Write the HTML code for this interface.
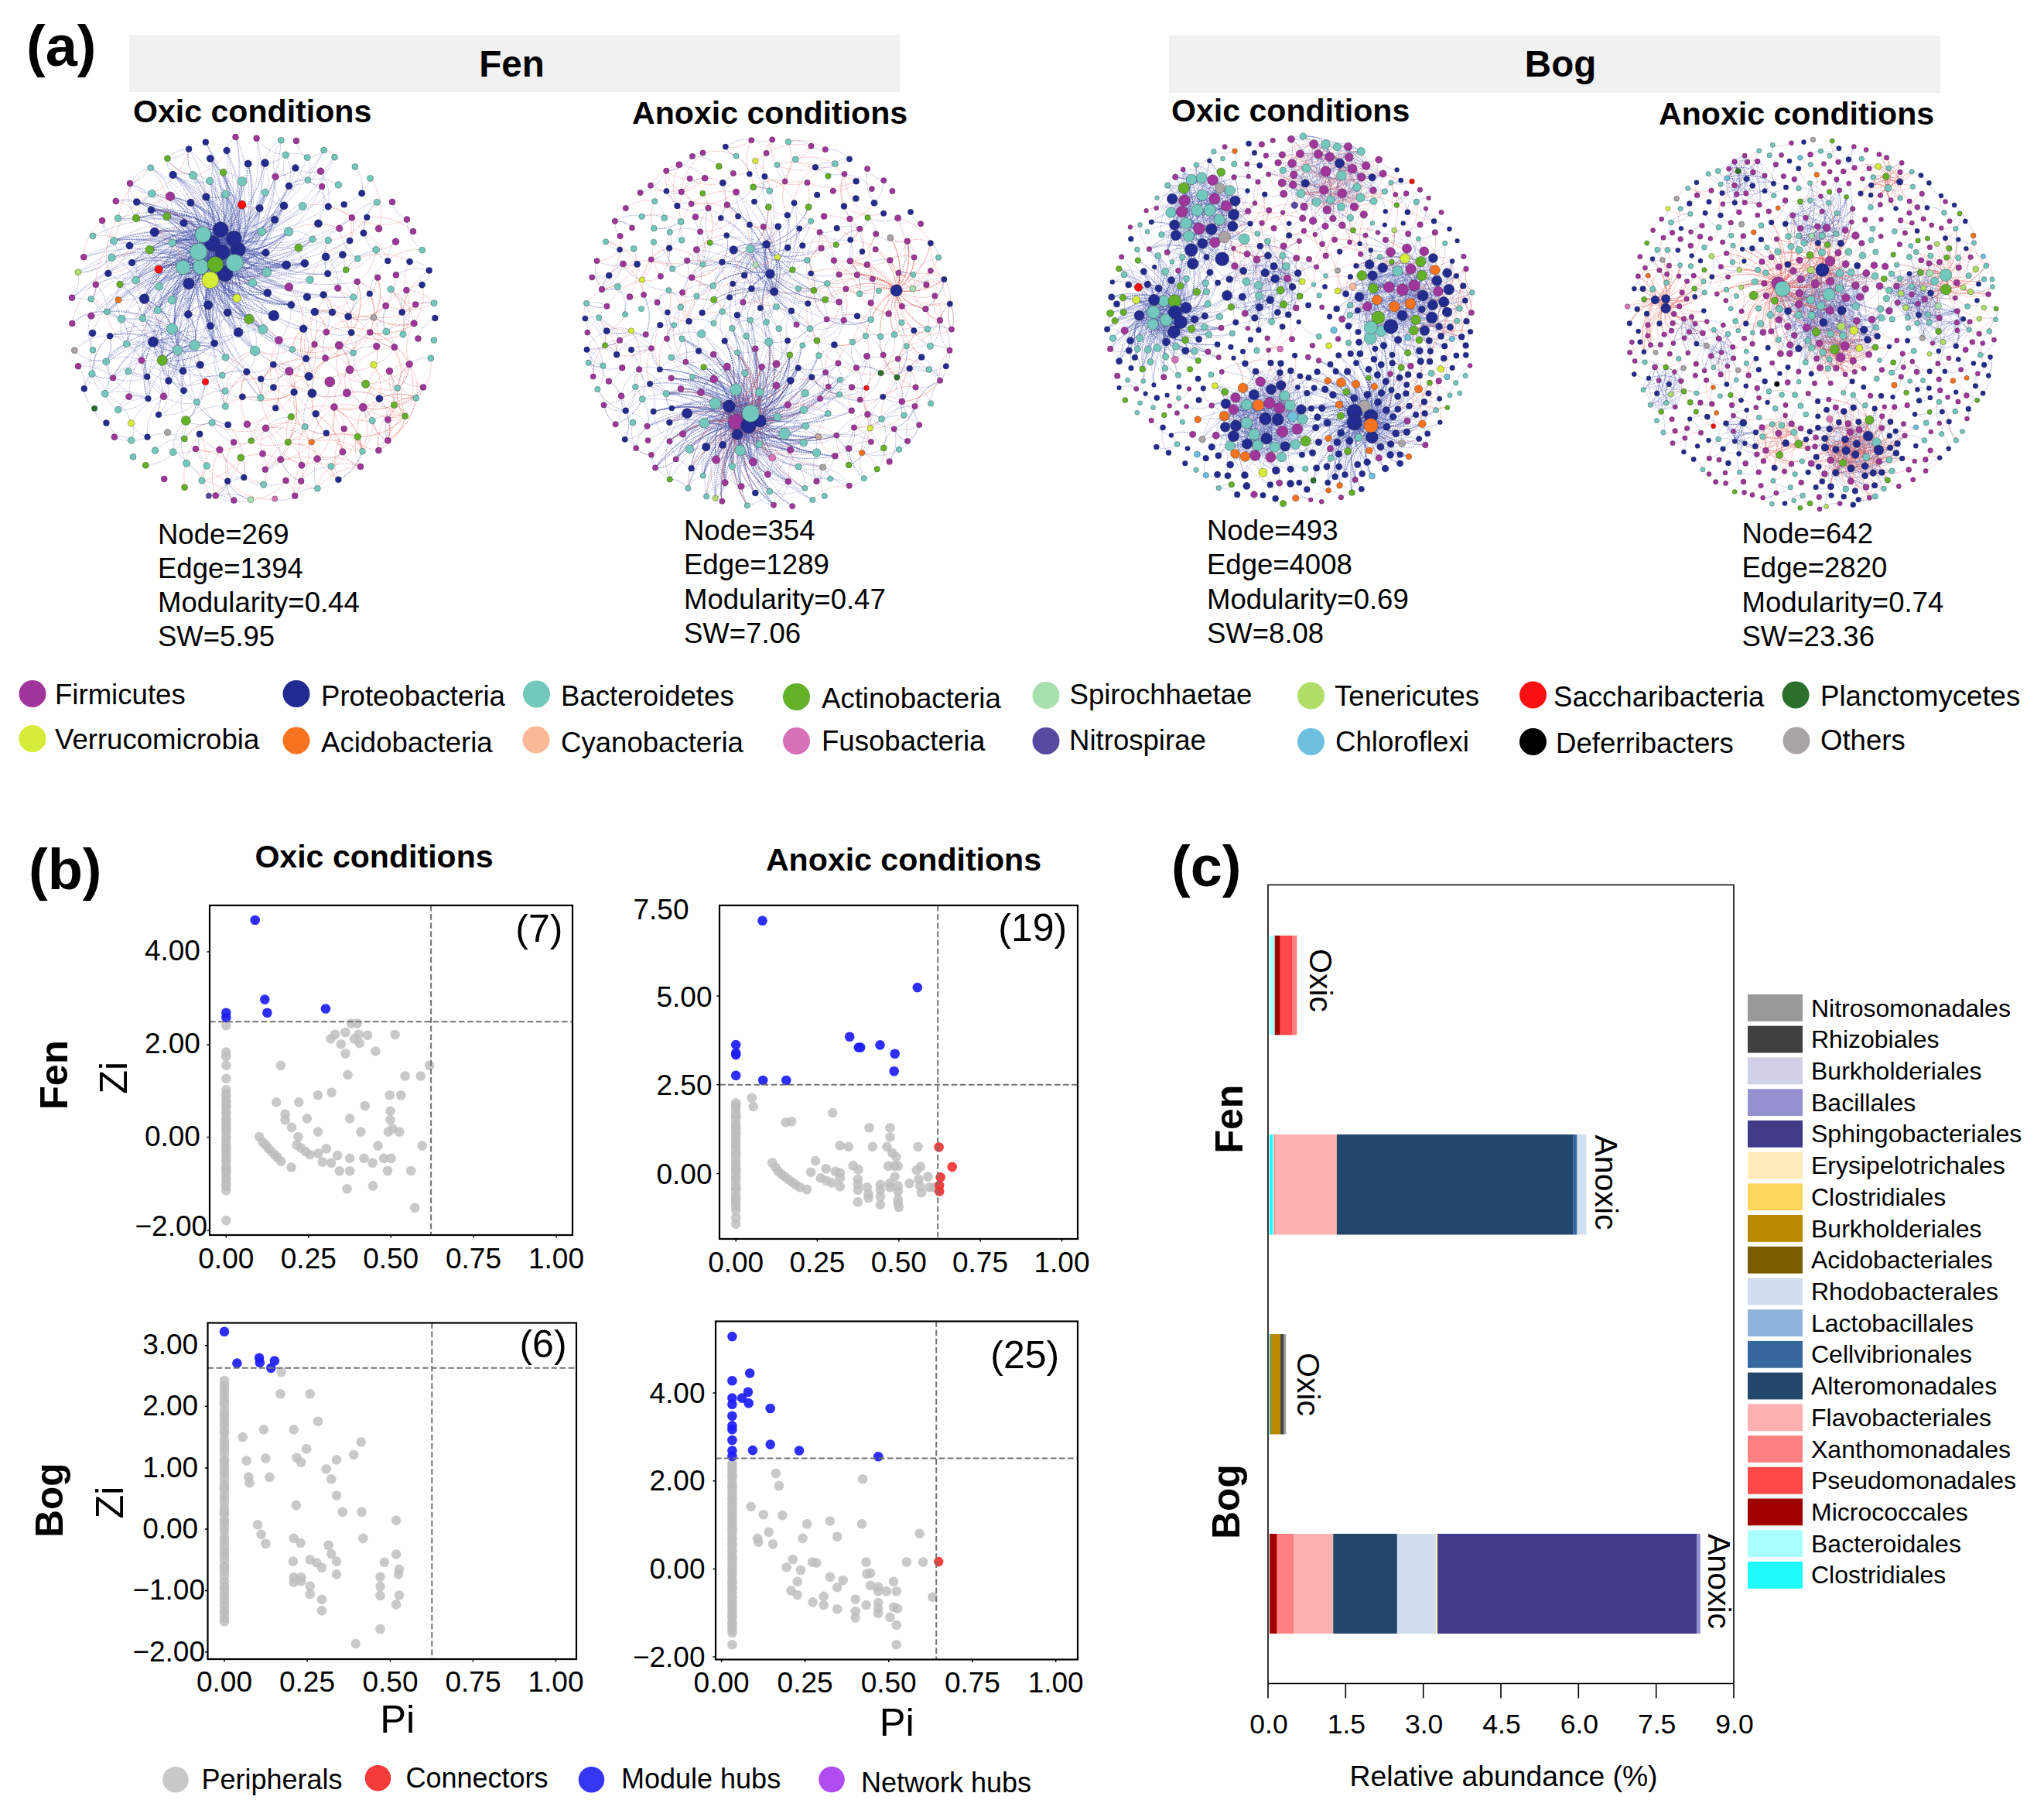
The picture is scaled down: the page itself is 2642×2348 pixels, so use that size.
<!DOCTYPE html>
<html><head><meta charset="utf-8"><title>Figure</title>
<style>
html,body{margin:0;padding:0;background:#fff;}
body{width:2642px;height:2348px;overflow:hidden;}
svg{display:block;font-family:"Liberation Sans", sans-serif;}
text{font-family:"Liberation Sans", sans-serif;}
</style></head><body>
<svg width="2642" height="2348" viewBox="0 0 2642 2348">
<rect width="2642" height="2348" fill="#fff"/>
<text x="34" y="85" font-size="74" font-weight="bold">(a)</text>
<rect x="167.0" y="45.0" width="996.0" height="74.0" fill="#f1f1f1" />
<rect x="1511.0" y="46.0" width="997.0" height="74.0" fill="#f1f1f1" />
<text x="661.5" y="99" font-size="47.5" font-weight="bold" text-anchor="middle">Fen</text>
<text x="2017" y="99.3" font-size="47.5" font-weight="bold" text-anchor="middle">Bog</text>
<text x="172" y="157.5" font-size="41.1" font-weight="bold">Oxic conditions</text>
<text x="817" y="159.5" font-size="41.1" font-weight="bold">Anoxic conditions</text>
<text x="1514" y="157" font-size="41.1" font-weight="bold">Oxic conditions</text>
<text x="2144" y="160.5" font-size="41.1" font-weight="bold">Anoxic conditions</text>
<text x="204" y="702.5" font-size="36.5">Node=269</text>
<text x="204" y="746.8" font-size="36.5">Edge=1394</text>
<text x="204" y="791.1" font-size="36.5">Modularity=0.44</text>
<text x="204" y="835.4" font-size="36.5">SW=5.95</text>
<text x="884" y="698.0" font-size="36.5">Node=354</text>
<text x="884" y="742.3" font-size="36.5">Edge=1289</text>
<text x="884" y="786.6" font-size="36.5">Modularity=0.47</text>
<text x="884" y="830.9" font-size="36.5">SW=7.06</text>
<text x="1560" y="698.0" font-size="36.5">Node=493</text>
<text x="1560" y="742.3" font-size="36.5">Edge=4008</text>
<text x="1560" y="786.6" font-size="36.5">Modularity=0.69</text>
<text x="1560" y="830.9" font-size="36.5">SW=8.08</text>
<text x="2251.5" y="702.0" font-size="36.5">Node=642</text>
<text x="2251.5" y="746.3" font-size="36.5">Edge=2820</text>
<text x="2251.5" y="790.6" font-size="36.5">Modularity=0.74</text>
<text x="2251.5" y="834.9" font-size="36.5">SW=23.36</text>
<circle cx="42.0" cy="896.5" r="17.5" fill="#a0369b" />
<text x="71" y="910" font-size="36.6">Firmicutes</text>
<circle cx="383.0" cy="896.5" r="17.5" fill="#222b8f" />
<text x="415" y="912" font-size="36.6">Proteobacteria</text>
<circle cx="693.5" cy="897.0" r="17.5" fill="#72c8bd" />
<text x="725" y="912" font-size="36.6">Bacteroidetes</text>
<circle cx="1029.5" cy="900.5" r="17.5" fill="#63b127" />
<text x="1062" y="914.5" font-size="36.6">Actinobacteria</text>
<circle cx="1352.0" cy="898.5" r="17.5" fill="#a8e0b0" />
<text x="1382.5" y="909.5" font-size="36.6">Spirochhaetae</text>
<circle cx="1694.5" cy="899.0" r="17.5" fill="#b0dd68" />
<text x="1725" y="912" font-size="36.6">Tenericutes</text>
<circle cx="1981.5" cy="898.0" r="17.5" fill="#fa1010" />
<text x="2008" y="912.5" font-size="36.6">Saccharibacteria</text>
<circle cx="2321.0" cy="898.0" r="17.5" fill="#2a6f2a" />
<text x="2353" y="911.5" font-size="36.6">Planctomycetes</text>
<circle cx="42.0" cy="954.5" r="17.5" fill="#d6ec38" />
<text x="71" y="968" font-size="36.6">Verrucomicrobia</text>
<circle cx="383.0" cy="957.0" r="17.5" fill="#f77320" />
<text x="415" y="971.5" font-size="36.6">Acidobacteria</text>
<circle cx="693.0" cy="956.0" r="17.5" fill="#fbb896" />
<text x="725" y="971.5" font-size="36.6">Cyanobacteria</text>
<circle cx="1029.5" cy="957.5" r="17.5" fill="#d772b8" />
<text x="1062" y="970" font-size="36.6">Fusobacteria</text>
<circle cx="1352.0" cy="957.5" r="17.5" fill="#564aa0" />
<text x="1382" y="969" font-size="36.6">Nitrospirae</text>
<circle cx="1694.5" cy="958.5" r="17.5" fill="#6cc0de" />
<text x="1726" y="971" font-size="36.6">Chloroflexi</text>
<circle cx="1981.5" cy="958.5" r="17.5" fill="#000000" />
<text x="2011" y="973" font-size="36.6">Deferribacters</text>
<circle cx="2322.0" cy="957.0" r="17.5" fill="#aaa4a4" />
<text x="2353" y="969" font-size="36.6">Others</text>
<path d="M303 340q0 51 37 86M257 325q41-18 56-61M275 315q-12 23-3 47M302 308q-51 36-59 98M262 303q41-23 51-69M285 297q18 40 60 54M302 308q-19 12-24 34M302 308q-72-13-131 31M278 342q-7-13-21-17M259 345q-10 41 13 76M288 326q-30-2-51 19M288 326q-19 3-29 19M291 354q46-64 30-142M257 325q-52-31-110-14M288 326q-9 6-10 16M275 315q33 62 101 79M285 297q-13 21-7 45M259 345q37-40 33-94M291 354q-47-11-86 16M262 303q-9-13-25-15M302 308q-27 20-30 54M308 323q-55 49-56 123M275 315q9-32-9-61M272 362q-10-53-56-82M262 303q-30-15-62-3M257 325q-31 0-52 23M272 362q3 42 36 68M278 342q-33-63-101-81M259 345q23 7 44-5M291 354q-25-16-54-9M288 326q4 10 15 14M291 354q-66 5-107 57M308 323q38 2 65-24M272 362q14 36 50 50M259 345q17 47 63 67M308 323q26-21 28-54M257 325q41-18 56-61M303 340q-32 59-11 122M259 345q55-21 77-76M308 323q38 2 65-24M303 340q-11-52-57-78M302 308q-7 16 1 32M259 345q51-44 54-111M257 325q77-17 116-85M288 326q-16 14-16 36M308 323q-69-34-141-6M262 303q13 2 23-6M257 325q-49 0-82 37M259 345q-28 13-37 43M288 326q50 30 106 14M275 315q-60 16-89 71M275 315q-26-12-52-1M303 340q-23-61-83-86M308 323q-45-51-112-52M302 308q-45-42-106-37M259 345q-11-23-36-31M303 340q-34-31-80-26M272 362q11 0 19-8M262 303q35 30 81 24M303 340q-8-19-28-25M303 340q-9 4-12 14M272 362q-30-61-96-80M285 297q0-26-19-43M308 323q-41-23-85-9M308 323q42-16 59-57M308 323q-19 3-30 19M278 342q38 48 98 52M302 308q-41 4-65 37M288 326q52-46 54-115M257 325q19 69 83 101M275 315q49-18 68-66M262 303q52-9 81-54M291 354q42 11 79-12M257 325q-16 18-13 42M285 297q7-35-14-63M291 354q-37-72-114-93M303 340q-51 6-81 48M291 354q5-15-3-28M291 354q-57-34-120-15M259 345q-32 1-54 25M272 362q39 11 73-11M272 362q-45-34-101-23M308 323q-19 3-30 19M272 362q-16 42 5 82M257 325q26 1 45-17M259 345q-43-22-88-6M275 315q-30-39-79-44M303 340q-13-4-25 2M308 323q-19 3-30 19M259 345q80 14 145-36M278 342q13-21 7-45M259 345q69 27 135-5M259 345q-46 4-73 41M291 354q-42 2-69 34M303 340q44 33 98 22M278 342q57-1 95-43M262 303q56 22 111-4M278 342q11-64-28-115M302 308q32 0 53-24M285 297q24 69 91 97M285 297q57 32 119 12M288 326q-47 16-66 62M302 308q-40 50-30 113M291 354q46-64 30-142M302 308q-82 26-118 103M275 315q16-41-4-81M272 362q69-27 95-96M308 323q-15-11-33-8M285 297q-52 32-63 91M262 303q-22 16-25 42M262 303q-49 68-32 150M272 362q-25-71-95-101M308 323q-29 0-49 22M308 323q12 22 37 28M303 340q-23-7-44 5M291 354q-14-66-71-100M257 325q44 61 119 69M275 315q2 59 47 97M285 297q-2-43-35-70M303 340q14-47-11-89M259 345q3 11 13 17M278 342q-48 45-48 111M308 323q-58-25-115 0M291 354q46-64 30-142M308 323q15-28 5-59M291 354q-8 42 17 76M308 323q-15-11-33-8M285 297q26 13 53 2M285 297q-52 32-63 91M259 345q56 23 111-3M302 308q22-35 11-74M302 308q-30 9-43 37M275 315q-34-24-75-15M291 354q10-30-6-57M278 342q19-3 30-19M285 297q-15-49-61-71M288 326q-47-22-95-3M302 308q22 47 71 63M275 315q8 19 28 25M308 323q8-67-36-118M262 303q35 30 81 24M278 342q-1-70-54-116M275 315q-60 2-100 47M285 297q-51-31-109-15M288 326q29 53 88 68M291 354q-63-53-144-43M257 325q13 58 65 87M303 340q7-16-1-32M302 308q-40 50-30 113M302 308q-30 9-43 37M257 325q57-42 64-113M262 303q-10-34-42-49M278 342q-21-26-55-28M291 354q-12-45-54-66M291 354q47-21 64-70M275 315q54 39 119 25M262 303q-49 68-32 150M291 354q22 25 55 25M308 323q-42 54-31 121M291 354q28 10 54-3M275 315q9-7 10-18M278 342q-7-13-21-17M272 362q1-22-15-37M262 303q58 48 132 37M257 325q30 63 97 83M272 362q-31-37-79-39M285 297q-63-37-132-15M272 362q-16 42 5 82M303 340q22-36 10-76M257 325q-42 58-27 128M278 342q-17-45-62-62M308 323q-40-5-71 22M272 362q-25-71-95-101M308 323q-40 41-36 98M285 297q45 45 109 43M302 308q-35 36-33 86M278 342q13-21 7-45M259 345q24-44 7-91M308 323q-75 5-122 63M302 308q-6-35-36-54M285 297q0 25 18 43M262 303q-26-31-66-32M259 345q2-33-22-57M275 315q-50 44-52 110M262 303q-51 36-58 98M288 326q-28 69 4 136M257 325q18-51-7-98M308 323q-42 54-31 121M302 308q-16 21-11 46M288 326q15 56 66 82M262 303q13 2 23-6M278 342q61-18 89-76M272 362q-24 16-29 44M275 315q-6-56-51-89M257 325q-14 51 15 96M278 342q2-47-32-80M275 315q23-28 17-64M272 362q27-20 30-54M303 340q-51 6-81 48M272 362q66 16 122-22M272 362q33 25 74 17M288 326q23-51 1-103M278 342q-21-26-55-28M278 342q-50 13-74 59M288 326q-4 33 18 59M259 345q3-10-2-20M308 323q-78-41-161-12M272 362q-10-53-56-82M262 303q19 11 40 5M259 345q51 38 114 26M291 354q1 19 15 31M272 362q27-12 36-39M278 342q27-70-6-137M278 342q13 56 62 84M257 325q-19-40-61-54M303 340q-13-4-25 2M291 354q66 2 113-45M308 323q-29-54-88-69M308 323q-29 0-49 22M259 345q-28-10-54 3M291 354q-54 4-87 47M259 345q15 30 47 40M275 315q69 1 116-49M308 323q-28-33-71-35M285 297q47-30 57-86M308 323q40 16 78-3M257 325q-36 11-52 45M308 323q7 36 38 56M262 303q4 51 44 82M288 326q48 5 85-27M257 325q1 48 37 79M278 342q-1-70-54-116M278 342q-10-3-19 3M302 308q-27 20-30 54M291 354q53-9 82-55M302 308q-57-41-126-26M257 325q20-34 9-71M302 308q-62 10-97 62M278 342q4 9 13 12M303 340q-35 1-59 27M257 325q5-57-33-99M275 315q4 8 13 11M257 325q46 5 81-26M308 323q-51 27-65 83M308 323q-40 41-36 98M259 345q-32 1-54 25M291 354q-47-11-86 16M288 326q-19 3-29 19M262 303q25 56 84 76M259 345q15 30 47 40M303 340q-59 25-80 85M302 308q16 19 41 19M275 315q-26 7-38 30M291 354q28 10 54-3M302 308q42-7 65-42M275 315q-42 1-70 33M262 303q4 51 44 82M285 297q-45 45-42 109M257 325q15 7 31 1M285 297q18 40 60 54M285 297q45 45 109 43M257 325q26 1 45-17M275 315q-15 11-16 30M259 345q-28-10-54 3M302 308q-11 6-14 18M259 345q-28-50-83-63M308 323q12-54-19-100M278 342q36 7 65-15M257 325q46 5 81-26M285 297q-66-4-114 42M288 326q-59-31-121-9M302 308q-30 9-43 37M308 323q-28-33-71-35M308 323q-45-51-112-52M303 340q-14-74-79-114M288 326q-4 33 18 59M303 340q-17 46 5 90M308 323q-42 8-64 44M262 303q8 17 26 23M272 362q-3-11-13-17M262 303q-10-34-42-49M272 362q-13 30 0 59M308 323q-45-51-112-52M291 354q16-21 11-46M291 354q34 39 85 40M275 315q-24 77 17 147M262 303q44-1 74-34M272 362q-14-16-35-17M257 325q30 63 97 83M288 326q12-50-17-92M275 315q15 36 52 50M259 345q10 3 19-3M308 323q8-67-36-118M257 325q57-42 64-113M259 345q14 12 32 9M275 315q31 21 68 12M259 345q61-9 96-61M259 345q-46 4-73 41M291 354q1 19 15 31M272 362q21-55-6-108M262 303q45 43 108 39M272 362q-13 30 0 59M291 354q10-56-25-100M278 342q2-47-32-80M303 340q32-28 33-71M275 315q-30-39-79-44M259 345q71-16 108-79M272 362q33 25 74 17M302 308q39 36 92 32M302 308q-41-14-79 6M285 297q48 3 82-31M302 308q8-58-30-103M302 308q0 9 6 15M288 326q5-15-3-29M285 297q-24 18-26 48M302 308q27 32 68 34M278 342q-38 11-56 46M302 308q-29-45-82-54M275 315q-42-38-99-33M285 297q-19 55 9 107M288 326q50 19 98-6M259 345q-55-31-115-12M262 303q4 9 13 12M272 362q1-22-15-37M272 362q27 58 88 78M262 303q-2-47-38-77M288 326q-54 35-65 99M259 345q50-6 79-46M285 297q-5 15 3 29M291 354q57-27 76-88M308 323q-75-10-133 39M288 326q48 5 85-27M291 354q36-17 47-55M278 342q-7-13-21-17M262 303q19 20 46 20M288 326q-16 14-16 36M302 308q-72-13-131 31M259 345q19-3 29-19M285 297q-22-15-48-9M285 297q-31-24-69-17M308 323q-35 27-39 71M275 315q7-50-25-88M308 323q-18-44-62-61M259 345q51-44 54-111M257 325q-14 6-20 20M291 354q28 10 54-3M302 308q-7 16 1 32M275 315q60-26 81-87M262 303q-10-34-42-49M288 326q29 53 88 68M262 303q-32 47-19 103M285 297q21-10 28-33M302 308q-11 6-14 18M262 303q3 32 29 51M303 340q6-7 5-17M278 342q41 35 95 29M272 362q1-22-15-37M302 308q-13 56 20 104M259 345q29 0 49-22M262 303q25 56 84 76M308 323q15-28 5-59M272 362q42-40 41-98M288 326q53-13 79-60M288 326q11 28 39 39M308 323q-6-18-23-26M278 342q-25-54-82-71M291 354q5-15-3-28M288 326q-38-32-88-26M288 326q15 56 66 82M259 345q23 7 44-5M285 297q-18 72 23 133M259 345q63-30 84-96M302 308q-19 12-24 34M285 297q48 3 82-31M288 326q11-6 14-18M257 325q68-5 110-59M259 345q-43-22-88-6M262 303q35 30 81 24M259 345q63-30 84-96M285 297q-51-31-109-15M308 323q-19 3-30 19M288 326q-58 19-84 75M272 362q8-32-10-59M303 340q-34-31-80-26M303 340q51-44 53-112M278 342q-59-44-131-31M272 362q27-20 30-54M262 303q-26-31-66-32M308 323q-69 16-104 78M257 325q27-42 14-91M285 297q21-10 28-33M291 354q60-49 65-126M259 345q45-29 54-81M262 303q4 51 44 82M275 315q7-50-25-88M302 308q-68 57-72 145M288 326q-5 15 3 28M291 354q3 36 31 58M308 323q-41-23-85-9M259 345q80-27 114-105M308 323q-57-10-103 25M275 315q-1 23 16 39M308 323q-6 7-5 17M308 323q-40-5-71 22M303 340q-19 30-9 64M272 362q-30-61-96-80M259 345q56 23 111-3M259 345q12-44-13-83M257 325q68-38 85-114M302 308q31 59 95 76M302 308q4 61 52 100M278 342q35-31 35-78M303 340q-20 4-31 22M262 303q-26-31-66-32M288 326q-54 35-65 99M285 297q-35-5-62 17M257 325q52-11 79-56M291 354q-11 0-19 8M278 342q4 9 13 12M278 342q-50 13-74 59M262 303q-68 8-107 64M275 315q-54-23-108 2M303 340q-22-41-66-52M303 340q-4-10-15-14M302 308q1-44-31-74M262 303q6 68 60 109M272 362q-9 15-3 32M272 362q-13 30 0 59M291 354q-42-22-86-6M257 325q-2-23-20-37M291 354q-35 15-48 52M285 297q-19 55 9 107M291 354q-3-32-29-51M275 315q-1 23 16 39M257 325q53 33 113 17M303 340q19-62-14-117M288 326q-31 11-44 41M291 354q-4-9-13-12M291 354q53 28 110 8M262 303q13 2 23-6M308 323q7 36 38 56M259 345q-23-60-82-84M308 323q-7 59 32 103M291 354q16-21 11-46M308 323q8-67-36-118M288 326q-34-48-92-55M303 340q25 43 73 54M259 345q12-44-13-83M308 323q-7 59 32 103M275 315q-60 16-89 71M303 340q13 29 43 39M291 354q-11-22-34-29M288 326q23 25 57 25M285 297q-12 88 45 156M302 308q-40 50-30 113M257 325q20 18 46 15M303 340q14-47-11-89M303 340q-4-10-15-14M259 345q-28-10-54 3M308 323q-41-23-85-9M303 340q-51-18-98 8M308 323q-49-35-108-23M272 362q64-9 101-63M257 325q38 32 88 26M308 323q22 38 65 48M262 303q34-8 51-39M262 303q-49 68-32 150M285 297q-12-26-39-35M259 345q80-27 114-105M288 326q50 30 106 14M262 303q-6 58 32 101M303 340q46 20 91 0M302 308q4 61 52 100M288 326q23 25 57 25M308 323q-41-23-85-9M291 354q-34-47-91-54M259 345q3 11 13 17M259 345q-46-10-84 17M285 297q-52-7-92 26M285 297q-66-4-114 42M285 297q-23-36-65-43M259 345q-6 27 10 49M291 354q-66 5-107 57M259 345q15-11 16-30M308 323q-19-20-46-20M285 297q-69 8-110 65M262 303q45 43 108 39M291 354q-10 26 3 50M291 354q-42-22-86-6M278 342q-21-8-41 3M262 303q19 11 40 5M288 326q-47 16-66 62M262 303q12 79 78 123M272 362q21-30 13-65M291 354q1-23-16-39M288 326q-5 15 3 28M272 362q11 0 19-8M291 354q-50 21-68 71M272 362q-38 21-49 63M272 362q-24 16-29 44M259 345q-13 53 18 99M259 345q15 30 47 40M262 303q-22-3-39 11M278 342q-22 5-34 25M275 315q37 50 98 56M288 326q48 5 85-27M291 354q47-21 64-70M275 315q-4 14 3 27M303 340q14-47-11-89M308 323q-8-61-58-96M259 345q80-27 114-105M288 326q37 26 82 16M262 303q25 56 84 76M308 323q39 27 86 17M288 326q37 26 82 16M272 362q14 36 50 50M272 362q34-51 20-111M308 323q-65 32-85 102M278 342q5 28 28 43M275 315q54 39 119 25M257 325q64 13 116-26M272 362q-31-37-79-39M291 354q22 25 55 25M308 323q22 38 65 48M278 342q-46 29-55 83M308 323q-18-44-62-61M257 325q-14 51 15 96M303 340q-20 4-31 22M308 323q-81 17-124 88M278 342q9-6 10-16M302 308q-35 36-33 86M275 315q-43-14-82 8M262 303q-18-22-46-23M285 297q-9 49 21 88M302 308q-19 12-24 34M308 323q31-53 13-111M291 354q-23 54 1 108M272 362q-31 2-50 26M303 340q-69-17-128 22M259 345q29 0 49-22M257 325q43 20 86 2M288 326q-47 16-66 62M259 345q-28-10-54 3M288 326q-5 15 3 28M257 325q43 20 86 2M262 303q73 10 129-37M272 362q12-23 3-47M262 303q-21 61 10 118M302 308q-27 20-30 54M272 362q9-56-26-100M285 297q-24 18-26 48M302 308q-42 17-58 59M259 345q48 50 117 49M262 303q-63 37-78 108M272 362q-55 5-88 49M288 326q-34-48-92-55M272 362q-22-47-72-62M257 325q-3 10 2 20M275 315q2 59 47 97M278 342q-16 24-9 52M257 325q-55 27-73 86M302 308q-58 22-80 80M291 354q1-23-16-39M303 340q0 51 37 86M259 345q-21 27-16 61M272 362q9 58 58 91M262 303q56 22 111-4M308 323q-19-20-46-20M257 325q34-57 15-120M278 342q19-12 24-34M262 303q-56 25-76 83M303 340q27-13 35-41M278 342q-32 24-35 64M288 326q-34-48-92-55M302 308q-26-1-45 17M308 323q20-5 30-24M302 308q-51 36-59 98M308 323q-25 37-14 81M257 325q26 1 45-17M302 308q-51 36-59 98M308 323q-45-51-112-52M302 308q16 19 41 19M272 362q43-2 71-35M275 315q-71 0-120 52M291 354q9-4 12-14M272 362q-16 42 5 82M275 315q15 81 85 125M302 308q-45-42-106-37M259 345q-46-10-84 17M302 308q6 45 44 71M259 345q-43-22-88-6M285 297q18-36 4-74M278 342q9-6 10-16M272 362q42-40 41-98M272 362q-25-71-95-101M257 325q-14 6-20 20M278 342q-7 9-6 20M303 340q19 15 42 11M275 315q9-32-9-61M259 345q-55-31-115-12M262 303q3 32 29 51M257 325q8-34-11-63M259 345q36 36 87 34M272 362q-30-22-67-14M259 345q30 25 68 20M302 308q-51 36-59 98M302 308q16 19 41 19M302 308q-42 62-25 136M303 340q6 18 24 25M308 323q-6-44-42-69M308 323q-13 48 14 89M278 342q53-32 65-93M302 308q-41 4-65 37M303 340q-14-74-79-114M275 315q-63-30-128-4M262 303q-8 32 10 59M303 340q-51 6-81 48M278 342q-46 29-55 83M308 323q-19-20-46-20M285 297q-5 15 3 29M275 315q-4 14 3 27M278 342q19-3 30-19M262 303q-56 25-76 83M308 323q-41-23-85-9M278 342q-50-37-111-25M303 340q-63 9-99 61M302 308q12 31 43 43M285 297q-21 30-13 65M257 325q20 18 46 15M257 325q-3-44-37-71M291 354q-11-22-34-29M275 315q-34-24-75-15M257 325q-3 10 2 20M308 323q-29 0-49 22M272 362q14 36 50 50M275 315q57-4 92-49M288 326q-5 15 3 28M285 297q14-21 7-46M257 325q11 22 34 29M262 303q70 34 142 6M302 308q33-20 41-59M272 362q-31 2-50 26M288 326q-46-47-112-44M303 340q7-60-32-106M278 342q-7-13-21-17M291 354q-2 58 39 99M302 308q-41-14-79 6M288 326q-2 50 34 86M259 345q14 12 32 9M285 297q33 41 85 45M275 315q-1 23 16 39M288 326q5-15-3-29M303 340q-8 23 3 45M259 345q34 52 95 63M257 325q-3 10 2 20M275 315q31 21 68 12M257 325q-16 18-13 42M275 315q35 6 63-16M262 303q-24 74 15 141M285 297q-20 8-28 28M272 362q-9 15-3 32M302 308q-15 39 4 77M259 345q34 52 95 63M275 315q-9 65 33 115M303 340q-30-49-87-60M272 362q-30-22-67-14M288 326q-29 44-16 95M303 340q-34-12-66 5M302 308q-6-9-17-11M257 325q11-1 18-10M303 340q-51 6-81 48M288 326q27 13 55 1M308 323q-29 0-49 22M291 354q22 25 55 25M285 297q-36 26-41 70M259 345q19-3 29-19M275 315q-25-50-79-65M262 303q31-34 27-80M288 326q-30-2-51 19M285 297q-22-15-48-9M285 297q-66-4-114 42M285 297q-24 18-26 48M259 345q2-33-22-57M272 362q43-2 71-35M302 308q-15-2-27 7M272 362q64-9 101-63M262 303q4 51 44 82M291 354q-63-53-144-43M288 326q18-37 4-75M288 326q4 61 52 100M285 297q28-25 28-63M259 345q48 50 117 49M303 340q-63 9-99 61M275 315q-1 23 16 39M275 315q-22-30-59-35M291 354q55 16 103-14M259 345q3-10-2-20M275 315q4 8 13 11M303 340q-80-19-148 27M285 297q-52-7-92 26M303 340q-51-18-98 8M302 308q27 32 68 34M302 308q-19-11-40-5M302 308q27 32 68 34M272 362q12-23 3-47M308 323q-51 27-65 83M262 303q-38-29-86-21M291 354q34 39 85 40M285 297q-29 45-16 97M278 342q5 28 28 43M272 362q-14-35-49-48M303 340q38-17 52-56M272 362q1-22-15-37M285 297q-72-23-138 14M257 325q-52-31-110-14M259 345q-28 13-37 43M303 340q-11-52-57-78M278 342q32 19 67 9M272 362q-2-65-52-108M278 342q-23 51-1 102M303 340q-4-10-15-14M285 297q-52-7-92 26M259 345q11-20 3-42M275 315q19 64 79 93M302 308q-24 62 6 122M272 362q35-78 0-157M285 297q40-11 58-48M303 340q-4-10-15-14M278 342q4 9 13 12M257 325q48-33 56-91M278 342q5 28 28 43M308 323q32-9 47-39M259 345q-40 16-55 56M272 362q-13 30 0 59M308 323q-15 12-17 31M285 297q-51-31-109-15M302 308q16 19 41 19M291 354q10-56-25-100M272 362q27-12 36-39M262 303q-17 47 7 91M302 308q16 19 41 19M308 323q-57 14-86 65M308 323q-65 32-85 102M291 354q9-4 12-14M285 297q0-26-19-43M257 325q53 33 113 17M278 342q-9-36-41-54M288 326q11-6 14-18M257 325q15 7 31 1M278 342q-30-38-78-42M257 325q-3-44-37-71M302 308q-49-26-102-8M302 308q-30 9-43 37M257 325q-43 26-53 76M278 342q-22 5-34 25M308 323q-40-5-71 22M291 354q32-2 52-27M291 354q16-21 11-46M262 303q19 45 65 62M257 325q-43 26-53 76M291 354q55 4 95-34M275 315q2 59 47 97M262 303q41 58 111 68M285 297q-9 7-10 18M288 326q-10-64-64-100M291 354q10-30-6-57M285 297q51-19 71-69M291 354q-11 0-19 8M272 362q-45-34-101-23M308 323q-58-25-115 0M257 325q-31 24-35 63M308 323q15-28 5-59M288 326q-58 19-84 75M262 303q13 2 23-6M285 297q-69 23-99 89M302 308q-11 6-14 18M275 315q8 70 65 111M308 323q-26-10-51 2M259 345q23 58 81 81M272 362q-15-4-28 5M302 308q-57-1-97 40M275 315q15 36 52 50M262 303q4 51 44 82M262 303q13-24 4-49M303 340q-49 42-51 106M288 326q-76-9-133 41M262 303q-99 32-143 127M302 308q42-7 65-42M302 308q-15-2-27 7M259 345q-6 27 10 49M272 362q-65-13-119 26M262 303q19 90 98 137M303 340q50-74 29-161M275 315q76 75 182 69M302 308q-40-52-106-58M302 308q37 11 71-9M285 297q57 59 139 57M288 326q-110-13-195 59M303 340q-23 74 16 141M302 308q82 20 153-27M302 308q-106 56-136 172M308 323q8-40-16-72M303 340q-46-67-126-79M302 308q27 32 68 34M257 325q-55 46-59 117M275 315q-47 12-70 55M302 308q-75-1-127 54M302 308q-11 6-14 18M275 315q23-28 17-64M257 325q44 61 119 69M291 354q-42-37-98-31M272 362q28-64-1-128M288 326q53-13 79-60M285 297q-88 62-102 169M262 303q-11 20-3 42M272 362q69 42 146 19M303 340q78-25 113-99M288 326q-58 19-84 75M257 325q47-57 36-130M259 345q-11-5-22 0M303 340q-86-9-150 48M303 340q-78-38-159-7M262 303q-56 10-87 59M291 354q-87-51-183-22M308 323q-6-44-42-69M288 326q-41-57-111-65M262 303q-72-2-122 50M275 315q-43 75-16 157M272 362q-15-4-28 5M278 342q80 17 146-31M259 345q-15-51-63-74M262 303q-51-14-95 14M308 323q12 22 37 28M272 362q-67 32-89 104M262 303q102 6 175-64M302 308q-51 36-59 98M259 345q-20-35-59-45M308 323q-21-67-84-97M302 308q72-8 114-67M278 342q-21-8-41 3M288 326q-91-37-180 6M275 315q45-62 30-138M259 345q80 14 145-36M257 325q101 36 195-14M302 308q-49 96-11 197M278 342q-91-34-177 10M308 323q-29-54-88-69M285 297q-12-26-39-35M291 354q7-73-41-127M288 326q54-64 44-147M275 315q83 66 187 49M288 326q5-41-22-72M257 325q33 90 121 126M288 326q-92 6-150 77M275 315q-25-50-79-65M291 354q34 39 85 40M291 354q-54 51-54 125M291 354q-20 15-22 40M278 342q9-6 10-16M291 354q28 78 105 110M278 342q13 56 62 84M259 345q15 30 47 40M288 326q48 5 85-27M308 323q83 11 147-42M262 303q-4 110 75 187M272 362q81 18 149-30M262 303q-7 10-5 22M272 362q52-32 64-93M262 303q15-59-18-110M308 323q-75 5-122 63M262 303q12 28 41 37M259 345q28 93 115 135M278 342q80-40 104-125M303 340q37 43 94 44M285 297q36-56 20-120M262 303q61 73 156 78M272 362q-24-85-104-125M308 323q39 27 86 17M275 315q27-43 14-92M288 326q50 19 98-6M257 325q53 33 113 17M302 308q58-50 61-127M259 345q100-41 138-142M262 303q-62 70-52 163M262 303q20-33 9-69M288 326q-103 4-170 82M288 326q-71 20-104 85M262 303q-15-58-67-86M275 315q79 55 172 34M303 340q-96-5-165 63M272 362q-3 70 47 119M275 315q-60 16-89 71M278 342q2 67 52 111M291 354q25-90-25-170M262 303q19 45 65 62M308 323q-26-10-51 2M257 325q-25-64-89-88M288 326q-98-7-170 60M291 354q58 56 139 50M285 297q55 104 169 133M291 354q41-33 45-85M259 345q-52 35-61 97M259 345q80-27 114-105M285 297q-62 66-55 156M275 315q8 19 28 25M288 326q-31 57-11 118M302 308q-15 39 4 77M278 342q29-82-12-158M303 340q13 72 75 111M257 325q1 48 37 79M278 342q1-23-16-39M272 362q-13 30 0 59M262 303q34-8 51-39M262 303q-47-46-112-43M257 325q26 1 45-17M285 297q76 16 139-30M288 326q-2 50 34 86M308 323q-24 54 0 107M308 323q-78-41-161-12M303 340q-51-18-98 8M262 303q-38 10-57 45M259 345q36 79 119 106M303 340q-11 62 27 113M303 340q-47 90-12 185M278 342q-7 9-6 20M259 345q-6 27 10 49M285 297q-36 26-41 70M302 308q20-58-9-113M302 308q89-24 131-105M288 326q-10-64-64-100M285 297q-9 49 21 88M278 342q-4 51 30 88M303 340q14-47-11-89M285 297q66 38 139 14M259 345q-73 2-121 58M259 345q-46-10-84 17M285 297q-9 7-10 18M291 354q23-51 1-103M302 308q-95 20-145 104M291 354q-87-9-153 49M285 297q-24 18-26 48M257 325q-7-68-62-108M291 354q47-21 64-70M302 308q-58-16-109 15M302 308q51 50 122 46M257 325q-95-6-164 60M262 303q-9 122 75 211M285 297q-24 18-26 48M303 340q-86-9-150 48M278 342q78 3 133-53M275 315q-6-56-51-89M275 315q-95-20-174 37M257 325q-26-50-80-64M291 354q-63-53-144-43M259 345q96 32 184-16M272 362q-48-21-97 0M278 342q102 8 177-61M262 303q-22-3-39 11M303 340q-49 42-51 106M302 308q-82 26-118 103M262 303q80 83 195 81M291 354q36-79 2-159M303 340q33 16 67 2M257 325q2 64 51 105M272 362q21-55-6-108M257 325q39 100 139 139M275 315q-25 52-3 106M259 345q67 2 114-46M275 315q99-29 144-121M278 342q-56-13-103 20M257 325q-1 22 15 37M303 340q19 82 93 124M275 315q-43 25-53 73M272 362q36-90-6-178M272 362q47-79 21-167M257 325q-15-13-34-11M285 297q-69 8-110 65M303 340q27-13 35-41M288 326q54 70 142 78M259 345q28 93 115 135M259 345q3 11 13 17M288 326q43 65 119 77M259 345q9-67-35-119M262 303q102-20 157-109M275 315q-61 87-38 190M303 340q37-81 2-163M278 342q-49-58-125-60M288 326q23-51 1-103M262 303q-75 64-79 163M303 340q33 16 67 2M275 315q-42 1-70 33M262 303q-11 20-3 42M275 315q-60 16-89 71M262 303q12 79 78 123M259 345q5 37 35 59M278 342q-21-26-55-28M259 345q-28-10-54 3M278 342q53 75 144 87M275 315q-26-12-52-1M303 340q-22-41-66-52M262 303q-11 102 57 178M259 345q-28-26-66-22M257 325q-23-25-57-25M275 315q-13 113 62 199M308 323q-69 16-104 78M285 297q-84-32-165 8M291 354q-106-28-198 31M288 326q30 72 104 99M262 303q19 90 98 137M272 362q59-21 83-78M291 354q-98-11-173 54M302 308q38 49 99 54M303 340q-89 4-146 72M257 325q-73 40-93 120M308 323q-3-79-64-130M272 362q71-49 84-134M259 345q14 12 32 9M291 354q-14-12-32-9M285 297q-24 18-26 48M259 345q19-3 29-19M262 303q19 20 46 20M262 303q-8 32 10 59M259 345q24-18 26-48M303 340q-4-10-15-14M262 303q19 20 46 20M308 323q-11-3-20 3M275 315q4 8 13 11M272 362q7-9 6-20M275 315q4 8 13 11M291 354q-11 0-19 8M259 345q11-20 3-42M303 340q-20 4-31 22M302 308q-30 9-43 37M291 354q5-15-3-28M288 326q4 10 15 14M288 326q11-6 14-18M278 342q13 4 25-2M308 323q-26-10-51 2M259 345q23 7 44-5M302 308q-7 16 1 32M291 354q10-30-6-57M302 308q-26-1-45 17M275 315q-15 11-16 30M288 326q-9 6-10 16M291 354q9-4 12-14M288 326q-8-17-26-23M302 308q-19-11-40-5M288 326q-4-8-13-11M259 345q3-10-2-20M308 323q-6 7-5 17M257 325q7 13 21 17M272 362q27-12 36-39M275 315q9-7 10-18M278 342q4 9 13 12M272 362q1-22-15-37M303 340q-9 4-12 14M302 308q-7 16 1 32M257 325q26 10 51-2M308 323q-11-3-20 3M262 303q19 20 46 20M303 340q-20 4-31 22M288 326q-8-17-26-23M291 354q10-30-6-57M285 297q-13 21-7 45M272 362q16-14 16-36M259 345q3 11 13 17M308 323q-29 0-49 22M302 308q-27 20-30 54M302 308q-19 12-24 34M275 315q-1 23 16 39M288 326q-15-7-31-1M285 297q-10 30 6 57M288 326q-5 15 3 28M272 362q11 0 19-8M257 325q20 18 46 15M262 303q12 28 41 37M259 345q10 3 19-3M285 297q-5 15 3 29M275 315q8 19 28 25M302 308q-19-11-40-5M291 354q16-21 11-46M291 354q-11 0-19 8M302 308q0 9 6 15M262 303q19 20 46 20M302 308q-16 21-11 46M302 308q-27 20-30 54M303 340q0-25-18-43M272 362q27-12 36-39M291 354q5-15-3-28M308 323q-6 7-5 17M278 342q13-21 7-45M303 340q-13-4-25 2M278 342q9-6 10-16M257 325q11 22 34 29M259 345q29 0 49-22M275 315q15 2 27-7M291 354q-4-9-13-12M262 303q19 20 46 20M257 325q15 7 31 1M308 323q-6 7-5 17M302 308q-15-2-27 7M285 297q0 25 18 43M302 308q-19 12-24 34M303 340q-20-18-46-15M302 308q-26-1-45 17M275 315q8 19 28 25M278 342q-7-13-21-17M262 303q-7 10-5 22M272 362q21-30 13-65M278 342q4 9 13 12M257 325q26 1 45-17M303 340q-20 4-31 22M288 326q-16 14-16 36M278 342q-7 9-6 20M275 315q-11 1-18 10M262 303q-11 20-3 42M288 326q5-15-3-29M302 308q-11 6-14 18M303 340q-23-7-44 5M302 308q-27 20-30 54M288 326q-8-17-26-23M303 340q7-16-1-32M285 297q-10 30 6 57M272 362q11 0 19-8M291 354q10-30-6-57M288 326q-5 15 3 28M302 308q-19-11-40-5M275 315q4 8 13 11M223 425q25 9 49-4M198 442q-20 35-7 73M252 446q-13-1-22 7M230 453q44 6 78-23M210 466q-22-47-72-63M230 453q9 28 35 40M223 425q10 17 29 21M223 425q-52 15-77 63M210 466q34 26 77 19M252 446q-27 16-34 46M210 466q-1-15-12-24M210 466q23 14 49 6M198 442q11 51 56 78M223 425q8-19-1-37M252 446q7 38 39 59M198 442q14 13 32 11M252 446q-14-33-48-45M198 442q-14 21-8 45M223 425q-10-28-37-39M230 453q25 6 47-9M223 425q23 21 54 19M210 466q38 4 67-22M210 466q-2 15 8 26M252 446q-25 1-42 20M198 442q14 13 32 11M210 466q39-42 34-99M198 442q-14 21-8 45M198 442q-26-16-56-8M223 425q23 21 54 19M223 425q-16 3-25 17M210 466q-1-33-26-55M223 425q-10-28-37-39M230 453q-14-31-46-42M223 425q-52 2-86 42M210 466q30-23 33-60M252 446q-48-47-114-43M252 446q-15 37 2 74M230 453q43-10 64-49M210 466q56-13 84-62M252 446q13 4 25-2M252 446q-48-47-114-43M223 425q-36 38-32 90M252 446q-40-38-95-34M230 453q-14-13-32-11M210 466q-1-33-26-55M252 446q-40 7-62 41M223 425q-52 15-77 63M230 453q-27 8-40 34M198 442q46-8 71-48M223 425q-10-28-37-39M198 442q24-22 24-54M210 466q38 4 67-22M198 442q46-8 71-48M198 442q-20 35-7 73M210 466q11 12 27 13M210 466q30-23 33-60M230 453q-50-1-84 35M198 442q16-3 25-17M198 442q1 15 12 24M198 442q6 40 39 63M252 446q-25 1-42 20M252 446q-26-14-54-4M230 453q-40-29-88-19M198 442q26 14 54 4M252 446q-52-30-110-12M252 446q4-22-9-40M210 466q-37-3-64 22M230 453q13 1 22-7M230 453q-2-32-26-52M198 442q-13 9-15 24M198 442q-31 29-31 71M252 446q-20 26-15 59M252 446q20-22 17-52M210 466q-2 15 8 26M230 453q-14-31-46-42M223 425q41 21 85 5M252 446q32 4 56-16M198 442q-36-1-61 25M230 453q-13 2-20 13M230 453q-15 17-12 39M252 446q-62-15-115 21M230 453q-40-29-88-19M223 425q-52 2-86 42M223 425q-25 41-11 87M210 466q-1-33-26-55M223 425q-3 16 7 28M230 453q13 1 22-7M210 466q13-2 20-13M210 466q42 16 82-4M252 446q-20 26-15 59M252 446q-46 21-61 69M210 466q-22-47-72-63M210 466q-27-31-68-32M210 466q41-9 62-45M223 425q-3 16 7 28M252 446q-25 1-42 20M198 442q42 6 74-21M198 442q19-34 7-72M230 453q-31-19-66-8M223 425q-29 12-40 41M210 466q-1-15-12-24M252 446q4-22-9-40M230 453q-2 15 7 26M230 453q17-21 13-47M252 446q-2-36-30-58M198 442q-36 12-52 46M223 425q26 34 69 37M252 446q-43 35-47 90M223 425q-16 18-13 41M223 425q-11 43 14 80M198 442q14 13 32 11M223 425q-42-13-81 9M210 466q-18-21-46-21M230 453q-8 28 7 52M223 425q-10-28-37-39M198 442q0-19-14-31M223 425q-17 32-5 67M210 466q11 12 27 13M223 425q8 31 36 47M252 446q-4 26 13 47M252 446q-25 1-42 20M252 446q-26-14-54-4M230 453q25 6 47-9M198 442q16-3 25-17M210 466q6-45-24-80M210 466q38 4 67-22M210 466q6-45-24-80M198 442q11 27 39 37M223 425q-10-28-37-39M157 412q-4 18 7 33M205 536q28 3 49-16M252 446q16-8 20-25M146 488q17 23 45 27M136 509q-3-17-17-26M269 394q-7-19-25-27M272 421q1 25 20 41M240 544q12-9 14-24M164 445q-18 5-27 22M319 481q-17-5-32 4M222 388q-12 3-18 13M170 547q6 13 20 18M205 348q-12-24-38-31M292 462q-4-12-15-18M137 467q10-15 5-33M170 547q-9-26-34-38M306 385q2 17 16 27M237 479q-1 24 17 41M153 388q30 2 52-18M223 425q-5 30 14 54M184 411q-17 13-20 34M138 403q-26-2-45 15M137 467q10-15 5-33M269 394q-16 0-26 12M222 388q-8 19 1 37M308 430q9-23-2-45M306 385q8-23-3-45M212 512q19 13 42 8M205 370q4-26-12-47M291 505q9 9 22 8M291 525q-30-2-51 19M308 430q28-1 46-22M142 434q-22 19-23 49M212 512q-23 22-22 53M142 434q-22 19-23 49M269 394q-16 0-26 12M237 479q2-15-7-26M287 485q-29-1-50 20M137 467q-19-5-36 6M252 446q4-22-9-40M205 348q16-13 18-34M240 544q24-20 25-51M322 412q-11 6-14 18M184 411q-5-28-29-44M308 430q-12-27-39-36M237 479q13 1 22-7M155 367q-4-10-15-14M287 485q-24 10-33 35M259 345q29 0 49-22M138 403q11-4 15-15M138 403q-26-2-45 15M183 466q-1 12 7 21M183 466q4 29 29 46M204 401q-6-26-29-39M240 544q12-9 14-24M155 367q29 2 50-19M166 480q10 9 24 7M243 406q-11-26-38-36M146 488q-19-17-45-15M230 453q3-16-7-28M269 394q10 10 25 10M237 479q-12 2-19 13M119 483q-9 7-10 19M274 546q-23 3-36 21M137 467q18-5 27-22M292 462q9 15 27 19M292 462q-16-17-40-16M205 348q16-13 18-34M294 404q25-12 33-39M254 520q14 24 41 29M330 453q5-22-8-41M164 445q-18 5-27 22M175 362q-28 12-37 41M277 444q-25-6-47 9M319 481q2 20 18 33M164 445q4-18-7-33M254 520q14 24 41 29M119 483q12 8 27 5M186 386q13-4 19-16M240 544q-12 28 1 55M319 481q-24 16-28 44M155 367q-9 23 2 45M167 513q-11 5-14 17M274 546q10 6 21 3M240 544q17 8 34 2M175 362q-27-8-51 6M175 362q-9-21-31-29M291 505q-22-1-37 15M191 515q-12-6-24-2M259 345q14 12 32 9M319 481q19 2 34-10M265 493q10 12 26 12M119 483q12 8 27 5M291 505q-4 10 0 20M142 434q-27-1-46 19M166 480q12-3 17-14M138 403q-19-19-45-18M212 512q-16-26-46-32M243 406q9 26 34 38M212 512q-29 8-42 35M183 466q24 18 54 13M119 483q7-15 1-31M259 345q10 3 19-3M191 515q-26-15-55-6M190 487q-4-27-26-42M308 430q11-6 14-18M205 536q16-19 13-44M277 444q3-13-5-23M210 466q23 14 49 6M204 401q27-8 40-34M237 479q-11-27-39-37M240 544q-17 16-16 40M269 394q-16 0-26 12M212 512q-9 10-7 24M205 348q-18 0-30 14M222 388q28-13 37-43M184 411q-5-28-29-44M119 483q3 17 17 26M146 488q-10 8-10 21M101 352q26 0 43-19M486 323q-25 4-39 26M520 404q4 10 15 14M109 502q9-7 10-19M259 472q-2 12 6 21M343 327q-17-10-35-4M525 375q-9 13-5 29M289 223q3 26 24 41M294 404q12 10 28 8M262 303q4 9 13 12M196 250q-17 12-20 32M354 408q15 17 38 17M403 508q-14 20-9 43M230 453q-15 17-12 39M561 392q-12-4-24 2M153 282q24 4 43-11M481 544q4 17 20 25M168 237q-6 24 8 45M237 479q-20 11-25 33M191 515q6-14-1-28M223 314q0 19 14 31M138 403q21 14 46 8M218 492q23 11 47 1M363 594q7 20 26 28M343 249q-8 8-7 20M537 394q-16 15-16 38M373 240q25 0 41-19M547 500q-8 5-9 14M243 406q-17 21-13 47M292 251q-7-13-21-17M487 261q-17 16-17 40M457 384q-10-22-33-30M190 487q-6 14 1 28M437 372q1-24-16-40M315 617q-23 4-36 24M258 561q9 16 26 20M279 641q12-6 15-19M308 430q6 16 22 23M325 570q2-12-6-22M526 284q1 24 20 39M478 380q-20 8-28 29M302 647q-15-10-32-6M294 622q-2 14 8 25M487 448q-17-3-30 8M555 349q-23-6-43 6M520 404q-1-18-15-30M481 544q-9-25-33-36M433 203q-5-8-14-9M450 409q16 8 33 1M136 509q21-8 30-29M220 254q1 21 17 34M322 412q-12-10-28-8M138 403q11-4 15-15M132 285q2 16 15 26M363 594q7 20 26 28M343 607q22-12 29-36M355 645q14 4 26-4M216 280q-15-18-39-19M170 569q5-11 0-22M191 515q-22-1-38 15M313 264q-8-11-21-13M499 429q-4-13-16-19M294 622q-2 14 8 25M386 320q11-2 18-11M313 234q-10-11-24-11M398 233q-14-2-25 7M118 386q7-8 6-18M302 572q12 4 23-2M403 508q6-24-7-44M507 261q4 16 19 23M266 254q14 4 26-3M261 621q-5-15-20-22M399 486q-20-18-46-15M410 593q18 3 33-9M183 466q-5-15-19-21M396 464q7-20-4-39M292 462q-16-17-40-16M291 354q1 19 15 31M394 551q12 11 28 9M421 332q20-4 31-21M118 408q22-2 35-20M378 451q19 15 43 12M237 505q-7 20 3 39M437 620q24-12 31-37M424 267q-6-23-26-34M118 386q7-8 6-18M422 429q9-25-4-48M170 569q-10-7-22-4M155 367q11 16 31 19M313 264q5 23 25 35M216 205q12 18 34 22M136 509q4 14 17 21M212 512q-6-17-22-25M246 262q-10 11-9 26M271 234q-22-14-47-8M363 594q-1-25-20-41M445 264q24-10 34-34M308 323q0-9-6-15M237 479q2-15-7-26M356 228q-3 21 11 38M222 388q16-6 22-21M294 404q12 10 28 8M346 379q-13 22-6 47M369 200q-7 21 4 40M457 456q-7-9-19-10M325 570q13-5 18-17M230 453q17-21 13-47M137 467q0 12 9 21M136 509q10-21 1-42M487 261q-17 16-17 40M324 646q-21-12-45-5M175 362q6-24-8-45M168 237q11 13 28 13M101 352q26 0 43-19M546 368q9-8 9-19M483 471q18-5 27-22M292 251q-14 21-7 46M424 267q5-25-10-46M315 617q11 10 26 9M274 546q8 19 28 26M469 526q2 12 12 18M340 426q-6-11-18-14M262 303q1-24-16-41M410 631q-17-1-29 10M332 179q14 19 37 21M218 492q15-17 12-39M529 471q-14 12-15 31M272 362q12-23 3-47M183 466q12 21 35 26M360 440q18-19 16-46M398 233q6-15-1-30M272 362q16-14 16-36M96 453q17 16 41 14M322 412q-5 22 8 41M164 445q-9-10-22-11M512 312q-11 10-11 25M510 449q-1-12-11-20M319 481q12-12 11-28M204 401q18 11 39 5M443 329q-15 8-19 25M313 234q-7 15 0 30M140 353q6-9 4-20M343 249q8-19-1-38M205 348q0-15-12-25M148 565q21 9 42 0M437 620q24-12 31-37M337 490q6 9 16 11M246 262q25 5 46-11M120 452q-7 15-1 31M424 311q-9 22 0 43M353 471q10-14 7-31M216 205q17 0 28-12M237 288q-1-21-17-34M422 429q-8 17-1 34M109 502q2-16-8-29M259 472q15-10 18-28M501 542q-6 14 0 27M271 234q7-14 1-29M509 523q24-3 38-23M462 334q-23 2-38 20M490 515q-19-13-42-7M272 362q-9 15-3 32M244 193q-4 18 6 34M109 502q1 16 13 26M184 411q-21-14-46-8M266 254q14 4 26-3M403 508q22 10 45 0M153 282q12 5 23 0M313 513q23 3 40-12M428 603q-24 1-39 19M443 584q7 15 23 19M118 386q14 22 39 26M144 333q-6 9-4 20M294 404q-15 4-22 17M337 490q21 3 37-10M422 429q16 8 32 1M394 551q-15 5-22 20M376 539q-20 0-33 14M138 403q1-21-14-35M452 478q0-19-14-32M168 237q18-4 27-20M274 546q-4-17-20-26M470 301q8 25 31 36M118 408q-9 22 2 44M93 385q11-15 8-33M437 239q-18-12-39-6M190 487q1-12-7-21M108 332q24-2 39-21M343 607q13-2 20-13M514 502q14-12 15-31M205 348q15 18 39 19M220 254q-4-24-25-37M315 617q-12-2-21 5M205 348q-5 11 0 22M279 641q21 12 45 5M386 320q0 12 8 20M153 530q22 1 38-15M462 334q-21 14-25 38M183 466q-23-10-46 1M363 181q-14 22-7 47M195 217q-18 4-27 20M191 515q6-14-1-28M373 240q7-21-4-40M279 641q12-6 15-19M205 348q-18 15-19 38M438 446q24 0 40-17M198 442q12-19 6-41M224 226q22 14 47 8M224 584q17-16 16-40M397 203q13 0 22-9M452 311q-11 18-5 38M380 507q-6-24-27-36M177 261q15 18 39 19M238 567q-24-12-48-2M167 317q-15 3-23 16M294 622q10 19 30 24M244 193q-4 18 6 34M557 463q-16-2-28 8M119 430q-4 11 1 22M501 542q0-16-11-27M382 217q15 9 32 4M457 456q-1 24 16 40M478 429q18-12 21-34M122 528q3 13 15 19M383 182q2 14 14 21M171 339q10 23 34 31M216 205q-1 12 8 21M363 181q-17 10-21 30M319 481q-17-5-32 4M272 421q1 25 20 41M374 480q-15 6-21 21M205 536q23-8 32-31M137 467q-22 11-28 35M422 429q-12 4-16 16M411 289q13-23 5-48M341 626q16 4 29-5M450 409q16-20 12-45M294 622q10 19 30 24M478 429q12 17 32 20M438 446q7 9 19 10M353 471q-17 18-16 43M168 237q-1 14 9 24M254 520q11-11 11-27M238 567q-22-1-38 15M190 487q-22-9-44 1M184 411q16 16 39 14M499 395q-11 4-16 15M302 572q-8-19-28-26M294 622q4-23-10-41M468 250q3-19-9-35M509 523q6-23-6-43M148 565q-2-11-11-18M439 295q3 25 23 39M262 303q19 11 40 5M132 285q10 24 35 32M210 466q5 25 27 39M278 342q-21-8-41 3M397 203q-13-8-28-3M258 561q-5 22 9 41M147 311q6 19 24 28M501 337q-21 16-23 43M499 395q-7 17 0 34M404 309q-13-12-31-10M535 418q-20-2-36 11M487 261q-20 3-32 20M186 386q6 11 18 15M356 228q15 0 26-11M241 599q-5-11-17-15M562 411q-17 9-22 27M188 601q22-1 36-17M272 421q-11-14-29-15M250 227q2 17 16 27M177 261q12-1 19-11M279 641q-4-2-9 0M308 323q-6-18-23-26M237 479q-6 13 0 26M421 332q-3 12 3 22M398 233q-14-2-25 7M410 593q-8 19 0 38M218 492q15-17 12-39M437 372q-11 0-19 9M489 582q15-17 12-40M343 327q-23-2-40 13M305 177q-10 6-12 18M356 228q15 0 26-11M342 211q16 0 27-11M382 217q12 19 34 24M443 329q23 6 43-6M555 349q-10-11-25-11M222 388q-12 3-18 13M343 249q8 14 24 17M244 193q-17 0-28 12M146 488q22 9 44-1M164 445q4-18-7-33M216 205q12 18 34 22M224 584q15 4 29-4M269 394q-22-13-47-6M433 203q-17 15-17 38M315 617q4-13-4-25M177 261q-13-6-27-1" fill="none" stroke="#4450a8" stroke-width="0.55" stroke-opacity="0.66" stroke-dasharray="2.2 0.9"/>
<path d="M529 471q-17 32-5 67M392 425q-13 10-14 26M428 603q1 10 9 17M394 551q-13 24-4 50M363 594q25-3 40-23M468 583q-5-20-23-29M438 446q-9 33 10 62M483 410q14-24 5-51M489 582q9-4 12-13M421 463q-13-5-25 1M390 601q-2-19-18-30M403 508q-23-14-50-7M478 429q31 7 57-11M468 583q-5-36-36-57M337 514q5 36 35 57M430 404q-5-27-29-42M473 496q29 23 65 18M445 554q0-17-13-28M353 471q20 18 46 15M421 463q36-4 57-34M538 514q-24-10-48 1M468 583q15-17 13-39M372 571q26-10 36-36M483 410q-23 17-26 46M392 425q-10 32 7 61M363 594q-13 2-20 13M408 535q2 16 14 25M343 553q-9 16-4 33M469 526q-32-9-61 9M374 480q24-10 32-35M407 403q-10 21-1 42M457 456q-16 24-9 52M432 526q31 7 58-11M396 464q-35 0-59 26M450 409q-20-12-43-6M524 538q-25-18-55-12M510 449q-35 2-58 29M514 502q10-27-4-53M422 560q18 22 46 23M374 480q-15 6-21 21M406 445q-22-13-46-5M473 496q18-21 14-48M509 523q16 2 29-9M408 535q18-17 18-42M457 456q-36 2-58 30M478 429q11-24 0-49M363 594q-26-12-52-2M319 481q-15 34 0 67M501 569q31-19 37-55M403 508q-2 30 19 52M487 448q6-20-4-38M503 480q18 20 44 20M468 583q1-11-6-19M421 463q-19 19-18 45M514 502q14-12 15-31M454 430q19-31 8-66M353 471q-17 18-16 43M452 478q-21 20-20 48M457 456q-7-9-19-10M432 526q-7 31 11 58M452 478q17 3 31-7M514 502q-3 20 10 36M394 551q-10-34-41-50M462 564q-31-9-59 7M468 583q-5-36-36-57M501 569q6-14 0-27M353 471q32-1 53-26M443 584q-7-32-35-49M538 514q8-5 9-14M399 486q-31 11-43 41M378 451q15 3 28-6M469 526q21 7 40-3M503 480q-27 16-34 46M330 453q24 10 48-2M374 480q5 35 34 55M403 508q-8-20-29-28M330 453q-31 17-39 52M462 564q-31-9-59 7M483 471q9 22 31 31M428 603q-15 10-18 28M428 603q1 10 9 17M452 478q-4-31-30-49M538 514q21-21 19-51M454 430q4-33-17-58M450 409q28 4 49-14M330 453q-29 7-43 32M478 429q-28-12-56 0M356 527q-25 15-31 43M428 603q19-21 17-49M483 410q24 15 52 8M510 449q7 34 37 51M514 502q-3 20 10 36M337 514q-25-5-46 11M432 526q0 17 13 28M428 603q-21-28-56-32M529 471q-14 12-15 31M524 538q-4-11-15-15M454 430q-6-18-24-26M524 538q17-32 5-67M489 582q27-14 35-44M483 410q27-21 29-55M399 486q13-19 7-41M478 429q12 17 32 20M538 514q5-23-9-43M406 445q16 8 32 1M392 425q-13 10-14 26M483 410q4-16-5-30M445 554q16 24 44 28M394 551q12 11 28 9M337 490q-26-3-46 15M462 564q-7 20 4 39M454 430q19-31 8-66M407 403q-19 28-11 61M445 554q31-10 45-39M422 429q-24 23-23 57M396 464q-6 24 7 44M462 564q-1 11 6 19M468 583q13-28 1-57M380 507q-3 37 23 64M457 456q-36 2-58 30M448 508q-12 5-16 18M478 429q10 5 21 0M337 514q7 11 19 13M538 514q-25 6-37 28M478 429q-16 9-21 27M403 571q-16-7-31 0M421 463q24-9 33-33M319 481q-9-15-27-19M374 480q24-10 32-35M501 569q6-14 0-27M510 449q-12-17-32-20M399 486q16-7 22-23M503 480q-2 34 21 58M432 526q-24 16-29 45M501 542q8-8 8-19M422 429q-2-16-15-26M337 514q11-3 16-13M392 425q-7 20 4 39M462 564q37 1 62-26M501 569q18-10 23-31M376 539q-9 15-4 32M390 601q-13 18-9 40M457 456q16-9 21-27M462 564q37 1 62-26M360 440q-7-11-20-14M501 569q31-19 37-55M399 486q28 8 53-8M452 478q-16-27-46-33M452 478q-2 28 17 48M538 514q-16-2-29 9M538 514q-24-10-48 1M469 526q-13 28-1 57M407 403q10-9 11-22M406 445q-9 7-10 19M337 514q5-12 0-24M319 481q7 8 18 9M450 409q30-17 38-50M466 603q-34 2-56 28M450 409q9-11 7-25M392 425q2-31-19-54M468 583q1-11-6-19M524 538q-23-6-43 6M450 409q-3 11 4 21M478 429q11-24 0-49M452 478q7 14 21 18M483 410q24 15 52 8M469 526q21 7 40-3M353 501q10 34 41 50M499 429q20 2 36-11M432 526q18 8 37 0M481 544q4 17 20 25M473 496q16 32 51 42M432 526q21 20 49 18M396 464q19-28 11-61M501 569q6-14 0-27M501 569q-9 4-12 13M443 584q-12 6-15 19M360 440q-13-22-38-28M372 571q-22 12-29 36M469 526q25 18 55 12M454 430q33 16 67 2M466 603q-19-8-38 0M529 471q-16-32-51-42M529 471q-15-1-26 9M445 554q-19 31-8 66M501 542q12 3 23-4M529 471q-5-15-19-22M499 429q25-21 26-54M353 471q17 30 50 37M337 514q23 6 43-7M430 404q-21 15-24 41M319 481q-24 16-28 44M473 496q19 12 41 6M360 440q-17 29-7 61M407 403q29 2 50-19M524 538q-18 10-23 31M372 571q16 7 31 0M343 553q13 34 47 48M509 523q-27-21-61-15M509 523q-23 25-20 59M457 456q-2-32-27-52M390 601q-12-9-27-7M428 603q-19-9-38-2M396 464q-17 18-16 43M503 480q10 25 35 34M428 603q26-12 34-39M443 584q-7-32-35-49M422 429q-2-16-15-26M468 583q-30-20-65-12M432 526q-31-6-56 13M378 451q31 11 60-5M403 508q22 10 45 0M380 507q3-15-6-27M421 463q19 28 52 33M469 526q13-1 21-11M524 538q-12-3-23 4M438 446q12-4 16-16M337 514q23 6 43-7M374 480q-16-23-44-27M372 571q18-30 8-64M337 490q12-6 16-19M538 514q-16-2-29 9M483 410q14-24 5-51M489 582q2-32-20-56M466 603q-26-17-56-10M490 515q6-24-7-44M319 481q-10 15-6 32M473 496q34 0 56-25M501 542q15-31 2-62M343 553q20 0 33-14M483 410q-35-4-61 19M486 323q15 0 26-11M452 311q7-25-7-47M555 349q-30 20-35 55M478 380q-4-12-16-16M470 301q-16-27-46-34M521 432q5-33-16-58M535 418q-5-29-30-44M530 338q-33-17-68-4M530 338q-11 17-5 37M424 311q-6 10-3 21M499 395q32 12 62-3M561 392q-23-3-41 12M450 409q16 8 33 1M535 418q16-23 11-50M534 299q-26-22-60-18M505 374q12 17 32 20M535 418q-15 25-6 53M424 311q32-4 50-30M418 381q26 29 65 29M430 404q-11-6-23-1M430 404q-1-14-12-23M447 349q25-4 39-26M546 368q-29 3-47 27M521 432q15-28 4-57M462 364q21-15 24-41M447 349q11-4 15-15M452 311q8-14 3-30M490 295q9-35-11-65M478 429q-18-23-48-25M483 410q31 4 54-16M455 281q35 17 71 3M546 323q-26-3-45 14M499 395q-12-24-37-31M561 392q-14-16-36-17M439 295q-34-13-66 4M452 311q-37 14-51 51M424 354q10 22 33 30M501 337q-8-25-31-36M455 281q-29-22-64-15M147 311q-24 23-23 57M153 388q10 18 31 23M257 325q11-1 18-10M278 342q4-14-3-27M237 345q-9-31-37-45M285 297q21-10 28-33M138 403q4 27 26 42M195 217q-35 23-42 65M175 362q6 26 29 39M244 367q15 4 28-5M292 251q18 19 44 18M272 362q39 11 73-11M288 326q-15-7-31-1M262 303q-26-31-66-32M118 386q7-8 6-18M216 205q12 18 34 22M132 285q-22 18-24 47M177 261q23 6 43-7M167 317q-21-16-47-12M200 300q-16-31-50-40M184 411q0 19 14 31M196 250q-38 20-49 61M196 271q4 27 27 43M140 353q21-12 27-36M250 227q29-7 43-32M196 250q37-18 48-57M262 303q-26-31-66-32M216 280q3-36-21-63M237 345q0-19-14-31M193 323q17 21 44 22M140 353q19 0 31-14M138 403q-6-13-20-17M246 262q12 0 20-8M153 282q-22 33-13 71M186 386q10 28 37 39M262 303q8 17 26 23M144 333q35-4 56-33M140 353q-38 22-47 65M196 250q11 7 24 4M200 300q21 2 37-12M313 513q35 12 67-6M261 621q12-31-3-60M270 641q-5-27-29-42M325 570q32-4 51-31M291 525q-4-34-32-53M381 641q13-18 9-40M302 572q-15 23-8 50M389 622q9 9 21 9M410 593q26-29 22-67M394 551q14-20 9-43M403 571q-26-22-60-18M372 571q18-30 8-64M267 602q-7 8-6 19M258 561q-25 30-19 69M274 546q33 19 69 7M294 622q25 25 61 23M253 580q11 30 41 42M341 626q8-20-2-40M284 581q36-1 59-28M394 551q-26-10-51 2M381 641q-1-12-11-20M324 646q28-2 46-25M403 571q6 32 34 49M284 581q19 35 57 45M302 647q-15-22-41-26M284 581q-16 29-5 60M337 514q-2-20-18-33M337 514q-2-20-18-33M253 580q15 7 31 1M389 622q18-34 5-71M261 621q31-4 50-29M315 617q5-38-20-68M410 593q-37-8-67 14M325 570q23 11 47 1M270 641q31-15 41-49M274 546q-23 3-36 21M356 527q11-29-3-56M319 548q40-7 61-41M315 617q-23-32-62-37M363 594q19-25 13-55" fill="none" stroke="#e4554c" stroke-width="0.55" stroke-opacity="0.72" stroke-dasharray="2.2 0.9"/>
<g stroke="#222" stroke-width="0.35"><g fill="#72c8bd"><circle cx="339.9" cy="425.6" r="6.0"/><circle cx="560.9" cy="439.6" r="4.0"/><circle cx="556.9" cy="462.9" r="4.0"/><circle cx="537.7" cy="514.3" r="4.0"/><circle cx="410.4" cy="631.2" r="4.0"/><circle cx="172.0" cy="590.2" r="4.0"/><circle cx="120.0" cy="304.9" r="4.0"/><circle cx="194.7" cy="216.8" r="4.0"/><circle cx="363.3" cy="181.2" r="4.0"/><circle cx="418.6" cy="194.1" r="4.0"/><circle cx="432.5" cy="203.1" r="4.0"/><circle cx="458.9" cy="215.4" r="4.0"/><circle cx="478.5" cy="230.4" r="4.0"/><circle cx="545.8" cy="323.2" r="4.0"/><circle cx="561.1" cy="391.7" r="4.0"/><circle cx="241.2" cy="598.8" r="4.6"/><circle cx="313.1" cy="234.4" r="5.9"/><circle cx="147.1" cy="311.2" r="4.7"/><circle cx="175.5" cy="362.1" r="5.0"/><circle cx="428.0" cy="602.6" r="4.1"/><circle cx="437.4" cy="238.8" r="4.4"/><circle cx="222.3" cy="387.7" r="5.4"/><circle cx="391.3" cy="266.5" r="5.1"/><circle cx="222.7" cy="313.7" r="4.9"/><circle cx="165.8" cy="479.8" r="4.1"/><circle cx="377.9" cy="451.5" r="3.9"/><circle cx="342.7" cy="248.7" r="4.6"/><circle cx="499.3" cy="428.5" r="4.5"/><circle cx="152.7" cy="529.5" r="4.4"/><circle cx="397.9" cy="232.7" r="3.9"/><circle cx="144.5" cy="332.8" r="4.8"/><circle cx="267.3" cy="602.0" r="4.4"/><circle cx="486.1" cy="322.8" r="4.5"/><circle cx="505.1" cy="373.8" r="4.3"/><circle cx="338.5" cy="299.2" r="5.4"/><circle cx="163.8" cy="444.5" r="4.5"/><circle cx="462.4" cy="334.1" r="3.9"/><circle cx="291.8" cy="251.1" r="5.2"/><circle cx="184.5" cy="411.5" r="4.4"/><circle cx="400.7" cy="361.5" r="4.8"/><circle cx="152.5" cy="282.1" r="4.4"/><circle cx="291.3" cy="525.2" r="4.1"/><circle cx="336.9" cy="514.0" r="4.3"/><circle cx="117.6" cy="386.3" r="3.9"/><circle cx="254.4" cy="519.6" r="4.0"/><circle cx="487.3" cy="261.3" r="4.1"/><circle cx="249.6" cy="226.7" r="5.1"/><circle cx="481.2" cy="543.5" r="4.2"/><circle cx="397.1" cy="203.5" r="4.0"/><circle cx="287.3" cy="485.0" r="3.9"/><circle cx="274.1" cy="546.3" r="4.2"/><circle cx="137.2" cy="467.3" r="4.5"/><circle cx="373.1" cy="299.4" r="5.7"/><circle cx="456.8" cy="384.0" r="4.3"/><circle cx="135.7" cy="508.8" r="4.5"/><circle cx="513.7" cy="501.5" r="3.9"/><circle cx="344.8" cy="351.5" r="6.0"/><circle cx="157.1" cy="412.2" r="5.0"/><circle cx="291.6" cy="461.9" r="4.5"/><circle cx="394.3" cy="551.4" r="4.0"/><circle cx="456.7" cy="455.9" r="3.9"/><circle cx="200.5" cy="582.2" r="4.4"/><circle cx="138.4" cy="402.9" r="3.9"/><circle cx="196.4" cy="250.2" r="4.9"/><circle cx="203.8" cy="400.8" r="4.8"/><circle cx="340.7" cy="626.2" r="4.2"/><circle cx="404.0" cy="309.1" r="4.3"/><circle cx="118.9" cy="483.2" r="4.3"/><circle cx="326.5" cy="365.4" r="5.3"/><circle cx="169.7" cy="569.0" r="4.4"/><circle cx="120.0" cy="452.3" r="4.0"/><circle cx="205.4" cy="370.2" r="4.9"/><circle cx="291.0" cy="505.2" r="4.2"/><circle cx="223.8" cy="584.2" r="4.5"/><circle cx="261.0" cy="621.1" r="4.1"/><circle cx="271.2" cy="233.9" r="4.8"/><circle cx="521.0" cy="432.0" r="4.2"/><circle cx="424.4" cy="310.6" r="4.3"/><circle cx="468.5" cy="583.3" r="3.9"/><circle cx="369.4" cy="200.3" r="4.3"/></g><g fill="#222b8f"><circle cx="308.1" cy="429.6" r="6.0"/><circle cx="403.4" cy="508.3" r="5.7"/><circle cx="399.1" cy="486.3" r="5.4"/><circle cx="562.3" cy="411.0" r="4.0"/><circle cx="437.4" cy="619.8" r="4.0"/><circle cx="137.4" cy="546.6" r="4.0"/><circle cx="108.8" cy="502.2" r="4.0"/><circle cx="244.1" cy="192.5" r="4.0"/><circle cx="265.8" cy="183.7" r="4.0"/><circle cx="554.7" cy="349.4" r="4.0"/><circle cx="381.9" cy="217.1" r="4.5"/><circle cx="467.7" cy="249.8" r="4.3"/><circle cx="142.1" cy="434.2" r="4.0"/><circle cx="199.8" cy="299.9" r="5.9"/><circle cx="380.1" cy="506.8" r="4.5"/><circle cx="452.1" cy="311.1" r="4.1"/><circle cx="392.2" cy="424.8" r="5.0"/><circle cx="345.8" cy="378.6" r="5.0"/><circle cx="313.3" cy="512.8" r="4.1"/><circle cx="367.0" cy="265.9" r="5.1"/><circle cx="529.6" cy="338.1" r="4.2"/><circle cx="424.3" cy="266.9" r="4.3"/><circle cx="411.4" cy="288.9" r="5.1"/><circle cx="545.5" cy="368.1" r="4.2"/><circle cx="266.4" cy="254.5" r="4.8"/><circle cx="343.5" cy="326.6" r="4.8"/><circle cx="243.3" cy="406.3" r="5.0"/><circle cx="421.8" cy="559.7" r="4.0"/><circle cx="444.7" cy="264.2" r="4.0"/><circle cx="315.3" cy="616.9" r="3.9"/><circle cx="170.6" cy="339.5" r="4.4"/><circle cx="342.5" cy="210.6" r="5.1"/><circle cx="176.7" cy="261.0" r="4.6"/><circle cx="190.5" cy="564.7" r="3.9"/><circle cx="217.9" cy="492.0" r="4.5"/><circle cx="454.2" cy="429.7" r="4.2"/><circle cx="269.2" cy="394.2" r="5.7"/><circle cx="190.2" cy="486.8" r="4.0"/><circle cx="421.1" cy="331.9" r="5.1"/><circle cx="519.7" cy="403.5" r="4.1"/><circle cx="318.9" cy="480.5" r="4.4"/><circle cx="429.5" cy="403.5" r="4.5"/><circle cx="258.7" cy="471.5" r="4.8"/><circle cx="119.5" cy="430.5" r="4.6"/><circle cx="191.5" cy="515.1" r="3.9"/><circle cx="490.4" cy="515.1" r="4.6"/><circle cx="373.5" cy="240.3" r="4.5"/><circle cx="277.1" cy="443.6" r="4.6"/><circle cx="237.5" cy="288.2" r="4.8"/><circle cx="353.5" cy="500.6" r="4.1"/><circle cx="293.1" cy="194.5" r="4.4"/><circle cx="370.1" cy="342.4" r="5.6"/><circle cx="477.8" cy="379.6" r="3.9"/><circle cx="139.8" cy="353.3" r="4.4"/><circle cx="294.2" cy="403.9" r="5.0"/><circle cx="353.3" cy="471.0" r="4.1"/><circle cx="418.1" cy="380.9" r="4.5"/><circle cx="406.8" cy="403.0" r="5.0"/><circle cx="272.0" cy="421.1" r="4.7"/><circle cx="271.8" cy="204.9" r="4.7"/><circle cx="236.6" cy="479.4" r="4.6"/><circle cx="335.6" cy="269.0" r="4.8"/><circle cx="320.7" cy="211.6" r="4.7"/><circle cx="501.2" cy="337.1" r="3.9"/><circle cx="294.2" cy="621.7" r="3.9"/><circle cx="237.5" cy="504.8" r="4.2"/><circle cx="376.4" cy="394.0" r="4.7"/><circle cx="205.0" cy="535.8" r="3.9"/><circle cx="167.5" cy="317.4" r="4.6"/><circle cx="195.5" cy="271.3" r="4.6"/><circle cx="223.6" cy="226.0" r="4.9"/><circle cx="450.1" cy="409.0" r="4.6"/><circle cx="246.4" cy="261.9" r="4.8"/><circle cx="469.9" cy="301.1" r="4.3"/><circle cx="408.2" cy="534.7" r="4.5"/><circle cx="356.2" cy="527.2" r="4.0"/><circle cx="423.6" cy="353.6" r="4.3"/><circle cx="294.7" cy="548.9" r="4.1"/><circle cx="395.6" cy="463.5" r="4.4"/><circle cx="393.9" cy="340.3" r="5.1"/><circle cx="258.0" cy="560.9" r="4.1"/><circle cx="474.3" cy="280.8" r="3.9"/><circle cx="396.9" cy="383.8" r="4.9"/><circle cx="337.2" cy="489.7" r="4.0"/><circle cx="442.9" cy="329.2" r="4.6"/><circle cx="355.1" cy="283.9" r="4.9"/></g><g fill="#a0369b"><circle cx="373.9" cy="479.7" r="5.4"/><circle cx="448.4" cy="507.7" r="5.2"/><circle cx="469.3" cy="526.3" r="5.2"/><circle cx="373.4" cy="370.9" r="5.4"/><circle cx="438.3" cy="446.2" r="5.2"/><circle cx="452.1" cy="477.7" r="5.2"/><circle cx="547.0" cy="500.4" r="4.0"/><circle cx="501.4" cy="569.3" r="4.0"/><circle cx="489.4" cy="582.1" r="4.0"/><circle cx="466.0" cy="603.0" r="4.0"/><circle cx="381.2" cy="640.8" r="4.0"/><circle cx="302.3" cy="646.6" r="4.0"/><circle cx="278.7" cy="640.6" r="4.0"/><circle cx="212.2" cy="618.9" r="4.0"/><circle cx="147.9" cy="564.7" r="4.0"/><circle cx="101.0" cy="473.3" r="4.0"/><circle cx="93.3" cy="418.1" r="4.0"/><circle cx="93.0" cy="384.7" r="4.0"/><circle cx="108.2" cy="332.2" r="4.0"/><circle cx="132.1" cy="285.1" r="4.0"/><circle cx="149.8" cy="259.9" r="4.0"/><circle cx="168.0" cy="237.0" r="4.0"/><circle cx="304.5" cy="177.0" r="4.0"/><circle cx="331.6" cy="178.7" r="4.0"/><circle cx="382.9" cy="181.9" r="4.0"/><circle cx="507.0" cy="260.9" r="4.0"/><circle cx="525.9" cy="283.6" r="4.0"/><circle cx="534.0" cy="299.1" r="4.0"/><circle cx="444.7" cy="554.1" r="3.9"/><circle cx="489.6" cy="295.5" r="4.5"/><circle cx="252.9" cy="580.1" r="4.0"/><circle cx="302.1" cy="571.6" r="4.0"/><circle cx="540.4" cy="437.5" r="4.0"/><circle cx="220.1" cy="253.6" r="5.8"/><circle cx="390.0" cy="601.2" r="4.2"/><circle cx="488.2" cy="358.7" r="3.9"/><circle cx="283.9" cy="581.2" r="4.4"/><circle cx="117.8" cy="408.2" r="4.4"/><circle cx="436.7" cy="372.3" r="4.3"/><circle cx="529.2" cy="470.6" r="4.5"/><circle cx="503.4" cy="479.6" r="4.5"/><circle cx="342.8" cy="606.7" r="3.9"/><circle cx="319.5" cy="548.3" r="4.5"/><circle cx="339.5" cy="586.3" r="4.1"/><circle cx="454.8" cy="281.2" r="4.0"/><circle cx="537.1" cy="393.6" r="4.0"/><circle cx="509.8" cy="448.7" r="4.1"/><circle cx="211.5" cy="512.2" r="4.5"/><circle cx="166.7" cy="512.6" r="4.2"/><circle cx="123.8" cy="367.7" r="4.0"/><circle cx="406.5" cy="445.0" r="3.9"/><circle cx="431.9" cy="526.0" r="4.5"/><circle cx="369.6" cy="621.1" r="4.0"/><circle cx="343.5" cy="553.3" r="4.5"/><circle cx="360.4" cy="439.6" r="5.0"/><circle cx="498.7" cy="395.2" r="4.1"/><circle cx="414.4" cy="221.2" r="4.5"/><circle cx="420.5" cy="462.8" r="4.2"/><circle cx="442.9" cy="583.9" r="4.3"/><circle cx="389.2" cy="621.7" r="3.9"/><circle cx="511.9" cy="355.2" r="4.0"/><circle cx="438.7" cy="295.1" r="4.4"/><circle cx="511.5" cy="312.3" r="4.5"/><circle cx="146.1" cy="488.3" r="3.9"/><circle cx="461.7" cy="363.9" r="4.0"/><circle cx="183.0" cy="465.6" r="4.2"/><circle cx="501.4" cy="542.3" r="4.1"/><circle cx="356.0" cy="228.3" r="4.4"/><circle cx="486.7" cy="447.5" r="4.5"/><circle cx="362.8" cy="593.8" r="4.3"/><circle cx="421.9" cy="429.1" r="4.2"/><circle cx="410.1" cy="592.9" r="4.5"/><circle cx="416.2" cy="241.0" r="3.9"/><circle cx="535.2" cy="417.9" r="4.3"/><circle cx="478.3" cy="429.4" r="4.0"/><circle cx="525.4" cy="375.0" r="4.0"/></g><g fill="#63b127"><circle cx="472.7" cy="496.3" r="5.2"/><circle cx="240.3" cy="543.5" r="6.0"/><circle cx="523.7" cy="537.8" r="4.0"/><circle cx="238.6" cy="629.8" r="4.0"/><circle cx="188.3" cy="601.3" r="4.0"/><circle cx="216.4" cy="204.7" r="4.0"/><circle cx="288.6" cy="222.8" r="4.5"/><circle cx="376.4" cy="538.5" r="4.3"/><circle cx="447.2" cy="348.8" r="4.0"/><circle cx="386.0" cy="320.1" r="5.1"/><circle cx="311.3" cy="591.5" r="4.5"/><circle cx="372.3" cy="571.4" r="4.1"/><circle cx="462.3" cy="564.4" r="4.4"/><circle cx="193.4" cy="322.7" r="5.5"/><circle cx="238.4" cy="567.0" r="4.0"/><circle cx="176.0" cy="282.0" r="4.8"/><circle cx="324.6" cy="569.6" r="3.9"/><circle cx="509.5" cy="523.4" r="4.1"/><circle cx="215.8" cy="279.6" r="5.1"/><circle cx="155.0" cy="367.4" r="4.3"/></g><g fill="#fa1010"><circle cx="312.7" cy="264.5" r="5.4"/><circle cx="205.1" cy="348.0" r="5.2"/><circle cx="265.5" cy="493.4" r="4.3"/></g><g fill="#d6ec38"><circle cx="306.1" cy="385.2" r="5.4"/><circle cx="483.0" cy="471.4" r="4.3"/><circle cx="169.6" cy="546.9" r="4.3"/></g><g fill="#f77320"><circle cx="153.0" cy="387.5" r="4.0"/><circle cx="402.9" cy="571.3" r="3.7"/></g><g fill="#aaa4a4"><circle cx="483.0" cy="410.4" r="4.0"/><circle cx="96.3" cy="452.8" r="4.0"/><circle cx="216.5" cy="558.7" r="4.3"/></g><g fill="#2a6f2a"><circle cx="122.1" cy="527.8" r="3.7"/></g><g fill="#b0dd68"><circle cx="100.9" cy="351.8" r="4.0"/></g><g fill="#a8e0b0"><circle cx="324.1" cy="645.7" r="4.0"/></g><g fill="#d772b8"><circle cx="355.3" cy="644.5" r="3.7"/></g><g fill="#564aa0"><circle cx="269.8" cy="640.8" r="3.7"/></g><circle cx="321.9" cy="412.4" r="6.3" fill="#63b127"/><circle cx="229.7" cy="452.5" r="6.3" fill="#72c8bd"/><circle cx="329.6" cy="453.4" r="6.3" fill="#72c8bd"/><circle cx="186.5" cy="386.1" r="6.4" fill="#222b8f"/><circle cx="197.9" cy="441.9" r="6.6" fill="#222b8f"/><circle cx="251.7" cy="446.2" r="6.6" fill="#72c8bd"/><circle cx="209.7" cy="465.7" r="6.6" fill="#63b127"/><circle cx="426.3" cy="493.4" r="6.6" fill="#a0369b"/><circle cx="353.9" cy="407.9" r="6.9" fill="#222b8f"/><circle cx="222.5" cy="425.0" r="7.2" fill="#72c8bd"/><circle cx="244.0" cy="366.6" r="7.4" fill="#222b8f"/><circle cx="287.5" cy="326.0" r="9.4" fill="#222b8f"/><circle cx="236.6" cy="345.5" r="9.4" fill="#72c8bd"/><circle cx="307.6" cy="322.6" r="9.7" fill="#222b8f"/><circle cx="285.2" cy="296.8" r="10.0" fill="#222b8f"/><circle cx="302.4" cy="308.3" r="10.0" fill="#222b8f"/><circle cx="274.6" cy="314.6" r="10.0" fill="#222b8f"/><circle cx="259.5" cy="344.6" r="10.0" fill="#72c8bd"/><circle cx="291.0" cy="354.0" r="10.0" fill="#222b8f"/><circle cx="262.3" cy="303.1" r="10.3" fill="#72c8bd"/><circle cx="278.4" cy="341.7" r="10.3" fill="#63b127"/><circle cx="271.8" cy="361.8" r="10.9" fill="#d6ec38"/><circle cx="256.6" cy="325.4" r="11.2" fill="#72c8bd"/><circle cx="303.3" cy="339.7" r="11.2" fill="#72c8bd"/></g>
<path d="M970 534q8-28-7-52M951 545q56-17 81-70M983 544q38-34 38-85M970 534q35-10 52-42M942 525q-49 19-68 68M970 534q42-26 51-75M970 534q-16-55-67-80M953 561q57 42 126 28M953 561q-18-16-43-14M970 534q-17-43-60-60M983 544q-21 13-26 38M967 550q58-37 70-104M951 545q33-28 34-71M983 544q-75-29-146 7M953 561q31 0 52-22M951 545q56-17 81-70M942 525q-29-7-54 9M983 544q-31-48-88-57M970 534q-27 45-12 95M970 534q-55-17-105 12M983 544q-45-53-115-55M970 534q32 44 86 51M953 561q-21-68-85-99M942 525q20-17 21-43M983 544q-40 12-57 50M967 550q-9 2-14 11M967 550q-33 2-54 28M970 534q58 5 101-34M967 550q66-25 91-91M970 534q35-10 52-42M942 525q16-43-5-84M942 525q37 0 62-27M951 545q-29-46-83-56M967 550q25-58-2-116M951 545q-3 8 2 16M953 561q7-58-31-103M942 525q48-44 49-109M967 550q-7-18-25-25M942 525q56-5 90-50M983 544q27 37 73 41M953 561q16 25 45 30M951 545q-37 5-59 35M942 525q0 12 9 20M953 561q2 22 20 36M967 550q26-48 9-99M967 550q-39 42-34 98M942 525q-11-57-60-87M967 550q55 15 103-15M970 534q-23-67-88-96M942 525q-50 41-53 106M983 544q27 37 73 41M951 545q12-1 19-11M967 550q-44-44-106-41M983 544q56-26 75-85M953 561q56-36 68-102M970 534q42 51 109 55M983 544q-65 1-109 49M953 561q9-2 14-11M951 545q-3 8 2 16M967 550q-7-6-16-5M953 561q12-29-2-57M967 550q-15-24-43-29M942 525q44 55 114 60M983 544q-50-62-130-67M951 545q33-42 25-94M953 561q-47-1-79 32M942 525q20-17 21-43M967 550q-23 51-1 103M970 534q35-10 52-42M942 525q10-26-2-51M953 561q46 14 88-11M970 534q21-40 6-83M970 534q-48 27-61 81M953 561q-35-46-92-52M967 550q-21 22-20 52M953 561q57 42 126 28M970 534q32 56 94 70M983 544q-75-29-146 7M970 534q-3 23 12 40M967 550q20 66 83 96M967 550q-30 13-41 44M953 561q-34 17-44 54M951 545q-49 7-77 48M967 550q-33-43-87-48M983 544q22-3 35-21M951 545q-50-30-106-13M970 534q-36 38-33 90M942 525q-16 69 24 128M970 534q-27-40-75-47M970 534q-12 32 3 63M951 545q-29-46-83-56M983 544q-7 15-1 30M970 534q45-36 48-94M951 545q33-28 34-71M953 561q12-29-2-57M983 544q-54-14-100 17M970 534q31-25 33-64M967 550q-44-44-106-41M967 550q-15 45 9 87M970 534q37 34 88 30M953 561q-8-77-71-123M951 545q10-38-11-71M951 545q21-44 2-89M953 561q-18-16-43-14M970 534q-26 29-23 68M942 525q3-55-35-94M967 550q2 15 15 24M967 550q-15 45 9 87M942 525q-15-41-56-57M967 550q-22-59-81-82M970 534q66 27 131-3M970 534q-14 10-17 27M967 550q-33 2-54 28M942 525q-37-26-81-16M967 550q26-48 9-99M983 544q4-51-30-88M970 534q-49-6-87 27M951 545q16-55-14-104M983 544q12 15 31 17M942 525q62 33 128 10M951 545q-16-53-65-77M967 550q-7-6-16-5M942 525q-40 52-29 116M983 544q-16-19-41-19M970 534q-38 9-57 44M951 545q-15 28-4 57M951 545q21-44 2-89M953 561q5 46 42 74M951 545q38-61 19-131M953 561q16 25 45 30M967 550q37 16 74 0M967 550q37-48 27-108M951 545q28 22 63 16M942 525q7 18 25 25M942 525q24-50 4-101M967 550q2 15 15 24M953 561q20 45 66 61M953 561q27-70-7-137M942 525q-8-6-18-4M983 544q-56 33-70 97M942 525q-8-6-18-4M953 561q7-58-31-103M953 561q64 13 117-26M983 544q12 15 31 17M953 561q41 24 86 11M967 550q5-7 3-16M953 561q9-2 14-11M970 534q32 44 86 51M942 525q65-19 95-79M942 525q70 16 129-25M953 561q2-20-11-36M953 561q8 35 39 52M970 534q-33-7-60 13M942 525q38 16 76-2M970 534q-61 8-96 59M951 545q17 53 68 77M983 544q-6-44-43-70M967 550q6 27 31 41M983 544q-50-62-130-67M942 525q47 1 80-33M951 545q-23 19-25 49M970 534q-10 56 25 101M970 534q12-11 12-27M967 550q30-18 37-52M983 544q12 15 31 17M983 544q16-35 2-70M970 534q42-26 51-75M953 561q52 25 105 3M953 561q2-20-11-36M967 550q-11-62-64-96M967 550q19 57 73 81M951 545q6 43 41 68M967 550q42 27 91 14M953 561q5 46 42 74M983 544q-7 15-1 30M970 534q-7-49-48-76M951 545q13 71 73 109M967 550q26-34 18-76M970 534q21-27 15-60M967 550q10 47 52 72M967 550q-44-2-75 30M942 525q62 5 107-38M967 550q21 3 38-11M953 561q1-42-30-71M970 534q-17-43-60-60M953 561q5 46 42 74M951 545q28 34 71 36M951 545q44 43 105 40M951 545q20-29 12-63M967 550q-44-2-75 30M951 545q-24 36-14 79M951 545q62 21 119-10M970 534q-62 31-81 97M970 534q-55-17-105 12M970 534q-5 7-3 16M951 545q49 33 107 19M951 545q-65 7-104 60M951 545q-49 7-77 48M970 534q-62 31-81 97M951 545q-65 7-104 60M967 550q-55-12-102 20M951 545q24-12 31-38M970 534q1 35 28 57M967 550q31-2 51-27M983 544q-31 37-25 85M970 534q-11 66 30 119M983 544q-66-36-138-12M942 525q-23 31-16 69M953 561q-63-1-106 44M967 550q54 32 114 13M983 544q12 2 22-5M953 561q-38 31-40 80M967 550q-15-24-43-29M983 544q-6-44-43-70M970 534q49 39 111 29M967 550q21 16 47 11M967 550q2-27-16-46M953 561q7-58-31-103M970 534q-20 53 6 103M970 534q-5 7-3 16M953 561q46 14 88-11M967 550q-15-24-43-29M942 525q47 1 80-33M953 561q-35-15-70 0M983 544q-40 12-57 50M967 550q-57-36-122-18M953 561q14-10 17-27M953 561q-18-16-43-14M983 544q12 40 49 59M953 561q-21-68-85-99M970 534q-49-6-87 27M942 525q2 67 53 110M942 525q9 33 40 49M983 544q9 56 57 87M983 544q-11 36 9 69M970 534q-9-65-63-103M967 550q13-35-4-68M967 550q2 15 15 24M951 545q6 43 41 68M953 561q-18-16-43-14M967 550q21 28 55 31M983 544q28-49 11-102M970 534q42 51 109 55M983 544q-45-53-115-55M983 544q9 56 57 87M970 534q12-11 12-27M967 550q21 3 38-11M970 534q-2-37-30-60M967 550q-23 51-1 103M951 545q-38-7-68 16M942 525q32-40 23-91M942 525q47 24 97 5M942 525q7 18 25 25M953 561q-12-37-47-54M970 534q42 51 109 55M970 534q-3-19-19-30M983 544q-65-13-118 26M942 525q-45-37-102-29M983 544q16-35 2-70M942 525q-29-34-74-36M967 550q-49 11-73 55M970 534q49 10 90-19M942 525q62 5 107-38M970 534q-10 56 25 101M953 561q7-58-31-103M942 525q13 45 56 66M970 534q25-11 34-36M951 545q6 43 41 68M942 525q54-16 79-66M970 534q31-25 33-64M970 534q-2-37-30-60M953 561q31 0 52-22M970 534q-10 56 25 101M951 545q-23 19-25 49M967 550q31 27 72 22M942 525q16-43-5-84M967 550q17-18 15-43M970 534q66 27 131-3M953 561q46 14 88-11M967 550q54 32 114 13M942 525q-65 19-95 80M953 561q47-50 41-119M951 545q-36 26-42 70M951 545q12-1 19-11M967 550q-44-44-106-41M983 544q-53 19-74 71M967 550q-9 2-14 11M942 525q-49 19-68 68M970 534q31-25 33-64M970 534q14 64 70 97M942 525q-15-29-47-38M942 525q-35 56-17 119M983 544q-7 15-1 30M951 545q-21-8-41 2M942 525q38 16 76-2M942 525q44 34 99 25M983 544q-53-44-122-35M942 525q9 33 40 49M953 561q31 0 52-22M970 534q-11 66 30 119M970 534q-3 23 12 40M967 550q-9-40-44-60M983 544q-45-26-95-10M983 544q-30-35-77-37M967 550q2-27-16-46M970 534q9-43-17-78M951 545q38 33 88 27M942 525q38 16 76-2M970 534q-41-18-82 0M970 534q-12-11-28-9M970 534q-41-45-102-45M983 544q-54-14-100 17M951 545q38 33 88 27M942 525q-5-33-32-51M970 534q-60-5-105 36M951 545q1 65 49 108M983 544q-42 2-70 34M970 534q60-18 88-75M983 544q37-5 58-36M983 544q16-35 2-70M970 534q35-10 52-42M942 525q33-16 43-51M970 534q-48 27-61 81M942 525q28 21 63 14M967 550q17-18 15-43M970 534q-12 1-19 11M953 561q3-8-2-16M942 525q38-49 28-111M970 534q-12 1-19 11M967 550q-39 42-34 98M942 525q62 33 128 10M953 561q26-21 29-54M983 544q-12-56-61-86M951 545q47 12 88-15M983 544q12 15 31 17M970 534q37 34 88 30M970 534q16 10 35 5M953 561q13-46-13-87M967 550q37 37 89 35M942 525q-29-34-74-36M942 525q38 45 97 47M970 534q1 72 54 120M953 561q30 25 69 20M953 561q47-50 41-119M983 544q-24-24-59-23M942 525q-14 40 5 77M951 545q42-26 52-75M951 545q-50-30-106-13M970 534q-26 29-23 68M983 544q-14 48 12 91M983 544q-16-7-32 1M983 544q-45-26-95-10M967 550q-18-75-85-112M983 544q-81 1-136 61M970 534q-49-36-109-25M967 550q21 28 55 31M951 545q61 9 109-30M970 534q-12 32 3 63M983 544q8-19-1-37M942 525q-23 31-16 69M942 525q-23 31-16 69M942 525q-2-22-19-35M942 525q-15 23-8 50M983 544q-3 27 15 47M953 561q2-20-11-36M951 545q-5 20 6 37M953 561q26-21 29-54M942 525q17 65 77 97M967 550q2 15 15 24M983 544q-18-40-60-54M970 534q-77 8-123 71M967 550q72-3 119-59M967 550q-22-59-81-82M951 545q13 33 47 46M967 550q-2-56-45-92M942 525q56-5 90-50M951 545q-35 44-26 99M970 534q4 8 13 10M953 561q50 3 86-31M983 544q-3 27 15 47M953 561q2 22 20 36M951 545q5-50-29-87M967 550q54 32 114 13M983 544q1 47 36 78M967 550q5-7 3-16M983 544q-18-40-60-54M967 550q-7 25 6 47M953 561q26-21 29-54M983 544q-45-53-115-55M983 544q-21 13-26 38M967 550q2-27-16-46M953 561q3 56 47 92M967 550q-18-75-85-112M970 534q-50-25-102-6M953 561q-2-53-43-87M970 534q37 34 88 30M942 525q-23 31-16 69M942 525q47 1 80-33M967 550q46-5 74-42M967 550q-45-33-99-22M942 525q-38-15-74 3M983 544q-3 27 15 47M967 550q21 41 65 53M970 534q49 10 90-19M951 545q49 33 107 19M983 544q-15 58 17 109M951 545q44-42 43-103M951 545q-15 44 7 84M951 545q-3 8 2 16M970 534q60-5 97-53M953 561q50 3 86-31M942 525q43-14 61-55M953 561q-35-46-92-52M953 561q41-70 17-147M967 550q63-2 104-50M942 525q43-14 61-55M953 561q13-46-13-87M983 544q0-62-46-103M942 525q16-43-5-84M953 561q-5 43 23 76M967 550q5-7 3-16M942 525q33-30 34-74M951 545q38 33 88 27M951 545q24-62-5-121M953 561q-21 11-27 33M953 561q2 22 20 36M942 525q45 76 131 94M983 544q26-33 20-74M967 550q10 47 52 72M953 561q-22 28-16 63M953 561q56-36 68-102M951 545q17 53 68 77M942 525q24-50 4-101M970 534q-20 53 6 103M951 545q-3 8 2 16M951 545q-15 28-4 57M953 561q30 25 69 20M942 525q-14-17-36-18M951 545q33-42 25-94M983 544q45 2 77-29M970 534q-41-45-102-45M983 544q-53-2-91 36M983 544q11 27 39 37M983 544q-14 48 12 91M942 525q-2 20 11 36M970 534q-60-5-105 36M951 545q53 1 90-37M951 545q42-26 52-75M967 550q-22 38-9 79M967 550q-12 14-10 32M970 534q-46-54-117-57M951 545q62 21 119-10M967 550q-44-13-84 11M967 550q-12 14-10 32M970 534q-36 38-33 90M951 545q24-12 31-38M942 525q44 34 99 25M942 525q-2 20 11 36M953 561q-35-35-85-33M970 534q-26-28-64-27M983 544q33 26 75 20M942 525q-64 10-100 63M967 550q-57-36-122-18M983 544q63-4 103-53M967 550q17-18 15-43M983 544q-40 12-57 50M951 545q9 21 31 29M951 545q-5 20 6 37M970 534q9-43-17-78M983 544q-7-27-32-40M967 550q-36-52-99-61M967 550q47-34 54-91M970 534q-36 38-33 90M970 534q67 4 116-43M970 534q26 5 48-11M970 534q-44 49-37 114M942 525q-37 5-59 36M942 525q21-32 11-69M951 545q33-42 25-94M970 534q32-41 24-92M953 561q-29 39-20 87M967 550q26-34 18-76M953 561q27-70-7-137M967 550q37 48 97 54M951 545q-50-30-106-13M953 561q22-37 10-79M967 550q-15-24-43-29M967 550q-56 1-93 43M951 545q0 31 22 52M953 561q2 22 20 36M967 550q-15-24-43-29M970 534q-33-7-60 13M951 545q-15 44 7 84M983 544q-41 30-46 80M951 545q24-12 31-38M942 525q-14-17-36-18M953 561q-13-50-58-74M953 561q-22 28-16 63M983 544q21-18 21-46M953 561q-32 35-28 83M983 544q12 2 22-5M970 534q44-16 62-59M983 544q38-34 38-85M942 525q33-16 43-51M983 544q28 16 58 6M942 525q31-57 11-118M983 544q4-51-30-88M942 525q0 12 9 20M953 561q-34 17-44 54M951 545q21-44 2-89M970 534q36-54 21-118M942 525q-26 20-29 53M970 534q-17 21-13 48M942 525q-37-26-81-16M983 544q-31 37-25 85M970 534q35 13 69-4M967 550q58-37 70-104M983 544q-37-15-73 3M967 550q-7 25 6 47M942 525q72 6 125-44M970 534q-14-32-47-44M970 534q42-26 51-75M951 545q13 71 73 109M953 561q12 13 29 13M953 561q19-2 30-17M942 525q-43-6-77 21M953 561q3 56 47 92M953 561q9-2 14-11M951 545q-3 8 2 16M983 544q-4-8-13-10M967 550q37 37 89 35M951 545q62-7 98-58M967 550q30-18 37-52M951 545q0 31 22 52M970 534q35 13 69-4M967 550q49-23 65-75M983 544q-65 1-109 49M951 545q72-6 116-64M951 545q65-31 86-99M942 525q28 21 63 14M951 545q6 43 41 68M942 525q-37-26-81-16M951 545q-48-6-86 25M951 545q47 12 88-15M967 550q21 28 55 31M953 561q-32 35-28 83M983 544q-31 5-49 31M951 545q-15 28-4 57M942 525q38 16 76-2M951 545q-5-45-41-71M983 544q32-62 8-128M951 545q28 9 54-6M942 525q-5 32 15 57M942 525q-37 5-59 36M951 545q28 47 81 58M951 545q28 47 81 58M970 534q-12 32 3 63M951 545q62-7 98-58M942 525q54 62 137 64M967 550q-69-19-130 19M942 525q57-26 76-85M942 525q-37-26-81-16M967 550q-57-36-122-18M942 525q21-32 11-69M967 550q-56 1-93 43M970 534q-38 9-57 44M942 525q28 21 63 14M953 561q-27-28-65-27M951 545q-37-38-90-36M951 545q49 33 107 19M953 561q2-20-11-36M951 545q3-67-44-114M967 550q3-44-27-76M970 534q-44 49-37 114M970 534q42-26 51-75M951 545q5-50-29-87M951 545q-5-45-41-71M967 550q42 27 91 14M951 545q10-38-11-71M983 544q-50-62-130-67M967 550q-12 14-10 32M953 561q-47 21-64 70M967 550q-66 12-101 69M967 550q2 15 15 24M970 534q32 44 86 51M942 525q-8 63 34 112M970 534q-17-43-60-60M967 550q-7-6-16-5M951 545q75 12 134-35M967 550q-42 38-42 94M942 525q-5 32 15 57M970 534q-48 27-61 81M967 550q26-48 9-99M970 534q-16-55-67-80M942 525q13 83 82 129M967 550q40-17 55-58M951 545q70 4 120-45M970 534q35-10 52-42M951 545q-26 8-38 33M967 550q40-17 55-58M983 544q-17 24-10 53M970 534q-12 32 3 63M942 525q47 24 97 5M953 561q7-58-31-103M942 525q-49 19-68 68M967 550q-22 5-33 25M983 544q-21 13-26 38M983 544q-65 1-109 49M942 525q-15 23-8 50M951 545q38-61 19-131M970 534q-36 38-33 90M967 550q40-17 55-58M942 525q47 1 80-33M951 545q-14-29-45-38M951 545q-8-18-27-24M942 525q-37 5-59 36M967 550q58-37 70-104M970 534q35-10 52-42M983 544q28 16 58 6M951 545q56-17 81-70M953 561q-52-50-123-45M942 525q-5 32 15 57M970 534q-14 10-17 27M967 550q26-34 18-76M942 525q70 16 129-25M953 561q26-21 29-54M970 534q-20-17-46-13M942 525q16-43-5-84M970 534q-49 6-78 46M983 544q-51 37-58 100M967 550q25-58-2-116M983 544q-41 30-46 80M967 550q-45-33-99-22M970 534q-2-37-30-60M951 545q9 21 31 29M951 545q61 38 130 18M970 534q-38 9-57 44M942 525q16 19 41 19M967 550q17-18 15-43M953 561q-2-53-43-87M967 550q-12 14-10 32M942 525q-48 6-77 45M951 545q-38-7-68 16M967 550q-44-44-106-41M967 550q-30 13-41 44M970 534q26 5 48-11M951 545q16-55-14-104M967 550q-6 59 33 103M970 534q16 23 44 27M970 534q-50-25-102-6M970 534q20-51-5-100M983 544q-81 1-136 61M967 550q30-18 37-52M953 561q-2-53-43-87M970 534q-3 23 12 40M970 534q-26 29-23 68M942 525q6 55 50 88M983 544q-27-75-101-106M951 545q-3 8 2 16M983 544q8-68-37-120M983 544q-42-44-103-42M953 561q75-28 105-102M951 545q12-1 19-11M970 534q63 13 115-24M953 561q13-46-13-87M970 534q15 74 80 112M953 561q-14 49 13 92M951 545q-42 17-57 60M942 525q6 55 50 88M953 561q47-50 41-119M953 561q-21 11-27 33M967 550q-22 38-9 79M942 525q-8-6-18-4M942 525q16-43-5-84M970 534q-50-25-102-6M951 545q37-12 53-47M951 545q-48-6-86 25M970 534q35 13 69-4M951 545q28 34 71 36M983 544q38-34 38-85M983 544q-37-15-73 3M983 544q-61-55-143-48M970 534q-38-36-90-32M967 550q-22 5-33 25M970 534q-77 8-123 71M942 525q54-16 79-66M953 561q9-2 14-11M942 525q44-30 52-83M967 550q-6 59 33 103M967 550q42 27 91 14M953 561q50 3 86-31M970 534q-14-32-47-44M970 534q35-10 52-42M967 550q-45-33-99-22M983 544q22 26 56 28M970 534q-17-43-60-60M970 534q-60-5-105 36M953 561q-56-31-116-10M942 525q-15 56 16 104M970 534q16 10 35 5M951 545q-15 11-17 30M970 534q-5 7-3 16M983 544q4-35-20-62M942 525q28 21 63 14M970 534q50-6 79-47M970 534q-12-11-28-9M983 544q-3-76-61-126M942 525q-14-17-36-18M967 550q5-7 3-16M970 534q9-43-17-78M983 544q-66-36-138-12M983 544q38-54 24-119M983 544q-53 19-74 71M951 545q28 22 63 16M942 525q56-5 90-50M967 550q-22 5-33 25M983 544q63-4 103-53M951 545q38 4 67-22M967 550q25-58-2-116M970 534q-12 1-19 11M951 545q-16 57 15 108M953 561q-13-61-67-93M951 545q-34-56-98-68M942 525q1 77 58 128M983 544q33 26 75 20M942 525q37 0 62-27M967 550q31-2 51-27M953 561q-27-28-65-27M953 561q3-8-2-16M942 525q-15-29-47-38M942 525q-36 38-33 90M951 545q-29-19-63-11M970 534q-48 27-61 81M983 544q-31-48-88-57M953 561q34-77 0-154M967 550q-65-28-130 1M967 550q49-23 65-75M951 545q33-42 25-94M951 545q16 7 32-1M942 525q-42 29-48 80M983 544q11 66 67 102M983 544q-7-27-32-40M942 525q-2 20 11 36M951 545q0-12-9-20M983 544q-16-7-32 1M967 550q9 1 16-6M953 561q19-2 30-17M970 534q-5 7-3 16M953 561q2-20-11-36M967 550q-9 2-14 11M967 550q5-7 3-16M942 525q7 18 25 25M983 544q-16-7-32 1M967 550q9 1 16-6M983 544q-19 2-30 17M953 561q19-2 30-17M951 545q-3 8 2 16M983 544q-16-7-32 1M970 534q-12-11-28-9M951 545q7 6 16 5M970 534q4 8 13 10M942 525q0 12 9 20M953 561q14-10 17-27M970 534q-5 7-3 16M942 525q7 18 25 25M970 534q-12 1-19 11M953 561q19-2 30-17M951 545q-3 8 2 16M951 545q16 7 32-1M951 545q7 6 16 5M953 561q14-10 17-27M967 550q-7-6-16-5M951 545q16 7 32-1M951 545q-3 8 2 16M967 550q9 1 16-6M942 525q12 11 28 9M970 534q-5 7-3 16M970 534q-5 7-3 16M967 550q-9 2-14 11M970 534q-5 7-3 16M967 550q-7-6-16-5M967 550q9 1 16-6M967 550q-7-18-25-25M970 534q-14 10-17 27M953 561q19-2 30-17M951 545q12-1 19-11M967 550q-9 2-14 11M951 545q7 6 16 5M970 534q-5 7-3 16M967 550q-9 2-14 11M951 545q16 7 32-1M953 561q9-2 14-11M953 561q14-10 17-27M983 544q-19 2-30 17M953 561q2-20-11-36M967 550q-9 2-14 11M970 534q-5 7-3 16M953 561q3-8-2-16M951 545q7 6 16 5M953 561q14-10 17-27M970 534q4 8 13 10M970 534q-12 1-19 11M983 544q-16-19-41-19M983 544q-19 2-30 17M951 545q12-1 19-11M970 534q-14 10-17 27M967 550q-9 2-14 11M967 550q-7-6-16-5M967 550q-9 2-14 11M951 545q-3 8 2 16M967 550q-7-18-25-25M953 561q3-8-2-16M970 322q-4 60 37 103M991 316q-12 43 12 80M1001 377q36 9 68-11M991 316q3 11 14 16M1001 377q6 17 22 25M995 354q16 4 29-5M991 316q-23 14-29 40M970 322q7-16-1-32M995 354q29 32 72 33M1001 377q-41-12-78 10M995 354q-26 11-35 37M1001 377q-6-69-61-112M1001 377q34-34 32-82M1001 377q-52-7-93 27M995 354q-16 4-24 19M995 354q10 47 52 71M995 354q-40-9-73 15M991 316q-22 50 0 100M995 354q-8-57-55-89M970 322q24-22 23-55M970 322q-11-4-22 1M991 316q-10-27-37-37M1001 377q-38 11-55 47M991 316q22 22 53 20M991 316q30-19 36-54M1001 377q13-64-26-116M970 322q42-17 57-60M1001 377q-52-7-93 27M1001 377q12-22 4-45M991 316q17-34 4-69M1001 377q18 17 43 15M970 322q57 21 111-6M970 322q-34 13-48 47M995 354q-52-20-101 5M970 322q-12-16-31-18M991 316q18 43 61 59M1001 377q-14-63-69-95M995 354q41-22 53-68M970 322q46 20 92-1M970 322q-34 46-24 102M1001 377q4-75-49-129M995 354q-40-9-73 15M995 354q37 38 90 36M991 316q-6 20 4 38M991 316q-3 50 32 86M995 354q-33 4-52 30M970 322q34 23 74 14M991 316q28 42 78 50M1001 377q-31 4-48 30M991 316q-12-2-21 6M995 354q6-20-4-38M995 354q-28-21-62-15M995 354q29 32 72 33M970 322q-49 27-62 82M995 354q19-28 11-61M991 316q-14-37-51-51M991 316q-47-5-83 26M1001 377q-26-34-68-38M995 354q-33 17-42 53M1001 377q30-46 17-99M1001 377q5 28 29 43M970 322q-34 13-48 47M991 316q-6 20 4 38M991 316q31 58 94 74M995 354q10 47 52 71M995 354q29-9 42-37M995 354q19-28 11-61M1001 377q12-22 4-45M995 354q-17-26-47-31M970 322q47-1 78-36M995 354q-40-9-73 15M995 354q-6-10-18-12M991 316q18 43 61 59M970 322q5 22 25 32M995 354q28-33 23-76M991 316q38-12 54-48M991 316q28 42 78 50M1001 377q-31-9-58 7M970 322q-11 26 1 51M1001 377q47 7 84-22M995 354q19-12 23-34M991 316q22 22 53 20M1001 377q-15-39-53-54M1001 377q-26-34-68-38M991 316q-8 33 10 61M1001 377q11-45-14-84M1001 377q11-45-14-84M991 316q-23-6-43 7M995 354q-30-37-77-40M1001 377q12 34 46 48M995 354q-20 44-1 88M991 316q4-31-16-55M970 322q9 52 53 80M1001 377q-14-9-30-4M1001 377q-19-73-85-108M1001 377q18-9 23-28M970 322q12 2 21-6M991 316q13-8 15-23M991 316q-8 33 10 61M995 354q32-21 38-59M1001 377q-41-12-78 10M995 354q-2 13 6 23M991 316q-32 31-31 75M995 354q-33 33-30 80M970 322q29 45 82 53M991 316q3 11 14 16M995 354q28-33 23-76M1001 377q-28-50-83-63M991 316q34 18 71 5M995 354q-20 44-1 88M970 322q24 10 48-2M1001 377q-41-12-78 10M970 322q29 45 82 53M995 354q29 32 72 33M970 322q50 42 115 33M991 316q-50 21-68 71M995 354q14 18 37 19M995 354q-51 16-73 64M1001 377q31 20 66 10M1001 377q12-22 4-45M995 354q-16 30-4 62M970 322q9 52 53 80M1001 377q-48-45-113-40M995 354q-16-50-63-72M995 354q-40-9-73 15M995 354q-16 30-4 62M1001 377q38-52 26-115M970 322q20 39 62 51M1001 377q11-45-14-84M991 316q-5-18-22-26M995 354q-16 4-24 19M991 316q-6 20 4 38M1001 377q-25-17-54-10M991 316q-12-2-21 6M991 316q-8 33 10 61M970 322q24-22 23-55M995 354q-8-57-55-89M995 354q-41-25-87-12M970 322q-27 25-27 62M991 316q-36-17-73-2M991 316q-23 14-29 40M970 322q7-41-18-74M991 316q-34-1-58 23M995 354q-26 11-35 37M970 322q22 51 74 70M970 322q34 23 74 14M991 316q-23 14-29 40M1001 377q-39-2-67 26M991 316q3 11 14 16M995 354q28 2 49-18M995 354q-17-6-33 2M970 322q24 10 48-2M991 316q38-12 54-48M995 354q3 30 28 48M995 354q6-20-4-38M970 322q24-7 36-29M991 316q-6 20 4 38M995 354q-17-37-56-50M991 316q38-12 54-48M970 322q22 51 74 70M970 322q-27 39-17 85M1001 377q-26-34-68-38M995 354q-10 38 12 71M1001 377q-26-34-68-38M1001 377q-39-49-101-54M970 322q47-1 78-36M995 354q-8-57-55-89M970 322q29 67 99 91M967 550q-7-18-25-25M782 446q-6-23-26-34M1213 333q-1-12-10-19M1111 380q4-13-3-25M953 561q-12 19-6 41M840 496q8 11 21 13M1181 427q7 15 22 20M1138 435q-3 13 4 24M982 507q13 0 22-9M1098 205q-11-1-19 7M969 225q-3-15-17-23M1085 355q-4-22-23-34M1019 622q-16 11-19 31M908 342q8-22-3-43M1023 402q-11 18-5 38M842 588q5 21 24 31M922 369q-14 2-22 14M782 446q4-19-8-35M1060 515q14 3 25-5M924 521q6-16-1-31M929 215q-14-14-34-13M906 507q-23-9-45 2M1071 500q5 8 14 10M933 339q-24 1-39 20M871 420q-8 7-9 18M1149 405q-13-1-23 8M1149 405q12-13 10-30M1180 355q-9-5-19-2M905 299q-20-8-39 1M842 450q-24 4-38 25M865 321q5-10 1-21M1044 392q-13 11-14 28M1203 447q13-14 12-33M1054 216q17 13 37 9M880 397q1 11 10 18M934 403q-7 20 3 38M1064 604q12 19 34 24M973 597q-24 6-36 27M937 624q-16 3-24 17M1127 244q-14-17-36-19M1091 414q18 7 35-1M787 356q-8 7-9 18M1040 631q2-16-8-28M1196 399q20-14 24-38M1180 373q4-9 0-18M1024 349q8 19 28 26M1003 470q-10-2-18 4M771 337q16 9 34 4M783 312q7 9 18 11M971 181q-18-3-33 9M975 261q14-14 13-33M1040 631q18-8 24-27M965 434q-9-22-31-31M863 404q2 21 19 34M758 452q6 15 21 21M1049 487q-14 19-10 43M1166 519q14-19 10-43M817 294q-9-9-22-8M977 342q-11 4-15 14M1058 564q-21-11-44-3M971 181q14 5 27-1M1018 523q9-15 4-31M951 545q9-20 0-41M869 347q-5-22-24-34M1228 393q-6 17 2 33M1108 408q8 6 18 5M992 613q22-9 30-32M1111 296q-14-7-29-1M925 644q10-7 12-20M926 594q-1 17 11 30M909 198q-8-1-14 4M816 452q13 5 26-2M953 456q24 2 41-14M977 342q-10 14-6 31M940 265q22-4 34-23M894 263q-10-3-19 3M808 406q3-20-10-36M758 392q13 8 27 4M1159 488q6-12 2-24M1215 414q-3 22 12 39M1180 373q17-6 23-23M988 228q-6 21 5 39M1006 293q-13 8-15 23M1173 570q-17 8-23 26M1183 525q-3 13 5 24M1070 535q16 5 31-4M1138 435q-9-5-19-1M1227 453q-11-8-24-6M758 392q13 8 27 4M1048 286q-22 10-30 34M869 347q-11-12-27-12M1099 310q5-23-8-43M985 474q-9 16-3 33M991 416q14-17 10-39M940 265q-8 7-8 17M1005 539q-4-21-23-32M761 469q20 12 43 6M973 597q-14-3-26 5M951 504q-23-8-45 3M1060 300q17 14 39 10M894 359q12 11 28 10M1003 470q14-12 15-30M814 384q-16-13-36-10M925 644q10-7 12-20M922 418q-15-9-32-3M869 347q21-5 31-24M966 653q18-3 29-18M890 415q-9 10-8 23M1134 606q10-12 8-27M991 316q-23-6-43 7M1032 373q10 5 20 2M953 407q0 16 12 27M958 629q21-1 34-16M1142 579q7-19-2-38M994 442q10 14 27 17M1069 366q3 16 16 24M888 337q22 11 45 2M1022 581q0 13 10 22M837 551q-14 11-15 28M967 550q9 1 16-6M1093 373q-10 20-2 41M1126 391q8-15 2-30M854 357q13-16 11-36M784 428q-18 6-26 24M970 414q-14 0-24 10M922 369q-22-4-40 9M889 631q-9-11-23-12M803 512q-1 11 6 19M1091 414q-11-5-22-1M983 398q0-15-12-25M1132 302q0-13-10-21M830 362q14 14 34 13M970 414q20-2 33-18M939 304q13-9 15-25M1121 218q-5 24 9 44M842 450q0 16 11 27M1203 447q-25-1-42 17M1069 366q3 16 16 24M908 342q11-12 10-28M1014 561q0 12 8 20M970 534q-14 10-17 27M1139 482q-14-11-32-7M1196 399q20-14 24-38M818 546q-5 17 4 33M911 230q-19 2-30 18M1060 300q12 2 22-5M795 286q-1 11 7 19M1047 425q6-17-3-33M1223 473q6-9 4-20M859 282q-14-7-29-2M814 384q-8 10-6 22M1032 475q17-2 26-16M1173 570q12-7 15-21M1054 216q24 4 44-11M801 440q-6 8-4 18M1015 234q-1-13-11-21M1136 376q-13 16-10 37M970 414q10-20 1-41M994 442q-11 1-18 9M1220 361q-23-3-40 12M1091 414q-24-4-44 11M784 428q16 7 32-1M1032 603q17 17 41 16M1083 469q2 19 18 31M826 477q-8 10-5 23M1150 336q17-7 23-24M1060 515q1-16-11-28M1150 336q-16-3-29 6M976 451q-2-11-11-17M822 579q8 9 20 9M937 624q-7 11-4 24M845 532q2 23 20 38M1098 205q-13-13-31-12M1018 320q13-9 15-25M1230 426q6-17-2-33M946 424q-8 7-9 17M1119 434q-10-16-28-20M1199 425q-23-6-43 7M982 574q-10 10-9 23M1130 262q12-12 12-29M1032 475q-9 6-10 17M796 548q11-16 7-36M1156 554q-13-17-35-19M1166 519q4 20 22 30M805 341q10 4 19 0M830 280q-19-5-35 6M899 280q-1 11 6 19M1069 413q-8-16-25-21M995 247q-9-7-21-5M1173 312q0 12 9 21M1081 563q-23-5-42 9M817 294q-9-9-22-8M1079 212q-13-4-25 4M1022 492q-15-17-37-18M947 602q-10 9-10 22M888 337q9 7 20 5M905 299q-8 22 3 43M908 342q-21 12-26 36M861 221q10 0 17-8M805 341q-21 11-27 33M909 615q-14 4-20 16M967 550q-22 5-33 25M785 396q-13-8-27-4M900 323q13 15 33 16M923 490q-6 16 1 31M1112 517q9 18 28 24M756 412q18-2 29-16M923 490q12-4 17-16M933 339q11-16 6-35M1023 402q-6-17-22-25M864 375q16 12 36 8M1132 302q18 14 41 10M1099 337q9 18 29 24M1126 571q-21-14-45-8M1027 262q5 17 21 24M1156 432q-13 10-14 27M1086 491q-18-10-37-4M908 342q-21-6-39 5M875 266q-11-20-34-26M1004 213q1 13 11 21M1049 487q-6-10-17-12M875 266q20 11 41 3M784 428q16 7 32-1M1121 218q7 12 21 15M861 221q21-2 34-19M772 503q12 22 37 28M906 507q6 11 18 14M1058 459q2-19-11-34M1032 603q16 8 32 1M1108 355q9 7 20 6M1067 481q11-2 16-12M1111 380q3-24-12-43M991 416q-17 3-26 18M1228 393q-11 8-13 21M916 269q-12 13-11 30M908 342q13 4 25-3M765 358q11 4 22-2M1126 391q8-15 2-30M994 442q-6-19-24-28M842 588q-1 10 5 17M938 190q4 9 14 12M805 341q8 16 25 21M869 347q10 12 25 12M861 509q-1 11 7 19M1023 402q0 11 7 18M911 230q-13-16-33-17M1111 296q-19 3-30 20M1099 337q6-14 0-27M1122 281q19 9 39 1M1048 353q8 11 21 13M1049 189q8 6 18 4M771 337q-5 20 7 37M1114 585q15 3 28-6M828 249q23-7 33-28M759 430q2-10-3-18M837 551q4-19-7-35M864 375q-11 5-14 16M1199 425q10-2 16-11M965 434q13 10 29 8M1203 447q3-12-4-22M970 534q-5 7-3 16M995 247q-9-7-21-5M976 637q8 13 24 16M1183 500q18 3 32-8M1079 589q21-13 25-37M894 263q-3-10-13-15M1097 580q10-12 7-28M778 374q11 2 20-4M1069 413q0-23-17-38M965 434q7-23-5-43M1159 375q6-11 2-22M1230 426q-15-7-31-1M916 269q-9 23 2 45M1111 296q9-5 11-15M952 248q-1 25 17 42M758 392q5 24 26 36M1161 353q15-18 12-41M859 282q-2-14-13-22M781 523q2 16 15 25M842 335q15-2 23-14M797 458q-5-9-15-12M865 321q15-14 15-35M934 403q-20 8-27 28M1111 296q-15 18-12 41M1101 500q9 5 19 1M1156 554q5 12 17 16M913 641q5 4 12 3M976 208q1 24 19 39M808 568q18-2 29-17M1121 342q-9 4-13 13M1030 420q-8-18-27-24M845 295q19 3 35-9M1085 510q12 9 27 7M938 190q4 9 14 12M853 477q18 3 33-9M778 374q21-11 27-33M835 432q-19-3-34 8M1213 333q-21 4-33 22M1115 325q1-25-16-42M1180 355q-9-5-19-2M850 391q4 19 21 29M934 403q-9 5-12 15M765 358q24 0 40-17M1000 653q16-11 19-31M1165 417q-8 6-9 15M1049 189q-14-10-30-6M809 531q-3-24-22-38M803 512q-4-13-16-19M913 578q-10 18-4 37M826 477q3 13 14 19M1047 425q-20 11-26 34M932 282q11-23 2-46M934 575q-6-19-24-28M779 473q0 12 8 20M1003 470q-19 14-21 37M894 359q11-17 6-36M889 631q-9-11-23-12M1005 332q9-3 13-12M861 247q10 5 20 1M1060 300q-16 14-16 36M1048 353q2-9-4-17M933 339q11-16 6-35M845 295q19 3 35-9M1162 581q20-10 26-32M995 635q23 8 45-4M1196 399q-14-8-30-3M842 450q-13-5-26 2M1227 453q3-22-12-39M1177 274q3 10 13 15M861 509q-8-11-21-13M1003 396q-27 11-38 38M1032 475q14 21 39 25M973 597q0-31-22-52M835 432q10-26-3-51M923 490q-27 14-35 44M907 431q-24-6-45 7M903 454q-30 0-50 23M861 509q-1 11 7 19M1078 446q8 21 29 29M940 474q-24 9-34 33M1039 530q-20 22-17 51M1067 481q22 22 53 20M1023 402q-13 8-16 23M953 561q-6-26-29-40M1049 487q13 19 36 23M862 438q8-17 1-34M994 442q30 3 53-17M910 547q-22-10-45-1M1052 375q0 23 17 38M962 356q-11-15-29-17M882 378q-31-1-53 21M977 342q4 23 24 35M985 474q23 11 47 1M1032 475q-2-10-11-16M973 597q7-25-6-47M886 468q12-3 17-14M888 534q-29-3-51 17M1021 459q8 20 28 28M861 509q-31 0-52 22M1032 475q27 8 51-6M1041 508q22 11 44 2M1091 414q0-29-22-48M1091 414q-23 5-35 26M1032 373q-11 23-2 47M992 613q20 20 48 18M890 415q-2 22 13 39M937 441q5 11 16 15M1041 550q17 15 40 13M880 397q-10 10-9 23M995 354q-26 11-35 37M922 369q-26 16-32 46M853 477q-14-6-27 0M1049 487q13 19 36 23M934 403q16 13 36 11M1086 491q-18 6-26 24M970 414q6 19 24 28M991 416q6 28 30 43M1086 491q24-8 35-31M1085 510q19 3 35-9M947 367q21-17 23-45M1085 510q27 14 56 3M1047 425q24 4 44-11M1070 535q-18 22-14 50M992 613q4-22-10-39M960 391q-25 5-38 27M830 516q7-20-4-39M1071 500q8 22 30 31M1030 420q18 24 48 26M861 509q-18-13-40-9M1069 413q28 13 57 0M888 534q21 1 36-13M994 442q-13-27-41-35M882 378q12-19 6-41M982 574q-10 10-9 23M1102 442q-5 18 5 33M862 438q4-26-12-47M865 570q7 24 29 35M1060 515q11-28-2-56M900 383q26-15 33-44M1047 425q-7-17-24-23M906 507q-1-24-20-39M835 432q-25 5-38 26M1058 459q26-15 33-45M865 570q-10 25 1 49M973 597q-23-12-47-3M853 420q-12 13-11 30M1069 413q-23 9-32 33M862 438q8-7 9-18M1039 572q16 17 40 17M880 397q-8 21 2 41M845 532q-8 8-8 19M937 441q22-20 23-50M903 454q2-22-13-39M983 398q-11-23-36-31M940 474q-15-7-30 0M835 432q10-26-3-51M998 591q-6-27-31-41M886 468q14 19 37 22M963 482q13-13 13-31M924 521q-18-19-44-19M826 477q-4-24-25-37M1039 530q14-3 21-15M1091 414q10 1 17-6M1069 413q28 13 57 0M1056 440q23-5 35-26M967 550q2 15 15 24M992 613q12 10 27 9M1056 585q-9 18-1 37M1018 523q11 29 40 41M953 561q-24 0-40 17M913 578q-15 9-19 27M926 594q8 25 32 35M895 487q25 3 45-13M946 424q9 20 30 27M865 546q14-1 23-12M1102 442q10 28 37 40M962 356q-24 17-28 47M868 462q8 18 27 25M1067 481q7 9 19 10M861 509q-8-11-21-13M871 420q-21-2-36 12M970 414q10-5 13-16M1003 396q-10 7-12 20M910 474q14 24 41 30M1052 375q3-12-4-22M900 383q11 7 23 4M951 545q-8-18-27-24M982 574q19 1 32-13M1085 510q-5-8-14-10M992 613q8-10 6-22M1101 531q-17-17-41-16M1112 517q7-22-5-42M1039 572q23 5 42-9M1107 475q-19 13-22 35M1097 601q21-9 29-30M1101 500q19-16 20-40M1166 519q-3 9 2 18M1156 554q20-9 27-29M1055 622q19-11 24-33M1097 580q2 23 20 38M1098 628q12-1 19-10M1114 585q25 9 48-4M1159 488q16-18 13-41M1156 554q-12 9-14 25M1142 459q2 18 17 29M1086 491q-18 6-26 24M1112 517q21-12 27-35M1191 462q-11 4-15 14M1097 601q0-23-16-38M1156 554q5 12 17 16M1086 491q-9 1-15 9M1081 563q26-5 40-28M1159 488q16-18 13-41M1141 513q-17 16-16 40M1203 521q-5-15-20-21M1215 492q-5-20-24-30M1176 476q24 9 47-3M1097 580q2 23 20 38M1070 535q-14-9-31-5M1121 535q13 17 35 19M1071 500q2-10-4-19M1166 519q-3 9 2 18M1150 596q12-20 6-42M1086 491q-18 18-16 44M1166 519q3-17-7-31M1107 475q-8-21-29-29M1114 585q-18-6-35 4M1183 525q-25-1-43 16M1125 553q-13 14-11 32M1125 553q10-3 15-12M1097 601q12-4 17-16M1159 488q-3 17 7 31M1081 563q4 12 16 17M1060 515q24 2 41-15M1114 585q-6 17 3 33M1060 515q-14 3-21 15M1139 482q20 5 37-6M1215 492q8-8 8-19M1215 492q-23 9-32 33M1060 515q-14 3-21 15M1183 525q-15 20-10 45M1064 604q-7 19 2 37M1126 571q-16-2-29 9M1058 564q-5-11-17-14M1039 530q14 9 31 5M1215 492q-12 12-12 29M1215 492q-16-17-39-16M1121 460q11 4 21-1M1121 535q1 27 21 44M1142 459q-6-18-23-25M1215 492q-4-11-14-15M1215 492q-23 9-32 33M1083 469q-13 13-12 31M1064 604q-16-8-32-1M1188 549q-4-20-22-30M1156 554q17 5 32-5M1141 513q11 8 25 6M1121 535q-26 5-40 28M1161 464q12-23 4-47M1079 589q-11 4-15 15M1201 477q-12-6-25-1M1120 501q10-20 1-41M1117 618q11-2 17-12M1049 487q13 19 36 23M1176 476q11-4 15-14M1081 563q24 5 44-10M1166 519q-11-8-25-6M1071 500q15 7 30 0M1168 537q-25-1-43 16M1140 541q18-5 26-22M1166 519q-18 5-26 22M1161 464q-15 4-22 18M1215 492q-4-11-14-15M1070 535q-1-12-10-20M1139 482q-14-11-32-7M1098 628q-12-19-34-24M1156 554q20-9 27-29M1141 513q14-9 18-25M1098 628q-11-10-25-9M1176 476q-11 2-17 12M822 579q8 9 20 9M895 487q7 23 29 34M761 469q8 6 18 4M913 578q21 12 44 4M913 578q11 3 21-3M781 523q0-12-9-20M782 446q-16 7-21 23M801 440q-11-1-19 6M861 509q-10-24-35-32M923 490q12-4 17-16M906 507q-23-9-45 2M822 579q-5-9-14-11M796 548q24-9 34-32M865 570q22 15 48 8M888 534q-8 24 4 46M883 561q8-12 5-27M923 490q2 22 19 35M868 462q12-9 14-24M816 427q8 17 26 23M772 503q10-13 7-30M847 605q16 0 27-12M781 523q12 10 28 8M910 547q7-21-4-40M888 534q-19 13-23 36M779 473q-1-26-20-43M779 473q-6-15-21-21M826 477q-19 12-23 35M923 490q-12 5-17 17M840 496q-23 11-31 35M797 458q-18-12-39-6M808 568q9-18 1-37M883 561q17-1 27-14M874 593q-10 11-8 26M874 593q12-3 18-13M808 568q9-18 1-37M903 454q-7-13-21-16M868 462q19 4 35-8M781 523q25-3 40-23M837 551q-10-16-28-20M782 446q11 1 19-6M782 446q11 1 19-6M845 532q5-19-5-36M842 450q4 25 26 39M862 438q5 20 24 30M767 487q1-10-6-18M767 487q3-19-9-35M801 440q-7-20-27-29M886 468q5-16-4-30M809 531q13-13 12-31M781 523q2 16 15 25M816 427q-16-7-32 1M868 489q-16-3-28 7M787 493q12-5 17-18M886 468q5-16-4-30M842 450q-8-17-26-23M847 605q16 0 27-12M842 588q21-16 23-42M796 548q24-9 34-32M886 468q20 3 36-10M816 427q8 7 19 5" fill="none" stroke="#4450a8" stroke-width="0.55" stroke-opacity="0.66" stroke-dasharray="2.2 0.9"/>
<path d="M942 525q-24 48-5 99M967 550q-47 34-54 91M970 534q4 8 13 10M953 561q2 22 20 36M970 534q-20 53 6 103M951 545q-8-18-27-24M953 561q-14 49 13 92M942 525q-50 41-53 106M983 544q-7 15-1 30M953 561q56-7 88-53M953 561q36-50 23-110M983 544q45 2 77-29M970 534q-3 23 12 40M942 525q33-16 43-51M983 544q-7-27-32-40M953 561q-14 49 13 92M953 561q19-2 30-17M942 525q-37-26-81-16M953 561q14-10 17-27M951 545q12-1 19-11M951 545q-24 36-14 79M983 544q12 2 22-5M983 544q-18-40-60-54M951 545q-14-29-45-38M953 561q14-10 17-27M983 544q4-35-20-62M983 544q0-62-46-103M951 545q-15 28-4 57M983 544q22-3 35-21M970 534q50-6 79-47M967 550q6 27 31 41M951 545q28 9 54-6M942 525q-43-6-77 21M970 534q9-43-17-78M942 525q-2 20 11 36M951 545q-38-7-68 16M983 544q-3 27 15 47M951 545q47-11 71-53M983 544q28-49 11-102M953 561q7-58-31-103M983 544q-58 11-89 61M942 525q20-17 21-43M970 534q-20-17-46-13M970 534q12-11 12-27M953 561q31 0 52-22M951 545q20-29 12-63M983 544q0-62-46-103M970 534q58 5 101-34M967 550q42 27 91 14M942 525q12 11 28 9M951 545q24-12 31-38M983 544q-59-25-118 2M953 561q36-50 23-110M953 561q47-50 41-119M951 545q7 6 16 5M953 561q-22 28-16 63M942 525q47 1 80-33M970 534q14 64 70 97M983 544q-65-13-118 26M967 550q-12 14-10 32M970 534q-49 6-78 46M970 534q35 13 69-4M942 525q44 66 122 79M951 545q-8 52 25 92M953 561q46 35 103 24M970 534q-49 6-78 46M970 534q-2-37-30-60M942 525q33-16 43-51M942 525q33-16 43-51M951 545q-48-6-86 25M953 561q-24-46-73-59M942 525q54-16 79-66M953 561q41 24 86 11M942 525q6 55 50 88M970 534q8-28-7-52M983 544q-42 2-70 34M983 544q-4-8-13-10M942 525q47 1 80-33M942 525q2 67 53 110M983 544q4-51-30-88M953 561q-39 9-59 44M970 534q-3 23 12 40M967 550q37 16 74 0M942 525q-15 23-8 50M951 545q7 6 16 5M953 561q13-46-13-87M970 534q-44 49-37 114M967 550q9 1 16-6M1159 375q-22-32-60-38M1159 375q-2-32-27-53M1159 375q-2-32-27-53M1159 375q-25-8-48 5M1159 375q-1 12 7 21M1159 375q-33-26-74-20M1159 375q34 6 61-14M1159 375q11-36-8-68M1159 375q-25-8-48 5M1159 375q31 24 69 18M1159 375q-33-16-66-2M1159 375q0 31 22 52M1159 375q-9 39 13 72M1159 375q-14 28-3 57M1159 375q-24 25-21 60M1159 375q6-11 2-22M1159 375q-21-21-51-20M1159 375q21-28 14-63M1159 375q-1 12 7 21M1159 375q-12-14-31-14M1159 375q35-21 44-61M1159 375q-21-21-51-20M1159 375q13 20 37 24M1159 375q9 34 40 50M1159 375q-21-21-51-20M1159 375q-43 21-57 67M1159 375q6-11 2-22M1159 375q21-46 2-93M1159 375q28-3 44-25M1159 375q-33 21-40 59M1159 375q-22-32-60-38M1159 375q13 20 37 24M1159 375q-6 22 6 42M1159 375q6-11 2-22M1159 375q21-16 23-42M1159 375q-43-24-90-9M1159 375q-12-25-38-33M1159 375q34 6 61-14M1159 375q-32-37-81-38M1159 375q-14 28-3 57M1159 375q-12-14-31-14M1159 375q36-9 54-42M1159 375q-33-26-74-20M1159 375q-1 12 7 21M1159 375q34 6 61-14M1159 375q4-21-9-39M1159 375q11-36-8-68M1159 375q-33 21-40 59M1159 375q21-16 23-42M1159 375q21-16 23-42M1159 375q6 46 44 72M1159 375q-49-14-92 12M1159 375q21-28 14-63M1159 375q-24 25-21 60M1159 375q-3 51 32 87M1159 375q-1 12 7 21M1159 375q13 20 37 24M1159 375q-12-5-23 1M1159 375q-12-5-23 1M1159 375q4-21-9-39M1159 375q21 5 38-7M1159 375q9 34 40 50M1159 375q11 4 21-2M1159 375q-33-16-66-2M1159 375q35-21 44-61M1159 375q9 34 40 50M1159 375q-21-21-51-20M1159 375q21-16 23-42M1159 375q21-28 14-63M1159 375q23 14 49 7M1159 375q11-36-8-68M1159 375q6-11 2-22M1159 375q13 20 37 24M938 190q18 3 33-9M918 314q9-34-10-64M970 322q24-22 23-55M841 240q8 8 20 7M952 248q-17-18-41-18M976 208q17-9 22-28M1028 206q14-4 21-17M909 198q-25 19-28 50M922 369q7 12 21 15M865 321q-15 2-23 14M1044 336q16-14 16-36M970 322q-21 17-23 45M866 300q-9 24 3 47M892 231q-18 25-12 55M970 322q-1 12 7 20M1081 316q10 1 18-6M1079 212q-23 4-35 24M894 263q-17 21-13 47M1091 225q-9 21 0 42M908 342q-17-20-43-21M894 359q24-1 39-20M894 263q32 5 58-15M1062 321q4-11-2-21M1024 349q-31 15-41 49M1091 267q24 16 51 9M881 248q19-2 30-18M846 260q-20-4-37 9M952 202q-21-11-43-4M1037 317q-1 11 7 19M861 221q4 18 20 27M969 290q8 5 18 3M880 286q-24-14-50-6M977 342q-10-16-29-19M894 359q25 16 53 8M934 403q-10-31-40-44M842 335q-12 11-12 27M995 247q-9-7-21-5M1067 193q-22-16-48-10M1060 300q-12-8-27-5M845 313q-5 24 9 44M1054 216q-24-12-50-3M1062 321q4 12 16 16M1079 212q-24-14-51-6M987 293q0 23 18 39M1054 216q-24 17-27 46M1015 234q-8 23 3 44M861 221q-3 26 14 45M878 213q-24 5-37 27M1044 236q32 13 63-2M900 323q-9 4-12 14M998 180q-4 18 6 33M923 387q-34-5-60 17M905 299q29 1 49-20M1004 213q24 12 50 3M894 263q-3-10-13-15M878 213q-13 26-3 53M974 242q-2-25-22-40M1099 283q20-4 31-21M971 373q-1-10-9-17M953 407q-33-10-63 8M869 347q-31-17-64-6M1015 234q13-25 4-51M993 267q10 11 25 11M939 304q-24 1-39 19M894 359q24-1 39-20M892 231q20 12 42 5M991 316q12-24 2-49M977 342q16 1 28-10M947 367q20-6 30-25M1079 212q9 17 28 22M1033 295q18-27 11-59M932 282q-25 25-24 60M998 180q-16 22-10 48M1028 206q11 11 26 10M971 181q-11 22-2 44M1091 225q-9 31 8 58M1027 262q-12-26-39-34M900 383q14-2 22-14M988 228q26 16 56 8M1049 189q-27 15-34 45M995 247q-1-24-19-39M939 304q-15-21-40-24M969 225q-20-2-35 11M969 290q18 10 37 3M952 248q-32-5-58 15M846 260q-8 17-1 35M918 314q-11 1-18 9M1049 189q-31-8-58 9M1044 336q-5 21 8 39M861 247q29 2 50-17M1091 225q3 35 31 56M933 339q2 32 27 52M947 367q22 27 56 29M1077 247q18 0 30-13M970 322q1-25-16-43M1044 336q12-4 18-15M934 236q1 26 20 43M888 337q33 6 60-14M842 335q23 11 46 2M960 391q24 2 41-14M1015 234q-22-5-41 8M971 373q20 26 52 29M1044 236q-27-5-49 11M1006 293q-19 28-11 61M1032 373q23 20 53 17M861 221q23 16 50 9M948 323q0 20 14 33M908 342q-11 5-14 17M882 378q-4 20 8 37M954 279q-26-21-60-16M1172 447q29-7 43-33M1111 296q-19-19-46-17M1078 337q0 11 7 18M1191 462q-6-12-19-15M1081 316q-22-9-44 1M1172 447q-9 6-11 17M1159 488q11-2 17-12M1091 414q10-31-6-59M1180 373q-5-14-19-20M1052 375q5-21-8-39M1182 333q-17-6-32 3M1085 390q-23-20-53-17M1099 337q26 11 51-1M1201 477q-17-15-40-13M1078 446q23 3 41-12M1078 337q-1-22-18-37M1161 353q-17 23-12 52M1203 314q-2 27 17 47M1230 426q6-17-2-33M1111 380q-7-29-33-43M1176 476q-20-5-37 6M1196 399q6 12 19 15M1228 393q-6 17 2 33M1161 464q9-6 11-17M1139 482q20-21 17-50M1128 361q1-11-7-19M1056 440q-8-26-33-38M1182 333q0-12-9-21M1093 373q21 11 43 3M1150 336q7 25 30 37M1108 355q-30-14-60-2M1176 476q-14 19-10 43M1220 361q-6-9-17-11M1069 366q22 3 39-11M1138 435q-1 31 21 53M1208 382q-4 18 7 32M1199 425q4-14-3-26M1220 361q-19-12-40-6M1126 391q8 12 23 14M1081 316q-23 2-37 20M1156 432q23 6 43-7M1044 392q-18-17-43-15M1172 447q9-8 9-20M1161 464q5 9 15 12M1111 296q-19 3-30 20M1191 462q-11 4-15 14M1078 446q-13 15-11 35M1056 440q7 20 27 29M1115 325q4-15-4-29M1150 336q11 16 30 19M1083 469q25 19 56 13M1044 392q12-28 0-56M1161 353q9 5 19 2M1181 427q25 10 49-1M1227 453q-15 17-12 39M1056 440q-11-1-19 6M1196 399q6 12 19 15M1099 310q-5-11-17-15M1119 434q-10 0-17 8M1199 425q-28 11-38 39M1220 361q-3 18 8 32M1161 353q28 17 59 8M1151 307q10 7 22 5M1093 373q-16 1-26 14M1181 427q-6-9-16-10M1111 380q-28-15-59-5M1102 442q-15 9-19 27M1227 453q-6 9-4 20M1121 342q-21-1-36 13M1228 393q3-18-8-32M1093 373q7 7 18 7M1099 310q9-4 12-14M1056 440q26-19 29-50M1126 413q-28-13-57 0M1111 380q14 21 38 25M1044 392q-5 27 12 48M1150 336q-20-24-51-26M1196 399q11 21 34 27M1121 460q5-13-2-26M1099 337q9 18 29 24M1161 464q-29 9-41 37M1108 355q-1-11-9-18M1203 314q-15-8-30-2M1132 302q-15 29-4 59M1156 432q-10-2-18 3M1099 337q1 11 9 18M1099 337q20 0 33-15M1215 414q4-18-7-32M1180 373q2 17 16 26M1159 375q-25 12-33 38M1052 375q0 23 17 38M1078 446q23 3 41-12M1203 314q-14-25-42-32M1099 337q24-10 33-35M1220 361q-11 8-12 21M1108 408q9 20 30 27M1142 459q11 30 41 41M1159 488q-21 22-19 53M1228 393q-11 8-13 21M1228 393q-17-4-32 6M863 404q7-14 1-29M871 420q23-12 29-37M797 458q0-18-13-30M842 450q-11 23-2 46M900 383q-12 14-10 32M787 356q19-22 15-51M798 370q-25 2-40 22M758 452q34 0 58-25M900 383q13-30 0-60M871 420q-22 25-18 57M824 341q-14-24-41-29M778 374q30-6 46-33M801 323q9 3 18-2M774 411q17 17 42 16M830 362q13 3 24-5M797 458q24 6 45-8M826 477q-7 20 4 39M782 446q4-19-8-35M801 440q-6 8-4 18M830 362q-30 7-45 34M814 384q16-30 5-63M871 420q-3 27 15 48M863 404q11 11 27 11M814 384q10 2 18-3M830 362q12-11 12-27M853 420q-13 28 0 57M771 337q18 0 30-14M826 477q6-27-10-50M824 341q-30 6-46 33M894 359q-14 27-4 56M842 335q-15 21-10 46M801 323q-7-9-18-11M797 458q-5-9-15-12M778 374q-3-11-13-16M865 321q-15 2-23 14M758 392q-5 10-2 20M782 446q-17 17-15 41M880 397q-3-15-16-22M784 428q17-6 24-22M832 381q-5-26-27-40M1058 564q12 5 23-1M1070 535q-23-17-52-12M1139 482q30 1 52-20M1114 585q14-23 7-50M1104 552q20 2 36-11M1125 553q2-10-4-18M1081 563q0 23 16 38M1104 552q20 2 36-11M1081 563q-17-15-40-13M1098 628q-28-2-48 18M1166 519q30-3 49-27M1141 513q-27 11-37 39M1041 508q-15 2-23 15M1126 571q-7-14-22-19M1071 500q-23-15-49-8M1166 519q30-3 49-27M1142 579q0 10 8 17M1183 500q-24-3-42 13M1125 553q25 1 43-16M1112 517q-26-12-52-2M1120 501q-7 17 1 34M1183 525q7-26-7-49M1039 572q-21 21-20 50M1049 487q13 19 36 23M1101 500q-7 16 0 31M1071 500q2-10-4-19M1141 513q26-11 35-37M1121 535q-2-22-20-35M1134 606q-5-15-20-21M1058 564q5 17 21 25" fill="none" stroke="#e4554c" stroke-width="0.55" stroke-opacity="0.72" stroke-dasharray="2.2 0.9"/>
<g stroke="#222" stroke-width="0.35"><g fill="#222b8f"><circle cx="995.4" cy="353.9" r="6.0"/><circle cx="1000.6" cy="376.8" r="5.4"/><circle cx="948.2" cy="323.0" r="5.4"/><circle cx="990.6" cy="315.8" r="5.2"/><circle cx="1222.8" cy="473.3" r="3.7"/><circle cx="807.7" cy="567.8" r="3.7"/><circle cx="758.5" cy="451.8" r="3.7"/><circle cx="756.4" cy="411.6" r="3.7"/><circle cx="937.8" cy="189.6" r="3.7"/><circle cx="1098.0" cy="205.5" r="3.7"/><circle cx="1177.0" cy="273.9" r="3.7"/><circle cx="1202.9" cy="314.2" r="3.7"/><circle cx="1220.4" cy="361.0" r="3.7"/><circle cx="1227.9" cy="392.6" r="3.7"/><circle cx="890.5" cy="415.2" r="4.0"/><circle cx="1044.3" cy="392.3" r="3.7"/><circle cx="1078.4" cy="445.6" r="4.1"/><circle cx="1175.7" cy="476.1" r="3.9"/><circle cx="1031.7" cy="475.5" r="3.8"/><circle cx="1023.0" cy="401.7" r="3.9"/><circle cx="976.3" cy="637.1" r="4.0"/><circle cx="975.0" cy="260.6" r="3.7"/><circle cx="1018.1" cy="440.3" r="3.7"/><circle cx="954.0" cy="279.5" r="3.7"/><circle cx="1005.7" cy="292.7" r="4.1"/><circle cx="808.7" cy="530.7" r="4.0"/><circle cx="784.2" cy="427.7" r="4.1"/><circle cx="844.6" cy="531.7" r="3.8"/><circle cx="1130.0" cy="262.3" r="4.1"/><circle cx="1081.7" cy="294.9" r="3.8"/><circle cx="1141.2" cy="512.8" r="3.7"/><circle cx="875.4" cy="266.0" r="3.9"/><circle cx="797.1" cy="458.2" r="4.0"/><circle cx="982.8" cy="398.0" r="3.8"/><circle cx="893.6" cy="605.2" r="3.9"/><circle cx="907.6" cy="404.1" r="3.9"/><circle cx="1106.3" cy="256.5" r="4.1"/><circle cx="903.1" cy="453.6" r="3.8"/><circle cx="1106.6" cy="234.2" r="4.0"/><circle cx="1090.9" cy="266.5" r="4.0"/><circle cx="934.3" cy="236.3" r="4.1"/><circle cx="865.3" cy="545.8" r="3.9"/><circle cx="1037.3" cy="317.3" r="3.9"/><circle cx="968.8" cy="224.8" r="3.6"/><circle cx="939.2" cy="304.2" r="3.6"/><circle cx="936.7" cy="440.6" r="3.9"/><circle cx="1021.8" cy="491.8" r="4.6"/><circle cx="1191.2" cy="461.6" r="4.0"/><circle cx="968.9" cy="290.5" r="3.8"/><circle cx="962.1" cy="355.7" r="4.0"/><circle cx="1053.9" cy="216.2" r="3.9"/><circle cx="853.3" cy="420.1" r="3.9"/><circle cx="947.1" cy="366.7" r="3.7"/><circle cx="1026.5" cy="262.3" r="3.8"/><circle cx="1099.2" cy="309.9" r="3.7"/><circle cx="840.1" cy="496.0" r="3.7"/><circle cx="1033.3" cy="295.3" r="3.6"/><circle cx="931.7" cy="281.8" r="3.6"/><circle cx="816.0" cy="452.1" r="3.8"/><circle cx="912.7" cy="577.6" r="5.3"/><circle cx="852.8" cy="477.4" r="3.7"/><circle cx="1056.2" cy="251.9" r="3.9"/><circle cx="933.4" cy="338.7" r="4.0"/><circle cx="1108.0" cy="408.3" r="3.9"/><circle cx="934.1" cy="575.0" r="4.7"/><circle cx="861.4" cy="246.9" r="3.6"/><circle cx="1114.5" cy="325.1" r="3.6"/><circle cx="1049.3" cy="487.3" r="3.8"/><circle cx="971.4" cy="373.1" r="4.0"/><circle cx="801.1" cy="322.6" r="3.6"/><circle cx="865.1" cy="320.6" r="3.9"/><circle cx="1048.2" cy="353.3" r="3.6"/><circle cx="787.2" cy="356.1" r="4.0"/><circle cx="943.1" cy="384.3" r="3.8"/><circle cx="1142.1" cy="275.8" r="3.8"/><circle cx="1018.2" cy="320.1" r="4.0"/><circle cx="823.6" cy="341.4" r="4.1"/><circle cx="988.4" cy="228.1" r="3.8"/><circle cx="1017.8" cy="278.1" r="3.9"/><circle cx="1181.3" cy="427.3" r="3.8"/><circle cx="868.3" cy="527.5" r="3.6"/><circle cx="862.9" cy="403.6" r="3.6"/><circle cx="952.9" cy="407.2" r="4.0"/></g><g fill="#72c8bd"><circle cx="969.7" cy="321.6" r="5.4"/><circle cx="1055.5" cy="585.1" r="5.4"/><circle cx="994.0" cy="442.0" r="5.2"/><circle cx="906.7" cy="431.2" r="5.2"/><circle cx="1203.1" cy="521.4" r="3.7"/><circle cx="1162.0" cy="580.8" r="3.7"/><circle cx="1116.9" cy="618.1" r="3.7"/><circle cx="1065.8" cy="640.9" r="3.7"/><circle cx="1050.3" cy="645.9" r="3.7"/><circle cx="965.8" cy="653.3" r="3.7"/><circle cx="913.1" cy="641.5" r="3.7"/><circle cx="889.4" cy="631.0" r="3.7"/><circle cx="772.4" cy="503.1" r="3.7"/><circle cx="760.7" cy="468.8" r="3.7"/><circle cx="758.0" cy="391.9" r="3.7"/><circle cx="783.0" cy="312.4" r="3.7"/><circle cx="1018.9" cy="183.2" r="3.7"/><circle cx="1213.2" cy="332.8" r="3.7"/><circle cx="1043.6" cy="336.4" r="3.8"/><circle cx="953.0" cy="455.6" r="3.7"/><circle cx="1202.5" cy="447.3" r="4.1"/><circle cx="881.1" cy="310.3" r="3.9"/><circle cx="1048.3" cy="285.6" r="3.7"/><circle cx="881.6" cy="437.8" r="3.9"/><circle cx="879.8" cy="396.8" r="3.9"/><circle cx="922.5" cy="417.7" r="3.7"/><circle cx="1069.3" cy="366.4" r="4.0"/><circle cx="846.3" cy="260.1" r="3.7"/><circle cx="829.0" cy="399.1" r="3.6"/><circle cx="921.6" cy="369.4" r="3.9"/><circle cx="1168.4" cy="536.7" r="3.7"/><circle cx="798.4" cy="370.4" r="4.1"/><circle cx="1138.1" cy="434.8" r="3.9"/><circle cx="1004.4" cy="213.0" r="3.6"/><circle cx="1037.3" cy="446.3" r="3.6"/><circle cx="858.7" cy="281.7" r="4.0"/><circle cx="1101.9" cy="441.9" r="3.8"/><circle cx="1070.3" cy="534.5" r="4.0"/><circle cx="821.2" cy="500.0" r="3.7"/><circle cx="867.7" cy="461.8" r="3.9"/><circle cx="1058.4" cy="459.5" r="3.9"/><circle cx="861.2" cy="508.7" r="4.1"/><circle cx="994.7" cy="246.7" r="4.0"/><circle cx="895.1" cy="487.1" r="3.6"/><circle cx="1046.9" cy="424.7" r="3.9"/><circle cx="1028.2" cy="205.9" r="4.0"/><circle cx="844.9" cy="313.0" r="3.7"/><circle cx="951.6" cy="201.6" r="3.6"/><circle cx="969.9" cy="413.7" r="3.7"/><circle cx="990.8" cy="416.3" r="3.8"/><circle cx="908.7" cy="614.7" r="3.6"/><circle cx="981.9" cy="506.9" r="5.4"/><circle cx="1125.8" cy="412.9" r="3.9"/><circle cx="1041.2" cy="550.4" r="4.5"/><circle cx="1156.0" cy="432.4" r="3.9"/><circle cx="1040.6" cy="508.2" r="4.9"/><circle cx="1199.0" cy="425.3" r="4.0"/><circle cx="962.7" cy="482.2" r="4.3"/><circle cx="1171.8" cy="447.3" r="3.7"/><circle cx="819.2" cy="321.4" r="3.9"/><circle cx="1032.0" cy="373.1" r="3.7"/><circle cx="933.5" cy="402.6" r="3.9"/><circle cx="900.4" cy="382.6" r="3.7"/><circle cx="981.5" cy="574.1" r="4.6"/><circle cx="1040.4" cy="630.8" r="3.6"/><circle cx="891.7" cy="580.4" r="5.4"/><circle cx="829.6" cy="279.7" r="3.7"/><circle cx="1073.2" cy="618.6" r="3.6"/><circle cx="869.2" cy="347.4" r="3.7"/><circle cx="908.3" cy="341.7" r="3.6"/><circle cx="808.0" cy="406.2" r="3.6"/><circle cx="845.2" cy="295.1" r="3.9"/><circle cx="946.5" cy="602.5" r="4.3"/><circle cx="774.2" cy="410.7" r="3.7"/><circle cx="964.7" cy="434.4" r="3.9"/><circle cx="1165.4" cy="416.8" r="3.8"/><circle cx="1180.3" cy="355.0" r="3.6"/><circle cx="1111.1" cy="379.7" r="3.9"/><circle cx="1032.2" cy="603.0" r="4.0"/><circle cx="1003.4" cy="396.5" r="4.0"/><circle cx="1139.5" cy="541.5" r="4.0"/><circle cx="1079.3" cy="211.6" r="4.0"/><circle cx="946.3" cy="424.2" r="3.9"/><circle cx="1118.9" cy="434.2" r="3.7"/><circle cx="1085.0" cy="509.7" r="3.7"/><circle cx="818.0" cy="546.1" r="4.0"/><circle cx="880.1" cy="286.4" r="4.0"/><circle cx="779.4" cy="472.6" r="3.7"/><circle cx="830.3" cy="515.8" r="4.0"/><circle cx="994.8" cy="635.0" r="4.0"/><circle cx="871.3" cy="420.1" r="3.6"/><circle cx="1006.8" cy="424.7" r="4.0"/><circle cx="1200.8" cy="477.5" r="4.0"/><circle cx="1004.9" cy="539.0" r="5.0"/><circle cx="864.4" cy="375.1" r="3.6"/><circle cx="1135.9" cy="375.9" r="3.6"/><circle cx="1038.7" cy="529.7" r="5.0"/><circle cx="865.8" cy="300.0" r="3.7"/><circle cx="1086.1" cy="490.8" r="3.7"/><circle cx="1038.7" cy="572.2" r="4.9"/></g><g fill="#fa1010"><circle cx="1119.9" cy="501.3" r="3.4"/></g><g fill="#f77320"><circle cx="1114.2" cy="585.1" r="3.7"/></g><g fill="#c9a49a"><circle cx="1057.8" cy="564.3" r="4.0"/></g><g fill="#aaa4a4"><circle cx="1063.6" cy="603.8" r="4.0"/><circle cx="1150.9" cy="307.2" r="4.0"/></g><g fill="#d772b8"><circle cx="998.3" cy="591.4" r="4.6"/></g><g fill="#2a6f2a"><circle cx="1138.5" cy="482.1" r="3.7"/><circle cx="1159.4" cy="487.6" r="3.7"/></g><g fill="#a8e0b0"><circle cx="1180.0" cy="373.1" r="4.0"/><circle cx="976.8" cy="342.4" r="3.7"/></g><g fill="#b0dd68"><circle cx="924.8" cy="643.8" r="3.7"/></g><g fill="#d6ec38"><circle cx="976.3" cy="207.9" r="3.7"/><circle cx="1004.9" cy="332.4" r="3.7"/><circle cx="830.0" cy="361.6" r="3.7"/><circle cx="816.0" cy="427.4" r="3.7"/><circle cx="1124.8" cy="553.4" r="3.7"/></g><g fill="#a0369b"><circle cx="1230.0" cy="425.6" r="3.7"/><circle cx="1227.5" cy="452.8" r="3.7"/><circle cx="1215.1" cy="491.7" r="3.7"/><circle cx="1188.2" cy="549.1" r="3.7"/><circle cx="1173.1" cy="570.0" r="3.7"/><circle cx="1097.7" cy="627.7" r="3.7"/><circle cx="1024.2" cy="654.1" r="3.7"/><circle cx="1000.0" cy="652.6" r="3.7"/><circle cx="933.4" cy="647.7" r="3.7"/><circle cx="847.0" cy="604.5" r="3.7"/><circle cx="822.2" cy="579.1" r="3.7"/><circle cx="795.6" cy="548.2" r="3.7"/><circle cx="780.5" cy="523.4" r="3.7"/><circle cx="765.2" cy="358.4" r="3.7"/><circle cx="771.5" cy="337.1" r="3.7"/><circle cx="794.9" cy="285.7" r="3.7"/><circle cx="808.8" cy="269.0" r="3.7"/><circle cx="827.6" cy="249.0" r="3.7"/><circle cx="841.0" cy="239.7" r="3.7"/><circle cx="861.2" cy="220.7" r="3.7"/><circle cx="894.9" cy="201.9" r="3.7"/><circle cx="908.5" cy="197.5" r="3.7"/><circle cx="971.3" cy="181.3" r="3.7"/><circle cx="998.2" cy="180.4" r="3.7"/><circle cx="1048.5" cy="188.8" r="3.7"/><circle cx="1066.8" cy="193.2" r="3.7"/><circle cx="1121.1" cy="218.1" r="3.7"/><circle cx="1142.2" cy="233.3" r="3.7"/><circle cx="1153.4" cy="246.9" r="3.7"/><circle cx="1190.1" cy="289.2" r="3.7"/><circle cx="1208.3" cy="382.4" r="3.7"/><circle cx="1091.5" cy="224.9" r="3.6"/><circle cx="1101.0" cy="500.4" r="3.8"/><circle cx="1070.7" cy="499.6" r="3.7"/><circle cx="1120.8" cy="341.9" r="3.9"/><circle cx="865.5" cy="570.2" r="3.7"/><circle cx="880.0" cy="502.2" r="3.9"/><circle cx="1100.7" cy="530.7" r="3.9"/><circle cx="925.5" cy="594.0" r="5.2"/><circle cx="947.8" cy="223.9" r="3.7"/><circle cx="905.1" cy="299.4" r="3.7"/><circle cx="939.9" cy="473.8" r="4.8"/><circle cx="939.8" cy="264.7" r="3.9"/><circle cx="1150.4" cy="336.3" r="3.9"/><circle cx="1141.6" cy="458.7" r="3.7"/><circle cx="1084.6" cy="390.2" r="4.0"/><circle cx="1043.5" cy="235.9" r="3.7"/><circle cx="1059.6" cy="300.1" r="3.8"/><circle cx="1021.6" cy="581.3" r="4.4"/><circle cx="1003.5" cy="498.3" r="4.6"/><circle cx="873.7" cy="593.4" r="3.7"/><circle cx="1018.4" cy="523.1" r="4.4"/><circle cx="922.2" cy="458.0" r="4.0"/><circle cx="911.1" cy="230.2" r="4.0"/><circle cx="882.1" cy="378.0" r="3.8"/><circle cx="841.6" cy="335.3" r="3.6"/><circle cx="837.5" cy="569.2" r="3.6"/><circle cx="1111.4" cy="295.7" r="3.8"/><circle cx="886.3" cy="467.7" r="3.6"/><circle cx="842.0" cy="450.1" r="3.6"/><circle cx="1018.8" cy="622.2" r="3.9"/><circle cx="882.6" cy="560.8" r="4.4"/><circle cx="898.9" cy="280.2" r="4.0"/><circle cx="1148.7" cy="405.4" r="4.0"/><circle cx="1160.6" cy="281.8" r="4.1"/><circle cx="960.4" cy="390.6" r="3.8"/><circle cx="836.5" cy="550.8" r="3.7"/><circle cx="905.9" cy="507.0" r="4.6"/><circle cx="937.2" cy="623.8" r="4.2"/><circle cx="834.7" cy="432.3" r="3.7"/><circle cx="915.5" cy="268.9" r="3.8"/><circle cx="976.3" cy="450.8" r="4.0"/><circle cx="862.0" cy="437.7" r="3.7"/><circle cx="1097.2" cy="579.5" r="4.0"/><circle cx="805.4" cy="341.0" r="4.1"/><circle cx="1127.9" cy="360.6" r="3.6"/><circle cx="826.1" cy="477.4" r="3.8"/><circle cx="1161.4" cy="352.7" r="3.6"/><circle cx="1076.8" cy="246.7" r="3.8"/><circle cx="786.9" cy="492.6" r="3.9"/><circle cx="891.6" cy="230.8" r="3.7"/><circle cx="853.8" cy="357.1" r="3.8"/><circle cx="984.6" cy="474.1" r="4.2"/><circle cx="1081.3" cy="562.6" r="3.7"/><circle cx="1090.7" cy="413.9" r="3.8"/><circle cx="888.1" cy="336.7" r="3.8"/><circle cx="1098.8" cy="337.2" r="4.0"/><circle cx="992.4" cy="613.0" r="4.2"/><circle cx="1060.1" cy="515.2" r="3.7"/><circle cx="1202.9" cy="349.8" r="3.6"/><circle cx="1084.6" cy="354.8" r="3.8"/><circle cx="784.5" cy="395.8" r="3.7"/><circle cx="1014.7" cy="234.4" r="3.6"/><circle cx="1155.6" cy="554.3" r="3.6"/><circle cx="1131.7" cy="322.2" r="3.7"/><circle cx="841.9" cy="587.8" r="3.6"/><circle cx="867.7" cy="488.6" r="3.8"/><circle cx="1067.1" cy="481.2" r="3.8"/><circle cx="1106.9" cy="475.3" r="3.8"/><circle cx="958.1" cy="628.5" r="4.1"/><circle cx="803.0" cy="511.7" r="4.0"/><circle cx="1003.5" cy="470.4" r="4.8"/><circle cx="1104.0" cy="552.5" r="3.7"/><circle cx="804.2" cy="475.2" r="3.9"/><circle cx="1165.9" cy="395.7" r="3.8"/><circle cx="817.0" cy="294.4" r="3.6"/><circle cx="1181.6" cy="332.6" r="3.7"/><circle cx="1183.5" cy="500.5" r="3.8"/><circle cx="1125.6" cy="391.4" r="3.9"/><circle cx="849.5" cy="390.7" r="3.8"/><circle cx="1077.9" cy="336.6" r="3.9"/><circle cx="1093.3" cy="373.4" r="3.7"/><circle cx="1172.8" cy="311.6" r="3.9"/><circle cx="880.7" cy="247.9" r="3.8"/><circle cx="1121.4" cy="535.4" r="4.0"/><circle cx="1196.4" cy="399.2" r="3.9"/><circle cx="1182.5" cy="525.0" r="3.8"/><circle cx="922.8" cy="490.0" r="5.1"/><circle cx="951.6" cy="248.2" r="4.1"/><circle cx="1068.7" cy="412.6" r="3.6"/><circle cx="973.4" cy="596.8" r="5.3"/><circle cx="1214.9" cy="413.9" r="3.9"/><circle cx="1107.8" cy="355.2" r="3.8"/><circle cx="759.3" cy="429.7" r="3.6"/><circle cx="1120.5" cy="460.3" r="4.1"/><circle cx="1065.1" cy="279.5" r="4.0"/><circle cx="1083.4" cy="469.4" r="3.8"/><circle cx="894.2" cy="358.7" r="3.9"/><circle cx="1165.8" cy="518.8" r="4.0"/><circle cx="1079.4" cy="589.2" r="4.0"/><circle cx="814.0" cy="383.6" r="4.0"/><circle cx="900.4" cy="322.7" r="4.1"/><circle cx="1111.6" cy="516.7" r="3.6"/><circle cx="801.1" cy="439.7" r="3.8"/><circle cx="778.0" cy="374.0" r="3.9"/><circle cx="1197.4" cy="367.9" r="3.9"/><circle cx="1055.5" cy="621.8" r="3.9"/><circle cx="1132.2" cy="302.3" r="3.8"/><circle cx="1126.9" cy="244.2" r="3.6"/><circle cx="877.9" cy="212.8" r="4.1"/><circle cx="1061.5" cy="320.6" r="3.9"/><circle cx="1029.6" cy="419.5" r="3.7"/><circle cx="986.8" cy="292.9" r="3.8"/><circle cx="801.6" cy="305.1" r="3.8"/><circle cx="832.1" cy="380.9" r="3.6"/><circle cx="766.7" cy="486.6" r="3.6"/><circle cx="1160.7" cy="463.7" r="3.7"/><circle cx="1149.6" cy="596.5" r="3.9"/><circle cx="1125.9" cy="570.9" r="3.7"/><circle cx="893.6" cy="263.4" r="3.6"/><circle cx="990.6" cy="197.9" r="3.7"/><circle cx="1098.5" cy="282.8" r="3.9"/></g><g fill="#63b127"><circle cx="1133.6" cy="606.3" r="3.7"/><circle cx="865.7" cy="619.4" r="3.7"/><circle cx="1080.7" cy="316.3" r="3.7"/><circle cx="929.3" cy="214.9" r="4.0"/><circle cx="1097.2" cy="600.9" r="3.9"/><circle cx="908.2" cy="249.8" r="3.6"/><circle cx="917.6" cy="313.7" r="3.7"/><circle cx="1070.4" cy="227.5" r="3.7"/><circle cx="1024.3" cy="348.7" r="3.9"/><circle cx="1121.5" cy="281.3" r="3.7"/><circle cx="922.7" cy="387.4" r="4.1"/><circle cx="1066.7" cy="387.3" r="4.1"/><circle cx="993.3" cy="267.5" r="4.0"/><circle cx="1142.3" cy="579.1" r="4.0"/><circle cx="973.6" cy="241.8" r="4.0"/><circle cx="1020.9" cy="458.7" r="4.0"/><circle cx="909.6" cy="474.3" r="3.9"/><circle cx="782.0" cy="446.4" r="3.6"/><circle cx="1055.9" cy="440.3" r="4.0"/><circle cx="1051.9" cy="375.3" r="4.0"/><circle cx="1045.1" cy="267.6" r="4.1"/></g><circle cx="888.1" cy="534.2" r="6.6" fill="#222b8f"/><circle cx="910.4" cy="546.5" r="6.6" fill="#72c8bd"/><circle cx="953.1" cy="561.4" r="6.9" fill="#222b8f"/><circle cx="956.8" cy="582.0" r="6.9" fill="#72c8bd"/><circle cx="924.5" cy="521.3" r="7.4" fill="#72c8bd"/><circle cx="1014.0" cy="560.5" r="7.4" fill="#72c8bd"/><circle cx="951.1" cy="503.6" r="7.7" fill="#72c8bd"/><circle cx="1158.6" cy="375.4" r="7.7" fill="#222b8f"/><circle cx="982.6" cy="544.2" r="7.9" fill="#222b8f"/><circle cx="942.5" cy="524.8" r="8.0" fill="#222b8f"/><circle cx="951.1" cy="545.1" r="9.7" fill="#a0369b"/><circle cx="967.4" cy="549.9" r="10.0" fill="#222b8f"/><circle cx="970.3" cy="534.2" r="11.2" fill="#72c8bd"/></g>
<path d="M1570 257q-11 19-4 39M1567 233q-37 18-49 58M1597 259q-46-10-84 16M1554 252q14 40 54 57M1585 266q-25-33-66-37M1576 284q1-42-30-71M1577 243q6 4 13 3M1520 304q8 4 16 1M1520 304q-10 9-11 22M1585 266q-32-30-76-26M1585 266q6-24-7-44M1531 259q3-8-1-16M1550 295q11-21 4-43M1590 246q-4 17 5 31M1513 275q20-24 16-56M1564 272q-1-12-10-20M1531 259q8 36 39 54M1518 291q6 11 18 14M1593 292q-18-20-45-20M1590 246q4 27 26 43M1548 272q20 5 37-6M1585 266q-15-27-45-34M1513 275q32 4 57-18M1590 246q-19-5-36 6M1576 284q-30-18-63-9M1567 233q4 47 41 76M1570 313q0-56-41-94M1540 232q28 11 55-3M1520 304q43 3 75-27M1540 232q-3 47 30 81M1554 252q11 29 39 40M1566 296q19-3 29-19M1593 292q3-49-30-84M1585 266q-25-15-54-7M1570 257q-18 15-20 38M1528 274q32 35 80 35M1570 257q7-26-7-49M1554 252q-7 9-6 20M1597 259q-15 30-3 62M1554 252q-7 9-6 20M1567 233q-16 41 3 80M1518 291q39 2 67-25M1570 257q-46 21-61 69M1554 315q-12 10-12 26M1540 232q-9 34 10 63M1533 289q44-16 62-60M1585 266q-12-14-31-14M1540 232q-12 54 20 100M1585 266q-38 28-43 75M1520 304q42-18 57-61M1533 289q34 8 62-12M1570 257q-4 28 13 50M1576 284q-8 4-10 12M1583 307q-23-40-68-50M1531 259q-28 5-43 28M1554 252q-7 9-6 20M1536 305q1-38-27-65M1566 296q-23-13-48-5M1536 305q-20-20-48-18M1536 305q25-34 17-75M1577 243q-17 24-11 53M1585 266q-31 0-52 23M1550 295q-34-13-67 4M1530 243q-16 52 12 98M1550 295q-9-27-35-38M1520 304q6 14 20 19M1590 246q-27 4-42 26M1540 232q-23 16-27 43M1531 259q18-20 15-46M1550 295q6-43-21-76M1536 305q15 11 34 8M1515 257q23 40 68 50M1597 259q-16-24-44-29M1567 233q-49 34-58 93M1554 252q-28 19-34 52M1567 233q15 4 28-4M1554 315q-27-29-66-28M1570 257q-11 19-4 39M1554 252q-26 2-41 23M1570 313q-14-50-61-73M1567 233q-29 21-34 56M1515 257q-17 20-14 46M1528 274q32-25 35-66M1531 259q36 34 85 30M1590 246q-23 20-24 50M1593 292q-31-44-84-52M1597 259q11-2 16-12M1530 243q35 33 83 30M1520 304q47-28 58-82M1570 257q-35 12-50 47M1520 304q33 25 74 17M1540 232q7-8 6-19M1515 257q51 17 98-10M1570 257q12-1 20-11M1536 305q41-10 61-46M1548 272q18 20 45 20M1520 304q17 2 30-9M1513 275q36 26 80 17M1585 266q-33-20-70-9M1515 257q17 31 51 39M1513 275q48 30 103 14M1554 315q26-18 31-49M1536 305q2-9-3-16M1548 272q22 13 47 5M1564 272q18-22 14-50M1590 246q-12 1-20 11M1554 252q12 14 31 14M1513 275q16-12 17-32M1533 289q-8-2-15 2M1548 272q20 5 37-6M1536 305q33-9 49-39M1595 277q-2-21-18-34M1550 295q-26-7-49 8M1595 277q-55-27-113-5M1530 243q22 24 55 23M1577 243q1-21-14-35M1576 284q-30-18-63-9M1533 289q7 7 17 6M1550 295q-14-18-37-20M1515 257q1-10-6-17M1513 275q46 10 84-16M1550 295q16 23 44 26M1515 257q9 27 35 38M1595 277q-27-41-76-48M1528 274q-15-10-33-5M1530 243q5 57 50 92M1515 257q33 20 70 9M1595 277q16-11 18-30M1553 230q-17-8-34-1M1554 252q-26 42-12 89M1513 275q13-4 18-16M1593 292q-6-50-47-79M1567 233q-21-3-37 10M1550 295q22-27 17-62M1554 252q-5 34 16 61M1531 259q-15 20-11 45M1520 304q48-14 70-58M1585 266q-30-9-57 8M1533 289q-8-2-15 2M1515 257q15-16 14-38M1570 257q-20-8-39 2M1550 295q36 3 63-22M1528 274q22-27 18-61M1536 305q40-18 54-59M1515 257q-10 40 13 75M1531 259q28 42 77 50M1590 246q1 8 7 13M1533 289q15 11 33 7M1550 295q14 13 33 12M1513 275q23-16 27-43M1518 291q21-34 11-72M1540 232q3 25 24 40M1554 252q-26 2-41 23M1577 243q-13 12-13 29M1531 259q-13 4-18 16M1576 284q-25 2-40 21M1593 292q-14-4-27 4M1567 233q-16-15-38-14M1593 292q3-49-30-84M1548 272q27 4 49-13M1583 307q4-28-13-50M1548 272q-4 12 2 23M1583 307q-2-22-19-35M1515 257q-2 38 25 66M1564 272q-41-9-76 15M1593 292q-4-23-23-35M1513 275q26-2 41-23M1548 272q27 4 49-13M1533 289q6-33-14-60M1531 259q27-18 32-51M1597 259q6-15-2-30M1533 289q15 11 33 7M1577 243q11 23 36 30M1513 275q26-2 41-23M1540 232q-5 22 8 40M1533 289q39-1 64-30M1550 295q-1-40-31-66M1595 277q5-9 2-18M1593 292q9-24-3-46M1528 274q-21 22-19 52M1528 274q13-27 1-55M1540 232q13 6 27 1M1577 243q-52 27-68 83M1554 252q4 21 22 32M1531 259q-8-5-16-2M1553 230q-14 1-23 13M1550 295q43 0 72-32M1518 291q21 22 52 22M1518 291q1-9-5-16M1595 277q-14-9-31-5M1570 313q20-12 25-36M1553 230q-17 10-22 29M1548 272q11 12 28 12M1597 259q-41-19-82-2M1597 259q-50-24-102-3M1520 304q32 2 56-20M1576 284q19 11 40 5M1583 307q2 9 11 14M1554 252q23 32 62 37M1540 232q-16 27-7 57M1528 274q-8 37 14 67M1570 257q-12-28-41-38M1518 291q1-9-5-16M1554 252q15 22 41 25M1597 259q-32-32-78-30M1554 252q-28 19-34 52M1595 277q-2-21-18-34M1520 304q47-28 58-82M1548 272q12-30-2-59M1540 232q-16 27-7 57M1536 305q52-2 86-42M1593 292q-18-20-45-20M1554 315q37 1 62-26M1530 243q3 18 18 29M1540 232q-18 7-25 25M1553 230q3 17 17 27M1533 289q7 7 17 6M1530 243q5 57 50 92M1515 257q36 28 80 20M1577 243q2 21 18 34M1554 252q26-2 41-23M1567 233q-31 1-52 24M1531 259q32 6 59-13M1593 292q14-5 20-19M1513 275q38 11 72-9M1566 296q29-1 47-23M1548 272q27-4 42-26M1548 272q-33-6-60 15M1593 292q-7-8-17-8M1530 243q-1 30 20 52M1577 243q-27-2-46 16M1583 307q-20-29-55-33M1576 284q7 8 17 8M1567 233q-6-5-14-3M1564 272q14 9 31 5M1583 307q18-21 14-48M1530 243q-1 30 20 52M1570 313q16-41-3-80M1533 289q7 7 17 6M1533 289q9-24-3-46M1564 272q4-23-11-42M1593 292q-6 15 1 29M1548 272q27 4 49-13M1577 243q-9-22-31-30M1590 246q-40 18-54 59M1597 259q-39 1-64 30M1554 252q1 12 10 20M1536 305q1-38-27-65M1553 230q-14 1-23 13M1554 315q-5-18-21-26M1518 291q14-31 1-62M1554 252q-4 25 12 44M1540 232q-28 47-12 100M1536 305q15-45-7-86M1570 313q-23-16-50-9M1536 305q31 6 57-13M1595 277q-2-21-18-34M1536 305q1-38-27-65M1550 295q-11 12-10 28M1590 246q-17 29-7 61M1570 257q-19-25-51-28M1540 232q-31 9-45 37M1595 277q11-24 0-48M1518 291q42 10 77-14M1550 295q25-20 27-52M1536 305q9-2 14-10M1585 266q-25-33-66-37M1530 243q-17 21-12 48M1531 259q-5 7-3 15M1533 289q19-14 21-37M1530 243q15-11 16-30M1570 313q37-14 52-50M1553 230q8 25 32 36M1518 291q42 10 77-14M1530 243q7-3 10-11M1513 275q23-16 27-43M1577 243q-52 27-68 83M1554 315q-4-26-26-41M1530 243q3 18 18 29M1577 243q-13 12-13 29M1564 272q-3-25-24-40M1533 289q13-36-4-70M1570 313q25-29 20-67M1593 292q3-28-16-49M1515 257q6 47 45 75M1513 275q7 11 20 14M1515 257q25 27 61 27M1531 259q-14 13-13 32M1554 252q-5 34 16 61M1554 252q-11 21-4 43M1570 257q16 26 46 32M1550 295q-2-22-19-36M1585 266q12 10 28 7M1590 246q4 27 26 43M1550 295q-26-7-49 8M1531 259q-5 7-3 15M1570 257q-12 41 10 78M1595 277q-22-13-47-5M1515 257q34 7 62-14M1530 243q24 50 78 66M1567 233q-7 27 9 51M1570 257q-28 17-34 48M1518 291q37-18 49-58M1576 284q-22-16-48-10M1597 259q-15-34-51-46M1576 284q8-7 9-18M1564 272q31 8 58-9M1518 291q21 36 62 44M1531 259q32-8 47-37M1554 252q-5 47 26 83M1570 257q-28 17-34 48M1540 232q25 45 76 57M1518 291q42 10 77-14M1597 259q-9-20-30-26M1570 313q-13-20-37-24M1536 305q23 11 47 2M1583 307q-22-50-74-67M1585 266q-15-27-45-34M1515 257q40 11 75-11M1548 272q27 4 49-13M1553 230q27 32 69 33M1554 252q7 6 16 5M1513 275q22 22 53 21M1507 413q46 10 84-16M1492 388q-14 6-20 20M1518 389q22 31 60 35M1490 419q3 15 17 23M1533 398q-43 40-42 99M1504 389q-20 2-32 19M1491 403q-4 8-1 16M1472 408q36-8 54-39M1504 389q29 34 74 35M1504 389q-10 4-13 14M1504 389q-12-16-32-18M1492 388q17-8 22-26M1472 408q-28 13-37 43M1504 389q15 21 40 24M1490 419q16 20 42 21M1492 388q-12 32 4 62M1490 419q16 20 42 21M1518 389q-13-19-35-22M1491 403q48-9 73-51M1472 408q44 1 75-31M1519 403q10 10 25 10M1507 413q-14-21-38-25M1492 388q18 14 41 10M1492 388q46-13 68-56M1517 429q40-28 47-77M1519 403q-25-8-47 5M1533 398q-46-3-79 29M1504 389q-12-16-32-18M1526 416q-1-43-34-71M1533 398q1 35 28 57M1533 398q20-36 7-75M1472 408q30-21 34-57M1533 398q-18-14-41-10M1533 398q-25-27-61-27M1533 398q-34 38-29 89M1492 388q-34 37-30 88M1504 389q-46 26-57 78M1492 388q6 3 12 1M1504 389q-33 38-27 88M1507 413q44-9 67-48M1519 403q15 18 38 20M1472 408q-13 36 5 69M1492 388q-4 7-1 15M1526 416q-11-21-34-28M1518 389q-21 9-28 30M1490 419q38-35 38-87M1519 403q15 24 43 29M1517 429q-7-19-26-26M1518 389q-40 35-41 88M1526 416q-9-6-19-3M1490 419q-20-4-36 8M1533 398q-38-25-82-13M1533 398q-2-22-19-36M1518 389q-31 24-34 63M1472 408q25 8 47-5M1492 388q13 6 26 1M1504 389q18-15 19-39M1533 398q15 4 28-5M1504 389q4 10 15 14M1507 413q-44 3-72 38M1533 398q-22-7-42 5M1490 419q17-37 2-74M1507 413q16-2 26-15M1490 419q19 6 36-3M1517 429q5 9 15 11M1519 403q-9-35-41-52M1504 389q30 6 55-12M1517 429q43-19 57-64M1533 398q-45 27-56 79M1526 416q-19 18-19 45M1518 389q11-18 5-39M1519 403q-50 16-72 64M1490 419q38-35 38-87M1517 429q-31-15-63-2M1533 398q2 10 11 15M1519 403q-42-11-78 12M1504 389q-33 16-43 51M1517 429q26-19 30-52M1519 403q28-10 39-37M1526 416q-29 9-42 36M1492 388q20 24 52 25M1504 389q-5 33 16 59M1507 413q-34-20-72-8M1492 388q-27-14-55-4M1490 419q36 31 84 26M1504 389q-31 24-34 62M1507 413q18 8 37 0M1490 419q8-15 2-31M1526 416q6-30-12-54M1491 403q-21 19-21 48M1492 388q-31 2-51 27M1504 389q10 26 36 36M1490 419q-12-26-39-34M1519 403q-38-2-65 24M1519 403q-22-18-50-15M1518 389q-9 20-1 40M1518 389q17 0 29-12M1517 429q-24 13-30 39M1517 429q-24 13-30 39M1504 389q19 52 71 73M1504 389q-10 4-13 14M1492 388q-12-5-23 0M1492 388q-24-1-40 16M1517 429q32-38 25-88M1491 403q34-27 37-71M1519 403q-2 21 13 37M1533 398q-25-27-61-27M1517 429q-27-27-65-25M1504 389q-29-4-52 15M1533 398q-3-29-27-47M1526 416q-23-39-67-48M1518 389q22 31 60 35M1518 389q25-3 40-23M1492 388q35 37 86 36M1507 413q-33 9-48 40M1491 403q32 17 66 5M1519 403q-26 39-15 84M1490 419q14-21 8-46M1472 408q62 21 119-11M1519 403q-14 31 0 62M1507 413q-11-53-57-81M1519 403q-19 26-12 58M1519 403q-30-24-68-18M1504 389q9-19 2-38M1507 413q-44 3-72 38M1492 388q-40 30-45 79M1507 413q23 22 55 19M1490 419q41 3 71-26M1504 389q-14 37 3 72M1490 419q26-1 43-21M1491 403q7 19 26 26M1507 413q-20 14-23 39M1517 429q45-8 69-47M1519 403q-18 2-29 16M1518 389q-27-37-72-42M1526 416q-2 13 6 24M1472 408q43 41 102 37M1472 408q31-14 42-46M1533 398q-16 2-26 15M1504 389q-32-17-67-5M1517 429q-2-48-39-78M1518 389q33 0 56-24M1504 389q16-30 5-63M1533 398q2 10 11 15M1507 413q4 26 25 40M1519 403q15 24 43 29M1507 413q-32 34-29 80M1518 389q21 11 43 4M1517 429q-15-31-48-41M1504 389q-33 16-43 51M1490 419q14-21 8-46M1504 389q-33 16-43 51M1490 419q36 9 67-11M1490 419q-4-20-21-31M1490 419q-20-4-36 8M1526 416q-25-52-80-69M1472 408q40 32 90 24M1472 408q10 25 35 34M1526 416q-15 9-19 26M1519 403q-4-20-21-30M1491 403q14 6 28 0M1526 416q-40 10-59 46M1533 398q-6-8-15-9M1517 429q9-20 1-40M1517 429q21 6 40-6M1472 408q14-6 20-20M1517 429q-34-1-58 24M1492 388q-14 6-20 20M1533 398q-24 41-10 87M1526 416q5 8 14 9M1533 398q3-16-7-29M1507 413q36 13 70-4M1472 408q31-14 42-46M1526 416q37-4 60-34M1492 388q-20 20-19 49M1492 388q20 24 52 25M1490 419q-4-20-21-31M1517 429q7-5 9-13M1507 413q-5 29 12 52M1519 403q-42-17-84 2M1491 403q15 44 58 63M1490 419q26-1 43-21M1519 403q-14-6-28 0M1472 408q-10 21-2 43M1507 413q39 28 86 18M1533 398q-30 18-37 52M1533 398q-36 16-49 54M1491 403q37 10 70-10M1472 408q-13 6-18 19M1517 429q9-20 1-40M1526 416q0 30 23 50M1526 416q17 3 31-8M1472 408q42 19 85 0M1517 429q-1-10-10-16M1472 408q38-18 51-58M1490 419q33 40 85 43M1504 389q32 26 73 20M1491 403q14 6 28 0M1519 403q-38-2-65 24M1517 429q-2-48-39-78M1519 403q10 35 42 52M1517 429q12-41-11-78M1472 408q30-34 25-78M1518 389q-17 24-11 53M1533 398q-50-12-92 17M1491 403q-8 25 5 47M1533 398q-38 25-46 70M1526 416q16-26 7-56M1526 416q-15 9-19 26M1526 416q-25-16-54-8M1518 389q-13-19-35-22M1507 413q46 2 79-31M1526 416q5 8 14 9M1533 398q-38-25-82-13M1472 408q23 29 60 32M1492 388q-24-1-40 16M1491 403q39 30 87 21M1533 398q29 12 58-1M1492 388q33 18 69 5M1519 403q-9-44-48-66M1507 413q-22-26-56-28M1504 389q38-5 60-37M1519 403q-10-13-27-15M1491 403q37 10 70-10M1490 419q-8 37 14 68M1533 398q-45 27-56 79M1472 408q20 36 60 45M1526 416q13-34-3-66M1526 416q27-18 32-50M1472 408q61 32 125 9M1518 389q-40 35-41 88M1507 413q33 21 71 11M1517 429q-30-7-56 11M1504 389q17-23 11-51M1491 403q-23-21-54-19M1490 419q-6-46-44-72M1533 398q-22 30-14 67M1472 408q58-8 92-56M1492 388q-12-25-39-33M1507 413q-42 14-60 54M1517 429q23-31 16-69M1517 429q12 3 23-4M1518 389q-27-1-46 19M1492 388q25 55 83 74M1504 389q9-19 2-38M1533 398q-30-19-64-10M1507 413q28-36 21-81M1472 408q49 31 106 16M1519 403q-35 13-49 48M1533 398q-13-11-29-9M1519 403q-15 17-12 39M1507 413q-14-21-38-25M1491 403q-8-32-38-48M1507 413q4-22-9-40M1472 408q9 50 51 77M1519 403q16-18 14-43M1507 413q22-28 16-63M1491 403q-8-25-32-35M1490 419q-21 16-23 43M1472 408q25 8 47-5M1491 403q32 17 66 5M1472 408q-24-1-41 17M1518 389q11-18 5-39M1490 419q-24-13-49-4M1472 408q16 10 35 5M1507 413q4-13-3-24M1504 389q38-5 60-37M1526 416q4-49-29-86M1517 429q-2-48-39-78M1519 403q11-15 7-34M1490 419q34-20 43-59M1472 408q-13 36 5 69M1533 398q-13-11-29-9M1490 419q28 9 54-6M1533 398q7 23 29 34M1533 398q-23 16-26 44M1504 389q14 46 57 66M1533 398q-7 7-7 18M1518 389q-40 13-57 51M1526 416q-41 28-48 77M1519 403q7-22-5-41M1519 403q-49-8-88 22M1518 389q-42 25-51 73M1519 403q7-22-5-41M1504 389q5-38-19-67M1490 419q9-37-12-68M1517 429q-16 21-11 47M1533 398q-8-1-14 5M1507 413q15-24 7-51M1519 403q14-26 4-53M1518 389q-3 7 1 14M1507 413q13-44-10-83M1519 403q1 8 7 13M1526 416q33-24 38-64M1526 416q12-41-11-78M1507 413q44 22 90 4M1492 388q2 16 15 25M1490 419q18-2 29-16M1491 403q-16 13-18 34M1472 408q26 46 77 58M1504 389q-9 41 15 76M1533 398q-40-38-95-34M1533 398q-18-26-50-31M1472 408q18 20 45 21M1526 416q23-4 35-23M1517 429q2 15 15 24M1518 389q-21 34-11 72M1526 416q27-18 32-50M1472 408q-13 14-11 32M1519 403q10 10 25 10M1490 419q-35 4-55 32M1491 403q-10-38-45-56M1526 416q-5 20 6 37M1533 398q6 18 24 25M1491 403q39 30 87 21M1526 416q-36 5-56 35M1491 403q15 44 58 63M1507 413q26 8 50-5M1504 389q-33 38-27 88M1491 403q6 9 16 10M1472 408q11 39 47 57M1533 398q-16 2-26 15M1526 416q35-15 48-51M1519 403q38 4 67-21M1507 413q-20 14-23 39M1504 389q-18 44 2 87M1507 413q-33-14-66 2M1533 398q-38-25-82-13M1472 408q31-14 42-46M1533 398q-42-15-81 6M1491 403q7 19 26 26M1492 388q6 41 40 65M1472 408q53-28 68-85M1533 398q-7 7-7 18M1472 408q18 20 45 21M1490 419q3 15 17 23M1517 429q-18-20-45-21M1517 429q32-38 25-88M1491 403q4-20-8-36M1492 388q-24-1-40 16M1518 389q-21 34-11 72M1490 419q36 31 84 26M1526 416q-49-16-95 9M1491 403q-16-18-40-18M1472 408q-10 21-2 43M1492 388q13 6 26 1M1518 389q14-11 15-29M1518 389q25-3 40-23M1518 389q-21 9-28 30M1504 389q-44 2-73 36M1504 389q-31 24-34 62M1492 388q15-28 5-58M1491 403q22 30 59 35M1517 429q12 3 23-4M1472 408q-4 25 12 44M1507 413q-6 14 0 29M1507 413q-14-21-38-25M1518 389q-40 13-57 51M1519 403q1 8 7 13M1491 403q-5 33 16 58M1472 408q-16 20-13 45M1492 388q-25-8-48 5M1517 429q-16 21-11 47M1519 403q-40 36-41 90M1526 416q-31-1-53 21M1533 398q-18 22-13 50M1526 416q-35 33-35 81M1472 408q34 43 89 47M1519 403q-1-35-27-58M1519 403q16-18 14-43M1517 429q8-61-32-107M1517 429q-30-7-56 11M1490 419q-7-9-18-11M1490 419q26-1 43-21M1504 389q4-25-12-44M1491 403q42-4 67-37M1533 398q-18-14-41-10M1507 413q-30-5-53 14M1526 416q6-30-12-54M1490 419q49 29 103 12M1517 429q-17-57-71-82M1472 408q-23 7-34 29M1490 419q9-37-12-68M1526 416q-22-27-57-28M1492 388q15-28 5-58M1526 416q-36 5-56 35M1472 408q15 31 48 40M1517 429q16 23 44 26M1504 389q-2 23 13 40M1490 419q24 14 50 6M1526 416q27-18 32-50M1472 408q30-21 34-57M1533 398q-9-36-41-53M1490 419q-4-40-37-64M1507 413q1 39 31 64M1490 419q-16-16-38-15M1518 389q-37 48-27 108M1517 429q-1-10-10-16M1533 398q10 10 24 10M1492 388q33 18 69 5M1490 419q-23 10-31 34M1526 416q-51 8-79 51M1472 408q30 23 68 17M1472 408q-6 33 15 60M1472 408q16-27 6-57M1504 389q0 38 28 64M1507 413q-40-3-69 24M1518 389q-1 45 31 77M1504 389q-26-14-53-4M1518 389q-1 45 31 77M1490 419q16 20 42 21M1533 398q30 4 53-16M1491 403q39-20 51-62M1472 408q6-43-22-76M1490 419q-12 24-3 49M1490 419q23-30 16-68M1472 408q26 39 72 46M1526 416q17 3 31-8M1491 403q-16-18-40-18M1526 416q-25-16-54-8M1504 389q-2 23 13 40M1518 389q-40 13-57 51M1518 389q-51-1-87 36M1491 403q48-9 73-51M1517 429q-7-19-26-26M1519 403q5-41-22-73M1507 413q-14-33-48-45M1518 389q-2-41-33-67M1490 419q9-37-12-68M1519 403q-4 28 13 50M1490 419q34-20 43-59M1518 389q-21 34-11 72M1507 413q31 2 54-20M1492 388q44-2 72-36M1526 416q-17 34-3 69M1472 408q42 19 85 0M1533 398q-15 12-16 31M1507 413q-6 14 0 29M1472 408q24-27 20-63M1491 403q29 30 71 29M1491 403q10-4 13-14M1492 388q24-12 31-38M1492 388q25 55 83 74M1472 408q30-21 34-57M1526 416q-23-47-73-61M1517 429q-1-10-10-16M1526 416q-5-18-22-27M1533 398q-7-49-48-76M1491 403q-23-21-54-19M1491 403q-28-11-56 2M1492 388q0-12-9-21M1519 403q-9-44-48-66M1526 416q27 8 51-7M1526 416q-15 9-19 26M1490 419q14 26 42 34M1490 419q19 29 54 35M1720 258q-7-38-40-59M1744 203q18 10 38 3M1711 246q35-4 55-32M1759 195q-9 1-15 8M1670 211q-3 43 27 74M1733 267q0-48-35-81M1760 229q-21-27-56-30M1702 261q-14 7-18 21M1681 250q-1 10 5 17M1714 186q-8 4-10 13M1714 221q8 31 36 46M1748 218q11 11 26 11M1711 246q9 25 34 36M1760 229q-26 26-25 62M1748 218q11 11 26 11M1754 242q-47-24-97-6M1657 236q17 22 45 25M1680 199q24 57 83 78M1759 195q-7-6-16-5M1702 261q-23-32-62-36M1731 211q-24-29-62-31M1714 186q-15 29-3 60M1750 267q1-24-16-40M1689 217q34 41 87 43M1720 258q26-6 40-29M1759 195q-52-20-102 5M1744 203q9 10 22 11M1714 221q-25 0-43 18M1759 195q0 20 15 34M1704 199q-9 46 19 84M1689 217q14 45 56 65M1711 246q7-25-7-47M1754 242q-49-16-95 9M1711 246q11 7 24 4M1748 218q-29-13-59-1M1687 237q28-3 44-26M1681 250q23-20 23-51M1731 211q-11-20-33-25M1698 186q-7 33 13 60M1759 195q-28-10-55 4M1766 214q-28-21-62-15M1715 271q21-26 16-60M1719 203q11 14 29 15M1743 190q6 17 23 24M1748 218q-16 31-3 64M1657 236q4-8 1-16M1760 229q-11-15-29-18M1744 203q13 33 46 45M1733 267q14-40-5-77M1760 229q-21-14-46-8M1698 186q0 8 6 13M1759 195q-37 36-36 88M1734 227q-31 21-37 58M1733 267q5-8 2-17M1714 186q21 14 45 9M1743 190q-17 28-8 60M1681 250q59 11 107-25M1760 229q-33-33-80-30M1714 221q22 33 62 39M1754 242q-11 0-19 8M1689 217q2 40 34 66M1744 203q-32-28-75-23M1714 221q11-1 17-10M1704 199q-34 16-45 52M1719 203q22 5 40-8M1715 271q24-38 13-81M1734 227q-9-21-30-28M1719 203q-29 36-22 82M1748 218q-18-6-34 3M1714 221q11-1 17-10M1714 186q17 43 61 60M1687 237q-8-3-16 2M1759 195q-62 6-100 56M1689 217q48 26 99 8M1689 217q-16-5-31 3M1759 195q-21-14-45-9M1733 267q-16-25-46-30M1750 267q-8-44-46-68M1698 186q-11 14-9 31M1670 211q-2 8 2 15M1702 261q22-35 12-75M1702 261q26-19 29-50M1657 236q25 17 54 10M1711 246q-6-42-42-66M1687 237q2 15 15 24M1704 199q-23 20-23 51M1670 211q22 52 75 71M1731 211q-27 37-18 81M1680 199q-18 31-7 66M1715 271q15-6 20-21M1698 186q-10 46 17 85M1715 271q-3-56-46-91M1759 255q-38 1-62 30M1759 255q13-10 15-26M1748 218q-9 1-14 9M1744 203q-51-3-87 33M1720 258q0-49-36-82M1702 261q43-20 57-66M1698 186q0 8 6 13M1719 203q-29 15-38 47M1733 267q-30-14-60-2M1714 221q0-13-10-22M1714 221q-23 7-33 29M1731 211q-18 13-20 35M1702 261q30 2 52-19M1766 214q-50-1-85 36M1670 211q13 27 41 35M1750 267q13-40-7-77M1670 211q56 33 118 14M1720 258q26-6 40-29M1720 258q0-49-36-82M1714 186q-18 43 1 85M1715 271q29-28 29-68M1750 267q13-17 10-38M1760 229q-21 32-11 69M1750 267q-33-31-79-28M1719 203q15 22 41 26M1720 258q21-1 34-16M1735 250q-16-27-46-33M1731 211q5 21 23 31M1759 195q8 21 29 30M1687 237q25 29 63 30M1748 218q4 8 12 11M1680 199q40 15 79-4M1714 186q6 5 14 4M1714 186q-13-12-30-10M1735 250q-27 9-38 35M1689 217q-11 15-8 33M1687 237q12 38 48 54M1754 242q-16 8-21 25M1687 237q-23 13-29 38M1750 267q-8-4-17 0M1759 255q-35-42-89-44M1766 214q-33-37-82-38M1681 250q23 39 68 48M1750 267q29-23 32-61M1711 246q-25-17-54-10M1759 195q-37 36-36 88M1748 218q-7-7-17-7M1750 267q-4-12-15-17M1704 199q21 4 39-9M1750 267q-33-31-79-28M1698 186q-20 6-28 25M1711 246q-15-19-39-20M1702 261q21-25 17-58M1766 214q9 10 22 11M1734 227q-9-28-36-41M1711 246q-17 5-25 21M1743 190q7 26 31 39M1698 186q8 4 16 0M1704 199q-20-1-34 12M1704 199q18 19 44 19M1734 227q-33 9-48 40M1735 250q32-1 53-25M1766 214q-65-22-126 11M1657 236q57 31 118 10M1689 217q11 35 44 50M1687 237q-12-21-35-27M1748 218q-30-24-68-19M1657 236q18-25 12-56M1733 267q-24-10-47 0M1681 250q18 13 39 8M1759 195q-18 2-28 16M1733 267q-37-41-93-42M1714 186q7 44 45 69M1748 218q14 24 42 30M1714 221q8-18 0-35M1711 246q2 28 24 45M1731 211q25 20 57 14M1735 250q-33-38-83-40M1704 199q0 40 29 68M1760 229q-17 5-25 21M1754 242q7 14 22 18M1766 214q-35 4-55 32M1715 271q10-25-1-50M1714 186q-38 30-41 79M1743 190q-22 36-10 77M1759 255q-43-40-101-35M1698 186q29 38 76 43M1670 211q42 48 106 49M1760 229q15 4 28-4M1759 255q-20-56-75-79M1754 242q-5-21-23-31M1759 255q-15-48-61-69M1733 267q22-36 10-77M1748 218q-18-19-44-19M1702 261q17 20 43 21M1748 218q10 2 18-4M1735 250q-2 18 10 32M1714 221q-24-23-57-21M1743 190q-6 36 16 65M1744 203q-43 19-58 64M1681 250q50 1 85-36M1720 258q5-33-16-59M1766 214q-33-37-82-38M1714 186q14 32 46 43M1785 428q11-46-15-86M1795 371q28-7 41-33M1781 410q35 15 70 0M1852 394q-14-7-29-2M1787 346q7 20 26 28M1795 371q-9-29-36-43M1859 377q-54 4-87 46M1772 423q42 33 95 24M1828 369q-12 53 20 98M1802 396q23 26 58 26M1813 374q-8-5-18-3M1802 396q-35 21-44 61M1757 383q32-6 49-33M1836 338q11 26 37 36M1767 396q23-28 17-64M1830 413q-9 28 6 54M1830 413q40-27 47-75M1757 383q-5 9-2 18M1830 413q-23-51-77-69M1798 422q40-9 61-45M1798 422q-10 10-10 25M1824 347q-46 12-69 54M1841 427q38-37 36-89M1830 413q-15-41-56-57M1774 356q-19 48 3 95M1795 371q-11 5-15 17M1798 422q4 22 22 34M1767 396q-10 36 9 68M1813 374q11 26 38 36M1757 383q14-10 17-27M1795 371q10-8 11-21M1838 356q-62 12-95 65M1772 423q31-15 41-49M1806 350q5 32 32 50M1857 363q-43-13-82 10M1841 427q-17 10-21 29M1785 428q29-58 6-118M1866 390q-31-25-71-19M1841 427q9-6 10-17M1855 349q-23-34-64-39M1866 390q4 16 18 25M1816 334q-25-6-46 8M1802 396q6 21 25 31M1859 377q-46 38-48 98M1824 347q-16 41 3 80M1824 347q-34-10-64 9M1824 347q-21-23-52-24M1851 410q-16-54-67-78M1772 423q40-15 56-54M1795 371q37-6 57-38M1757 383q3 52 43 86M1757 383q-5 38 20 68M1785 428q-9 1-14 9M1828 369q6-26-10-48M1798 422q-28 9-40 35M1823 392q6 7 15 8M1823 392q-10 40 13 75M1838 356q-16 51 11 98M1780 388q-6 21 5 40M1760 356q4 41 38 66M1816 334q13 39 50 56M1775 373q38 47 99 50M1839 382q-28-45-80-54M1780 388q5 43 40 68M1813 408q-15-38-53-52M1795 371q9-16 4-33M1775 373q19 32 55 40M1839 382q-30-19-64-9M1866 390q-10 15-6 32M1830 413q24-19 27-50M1841 427q-43-18-85 2M1836 338q-18-1-30 12M1824 347q-11 11-11 27M1757 383q20 16 45 13M1851 410q5-30-13-54M1839 382q-37 11-54 46M1781 410q16 6 32-2M1852 394q-25-10-50 2M1827 427q-18-50-67-71M1774 356q-7-3-14 0M1760 356q13-14 12-33M1802 396q-5-26-28-40M1836 338q-43-15-83 6M1851 410q0-17-12-28M1838 356q-35 24-40 66M1757 383q-8 3-12 11M1781 410q-11 11-10 27M1857 363q-10-30-39-42M1757 383q41-3 67-36M1772 423q24 2 41-15M1866 390q-58-19-111 11M1806 350q21 33 60 40M1772 423q-7 21 4 41M1841 427q-1-46-35-77M1787 346q-18 59 13 113M1795 371q38 19 78 3M1757 383q6 19 24 27M1830 413q-22-44-70-57M1787 346q-16-1-27 10M1760 356q24 7 46-6M1816 334q2 60 47 100M1859 377q-48 28-59 82M1802 396q-38-15-74 3M1787 346q37 33 86 28M1828 369q-8 10-5 23M1827 427q16-41-3-80M1781 410q-7-27-32-40M1798 422q18-21 15-48M1813 408q9-6 10-16M1857 363q7 24 29 36M1760 356q-9 5-11 14M1866 390q-12-61-64-93M1852 394q-45-26-95-11M1760 356q33 1 56-22M1839 382q-35 1-58 28M1852 394q-46-35-103-24M1866 390q-46-48-113-46M1787 346q-36 41-30 96M1828 369q11-35-8-67M1775 373q-16 31-4 64M1816 334q-18 36-3 74M1772 423q14-50-13-95M1813 408q27-30 23-70M1855 349q-33-16-68-3M1824 347q-19 28-11 61M1772 423q16-33 2-67M1787 346q-17 31-6 64M1823 392q25 25 61 23M1798 422q8-12 4-26M1798 422q21 20 49 18M1839 382q7 36 38 56M1855 349q-50 14-74 61M1859 377q6-24-7-44M1781 410q-17-9-36-3M1760 356q-1 32 21 54M1857 363q-52 40-57 106M1855 349q-68 5-110 58M1857 363q-72-10-129 36M1774 356q-20 60 11 115M1767 396q10 20 31 26M1828 369q-36 44-28 100M1772 423q32-4 51-31M1767 396q28 47 82 58M1823 392q-18 20-16 47M1838 356q-10 22 0 44M1852 394q-45-26-95-11M1830 413q-10-15-28-17M1813 408q-15-38-53-52M1767 396q28-1 46-22M1785 428q23 16 50 11M1780 388q60-4 97-50M1774 356q47 46 112 43M1857 363q-2 7 2 14M1852 394q-15-19-39-20M1866 390q-22-8-43 2M1767 396q4 10 14 14M1806 350q-21 13-26 38M1775 373q57 16 107-16M1830 413q11-14 9-31M1816 334q-9 6-10 16M1839 382q-9-23-33-32M1866 390q14 5 28-2M1851 410q-34 24-40 65M1823 392q11 30 40 42M1855 349q-35-2-60 22M1785 428q42-24 53-72M1838 356q-5 30 13 54M1852 394q-50 4-81 43M1772 423q-7 21 4 41M1851 410q1 15 12 24M1813 408q-12-17-33-20M1852 394q-56-17-107 13M1857 363q-22-32-60-37M1859 377q-11 15-8 33M1802 396q21 18 49 14M1795 371q-11 5-15 17M1775 373q21-5 31-23M1823 392q-36-10-68 9M1855 349q-2 7 2 14M1795 371q-23 21-23 52M1813 408q-16-6-32 2M1827 427q-4 22 9 40M1798 422q42-17 59-59M1823 392q-36 31-38 79M1839 382q29-28 29-68M1823 392q15-15 15-36M1827 427q23 16 50 11M1757 383q13 60 66 90M1836 338q-8 54 27 96M1780 388q2 31 27 51M1767 396q25 53 81 71M1767 396q21-21 20-50M1775 373q10 3 20-2M1780 388q12 17 33 20M1767 396q2 20 18 32M1836 338q-43-15-83 6M1772 423q4 29 28 46M1787 346q48 2 81-32M1857 363q-67-22-128 13M1813 408q34 19 71 7M1838 356q-31-38-80-41M1827 427q-6-21-25-31M1785 428q28-48 12-102M1806 350q18 51 68 73M1813 374q13 34 47 48M1830 413q-41-22-85-6M1828 369q-17-46-63-65M1828 369q20-13 24-36M1781 410q18 33 54 43M1839 382q13-6 18-19M1851 410q-11-26-38-36M1787 346q30 39 79 44M1838 356q22 10 44 1M1787 346q-24 35-15 77M1798 422q43-39 43-97M1813 408q54-12 82-60M1823 392q-29-10-56 4M1839 382q-54 12-82 60M1836 338q-17 53 11 102M1780 388q-9 31 8 59M1816 334q4-6 2-13M1855 349q-24-24-58-23M1827 427q28-10 39-37M1866 390q-66 2-109 52M1813 374q47 5 82-26M1828 369q11-14 8-31M1772 423q56-34 69-98M1828 369q16-29 5-60M1852 394q19-16 19-41M1838 356q15 32 48 43M1760 356q-23 29-17 65M1760 356q25 53 81 71M1852 394q-13 14-11 33M1827 427q-41-21-84-6M1852 394q-5-38-36-60M1827 427q-21 10-27 32M1813 374q-35 31-36 77M1851 410q-35-15-70 0M1802 396q54 13 101-18M1760 356q13-14 12-33M1798 422q-5-49-45-78M1772 423q14 36 51 50M1813 374q-26 21-28 54M1866 390q-10 15-6 32M1827 427q16 19 40 20M1823 392q27-23 29-59M1775 373q45 6 80-24M1760 356q-19 22-15 51M1798 422q-2-21-18-34M1828 369q-16 16-15 39M1757 383q6 19 24 27M1774 356q27 27 65 26M1855 349q-25-10-49 1M1838 356q-16 4-25 18M1839 382q-10 1-16 10M1757 383q-17 10-22 29M1795 371q11 46 52 69M1813 408q3 13 14 19M1859 377q-48 9-74 51M1839 382q13-6 18-19M1806 350q25 10 49-1M1839 382q26 15 55 6M1816 334q1 29 23 48M1802 396q-32-26-73-20M1823 392q-21-11-43-4M1795 371q-34-12-66 5M1851 410q-57 3-93 47M1780 388q28 1 48-19M1841 427q-7-3-14 0M1841 427q-8-60-57-95M1852 394q-30-44-82-52M1802 396q4-28-15-50M1851 410q2 8 9 12M1851 410q-52-25-106-3M1774 356q-1-17-15-28M1855 349q-15 13-16 33M1827 427q-10-71-69-112M1795 371q-2 14 7 25M1787 346q31-8 46-37M1828 369q-8-22-29-31M1802 396q-4-34-32-54M1787 346q18-21 15-49M1839 382q-54-27-110-6M1785 428q42-24 53-72M1857 363q-63-9-112 31M1780 388q20 24 50 25M1780 388q-19-5-35 6M1851 410q-49 10-75 54M1841 427q9 16 26 20M1780 388q-3-20-20-32M1824 347q-3 12 4 22M1828 369q-25 51-5 104M1757 383q20 16 45 13M1859 377q-22 36-10 77M1841 427q-12 0-21 9M1785 428q66-25 92-90M1816 334q20 33 57 40M1823 392q1-25-17-42M1813 408q32-13 44-45M1855 349q-26-41-74-49M1757 383q39 9 71-14M1780 388q39 38 94 35M1824 347q-11 11-11 27M1851 410q14 21 38 25M1767 396q5 49 44 79M1802 396q49-2 80-39M1816 334q-58 21-81 78M1841 427q22-61-8-118M1802 396q21-28 14-62M1806 350q32 16 65 3M1785 428q56-8 88-54M1823 392q27-23 29-59M1774 356q19-19 17-46M1839 382q-3-9-11-13M1806 350q-28 34-21 78M1760 356q61 27 122 1M1828 369q-49 14-72 60M1866 390q-68-12-123 31M1828 369q-19 32-8 67M1828 369q-23 42-8 87M1775 373q-7 30 10 55M1855 349q-35-2-60 22M1838 356q-62 33-80 101M1757 383q74 30 146-5M1772 423q-11-33-43-47M1760 356q23 21 53 18M1855 349q-43-32-96-21M1855 349q-37 12-53 47M1830 413q-35-22-75-12M1760 356q51 9 92-23M1838 356q-14 36 3 71M1806 350q-12 46 14 86M1855 349q-25 14-32 43M1857 363q-53 27-69 84M1852 394q-24-64-87-90M1816 334q34 41 87 44M1780 388q30-19 36-54M1839 382q20 19 47 17M1806 350q-49 15-71 62M1827 427q43 5 75-23M1841 427q-20-1-34 12M1816 334q-34 69-5 141M1767 396q4 10 14 14M1857 363q-56-20-108 7M1785 428q57 8 101-29M1767 396q-1 30 21 51M1785 428q27-10 38-36M1836 338q-51-3-87 32M1828 369q-32-29-75-25M1774 356q27 27 65 26M1816 334q-30 19-36 54M1841 427q-9-52-54-81M1839 382q-52-8-94 25M1813 374q-10 33 7 62M1802 396q-18 22-14 51M1806 350q-40 9-61 44M1857 363q20 18 46 15M1851 410q5-30-13-54M1795 371q-23-11-46-1M1806 350q-10 8-11 21M1828 369q3-12-4-22M1774 356q1 60 46 100M1816 334q-10 43 14 79M1852 394q-23-2-39 14M1836 338q9 1 16-5M1806 350q-42 28-50 79M1830 413q-26-2-45 15M1827 427q5-30-14-53M1767 396q23 29 60 31M1785 428q37-11 54-46M1774 356q-16 33-2 67M1859 377q-11 29 4 57M1787 346q-4 28 15 50M1823 392q-24 39-12 83M1816 334q-42 35-44 89M1827 427q16-41-3-80M1838 356q-21 33-11 71M1866 390q-51-19-99 6M1830 413q-14-49-60-71M1813 408q30 10 57-5M1816 334q-28 40-18 88M1760 356q45 32 99 21M1866 390q-42-29-91-17M1781 410q-2 10 4 18M1816 334q-52 21-71 73M1827 427q42-5 67-39M1802 396q19-8 26-27M1836 338q-43-15-83 6M1841 427q-21-42-66-54M1760 356q37-5 58-35M1839 382q11 2 20-5M1802 396q-9-9-22-8M1841 427q-50-31-106-15M1772 423q-4 15 5 28M1855 349q-74-3-127 50M1839 382q-42-33-94-24M1828 369q-39-9-71 14M1830 413q-41-22-85-6M1813 374q-3 54 35 93M1772 423q-4 15 5 28M1816 334q-45 20-61 67M1774 356q40 22 83 7M1767 396q52-29 66-87M1775 373q30 57 92 74M1802 396q23 26 58 26M1823 392q24 36 66 43M1824 347q-27-6-50 9M1839 382q-30-19-64-9M1813 408q-11-26-38-35M1760 356q6 72 63 117M1785 428q-21-19-50-16M1851 410q0-37-27-63M1787 346q-22 51 1 101M1828 369q-31-21-68-13M1774 356q12 55 61 83M1682 529q-19-30-53-36M1641 521q18-22 14-51M1597 586q10-43-14-79M1641 521q-38 16-51 55M1682 529q-67 6-107 60M1621 561q46 7 82-22M1597 514q31 38 80 41M1629 493q-48 52-42 122M1611 523q34-17 44-53M1621 561q30 0 50-23M1597 550q33 2 57-22M1635 541q20-1 32-17M1635 541q-24 19-26 49M1661 577q-29-5-52 13M1626 524q35 6 63-16M1582 538q-5-11-16-14M1671 538q-24-33-65-37M1597 586q29-33 24-76M1622 589q9-35-11-66M1629 493q13 51 59 77M1658 558q-13-40-52-57M1606 501q-24 34-16 75M1621 561q30-16 39-50M1609 590q18-45-3-89M1671 538q14 0 24-10M1671 538q-32-28-74-24M1611 523q1 41 31 68M1622 589q52-39 59-103M1671 538q-36 28-39 73M1597 514q6 48 45 77M1643 503q-38 20-49 61M1584 522q50 52 121 50M1612 574q7 4 14 1M1658 558q-8-14-23-17M1626 575q-24-18-54-12M1629 493q13 51 59 77M1684 542q-24-30-63-32M1594 529q-1 26 18 45M1660 511q-11 14-8 31M1654 528q9 38 43 57M1611 523q-15-21-41-24M1637 567q23 3 40-12M1677 555q-10-12-25-13M1606 501q-11 48 16 88M1654 528q-5-23-25-35M1674 574q6-9 3-19M1641 521q-33-4-59 17M1656 498q-1 7 4 13M1612 574q-28-16-58-6M1584 522q56 16 105-14M1677 555q-35 5-55 34M1637 567q-36-3-62 22M1584 522q-9-3-18 2M1612 574q26-20 29-53M1622 589q6-14-1-28M1641 521q12 7 26 3M1656 498q-8 0-13 5M1597 586q21-28 14-63M1637 567q-9-16-26-20M1674 574q23-42 7-88M1657 590q7-55-28-97M1671 538q-44-20-89 0M1652 542q-3 19 9 35M1626 575q-17-1-29 11M1682 529q-32-31-76-28M1594 529q32 49 89 59M1626 575q12-15 9-34M1582 538q59 20 113-10M1621 510q18 35 56 45M1626 524q-16 32-4 65M1594 564q-2-8-10-12M1597 586q36-39 32-93M1684 542q-36-4-63 19M1621 561q-2-9-10-14M1611 547q2 9 10 14M1629 493q12 8 27 5M1611 523q27 21 60 15M1656 498q14 31 47 41M1654 528q-33-2-57 22M1667 524q-7-1-13 4M1657 590q-8 7-8 18M1626 575q4-29-15-52M1671 538q-47-12-87 14M1621 510q20 45 67 60M1635 541q18 16 42 14M1621 561q19-32 8-68M1637 567q31-9 45-38M1657 590q-13-51-60-76M1677 555q-10-3-19 3M1584 522q40 27 87 16M1641 521q-13-18-35-20M1661 577q14-33-1-66M1594 529q30 40 80 45M1612 574q37-5 59-36M1637 567q25 13 51 3M1606 501q18 51 68 73M1590 576q11 4 22-2M1629 493q25 32 66 35M1684 542q-38-14-73 5M1611 523q28-3 45-25M1643 503q27 3 48-15M1594 564q56-14 83-64M1660 511q-24 23-23 56M1657 590q-6-56-51-89M1643 503q28 11 56-2M1635 541q21 36 62 44M1641 521q0 22 17 37M1677 555q12-28 0-55M1674 574q-34-46-90-52M1652 542q4 21 22 32M1643 503q14 22 39 26M1656 498q-13-16-33-18M1671 538q-19-17-45-14M1622 589q29 4 52-15M1584 522q3 6 10 7M1674 574q-30-40-80-45M1611 523q-21 45-2 91M1584 522q21 10 42 2M1643 503q13-14 12-33M1612 574q39 15 76-4M1671 538q-6 19 3 36M1641 521q-15 45 8 87M1584 552q40 3 70-24M1597 514q33 5 59-16M1658 558q4 12 16 16M1658 558q22-37 10-79M1629 493q-12 39 8 74M1594 564q48-28 60-82M1584 552q50-20 70-70M1584 522q-8 52 25 92M1648 578q21-31 12-67M1684 542q1-42-29-72M1626 575q34-40 28-93M1622 589q-2-10-10-15M1594 529q30 59 93 77M1582 538q26-5 39-28M1641 521q33 3 58-20M1658 558q22-25 19-58M1641 521q-15 35 1 70M1621 510q-8 4-10 13M1594 564q5-6 3-14M1594 529q-1 26 18 45M1654 528q-43-21-88-4M1660 511q-19 39-3 79M1584 552q13 50 58 74M1606 501q-31 24-34 62M1667 524q-60 12-92 65M1656 498q-1 23 15 40M1626 524q8 2 15-3M1612 574q17 10 36 4M1661 577q-33-29-77-25M1622 589q58-27 77-88M1641 521q-35 3-57 31M1674 574q-26-27-63-27M1597 514q25 5 46-11M1652 542q-16-19-41-19M1648 578q-17-10-36-4M1674 574q0-42-31-71M1626 575q34-40 28-93M1594 529q13 28 43 38M1661 577q-28-59-91-78M1584 522q47 25 98 7M1594 529q10 42 48 62M1641 521q-7 9-6 20M1648 578q-27 9-39 36M1611 547q-5-13-17-18M1656 498q-31 24-35 63M1643 503q-20 44-1 88M1584 552q62 20 119-13M1677 555q-6-19-23-27M1652 542q12-21 4-44M1677 555q-27 29-23 69M1626 575q34-40 28-93M1622 589q-9-34-40-51M1641 521q-26 20-29 53M1612 574q44-43 43-104M1621 561q14-48-12-91M1660 511q-19 10-25 30M1642 591q10-68-33-121M1661 577q-49-42-113-35M1652 542q-52-23-104 0M1621 561q4 20 21 30M1584 552q52 17 100-10M1582 538q25 3 44-14M1626 575q32-32 30-77M1626 575q-6-30-32-46M1597 550q20-7 29-26M1606 501q-6 33 15 60M1642 591q2-53-36-90M1677 555q-18-35-56-45M1611 523q27 5 49-12M1642 591q15-35-1-70M1611 523q-28 11-39 40M1611 523q20 12 43 5M1597 514q32 28 74 24M1626 524q-12-11-29-10M1621 510q8 23 31 32M1597 586q69-28 94-98M1652 542q22-28 16-63M1654 528q7-32-11-59M1643 503q-12 17-8 38M1658 558q12-15 9-34M1682 529q-19-30-53-36M1594 529q37 6 66-18M1635 541q20-17 21-43M1643 503q-17 31-6 64M1667 524q-12-32-44-44M1621 510q-24 37-12 80M1611 523q47 35 105 24M1590 576q38-3 62-34M1682 529q-27-15-56-5M1637 567q-7-7-16-6M1609 590q42-12 62-52M1609 590q48-8 75-48M1612 574q19-30 9-64M1621 561q36 4 63-19M1597 550q13 40 52 58M1612 574q0-40-29-67M1637 567q17-31 6-64M1637 567q39 1 66-28M1609 590q11-41-12-76M1612 574q11 25 37 34M1671 538q-40-27-87-16M1684 542q-24-30-63-32M1635 541q-29 14-38 45M1597 586q49-31 59-88M1611 523q-21 45-2 91M1667 524q-38 13-55 50M1642 591q10-68-33-121M1661 577q-18-26-50-30M1661 577q25-3 40-24M1590 576q-6-10-18-13M1654 528q-17 16-17 39M1612 574q1-26-18-45M1637 567q-16-17-40-17M1609 590q11-41-12-76M1597 586q29-14 38-45M1597 514q21 35 61 44M1622 589q4-43-25-75M1621 510q28 49 84 62M1606 501q41 9 75-15M1597 550q10 11 24 11M1652 542q-29-8-55 8M1594 529q-12 23-4 47M1654 528q-38-11-72 10M1612 574q49-35 56-95M1609 590q24-19 26-49M1606 501q-41 22-52 67M1677 555q-4 18 6 33M1643 503q6 24 28 35M1656 498q-1 7 4 13M1635 541q8 14 23 17M1643 503q-38 4-61 35M1652 542q-8-23-31-32M1622 589q51-26 67-81M1641 521q-24 43-9 90M1671 538q-11-32-42-45M1661 577q-11-50-55-76M1657 590q-37-32-85-27M1652 542q33-10 47-41M1677 555q-25 10-35 36M1658 558q-6 26 10 48M1626 524q-13 8-15 23M1677 555q-15-57-68-85M1606 501q25 17 54 10M1590 576q-6-10-18-13M1637 567q12-47-14-87M1606 501q13-7 17-21M1682 529q-38 3-61 32M1626 575q36-4 58-33M1682 529q-8 12-5 26M1612 574q-18-14-40-11M1612 574q-4-47-42-75M1643 503q-40 12-59 49M1671 538q-49 1-81 38M1609 590q54-43 59-111M1584 522q3 32 28 52M1582 538q56 2 95-38M1674 574q22-30 15-66M1611 547q21-6 30-26M1674 574q14-21 8-45M1590 576q-12-4-24 2M1584 552q48 32 104 18M1590 576q56-3 92-47M1682 529q-50 14-73 61M1641 521q-54 4-87 47M1597 586q1-20-13-34M1658 558q1-9-6-16M1626 524q-13 8-15 23M1652 542q5 30 31 46M1654 528q-40-3-70 24M1642 591q-21-12-45-5M1656 498q-1 23 15 40M1611 547q-5 14 1 27M1582 538q44 20 89 0M1629 493q0-8-6-13M1584 552q48-29 59-83M1629 493q19 30 53 36M1590 576q11 4 22-2M1661 577q2-49-32-84M1626 575q34-40 28-93M1621 510q-40 29-46 79M1606 501q-2 63 43 107M1671 538q-42 12-62 52M1641 521q-12 22-4 46M1584 522q-2-15-14-23M1597 586q57 17 108-14M1642 591q8-27-7-50M1584 522q61 7 107-34M1611 547q21-6 30-26M1584 552q49 41 113 33M1660 511q-27 46-11 97M1622 589q-1-36-28-60M1606 501q6 26 29 40M1682 529q-24 35-14 77M1582 538q66-1 109-50M1584 552q30 45 84 54M1648 578q-19-25-51-28M1622 589q17-40-1-79M1621 510q-28 13-37 42M1626 524q-30-13-60 0M1677 555q-49-40-111-31M1606 501q39 33 89 27M1629 493q28 8 52-7M1611 547q22 7 41-5M1671 538q1 20 17 32M1626 575q38-46 29-105M1661 577q-7-2-13 1M1642 591q15-35-1-70M1597 514q36-3 57-32M1621 561q6-33-15-60M1658 558q23 7 43-5M1677 555q-46-22-93-3M1656 498q3-8-2-16M1677 555q12 4 24-2M1642 591q0 10 7 17M1684 542q-38-14-73 5M1657 590q7-55-28-97M1597 550q49 35 108 22M1621 561q-29 4-46 28M1621 510q-13 16-10 37M1660 511q-66 5-106 57M1597 586q47 2 80-31M1594 564q34 2 58-22M1626 524q14 45 57 64M1674 574q-30-40-80-45M1626 524q-22-25-56-25M1674 574q8 1 14-4M1635 541q0 29 22 49M1621 561q-2-29-24-47M1612 574q38-13 55-50M1594 529q1 49 38 82M1611 547q-10-33-41-48M1637 567q-17-34-53-45M1641 521q-15-6-30 2M1667 524q-48-4-83 28M1637 567q-24 1-40 19M1582 538q-3 27 15 48M1677 555q-36-31-83-26M1622 589q56 0 94-42M1590 576q54 4 94-34M1677 555q-10-12-25-13M1654 528q7-7 6-17M1590 576q49-1 81-38M1590 576q50-9 77-52M1674 574q-4-12-16-16M1648 578q36-7 55-39M1643 503q18 38 58 50M1682 529q-31 9-45 38M1654 528q-20-12-43-5M1661 577q-5 6-4 13M1611 523q-38 10-57 45M1626 524q-16 32-4 65M1629 493q18-6 26-23M1611 523q15 6 30-2M1656 498q-21 6-30 26M1635 541q19-10 25-30M1671 538q-44-20-89 0M1622 589q4-23-11-42M1654 528q20 9 41 0M1609 590q12-4 17-15M1684 542q-53 3-87 44M1635 541q19-10 25-30M1658 558q-33-11-64 6M1611 547q31 19 66 8M1609 590q42-3 68-35M1584 522q20 42 64 56M1643 503q-18-9-37-2M1629 493q23 2 39-14M1671 538q-11-15-30-17M1643 503q10-8 11-21M1682 529q-18 9-24 29M1597 550q51-7 80-50M1684 542q-39-54-105-62M1654 528q-4 7-2 14M1654 528q18 23 47 25M1606 501q11 50 55 76M1682 529q-4-30-28-47M1597 586q59-25 80-86M1643 503q16 48 62 69M1658 558q11-7 13-20M1671 538q-47-12-87 14M1641 521q-33 11-47 43M1622 589q-8-19-28-25M1658 558q-25 8-36 31M1637 567q35 7 64-14M1656 498q-46 19-62 66M1654 528q10-23 0-46M1629 493q-21 3-32 21M1621 510q8 23 31 32M1582 538q38-4 61-35M1621 561q-6-22-27-32M1584 552q46 22 93 3M1611 547q9 16 26 20M1611 547q36-23 43-65M1654 528q-20-12-43-5M1597 550q16 17 40 17M1772 550q-36-14-71 3M1772 538q14-12 14-30M1772 550q0 16 12 27M1751 532q9 8 21 6M1763 525q-37 0-62 28M1772 550q33 14 66-2M1751 532q11 38 46 56M1773 565q3-49-31-85M1751 532q57 3 97-37M1772 538q-30-8-56 9M1763 525q2 8 9 13M1751 532q27-28 25-68M1751 532q31 21 68 12M1751 532q-12 17-7 38M1772 550q9-60-29-107M1751 532q-3-38-32-61M1773 565q9-29-6-55M1751 532q8-1 12-7M1772 550q1-14-9-25M1751 546q51-3 83-43M1751 532q20 26 53 28M1751 532q-20-35-60-44M1751 546q27 8 50-7M1772 538q-39-8-71 15M1763 525q-28 15-35 46M1763 525q-37 0-62 28M1751 546q27 8 50-7M1751 532q-46 33-53 89M1772 550q-47 12-70 55M1772 538q-12-1-21 8M1763 525q-16-27-47-33M1751 532q20-10 26-32M1773 565q49 1 83-35M1751 546q-22-45-70-60M1751 532q21-24 18-55M1773 565q-8-4-17 0M1773 565q-28 17-35 49M1772 538q-36 9-53 42M1773 565q-32 2-53 27M1751 532q-34-17-69-3M1772 550q-40 14-57 53M1751 532q21 8 41-2M1772 550q30-2 50-25M1763 525q-33-25-74-17M1751 546q3-7 0-14M1751 546q52-21 72-73M1773 565q20-7 28-26M1773 565q26-25 25-61M1772 550q-14 33 1 65M1772 550q50-11 76-55M1751 546q12 1 21-8M1751 532q-8-43-46-66M1772 538q7 11 20 14M1773 565q-39-31-89-23M1773 565q-12-49-57-73M1772 538q-40 29-46 78M1751 546q-6-35-35-54M1751 546q-14 45 9 86M1773 565q-23-48-74-64M1763 525q32 28 75 23M1772 550q-15-41-56-58M1751 532q-13-36-48-51M1751 546q22-25 18-58M1772 550q-40 14-57 53M1772 538q-5 38 19 67M1773 565q-7-14-22-19M1773 565q5-39-20-69M1772 538q4-15-5-28M1763 525q2 8 9 13M1772 550q10 5 20 2M1751 532q3-9-1-18M1772 550q-19-36-59-47M1773 565q11 25 37 34M1763 525q30 13 59 0M1751 546q25 37 70 44M1763 525q24 22 56 19M1751 532q-20-35-60-44M1751 532q7 30 33 45M1751 532q-41-15-80 6M1772 550q14-6 20-20M1772 538q-45-17-88 4M1751 532q21 34 61 41M1772 550q22-3 35-21M1773 565q33-56 15-118M1751 532q15 46 59 67M1772 538q5-46-26-81M1763 525q-20-35-60-44M1772 538q18-36 4-74M1773 565q-14-23-40-28M1751 546q-43 26-53 75M1773 565q-41 17-57 59M1751 532q-16 24-9 51M1773 565q-33-22-72-12M1772 550q14-24 5-50M1773 565q-23 23-21 55M1772 538q14 7 29 1M1772 538q13 37 49 52M1773 565q11-52-20-96M1751 546q-10-30-38-43M1751 546q-3 29 16 51M1763 525q-17-16-40-15M1751 532q31 21 68 12M1772 550q-3 32 19 55M1751 546q-17 7-23 25M1773 565q-4-37-33-59M1763 525q31-20 37-56M1772 550q-13 22-5 47M1751 532q9-18 2-36M1763 525q-26 45-11 95M1751 532q31 21 68 12M1773 565q9-29-6-55M1751 532q16 19 41 20M1763 525q-16-42-58-59M1751 546q31 21 67 12M1763 525q-7-15-23-19M1751 532q0-15-11-26M1772 550q-35 10-52 42M1772 538q5 24 26 36M1773 565q17 4 31-5M1773 565q-30-4-54 15M1772 538q-3 6 0 12M1773 565q-39-31-89-23M1772 538q-25 16-30 45M1763 525q22-3 35-21M1773 565q12-2 19-13M1751 532q48 4 83-29M1751 532q-21 0-35 15M1773 565q-28 17-35 49M1763 525q-2-40-33-66M1763 525q-11 8-12 21M1751 532q34-14 46-49M1772 550q-10-7-21-4M1773 565q36 6 65-17M1763 525q23-34 14-74M1751 532q-31 36-25 84M1773 565q30-36 24-82M1751 532q-26-7-48 7M1772 538q12 26 40 35M1751 546q24 1 41-16M1772 538q-34 31-34 76M1772 538q39 6 69-19M1773 565q30 14 61 2M1772 538q-43 20-57 65M1772 538q-34 31-34 76M1751 546q22-25 18-58M1773 565q26-25 25-61M1772 550q-47 12-70 55M1751 546q-21 3-34 20M1773 565q-7-14-22-19M1772 538q-5 14 1 27M1773 565q24-50 3-101M1772 550q-11 4-16 15M1772 538q11 18 32 22M1751 532q4 21 22 33M1751 532q-1-23-18-38M1773 565q17-45-4-88M1773 565q14-21 8-45M1763 525q3 39 34 63M1772 550q7-52-26-93M1772 550q33 14 66-2M1773 565q27-56 4-114M1772 538q44 14 84-8M1751 532q30-23 34-61M1763 525q-7-15-23-19M1763 525q-4 22 10 40M1751 532q-18 52 9 100M1751 546q-6-35-35-54M1772 538q-29-19-63-10M1751 532q-30-32-74-32M1763 525q-17-16-40-15M1751 532q-13-36-48-51M1772 538q31 20 66 10M1773 565q-28-12-56 1M1773 565q48 10 88-19M1772 550q33 14 66-2M1773 565q24-50 3-101M1772 550q15-37-3-73M1751 532q9 8 21 6M1772 550q-29 9-42 37M1751 532q-41-15-80 6M1751 532q0-15-11-26M1772 538q-12-1-21 8M1751 546q34 14 68-2M1772 550q30-2 50-25M1751 546q51-3 83-43M1751 546q-12 3-18 13M1751 532q36 42 91 43M1773 565q12-68-30-122M1763 525q-7-15-23-19M1772 538q-5 14 1 27M1751 532q0-15-11-26M1763 525q-45 39-47 99M1763 525q40 5 71-22M1763 525q10 1 18-5M1772 550q-44 25-56 74M1773 565q-8-4-17 0M1751 532q-5 18 5 33M1751 532q36 42 91 43M1773 565q-39-31-89-23M1772 550q31-48 16-103M1773 565q-30-4-54 15M1772 538q0-25-19-42M1772 538q-34 2-55 28M1772 538q-29-19-63-10M1751 546q17 24 47 28M1773 565q-50 12-75 56M1751 532q-31 36-25 84M1772 550q0 16 12 27M1773 565q-26 2-43 22M1751 546q-23 24-20 57M1772 550q-6-29-32-44M1751 546q-27 36-19 81M1751 532q7-28-9-52M1772 538q-36-22-77-10M1772 550q22-24 19-57M1773 565q18 23 48 25M1772 550q-19 29-11 62M1751 546q-39-12-74 9M1751 532q-41-15-80 6M1772 550q-33 3-53 30M1773 565q27-44 12-94M1751 546q46-22 60-71M1763 525q-33-25-74-17M1763 525q7 32 35 49M1763 525q-8-22-30-31M1772 550q-32-21-69-11M1751 546q-29 3-46 26M1751 546q34 14 68-2M1772 538q-10-39-45-58M1763 525q-34 18-44 55M1751 532q9 8 21 6M1751 532q-20-11-42-4M1763 525q28 42 79 50M1772 550q-7-37-39-56M1773 565q-29-47-84-57M1751 532q-15 10-18 27M1751 532q-12 17-7 38M1751 532q8-1 12-7M1751 546q7 14 22 19M1751 532q53 9 95-24M1773 565q15-39-4-77M1751 532q45-9 69-48M1763 525q-23 24-21 58M1772 550q8 18 26 24M1751 546q-9 10-7 24M1763 525q-49-14-92 13M1773 565q12-2 19-13M1751 546q7 14 22 19M1751 546q-45-3-77 28M1751 546q-3 29 16 51M1773 565q36 6 65-17M1773 565q3 8 11 12M1751 546q-28 30-25 70M1751 532q20-10 26-32M1751 546q48 14 91-12M1772 550q-38-4-67 22M1772 538q-57-4-98 36M1772 550q3-6 0-12M1772 550q41 0 69-31M1751 532q-26-7-48 7M1763 525q-22 10-30 34M1772 550q-47 12-70 55M1751 546q-6-35-35-54M1751 532q2 37 31 60M1751 532q-26 31-20 71M1751 532q39 19 79 4M1751 532q28 28 67 26M1751 546q-31-24-69-17M1772 538q-14 10-16 27M1773 565q32 20 69 10M1773 565q14 19 37 22M1773 565q-33-22-72-12M1772 550q23-17 26-46M1772 550q0-42-30-70M1751 532q-10-1-18 5M1751 532q21 34 61 41M1772 550q0 16 12 27M1773 565q-28 17-35 49M1773 565q-34 22-41 62M1772 538q32-10 46-41M1773 565q28 0 46-21M1763 525q-22 10-30 34M1772 538q20-11 26-34M1751 532q8-1 12-7M1772 550q18-31 8-65M1773 565q-10 15-6 32M1772 550q-7-37-39-56M1763 525q-11 8-12 21M1772 550q8-45-19-81M1773 565q15-39-4-77M1773 565q-6-59-54-94M1763 525q3 39 34 63M1763 525q-37 0-62 28M1751 532q-26-26-62-24M1772 550q-32 17-41 53M1751 532q3-9-1-18M1772 550q32 6 58-14M1763 525q11-17 6-37M1751 546q46-22 60-71M1772 550q-15-41-56-58M1763 525q-12 18-7 40M1763 525q-22 10-30 34M1772 550q-55 9-85 56M1773 565q-50-8-90 23M1773 565q37-47 27-106M1751 546q-28 30-25 70M1772 550q-15-23-41-27M1772 538q-34 44-24 99M1763 525q20 29 55 33M1751 546q3-22-11-40M1763 525q-20 43-2 87M1772 550q25 7 47-6M1751 532q17 40 59 55M1773 565q-44 4-71 40M1751 546q12-25 2-50M1772 538q5 24 26 36M1751 546q11-8 12-21M1751 546q5 30 31 46M1751 532q30-4 47-28M1751 546q3-38-24-66M1763 525q-37 0-62 28M1773 565q-41 17-57 59M1751 532q-7 46 22 83M1772 550q-27-25-63-22M1772 538q-18-51-67-72M1772 538q18-36 4-74M1773 565q-4-44-40-71M1751 546q-6-24-28-36M1772 538q-56 5-89 50M1772 550q27-28 25-67M1751 532q23 14 50 7M1751 532q4 45 40 73M1772 538q-14 10-16 27M1772 550q-40-30-90-21M1772 550q8-45-19-81M1772 550q-14 33 1 65M1772 550q11 27 38 37M1773 565q7 17 24 23M1772 550q-27-25-63-22M1751 532q-9-17-28-22M1751 532q40 27 87 16M1751 532q-32 10-46 40M1751 532q-20-11-42-4M1751 532q7 14 21 18M1751 532q-27-14-56-4M1751 532q-1-31-24-52M1772 550q-3-23-22-36M1772 538q-4-49-42-79M1772 538q-55 25-74 83M1773 565q-46-26-96-10M1751 546q-16-34-52-45M1751 546q-7-8-18-9M1773 565q-42-7-76 20M1773 565q-24-7-45 6M1751 546q18 39 59 53M1763 525q-18-1-30 12M1773 565q35-42 27-96M1763 525q-39 11-58 47M1751 532q-46 13-68 56M1772 550q10 5 20 2M1751 532q8-1 12-7M1751 532q21 8 41-2M1751 532q4 45 40 73M1751 532q-24 10-34 34M1773 565q11 10 25 9M1772 538q-34 2-55 28M1773 565q-12-49-57-73M1773 565q5-39-20-69M1773 565q-29 10-42 38M1772 538q-11 22-2 44M1773 565q35-42 27-96M1751 546q-10 28 4 54M1751 532q-2 29 19 50M1773 565q28 0 46-21M1772 538q-16 39 1 77M1772 538q-2-8-9-13M1763 525q-26 45-11 95M1773 565q49-12 73-57M1751 546q-5-16-20-23M1772 538q5-46-26-81M1772 538q13 37 49 52M1772 538q-5 14 1 27M1751 532q-3 7 0 14M1772 550q-15-41-56-58M1772 538q28-42 16-91M1751 532q-19 44 1 88M1751 546q-3 29 16 51M1763 525q-28 1-47 22M1772 550q35-16 46-53M1763 525q-15 47 10 90M1772 538q-5 38 19 67M1773 565q5-14-1-27M1763 525q-4-8-13-11M1763 525q-38 44-31 102M1751 546q10-35-9-66M1773 565q-19 2-31 18M1763 525q-45 39-47 99M1751 546q27 8 50-7M1763 525q-7-15-23-19M1772 550q32-23 37-62M1773 565q-25-22-57-18M1751 532q-16 24-9 51M1773 565q30 14 61 2M1773 565q-16-4-29 5M1772 538q43-13 63-53M1773 565q-36-11-68 7M1763 525q20 29 55 33M1751 532q28 28 67 26M1772 550q31-48 16-103M1763 525q-47 6-75 45M1772 550q46 8 84-20M1751 532q29 11 56-3M1772 550q15-37-3-73M1763 525q-23 24-21 58M1763 525q22-3 35-21M1772 550q11-13 9-30M1751 532q13-7 16-22M1773 565q41-30 47-81M1751 546q22-25 18-58M1772 550q-15-57-67-84M1772 538q-34 31-34 76M1772 550q14 12 32 10M1772 550q-13 22-5 47M1751 546q37-21 46-63M1763 525q31 20 67 11M1751 532q38-21 49-63M1751 546q55 24 110 0M1751 532q43-15 60-57M1751 532q-5 18 5 33M1772 538q-2-36-30-58M1772 550q-7-45-45-70M1763 525q10 41 47 62M1763 525q-22 10-30 34M1751 532q22 44 70 58M1751 546q25 27 61 27M1773 565q-29-60-92-79M1751 546q19 12 41 6M1763 525q5-7 4-15M1772 538q-10-39-45-58M1763 525q-41 28-48 78M1772 538q-48 7-75 47M1772 550q-27-49-81-62M1751 532q-40 5-63 38M1773 565q-28-12-56 1M1773 565q39-37 38-90M1772 538q36-16 48-54M1751 532q-10-1-18 5M1763 525q5-7 4-15M1751 546q-28 30-25 70M1772 550q24-37 13-79M1772 550q-3 8 1 15M1751 546q55-12 84-61M1751 532q25-17 29-47M1772 538q-6-17-22-24M1751 546q10-35-9-66M1773 565q4-22-10-40M1772 550q-14 33 1 65M1773 565q-24-7-45 6M1772 538q-17-17-41-15M1772 550q-32-21-69-11M1772 538q-14 10-16 27M1772 538q12 26 40 35M1773 565q20-7 28-26M1772 550q-38 23-46 66M1763 525q31-20 37-56M1772 538q-34 44-24 99M1751 546q12 1 21-8M1763 525q-22 10-30 34M1772 550q10 5 20 2M1763 525q-32 53-15 112M1772 550q-38-4-67 22M1772 538q-30-8-56 9M1772 538q-5 14 1 27M1772 538q-14 10-16 27M1772 538q21-31 13-67M1773 565q44-8 68-46M1751 532q37 12 71-7M1763 525q-35-13-68 3M1763 525q-28-34-72-37M1751 546q2-30-18-52M1751 546q-23-33-62-38M1763 525q-8-30-36-45M1773 565q-13-38-50-55M1772 550q-31 38-24 87M1772 550q11-13 9-30M1773 565q25-32 18-72M1751 546q-5-16-20-23M1772 538q-24 2-39 21M1751 532q21 8 41-2M1751 532q34-14 46-49M1772 538q-19-9-39-1M1751 532q-13-23-38-29M1763 525q-34 18-44 55M1751 546q26-11 35-38M1751 532q-8-9-20-9M1773 565q3-49-31-85M1751 546q-43 6-68 42M1751 546q11-8 12-21M1751 532q37-34 37-85M1763 525q14-23 6-48M1751 546q16-14 16-36M1751 546q7-16-1-32M1772 550q-9-51-53-79M1763 525q12-9 14-25M1751 532q6-41-21-73M1773 565q-24-33-64-37M1772 550q32-11 45-41M1772 550q12-32-3-62M1751 532q29-11 40-39M1763 525q26 37 71 42M1751 532q49-14 72-59M1676 333q-34 34-32 83M1624 336q-2 50 34 86M1622 411q39-38 37-93M1671 371q-28-17-60-7M1676 333q-52 32-63 91M1671 371q-7-28-32-41M1658 330q-37 41-31 96M1665 407q-28-40-76-46M1662 344q-36 33-35 82M1664 360q7-22-5-42M1644 416q-11 1-17 10M1628 397q41 1 70-29M1628 397q18-5 27-22M1591 397q30-23 33-61M1609 405q17-14 18-36M1659 318q-6 29 12 53M1609 405q30-5 46-30M1658 330q-30 27-30 67M1627 369q23-5 35-25M1675 398q-10-32-40-46M1680 383q-37-16-74 1M1683 364q-52-12-97 18M1664 360q-45 2-73 37M1638 312q-3 9 1 18M1671 371q-41 14-58 53M1606 384q28-20 33-54M1664 360q-30-23-68-16M1635 352q15 2 27-8M1607 350q-18 11-21 32M1680 383q-41-31-91-22M1676 333q-20-18-47-15M1671 371q-27-25-64-21M1683 364q-31 17-39 52M1638 312q11 29 40 41M1635 352q4-18-6-34M1642 388q-16 16-15 38M1586 382q10 5 20 2M1644 416q8-44-20-80M1647 344q-41-6-73 21M1651 404q19-28 11-60M1671 371q-9-11-23-11M1622 411q19-27 13-59M1609 405q38-3 62-34M1676 333q-58-6-102 32M1639 330q9 36 41 53M1612 328q-26 30-21 69M1671 371q-33 9-49 40M1664 360q12-11 12-27M1609 405q40-19 53-61M1635 352q-11 13-8 30M1638 312q11 29 40 41M1607 350q33-5 52-32M1659 393q-3-26-24-41M1612 328q-27 41-15 89M1609 405q32-22 38-61M1627 382q-4-13-16-18M1612 328q13 7 27 2M1629 318q-18 39-1 79M1662 344q-5 30 13 54M1609 405q28 13 56 2M1611 364q1 20 17 33M1612 328q6 17 23 24M1589 361q-8-1-15 4M1591 397q48 13 89-14M1628 397q30-27 30-67M1683 364q-21-17-48-12M1609 405q11-28-2-55M1675 398q-2-33-28-54M1659 318q-17 46 6 89M1609 405q28 13 56 2M1683 364q-14-18-36-20M1676 333q-20-18-47-15M1676 333q-3 17 7 31M1589 361q-7 18 2 36M1665 407q18-24 13-54M1675 398q-12-42-51-62M1622 411q6-6 6-14M1628 397q9-48-20-88M1629 318q14 52 62 77M1671 371q-6-19-24-27M1591 397q37 3 64-22M1627 382q16 3 28-7M1628 397q21-22 19-53M1664 360q-15-21-40-24M1658 330q-3 23 13 41M1665 407q-24-24-59-23M1638 312q-35 40-29 93M1665 407q13-40-7-77M1611 364q19-19 18-46M1611 364q15-1 24-12M1655 375q-2 18 10 32M1624 336q23 27 59 28M1596 344q8 47 48 72M1591 397q37 3 64-22M1683 364q-16-1-28 11M1591 397q64-9 101-62M1659 393q-6 4-8 11M1609 405q41-27 49-75M1659 318q-13-15-34-16M1627 382q15-6 21-22M1658 330q-36 33-36 81M1642 388q-5 14 2 28M1659 393q-13 8-15 23M1586 382q22 30 58 34M1629 318q17 35 54 46M1591 397q32-13 44-45M1622 411q-12-22-36-29M1664 360q-19-27-52-32M1659 393q-28-5-50 12M1683 364q-21-17-48-12M1635 352q25 0 41-19M1675 398q-42-19-84-1M1678 353q-5-16-20-23M1627 382q18-15 20-38M1606 384q20-20 18-48M1680 383q-11-10-25-8M1664 360q3-8-2-16M1647 344q-21 22-19 53M1611 364q27 10 53-4M1611 364q33 33 80 31M1609 405q14-8 18-23M1659 393q-13 8-15 23M1627 369q23-5 35-25M1609 405q3-11-3-21M1609 405q3-11-3-21M1664 360q-38-16-75 1M1678 353q-5-16-20-23M1665 407q12-32-3-63M1627 382q20 19 48 16M1638 312q5 21 24 32M1644 416q26-40 14-86M1639 330q7 28 32 41M1642 388q-20 1-33 17M1627 382q9-24-3-46M1683 364q-29-10-56 5M1639 330q-28 20-33 54M1659 393q-14-13-32-11M1607 350q-10-13-27-15M1678 353q-29-3-51 16M1586 382q36 3 62-22M1658 330q8 5 18 3M1659 318q-27 18-32 51M1644 416q6-61-36-107M1655 375q5-35-17-63M1647 344q-33-4-58 17M1665 407q-22-7-43 4M1655 375q-37-3-64 22M1665 407q4-44-26-77M1651 404q-10-9-23-7M1651 404q6-4 8-11M1540 323q2-10-4-18M1540 323q-6-14-20-19M1570 313q-25 0-42 19M1566 296q4 31 30 48M1540 323q-8 29 7 54M1536 305q-6-11-18-14M1570 313q28-2 46-24M1536 305q-6-11-18-14M1550 295q-2-22-19-36M1583 307q10-20 2-41M1542 341q3-9-2-18M1554 315q25-3 39-23M1536 305q-18 12-21 33M1542 341q11-1 18-9M1536 305q15 11 34 8M1542 341q13-43-11-82M1583 307q20-2 33-18M1550 295q-11 12-10 28M1536 305q-17-9-35-2M1566 296q-11 36 8 69M1554 315q-15-13-34-11M1566 296q18 16 42 13M1540 323q17 2 30-10M1583 307q-41 1-68 31M1542 341q-3-23-22-37M1583 307q-10-25-35-35M1542 341q-3-23-22-37M1580 335q9-26-4-51M1583 307q4-28-13-50M1580 335q12-41-10-78M1550 295q6 27 30 40M1580 335q-18 11-22 31M1583 307q4-28-13-50M1536 305q6 38 38 60M1566 296q-46-5-81 26M1554 315q8 3 16-2M1554 315q37 1 62-26M1583 307q-30 38-22 86M1583 307q-23-11-47-2M1583 307q-33 27-36 70M1536 305q25-2 40-21M1570 313q9-13 6-29M1580 335q-39-1-66 27M1570 313q18-20 15-47M1583 307q13-12 12-30M1550 295q16 40 57 55M1554 315q1 41 32 67M1542 341q-13-7-27-3M1540 323q-16-5-31 3M1580 335q8-13 3-28M1583 307q-33 0-55 25M1540 323q-6-14-20-19M1540 323q2-10-4-18M1536 305q15 11 34 8M1570 313q8 0 13-6M1542 341q-20-3-36 10M1566 296q-2 23 14 39M1580 335q-45-27-95-13M1554 315q-27-29-66-28M1540 323q-16-5-31 3M1542 341q-11 0-19 9M1570 313q18-20 15-47M1550 295q-14 21-8 46M1554 315q-20 18-21 45M1536 305q26 38 71 45M1540 323q2-38-25-66M1542 341q20-8 28-28M1580 335q-32-33-79-32M1540 323q-15-19-39-20M1566 296q-36 28-40 73M1583 307q-16-2-29 8M1536 305q2-9-3-16M1536 305q21 33 60 39M1542 341q41-20 53-64M1580 335q20-7 28-26M1583 307q-41 1-68 31M1580 335q10-4 14-14M1542 341q7-28-9-52M1570 313q-8-3-16 2M1550 295q-14-18-37-20M1536 305q15 25 44 30M1542 341q-12-28-41-38M1550 295q6 13 20 18M1554 315q-7-9-18-10M1583 307q-33 0-55 25M1570 313q-44-14-85 9M1540 323q-27-13-55-1M1566 296q-17-2-30 9M1540 323q33-4 53-31M1570 313q-23-16-50-9M1540 323q-27-13-55-1M1550 295q24 30 62 33M1566 296q-33 18-43 54M1540 323q27-12 36-39M1554 315q18-11 22-31M1554 315q-14 41 7 78M1570 313q-12 18-6 39M1580 335q-15-25-44-30M1542 341q-14 10-16 28M1542 341q2 16 16 25M1540 323q-12 17-7 37M1542 341q-13-15-33-15M1570 313q-9 27 4 52M1583 307q-28 8-41 34M1554 315q-11 32 5 62M1583 307q-20-29-55-33M1566 296q-13 28-2 56M1570 313q-15-11-34-8M1583 307q-21-20-50-18M1554 315q-3 21 10 37M1536 305q-5 19 6 36M1554 315q-23 11-31 35M1570 313q5-34-16-61M1554 315q7 31 35 46M1566 296q-42 2-69 34M1536 305q-29-3-51 17M1580 335q16-19 13-43M1540 323q5-27-12-49M1540 323q6 20 24 29M1647 344q-3 17 8 31M1800 469q-1-14-12-22M1608 309q2 17 16 27M1785 428q-3 10 3 19M1873 296q-8-9-20-10M1640 225q-9 2-14 10M1753 496q11 7 24 4M1753 469q-6 14 0 27M1860 492q-5 12 1 23M1882 495q-8 6-8 16M1895 446q7-16 0-31M1438 364q9-1 15-9M1459 368q13-4 19-17M1676 333q10 12 26 12M1643 503q7 8 17 8M1555 502q1 13 11 22M1435 451q12 6 24 2M1642 388q-15 7-20 23M1520 304q11-13 8-30M1835 439q16-3 25-17M1569 196q14 5 27-1M1742 583q-9 15-4 31M1771 437q17-2 27-15M1534 525q16 7 32-1M1703 539q0-19-14-31M1733 643q15-7 19-23M1836 467q-6-9-16-11M1790 291q-15 1-25 13M1536 305q-8-4-16-1M1437 384q15-3 22-16M1651 404q-17 6-24 22M1577 243q-9-12-24-13M1903 378q-4-7-12-9M1542 561q-14-6-28 1M1748 218q1-8-4-15M1657 200q-11-4-21 1M1592 626q-10-1-17 5M1626 575q10 6 22 3M1512 524q17-5 25-21M1671 538q-6-9-17-10M1900 473q-14 7-18 22M1595 212q4-8 1-17M1447 467q-2-11-12-16M1639 330q-9 0-15 6M1684 282q-14 7-18 22M1611 547q5-12 0-24M1570 257q-14 3-22 15M1711 246q-17 5-25 21M1574 445q-9 2-13 10M1763 525q5-7 4-15M1818 250q-10 5-13 15M1848 467q13 10 29 8M1572 563q-4 14 3 26M1685 298q15 3 28-6M1719 580q6-17-3-33M1678 353q-16 6-23 22M1474 521q6-4 7-12M1729 376q11 1 20-6M1819 274q-2-15-15-23M1748 218q11 11 26 11M1694 646q-9-5-19-2M1836 338q5 17 21 25M1506 351q7-5 9-13M1856 530q-13 5-18 18M1849 454q2-7-2-14M1877 438q-18 2-28 16M1774 288q-8 6-9 16M1810 587q16-5 24-20M1639 330q3-9-1-18M1687 237q-5-9-15-11M1613 247q-11-6-23-1M1866 390q17-5 25-21M1554 252q7 6 16 5M1488 543q9 15 26 19M1823 473q3 9 12 12M1622 589q15 0 26-11M1903 378q-13 7-17 21M1684 176q-8-1-15 4M1483 299q-10-8-22-6M1874 423q5 16 21 23M1767 597q9 1 15-5M1679 416q9 15 26 19M1481 509q-8-14-24-18M1709 528q-1 11 7 19M1709 528q8-12 4-25M1775 246q11-8 13-21M1533 360q-10-3-19 2M1743 443q5-11 0-22M1503 552q-4 18 7 33M1637 567q-14-2-25 7M1597 417q14 2 25-6M1726 616q-8 7-9 18M1626 235q-8 13-4 28M1514 562q7 14 21 18M1818 321q5 12 18 17M1626 235q-14-10-31-6M1668 606q-10-13-26-15M1728 190q14 9 31 5M1774 356q-4 17 6 32M1507 461q3 16 16 24M1709 528q10 10 24 9M1820 456q8 2 15-3M1852 333q-17 1-28 14M1817 509q-6-1-10 3M1760 229q4 12 15 17M1748 637q-6-9-16-10M1692 335q-11 6-14 18M1833 309q13 0 22-9M1689 633q5-14-2-27M1561 393q4-14-3-27M1791 273q-2-17-16-27M1834 503q4-9 1-18M1751 546q3-7 0-14M1546 213q15-3 23-17M1542 561q-14-6-28 1M1497 330q0 12 9 21M1765 304q-1 11 7 19M1495 578q14 4 27-4M1584 522q-2-15-14-23M1679 312q-14 4-21 18M1894 388q0 10 8 16M1606 501q13-7 17-21M1666 289q-11-1-19 6M1769 488q4 14 17 20M1847 440q17-3 27-17M1798 236q7 1 13-3M1754 242q-11 0-19 8M1518 389q17 0 29-12M1461 440q-12-14-30-15M1781 410q-17 4-25 19M1749 298q7 7 16 6M1670 211q-8 2-12 9M1744 203q-12-6-25 0M1529 219q-15 6-20 21M1599 639q-10-9-24-8M1733 643q-6-8-16-9M1714 221q6-8 5-18M1471 337q3-8-1-15M1717 634q-14 1-23 12M1529 219q10 11 24 11M1459 453q4 16 18 24M1861 515q-6 6-5 15M1842 534q-14 0-23 10M1810 599q-8-17-26-22M1632 611q8 11 22 13M1626 235q-14-10-31-6M1894 388q7-3 9-10M1752 620q-7-13-21-17M1622 589q-12 10-13 25M1435 451q15-8 19-24M1754 242q2-13-6-24M1773 565q3 8 11 12M1591 448q-11 3-16 14M1453 355q-9 1-15 9M1743 190q-8-3-15 0M1698 621q7 11 19 13M1636 201q11 4 21-1M1735 291q12 13 30 13M1596 344q-6-8-16-9M1841 519q11 2 20-4M1831 261q6 17 22 25M1590 576q6 11 19 14M1709 315q1-18-12-30M1689 633q-5-18-21-27M1799 338q2-16-8-28M1819 544q-10 13-7 29M1570 499q9-8 9-19M1866 390q17-5 25-21M1667 524q-7-1-13 4M1658 558q-9 8-10 20M1570 257q4-13-3-24M1782 206q9 12 24 13M1702 345q-14-1-24 8M1743 421q-10 6-13 17M1802 297q19 4 34-7M1661 577q-10-10-24-10M1792 530q10 13 27 14M1532 453q12-4 18-15M1544 454q-11-8-24-6M1564 272q-12 8-14 23M1810 587q-3-9-12-13M1750 514q5-8 3-18M1886 399q-9-2-16 4M1559 614q8 3 15-1M1457 491q4 8 12 11M1622 198q-11 13-8 30M1582 538q0 16 12 26M1774 229q4 13 16 19M1597 550q-15 1-25 13M1524 500q-4 7-1 15M1728 399q-7 3-9 10M1609 590q-12 1-19 11M1668 625q8 16 26 21M1843 270q1 10 10 16M1626 575q-7-4-14-1M1518 389q14-11 15-29M1755 600q-6 9-3 20M1629 493q15 0 25-11M1689 508q17-2 27-16M1698 368q0 9 7 14M1597 417q13 11 30 9M1842 575q4-14-4-27M1743 190q-4 15 5 28M1649 644q7-9 5-20M1717 566q4-10-1-19M1800 459q-16 9-20 26M1745 407q-6 0-10 5M1658 220q16 5 31-3M1523 350q14-10 17-27M1811 233q-14 3-21 15M1776 464q-13-3-23 5M1745 313q0-13-10-22M1658 558q4 12 16 16M1723 283q-16 5-23 20M1469 502q-11-6-23-1M1798 236q14 5 27-2M1838 356q-16 4-25 18M1528 332q-8 0-13 6M1714 186q-13-12-30-10M1870 403q-7-8-18-9M1452 404q4-10-1-19M1772 323q-6 17 2 33M1756 565q-11 6-14 18M1835 485q7-16 0-32M1847 256q-9-1-16 5M1609 470q-17-2-30 10M1838 356q-8 4-10 13M1635 352q-8 7-8 17M1836 290q8-8 7-20M1520 304q-10 9-11 22M1559 592q-5 11 0 22M1830 413q1-12-7-21M1491 527q-1-11-10-18M1635 251q12 5 24 0M1711 246q11 7 24 4M1590 246q-6-4-13-3M1536 305q9-2 14-10M1474 290q-2 18 11 32M1631 186q-15 9-19 26M1811 475q-4-5-11-6M1766 214q9 10 22 11M1606 501q13-7 17-21M1544 454q-15 0-25 11M1811 475q-4-5-11-6M1614 228q-6-12-19-16M1536 305q-8-4-16-1M1835 245q-14 11-16 29M1681 250q-9-12-24-14M1435 405q-6 17 3 32M1702 345q4 8 12 11M1679 312q-14 4-21 18M1877 475q15-11 18-29M1823 392q-1 12 7 21M1559 592q-5-5-12-5M1680 383q-2-8-9-12M1805 265q10-5 13-15M1673 265q2 11 11 17M1654 482q-10 8-11 21M1622 411q2 17 16 26M1873 374q1 15 13 25" fill="none" stroke="#4450a8" stroke-width="0.55" stroke-opacity="0.66" stroke-dasharray="2.2 0.9"/>
<path d="M1733 267q-11-35-44-50M1743 190q-43 2-71 36M1735 250q-2 18 10 32M1744 203q-15 22-9 47M1681 250q38 12 73-8M1748 218q-34 29-35 74M1754 242q-7-12-20-15M1750 267q-32-54-93-67M1759 195q-54 3-88 44M1735 250q-9 20 0 41M1760 229q7 3 14 0M1681 250q60 0 101-44M1702 261q-23-32-62-36M1657 236q32-16 41-50M1714 186q-19 10-25 31M1759 255q-22-15-48-9M1744 203q-51-3-87 33M1731 211q-41 14-58 54M1681 250q32 0 53-23M1748 218q-10 25 2 49M1719 203q22 5 40-8M1680 199q-16-1-28 11M1680 199q27 45 79 56M1720 258q-5 5-5 13M1754 242q6-5 6-13M1698 186q36 39 90 39M1720 258q-17 8-23 27M1720 258q19-32 8-68M1657 236q40 12 77-9M1702 261q40 9 73-15M1670 211q48 32 104 18M1714 221q-5 20 6 37M1681 250q42-10 63-47M1754 242q-3 19 9 35M1748 218q-32 11-46 43M1754 242q-16-32-50-43M1731 211q-4-7-12-8M1731 211q14 27 44 35M1680 199q2 44 35 72M1719 203q6 47 44 74M1689 217q-2-23-20-37M1698 186q-24-2-41 14M1750 267q-25-29-63-30M1714 221q4 19 21 29M1681 250q16 5 30-4M1711 246q26-14 33-43M1711 246q39 18 79 2M1698 186q-20 6-28 25M1735 250q4-37-21-64M1750 267q6-43-22-77M1680 199q1 11 9 18M1734 227q-9-28-36-41M1711 246q18-13 20-35M1750 267q-31-24-69-17M1731 211q1 40 32 66M1711 246q11 7 24 4M1720 258q5-41-22-72M1731 211q-39-18-79-1M1711 246q-4 13 4 25M1714 186q6 5 14 4M1759 255q4-29-15-52M1735 250q-33-38-83-40M1720 258q0 20 15 33M1702 261q-9-1-16 6M1754 242q13-22 5-47M1680 199q12 18 34 22M1766 214q-23 11-31 36M1715 271q-20-12-42-6M1735 250q-2 18 10 32M1702 345q-10-12-26-12M1671 239q-24-26-59-27M1819 274q-26-23-60-19M1759 255q-20 26-14 58M1750 267q24-1 40-19M1798 236q-23 21-24 52M1725 310q-2-12-12-18M1680 199q-8 4-10 12M1720 258q30 6 55-12M1732 325q29-9 42-37M1757 383q4 29 28 45M1700 303q9-3 13-11M1804 251q17 28 49 35M1666 304q-13-30-44-41M1774 356q-27 0-45 20M1753 344q-14 15-13 36M1784 332q25 14 52 6M1697 285q-2 27 17 46M1754 242q0 8 5 13M1679 312q-3 32 19 56M1664 360q-20-4-37 9M1735 291q-19 15-21 40M1685 298q8 14 24 17M1765 304q2 26 22 42M1687 237q2 15 15 24M1759 255q24-1 39-19M1673 265q-18-4-33 7M1658 330q-3 23 13 41M1758 315q-35 3-56 30M1759 195q18 30 52 38M1648 360q-30-12-59 1M1745 358q-26-5-47 10M1784 332q22 24 54 24M1787 346q18-21 15-49M1776 260q-21 24-18 55M1698 368q-18 10-23 30M1631 288q8-6 9-16M1770 342q-22-6-41 7M1753 344q34 9 63-10M1639 330q1 9 8 14M1790 291q16-26 8-55M1652 210q12 21 35 27M1672 226q-1 14 9 24M1680 199q20 1 34-13M1748 218q-9 1-14 9M1709 315q-19-15-43-11M1631 288q-8-3-15 1M1729 376q3-35-20-61M1658 275q16 2 28-8M1640 225q4 17 19 26M1802 297q11-31-4-61M1714 356q16-12 18-31M1680 383q-17 25-10 55M1666 304q5 7 13 8M1704 199q-5-16-20-23M1659 318q7-5 7-14M1672 226q9-24-3-46M1658 330q12-28 0-55M1759 255q-26-2-44 16M1728 190q-21 24-17 56M1723 283q-8-31-36-46M1638 312q35-1 59-27M1714 356q-4-8-12-11M1658 220q-6 16 1 31M1658 275q-24-2-42 14M1631 288q9-28-5-53M1766 214q-28-8-52 7M1658 275q28-22 31-58M1781 300q-16-8-32-2M1806 350q1-14-9-24M1729 349q2 32 26 52M1671 371q-6-19-24-27M1791 310q31-16 40-49M1758 315q-1-10-9-17M1790 248q-32 16-41 50M1745 282q-1 36 25 60M1723 283q4-13-3-25M1678 353q-32 3-51 29M1684 282q-28-9-53 6M1772 323q-21-17-47-13M1647 295q-3 28 15 49M1811 233q-18-10-37-4M1678 353q24-12 31-38M1820 302q15-18 11-41M1774 356q27-23 28-59M1745 394q11 6 22 2M1735 291q11 24 37 32M1725 310q21 17 47 13M1784 332q-4-7-12-9M1725 310q-26 23-27 58M1852 394q-13-32-46-44M1838 400q18 29 51 35M1894 388q-26 16-31 46M1902 404q0-28-20-47M1839 382q33 12 64-4M1894 388q-20 21-17 50M1839 382q-19 7-26 26M1877 338q-11-8-25-5M1889 435q5-34-16-61M1838 400q-13 26-3 53M1866 390q-14-19-38-21M1902 404q0-28-20-47M1866 390q2 34 29 56M1838 400q31-12 44-43M1891 369q-9 14-5 30M1823 392q-25 0-42 18M1860 422q-23-26-58-26M1895 348q-32 14-43 46M1873 374q10-17 4-36M1823 392q-25 0-42 18M1874 423q-23 16-26 44M1838 356q-13-33-47-46M1886 399q7 6 16 5M1851 410q13-22 6-47M1839 382q15-13 16-33M1863 434q-19-24-50-26M1894 388q0 10 8 16M1901 429q-29-6-54 11M1828 369q-19 8-26 27M1857 363q7 24 29 36M1841 427q-12 0-21 9M1873 374q-17 21-13 48M1838 356q21-24 17-56M1863 434q11-29-4-57M1895 348q-3 17 8 30M1901 429q-20-6-38 5M1895 415q-32 9-46 39M1886 399q-29 4-45 28M1823 392q-20-20-48-19M1871 353q6-6 6-15M1891 369q-2 20 11 35M1877 338q-13 1-22 11M1886 399q7-22-4-42M1838 356q-13-33-47-46M1895 348q-8 2-13 9M1860 422q-30-3-53 17M1884 415q-26 12-35 39M1877 438q26-24 26-60M1882 357q-16 20-12 46M1857 363q4-16-5-30M1857 363q-23 7-34 29M1889 435q-28 7-41 32M1860 422q-13 14-11 32M1884 415q-24-3-43 12M1877 438q12-33-4-64M1871 353q-9-30-38-44M1895 415q-21 10-28 32M1841 427q-2 15 8 27M1851 410q-26 16-31 46M1852 394q-25-10-50 2M1839 382q-30-19-64-9M1871 353q-33 9-48 39M1902 404q-13 13-13 31M1895 348q-3 17 8 30M1860 422q-18-5-33 5M1894 388q-21-28-56-32M1852 394q-32 13-45 45M1863 434q11-21 3-44M1889 435q-21 22-19 52M1891 369q-9 14-5 30M1612 328q11 24 36 32M1612 328q11-1 17-10M1594 321q7 7 18 7M1616 289q6 16 22 23M1594 321q0 17 13 29M1613 273q-22 10-30 34M1583 307q21 16 46 11M1594 321q-1 25 17 43M1595 277q-26-1-45 18M1612 328q13 7 27 2M1625 302q-22-7-42 5M1616 289q18-15 19-38M1583 307q-8 0-13 6M1612 328q-8 18-1 36M1629 318q-18-6-35 3M1593 292q-14-4-27 4M1593 292q4-7 2-15M1608 309q-2-27-23-43M1594 321q21 14 45 9M1613 273q-10-2-18 4M1625 302q22-6 33-27M1593 292q-22-8-43 3M1631 288q-8 15-2 30M1629 318q-12 25-2 51M1594 321q-16-23-44-26M1594 321q7 7 18 7M1625 302q-20 3-31 19M1595 277q-1 19 13 32M1593 292q4 12 15 17M1631 288q-2 14 7 24M1593 292q-22-8-43 3M1594 321q10-3 14-12M1625 302q14-12 15-30M1594 321q21 14 45 9M1613 273q-6-19-23-27M1629 318q26 8 50-6M1616 289q-20 2-33 18M1593 292q-8 5-10 15M1594 321q-16-23-44-26M1612 328q-2-22-19-36M1613 273q15-16 13-38M1613 273q14 5 27-1M1608 309q-10 20-1 41M1593 292q9-16 4-33M1616 289q0 17 13 29M1643 503q7 16 24 21M1624 453q1-17-11-29M1609 470q19-2 31-18M1641 521q19 13 41 8M1654 482q-3 24 13 42M1616 439q-10 14-7 31M1640 452q16-11 18-30M1656 498q-8 15-2 30M1635 541q-28-6-51 11M1667 524q3-24-13-42M1660 511q18-23 14-52M1638 437q5 11 17 14M1655 451q-8-3-15 1M1641 521q-19 24-15 54M1668 479q21 17 48 13M1623 480q18 2 32-10M1597 514q-8 18 0 36M1655 470q-23-10-46 0M1606 501q2-22-12-38M1640 452q-2 27 16 46M1640 452q27-9 39-36M1629 493q5 23 25 35M1629 493q23 2 39-14M1652 542q11-6 15-18M1606 501q2-22-12-38M1874 511q-9-14-26-16M1861 546q5-28-13-51M1838 548q1-30-20-51M1818 558q-29 1-48 24M1850 482q23-16 27-44M1838 548q17-24 10-53M1842 575q-22-10-44-1M1846 508q-16 3-24 17M1817 509q23 21 54 18M1818 558q-12-9-26-6M1822 525q-8-1-15 4M1856 530q-24-11-49-1M1882 495q-21-15-47-10M1818 497q25-15 31-43M1871 527q-8-2-15 3M1848 495q-17 24-10 53M1818 497q25-15 31-43M1807 512q-1 19 12 32M1792 530q9-12 6-26M1835 485q-14 24-5 51M1841 519q-5-29-30-44M1798 504q7 16 24 21M1860 492q13-21 7-45M1835 485q-14-16-35-16M1834 503q11 12 27 12M1818 497q-13-8-27-4M1801 539q5-4 6-10M1812 573q-23-5-42 9M1835 485q4-9 1-18M1820 484q-15 5-22 20" fill="none" stroke="#e4554c" stroke-width="0.55" stroke-opacity="0.72" stroke-dasharray="2.2 0.9"/>
<g stroke="#222" stroke-width="0.35"><g fill="#fa1010"><circle cx="1471.5" cy="371.2" r="5.2"/><circle cx="1825.0" cy="234.4" r="3.4"/></g><g fill="#d6ec38"><circle cx="1468.7" cy="387.5" r="4.9"/><circle cx="1632.4" cy="610.8" r="5.7"/><circle cx="1683.3" cy="363.8" r="4.0"/><circle cx="1729.1" cy="376.1" r="4.0"/><circle cx="1717.7" cy="446.8" r="4.0"/><circle cx="1570.3" cy="498.6" r="4.0"/><circle cx="1862.2" cy="476.8" r="4.3"/></g><g fill="#fbb896"><circle cx="1748.6" cy="370.4" r="4.6"/></g><g fill="#f77320"><circle cx="1733.4" cy="494.3" r="6.0"/><circle cx="1752.6" cy="496.3" r="5.2"/><circle cx="1716.2" cy="492.0" r="4.3"/><circle cx="1833.6" cy="502.6" r="5.2"/><circle cx="1838.4" cy="547.8" r="4.9"/><circle cx="1731.1" cy="522.9" r="4.9"/><circle cx="1770.0" cy="582.2" r="4.3"/><circle cx="1596.0" cy="195.2" r="3.4"/><circle cx="1596.6" cy="586.4" r="6.0"/><circle cx="1548.2" cy="542.1" r="4.3"/><circle cx="1674.7" cy="643.7" r="4.3"/><circle cx="1717.1" cy="633.7" r="3.4"/><circle cx="1731.6" cy="627.3" r="3.9"/><circle cx="1717.0" cy="566.4" r="4.2"/><circle cx="1821.0" cy="590.0" r="3.7"/><circle cx="1776.5" cy="499.6" r="4.3"/></g><g fill="#aaa4a4"><circle cx="1812.1" cy="573.0" r="4.6"/><circle cx="1554.0" cy="567.8" r="4.3"/><circle cx="1729.1" cy="349.5" r="3.7"/></g><g fill="#63b127"><circle cx="1578.3" cy="222.4" r="5.4"/><circle cx="1827.4" cy="427.0" r="6.0"/><circle cx="1435.1" cy="404.8" r="4.6"/><circle cx="1451.5" cy="384.7" r="4.4"/><circle cx="1452.1" cy="403.5" r="4.2"/><circle cx="1441.1" cy="414.5" r="4.2"/><circle cx="1446.2" cy="347.3" r="3.7"/><circle cx="1476.7" cy="476.9" r="3.9"/><circle cx="1538.1" cy="477.3" r="3.7"/><circle cx="1548.7" cy="466.0" r="3.7"/><circle cx="1470.9" cy="336.6" r="3.8"/><circle cx="1532.1" cy="439.5" r="4.6"/><circle cx="1546.9" cy="377.2" r="4.8"/><circle cx="1540.2" cy="424.9" r="4.8"/><circle cx="1525.6" cy="369.3" r="4.5"/><circle cx="1655.1" cy="375.2" r="5.1"/><circle cx="1680.2" cy="382.7" r="4.0"/><circle cx="1591.3" cy="396.8" r="4.3"/><circle cx="1659.2" cy="393.3" r="4.8"/><circle cx="1742.0" cy="583.2" r="4.6"/><circle cx="1740.2" cy="506.5" r="4.5"/><circle cx="1811.2" cy="474.9" r="4.2"/><circle cx="1732.8" cy="537.4" r="4.7"/><circle cx="1747.6" cy="636.6" r="3.9"/><circle cx="1768.9" cy="488.3" r="3.4"/><circle cx="1847.9" cy="494.7" r="3.6"/><circle cx="1819.7" cy="456.0" r="4.2"/><circle cx="1798.9" cy="338.4" r="3.4"/><circle cx="1834.5" cy="439.4" r="4.6"/><circle cx="1591.8" cy="626.3" r="3.8"/><circle cx="1583.1" cy="506.6" r="4.6"/><circle cx="1658.5" cy="650.7" r="4.1"/><circle cx="1504.8" cy="536.4" r="3.4"/><circle cx="1805.3" cy="265.1" r="3.4"/><circle cx="1870.9" cy="526.7" r="3.0"/><circle cx="1749.0" cy="297.6" r="3.6"/><circle cx="1454.4" cy="517.1" r="3.5"/></g><g fill="#6cc0de"><circle cx="1724.0" cy="426.7" r="4.3"/><circle cx="1819.8" cy="436.2" r="4.0"/><circle cx="1547.4" cy="587.0" r="4.0"/><circle cx="1773.5" cy="615.1" r="4.0"/><circle cx="1558.8" cy="614.2" r="3.7"/><circle cx="1876.9" cy="437.9" r="3.7"/><circle cx="1870.3" cy="486.9" r="3.9"/></g><g fill="#2a6f2a"><circle cx="1697.6" cy="620.8" r="3.7"/></g><g fill="#d772b8"><circle cx="1518.8" cy="464.8" r="4.6"/><circle cx="1654.7" cy="451.1" r="4.0"/></g><g fill="#564aa0"><circle cx="1673.3" cy="265.3" r="4.3"/></g><g fill="#b0dd68"><circle cx="1802.1" cy="297.4" r="3.4"/></g><g fill="#222b8f"><circle cx="1770.1" cy="341.7" r="6.1"/><circle cx="1757.0" cy="383.4" r="6.0"/><circle cx="1852.4" cy="333.5" r="6.0"/><circle cx="1870.6" cy="352.8" r="6.0"/><circle cx="1687.2" cy="236.8" r="5.3"/><circle cx="1773.6" cy="229.3" r="4.8"/><circle cx="1514.1" cy="362.1" r="4.7"/><circle cx="1446.6" cy="466.7" r="4.2"/><circle cx="1483.3" cy="367.4" r="4.4"/><circle cx="1436.8" cy="383.9" r="4.1"/><circle cx="1507.4" cy="442.0" r="5.0"/><circle cx="1458.7" cy="368.0" r="4.1"/><circle cx="1497.6" cy="372.7" r="4.7"/><circle cx="1461.1" cy="440.3" r="4.6"/><circle cx="1532.2" cy="453.4" r="4.7"/><circle cx="1549.6" cy="438.4" r="4.1"/><circle cx="1478.4" cy="350.8" r="4.2"/><circle cx="1563.9" cy="352.1" r="4.2"/><circle cx="1557.3" cy="408.3" r="4.3"/><circle cx="1544.2" cy="412.6" r="4.9"/><circle cx="1466.9" cy="462.0" r="3.8"/><circle cx="1443.5" cy="392.9" r="4.1"/><circle cx="1573.6" cy="445.1" r="3.7"/><circle cx="1459.3" cy="453.0" r="4.2"/><circle cx="1431.0" cy="425.5" r="3.7"/><circle cx="1677.7" cy="353.0" r="4.5"/><circle cx="1607.1" cy="350.0" r="4.7"/><circle cx="1670.6" cy="370.7" r="4.5"/><circle cx="1648.1" cy="360.3" r="5.4"/><circle cx="1639.0" cy="330.3" r="4.6"/><circle cx="1621.8" cy="410.9" r="4.4"/><circle cx="1641.7" cy="387.8" r="5.0"/><circle cx="1589.2" cy="360.9" r="4.4"/><circle cx="1605.7" cy="383.7" r="4.7"/><circle cx="1635.2" cy="352.4" r="5.3"/><circle cx="1646.6" cy="344.0" r="4.8"/><circle cx="1627.8" cy="397.2" r="4.8"/><circle cx="1628.8" cy="318.1" r="4.0"/><circle cx="1665.2" cy="406.7" r="4.0"/><circle cx="1651.4" cy="403.6" r="4.2"/><circle cx="1840.9" cy="519.3" r="4.0"/><circle cx="1759.8" cy="632.0" r="3.7"/><circle cx="1797.6" cy="573.9" r="4.5"/><circle cx="1818.4" cy="558.2" r="4.5"/><circle cx="1800.6" cy="538.6" r="4.4"/><circle cx="1780.9" cy="519.7" r="4.7"/><circle cx="1845.2" cy="560.4" r="3.7"/><circle cx="1733.3" cy="559.5" r="4.7"/><circle cx="1791.3" cy="493.0" r="4.4"/><circle cx="1767.4" cy="509.9" r="4.6"/><circle cx="1719.5" cy="470.7" r="3.8"/><circle cx="1754.7" cy="600.4" r="4.1"/><circle cx="1775.9" cy="464.2" r="4.0"/><circle cx="1730.8" cy="603.1" r="4.2"/><circle cx="1785.2" cy="471.3" r="4.3"/><circle cx="1708.7" cy="527.6" r="4.4"/><circle cx="1696.5" cy="585.1" r="4.3"/><circle cx="1809.0" cy="488.0" r="4.1"/><circle cx="1799.7" cy="469.2" r="3.9"/><circle cx="1821.5" cy="524.8" r="4.0"/><circle cx="1701.6" cy="604.9" r="4.1"/><circle cx="1835.0" cy="485.3" r="3.9"/><circle cx="1689.3" cy="508.1" r="3.9"/><circle cx="1790.6" cy="605.5" r="4.4"/><circle cx="1769.1" cy="477.3" r="4.2"/><circle cx="1753.1" cy="469.1" r="3.8"/><circle cx="1792.3" cy="551.6" r="4.7"/><circle cx="1741.6" cy="480.1" r="4.4"/><circle cx="1830.1" cy="535.9" r="3.8"/><circle cx="1806.7" cy="512.2" r="4.2"/><circle cx="1797.1" cy="587.8" r="4.5"/><circle cx="1702.6" cy="480.5" r="3.9"/><circle cx="1704.5" cy="571.5" r="4.4"/><circle cx="1703.0" cy="539.2" r="4.4"/><circle cx="1834.2" cy="566.9" r="3.7"/><circle cx="1750.3" cy="514.5" r="4.7"/><circle cx="1682.9" cy="587.7" r="3.8"/><circle cx="1700.7" cy="552.7" r="4.4"/><circle cx="1809.6" cy="598.9" r="4.2"/><circle cx="1730.3" cy="459.3" r="3.7"/><circle cx="1715.7" cy="546.5" r="4.7"/><circle cx="1791.9" cy="530.1" r="4.7"/><circle cx="1712.7" cy="503.1" r="4.4"/><circle cx="1841.6" cy="534.2" r="3.9"/><circle cx="1784.4" cy="577.5" r="4.6"/><circle cx="1777.4" cy="450.8" r="3.7"/><circle cx="1730.4" cy="586.7" r="4.4"/><circle cx="1725.6" cy="616.1" r="4.0"/><circle cx="1715.0" cy="603.0" r="4.2"/><circle cx="1820.1" cy="484.0" r="4.0"/><circle cx="1726.6" cy="479.9" r="3.8"/><circle cx="1785.6" cy="507.9" r="4.5"/><circle cx="1728.4" cy="571.5" r="4.6"/><circle cx="1691.5" cy="488.0" r="3.7"/><circle cx="1722.9" cy="510.3" r="4.5"/><circle cx="1806.8" cy="528.8" r="4.2"/><circle cx="1780.4" cy="484.5" r="4.4"/><circle cx="1809.7" cy="587.4" r="3.9"/><circle cx="1698.6" cy="501.3" r="3.7"/><circle cx="1817.4" cy="508.5" r="4.0"/><circle cx="1716.2" cy="623.7" r="3.7"/><circle cx="1760.7" cy="612.2" r="4.0"/><circle cx="1738.4" cy="613.5" r="4.0"/><circle cx="1767.2" cy="597.2" r="4.4"/><circle cx="1744.3" cy="569.7" r="4.7"/><circle cx="1846.4" cy="508.3" r="3.7"/><circle cx="1804.2" cy="560.3" r="4.6"/><circle cx="1799.6" cy="458.6" r="3.7"/><circle cx="1727.7" cy="399.1" r="4.0"/><circle cx="1788.5" cy="446.6" r="4.4"/><circle cx="1894.6" cy="446.4" r="3.9"/><circle cx="1867.2" cy="447.2" r="3.9"/><circle cx="1848.8" cy="453.8" r="3.9"/><circle cx="1891.3" cy="369.4" r="3.9"/><circle cx="1739.6" cy="379.8" r="4.1"/><circle cx="1755.5" cy="429.0" r="3.8"/><circle cx="1758.0" cy="457.1" r="4.1"/><circle cx="1866.3" cy="463.0" r="4.1"/><circle cx="1895.5" cy="415.2" r="3.9"/><circle cx="1807.1" cy="439.2" r="4.8"/><circle cx="1862.6" cy="434.4" r="4.1"/><circle cx="1848.1" cy="467.2" r="4.0"/><circle cx="1874.4" cy="422.9" r="4.3"/><circle cx="1894.8" cy="458.8" r="3.6"/><circle cx="1745.4" cy="357.7" r="3.4"/><circle cx="1834.8" cy="453.4" r="4.5"/><circle cx="1877.2" cy="475.4" r="3.4"/><circle cx="1818.2" cy="497.2" r="3.7"/><circle cx="1836.2" cy="467.0" r="4.4"/><circle cx="1900.6" cy="428.7" r="3.4"/><circle cx="1756.6" cy="442.2" r="4.2"/><circle cx="1798.5" cy="504.0" r="3.8"/><circle cx="1743.1" cy="421.3" r="4.2"/><circle cx="1718.6" cy="409.2" r="3.4"/><circle cx="1882.4" cy="356.6" r="3.4"/><circle cx="1745.7" cy="456.9" r="3.9"/><circle cx="1847.3" cy="440.3" r="4.2"/><circle cx="1893.8" cy="388.4" r="3.6"/><circle cx="1882.4" cy="459.5" r="3.7"/><circle cx="1889.3" cy="435.3" r="4.0"/><circle cx="1860.2" cy="421.9" r="4.5"/><circle cx="1752.9" cy="343.6" r="3.4"/><circle cx="1837.9" cy="399.8" r="4.5"/><circle cx="1754.8" cy="401.2" r="3.8"/><circle cx="1574.9" cy="588.8" r="4.1"/><circle cx="1668.2" cy="606.3" r="4.3"/><circle cx="1549.5" cy="517.0" r="3.8"/><circle cx="1587.0" cy="614.8" r="4.1"/><circle cx="1623.1" cy="480.0" r="4.1"/><circle cx="1611.3" cy="627.9" r="4.6"/><circle cx="1649.3" cy="608.1" r="5.0"/><circle cx="1632.5" cy="640.0" r="3.7"/><circle cx="1566.2" cy="577.6" r="4.3"/><circle cx="1679.3" cy="623.8" r="3.7"/><circle cx="1642.5" cy="468.9" r="3.9"/><circle cx="1590.2" cy="600.6" r="4.6"/><circle cx="1654.5" cy="481.6" r="4.0"/><circle cx="1608.9" cy="614.0" r="4.6"/><circle cx="1680.5" cy="486.1" r="3.7"/><circle cx="1599.2" cy="639.1" r="3.9"/><circle cx="1558.7" cy="592.1" r="3.9"/><circle cx="1668.0" cy="624.9" r="4.6"/><circle cx="1668.4" cy="479.0" r="4.0"/><circle cx="1648.6" cy="644.3" r="4.0"/><circle cx="1689.3" cy="632.6" r="4.0"/><circle cx="1573.6" cy="613.2" r="4.2"/><circle cx="1641.8" cy="626.4" r="3.9"/><circle cx="1695.0" cy="527.8" r="3.9"/><circle cx="1609.4" cy="469.7" r="4.0"/><circle cx="1655.5" cy="469.6" r="4.0"/><circle cx="1678.7" cy="415.9" r="3.0"/><circle cx="1524.0" cy="500.0" r="3.2"/><circle cx="1548.6" cy="489.5" r="3.7"/><circle cx="1673.6" cy="459.4" r="3.4"/><circle cx="1616.4" cy="438.9" r="3.5"/><circle cx="1597.3" cy="416.6" r="3.8"/><circle cx="1513.9" cy="562.5" r="3.0"/><circle cx="1861.4" cy="545.7" r="3.0"/><circle cx="1480.6" cy="508.7" r="2.9"/><circle cx="1810.8" cy="233.1" r="3.2"/><circle cx="1616.0" cy="289.0" r="3.4"/><circle cx="1790.8" cy="273.3" r="3.0"/><circle cx="1590.9" cy="448.4" r="3.4"/><circle cx="1461.8" cy="308.7" r="3.5"/><circle cx="1495.3" cy="514.1" r="3.6"/><circle cx="1819.4" cy="274.2" r="3.6"/><circle cx="1853.5" cy="285.8" r="3.5"/><circle cx="1488.2" cy="287.0" r="3.3"/><circle cx="1612.5" cy="246.6" r="3.0"/><circle cx="1666.3" cy="288.8" r="3.1"/><circle cx="1873.5" cy="295.9" r="3.1"/><circle cx="1731.7" cy="325.2" r="3.4"/><circle cx="1657.6" cy="422.1" r="3.7"/><circle cx="1877.1" cy="337.5" r="3.1"/><circle cx="1494.8" cy="577.6" r="3.5"/><circle cx="1531.8" cy="598.7" r="3.4"/><circle cx="1883.6" cy="311.2" r="2.9"/><circle cx="1563.3" cy="207.8" r="3.0"/><circle cx="1634.7" cy="251.2" r="3.4"/><circle cx="1614.1" cy="185.6" r="3.6"/><circle cx="1437.8" cy="364.4" r="3.0"/><circle cx="1510.5" cy="585.0" r="3.5"/><circle cx="1621.5" cy="197.6" r="3.3"/><circle cx="1789.9" cy="290.6" r="2.9"/><circle cx="1508.6" cy="510.7" r="2.9"/><circle cx="1666.2" cy="304.3" r="3.8"/><circle cx="1594.5" cy="462.7" r="2.9"/><circle cx="1771.9" cy="323.2" r="3.0"/><circle cx="1813.7" cy="288.5" r="3.0"/><circle cx="1805.6" cy="219.4" r="3.0"/><circle cx="1503.1" cy="552.4" r="3.6"/><circle cx="1491.4" cy="497.4" r="2.9"/><circle cx="1626.9" cy="426.4" r="3.5"/><circle cx="1492.2" cy="345.1" r="3.0"/><circle cx="1712.5" cy="370.4" r="3.2"/><circle cx="1606.5" cy="454.3" r="3.3"/><circle cx="1559.5" cy="332.3" r="3.7"/><circle cx="1628.2" cy="213.7" r="3.7"/><circle cx="1574.1" cy="365.4" r="3.7"/><circle cx="1691.1" cy="394.5" r="3.7"/><circle cx="1535.0" cy="579.6" r="3.2"/><circle cx="1462.0" cy="475.7" r="3.4"/><circle cx="1446.5" cy="501.1" r="2.9"/><circle cx="1860.7" cy="515.3" r="3.2"/><circle cx="1555.3" cy="501.9" r="3.3"/><circle cx="1677.4" cy="500.4" r="3.2"/><circle cx="1757.7" cy="314.9" r="3.0"/></g><g fill="#a0369b"><circle cx="1767.4" cy="395.9" r="6.0"/><circle cx="1818.4" cy="321.1" r="6.1"/><circle cx="1797.4" cy="325.7" r="6.0"/><circle cx="1840.8" cy="324.8" r="6.0"/><circle cx="1711.2" cy="245.5" r="5.9"/><circle cx="1713.0" cy="292.3" r="4.3"/><circle cx="1774.9" cy="246.1" r="4.5"/><circle cx="1670.0" cy="211.1" r="5.5"/><circle cx="1715.4" cy="271.1" r="5.4"/><circle cx="1765.7" cy="214.2" r="5.4"/><circle cx="1698.2" cy="186.2" r="5.6"/><circle cx="1672.2" cy="226.0" r="4.9"/><circle cx="1668.9" cy="179.8" r="4.6"/><circle cx="1734.7" cy="249.8" r="6.0"/><circle cx="1657.1" cy="236.3" r="5.2"/><circle cx="1703.8" cy="199.3" r="5.7"/><circle cx="1722.9" cy="282.5" r="4.3"/><circle cx="1759.8" cy="228.9" r="5.4"/><circle cx="1697.1" cy="285.4" r="4.9"/><circle cx="1657.3" cy="200.0" r="4.3"/><circle cx="1680.5" cy="198.6" r="5.2"/><circle cx="1743.6" cy="203.1" r="5.4"/><circle cx="1683.7" cy="282.1" r="4.3"/><circle cx="1750.5" cy="267.3" r="5.4"/><circle cx="1787.6" cy="224.5" r="4.7"/><circle cx="1762.8" cy="277.3" r="4.8"/><circle cx="1659.2" cy="250.6" r="4.8"/><circle cx="1734.9" cy="291.2" r="4.4"/><circle cx="1671.2" cy="238.8" r="5.0"/><circle cx="1782.2" cy="206.4" r="4.5"/><circle cx="1742.6" cy="189.5" r="5.3"/><circle cx="1748.1" cy="218.1" r="6.0"/><circle cx="1652.0" cy="210.3" r="4.3"/><circle cx="1685.5" cy="267.2" r="4.9"/><circle cx="1718.6" cy="202.8" r="6.0"/><circle cx="1561.4" cy="454.6" r="3.8"/><circle cx="1578.5" cy="423.7" r="3.7"/><circle cx="1435.1" cy="450.9" r="3.8"/><circle cx="1508.7" cy="326.1" r="3.7"/><circle cx="1453.7" cy="427.2" r="4.7"/><circle cx="1504.3" cy="487.3" r="3.8"/><circle cx="1675.3" cy="398.0" r="4.0"/><circle cx="1612.0" cy="328.1" r="4.2"/><circle cx="1624.4" cy="335.5" r="4.6"/><circle cx="1609.2" cy="405.1" r="4.2"/><circle cx="1595.9" cy="343.8" r="4.4"/><circle cx="1664.0" cy="359.7" r="4.6"/><circle cx="1675.7" cy="333.5" r="4.0"/><circle cx="1659.1" cy="318.0" r="4.3"/><circle cx="1842.4" cy="575.1" r="3.8"/><circle cx="1751.6" cy="620.0" r="3.8"/><circle cx="1819.1" cy="543.9" r="4.1"/><circle cx="1719.5" cy="579.7" r="4.2"/><circle cx="1782.4" cy="591.8" r="4.3"/><circle cx="1823.4" cy="472.9" r="4.0"/><circle cx="1729.6" cy="437.9" r="3.5"/><circle cx="1734.7" cy="412.4" r="4.1"/><circle cx="1901.9" cy="404.1" r="3.7"/><circle cx="1859.7" cy="492.2" r="3.9"/><circle cx="1797.0" cy="483.1" r="3.6"/><circle cx="1571.7" cy="562.8" r="4.7"/><circle cx="1621.0" cy="639.0" r="4.4"/><circle cx="1653.7" cy="624.1" r="4.2"/><circle cx="1541.6" cy="561.4" r="4.1"/><circle cx="1846.6" cy="255.9" r="2.9"/><circle cx="1611.8" cy="212.0" r="3.2"/><circle cx="1765.0" cy="304.1" r="3.2"/><circle cx="1639.7" cy="225.2" r="3.2"/><circle cx="1630.9" cy="186.5" r="3.8"/><circle cx="1640.2" cy="271.7" r="3.7"/><circle cx="1595.1" cy="229.0" r="3.4"/><circle cx="1521.4" cy="533.7" r="3.2"/><circle cx="1803.8" cy="251.4" r="3.1"/><circle cx="1638.2" cy="437.1" r="3.4"/><circle cx="1485.4" cy="321.9" r="3.3"/><circle cx="1529.1" cy="218.9" r="3.0"/><circle cx="1622.0" cy="262.6" r="3.0"/><circle cx="1758.6" cy="328.4" r="3.3"/><circle cx="1704.5" cy="465.9" r="3.4"/><circle cx="1780.9" cy="300.5" r="3.0"/><circle cx="1636.4" cy="201.1" r="3.4"/><circle cx="1725.0" cy="309.8" r="3.7"/><circle cx="1713.7" cy="330.6" r="3.8"/><circle cx="1835.6" cy="290.3" r="3.8"/><circle cx="1533.6" cy="525.3" r="3.0"/><circle cx="1854.8" cy="300.4" r="3.8"/><circle cx="1843.0" cy="269.6" r="2.9"/><circle cx="1708.2" cy="648.2" r="3.0"/><circle cx="1820.1" cy="302.3" r="3.7"/><circle cx="1537.1" cy="502.6" r="2.9"/><circle cx="1613.7" cy="228.0" r="2.9"/><circle cx="1488.2" cy="543.4" r="3.3"/><circle cx="1744.6" cy="312.9" r="3.1"/><circle cx="1891.9" cy="331.4" r="3.3"/><circle cx="1696.4" cy="446.6" r="3.4"/><circle cx="1575.3" cy="461.8" r="3.3"/><circle cx="1679.3" cy="311.5" r="3.2"/><circle cx="1468.8" cy="502.5" r="3.2"/><circle cx="1699.8" cy="303.1" r="3.0"/><circle cx="1481.6" cy="272.2" r="2.9"/><circle cx="1646.6" cy="295.0" r="3.7"/><circle cx="1645.2" cy="181.5" r="3.3"/><circle cx="1444.2" cy="485.8" r="3.8"/><circle cx="1701.6" cy="345.0" r="3.2"/><circle cx="1449.6" cy="332.0" r="3.3"/><circle cx="1639.7" cy="452.4" r="3.0"/><circle cx="1690.8" cy="461.5" r="3.6"/><circle cx="1895.0" cy="347.5" r="3.4"/><circle cx="1790.9" cy="310.0" r="3.8"/><circle cx="1733.4" cy="642.8" r="3.3"/><circle cx="1579.2" cy="480.4" r="3.2"/><circle cx="1658.1" cy="274.6" r="2.9"/><circle cx="1685.4" cy="298.4" r="3.4"/><circle cx="1631.1" cy="288.2" r="3.4"/><circle cx="1594.4" cy="320.9" r="2.9"/><circle cx="1835.5" cy="245.3" r="3.3"/><circle cx="1670.1" cy="438.3" r="3.7"/><circle cx="1566.1" cy="524.1" r="3.5"/><circle cx="1626.0" cy="235.0" r="3.3"/><circle cx="1692.1" cy="334.9" r="3.7"/><circle cx="1583.1" cy="189.8" r="3.2"/><circle cx="1694.2" cy="645.9" r="2.9"/><circle cx="1817.6" cy="250.0" r="3.5"/><circle cx="1863.0" cy="274.4" r="3.2"/><circle cx="1612.9" cy="424.2" r="3.0"/><circle cx="1460.9" cy="293.5" r="2.9"/><circle cx="1494.6" cy="268.9" r="3.0"/><circle cx="1709.1" cy="315.3" r="3.6"/><circle cx="1519.2" cy="228.8" r="3.7"/><circle cx="1522.8" cy="349.7" r="3.4"/><circle cx="1613.1" cy="273.0" r="3.8"/><circle cx="1900.1" cy="472.6" r="3.0"/><circle cx="1708.7" cy="397.0" r="3.2"/><circle cx="1511.7" cy="524.4" r="2.9"/></g><g fill="#72c8bd"><circle cx="1688.5" cy="217.4" r="5.5"/><circle cx="1701.5" cy="261.1" r="5.6"/><circle cx="1745.4" cy="281.6" r="4.3"/><circle cx="1733.3" cy="267.2" r="5.2"/><circle cx="1758.6" cy="255.4" r="5.5"/><circle cx="1759.3" cy="195.5" r="5.2"/><circle cx="1728.2" cy="189.8" r="5.1"/><circle cx="1681.5" cy="250.0" r="5.6"/><circle cx="1658.3" cy="220.4" r="4.3"/><circle cx="1753.8" cy="242.0" r="5.2"/><circle cx="1713.5" cy="186.4" r="5.8"/><circle cx="1775.5" cy="260.0" r="4.5"/><circle cx="1684.4" cy="176.2" r="4.4"/><circle cx="1719.8" cy="258.2" r="5.3"/><circle cx="1544.0" cy="453.7" r="4.4"/><circle cx="1506.6" cy="460.9" r="4.1"/><circle cx="1496.8" cy="330.4" r="4.0"/><circle cx="1473.3" cy="437.1" r="4.6"/><circle cx="1558.5" cy="366.0" r="4.2"/><circle cx="1453.0" cy="354.9" r="3.9"/><circle cx="1528.2" cy="332.5" r="3.9"/><circle cx="1576.5" cy="409.2" r="4.3"/><circle cx="1556.9" cy="422.6" r="4.4"/><circle cx="1438.5" cy="437.2" r="4.3"/><circle cx="1506.0" cy="476.1" r="3.8"/><circle cx="1533.5" cy="360.0" r="4.0"/><circle cx="1523.0" cy="484.8" r="3.7"/><circle cx="1470.2" cy="451.0" r="4.2"/><circle cx="1506.2" cy="350.9" r="4.6"/><circle cx="1559.5" cy="377.0" r="4.1"/><circle cx="1487.0" cy="467.8" r="4.2"/><circle cx="1495.7" cy="449.7" r="4.9"/><circle cx="1483.8" cy="451.9" r="4.5"/><circle cx="1561.1" cy="392.9" r="4.4"/><circle cx="1562.4" cy="432.4" r="4.1"/><circle cx="1520.0" cy="447.9" r="4.5"/><circle cx="1627.4" cy="382.3" r="5.0"/><circle cx="1610.9" cy="363.9" r="5.0"/><circle cx="1626.7" cy="368.5" r="5.3"/><circle cx="1643.7" cy="415.7" r="4.2"/><circle cx="1662.4" cy="344.2" r="4.9"/><circle cx="1638.4" cy="311.8" r="4.0"/><circle cx="1657.9" cy="330.4" r="4.1"/><circle cx="1756.2" cy="565.5" r="4.9"/><circle cx="1720.2" cy="592.1" r="4.1"/><circle cx="1743.0" cy="443.0" r="3.7"/><circle cx="1850.2" cy="482.3" r="4.1"/><circle cx="1744.7" cy="407.1" r="3.8"/><circle cx="1886.5" cy="398.6" r="3.9"/><circle cx="1783.7" cy="331.9" r="3.4"/><circle cx="1883.5" cy="414.6" r="3.6"/><circle cx="1745.2" cy="394.3" r="3.9"/><circle cx="1687.2" cy="605.7" r="3.8"/><circle cx="1469.9" cy="322.4" r="3.4"/><circle cx="1457.5" cy="491.2" r="3.1"/><circle cx="1774.0" cy="288.4" r="2.9"/><circle cx="1546.0" cy="607.3" r="3.3"/><circle cx="1874.0" cy="510.8" r="3.1"/><circle cx="1523.4" cy="514.6" r="3.0"/><circle cx="1624.5" cy="452.9" r="3.8"/><circle cx="1490.6" cy="526.8" r="3.0"/><circle cx="1592.8" cy="430.8" r="3.7"/><circle cx="1469.8" cy="533.2" r="3.0"/><circle cx="1867.8" cy="314.3" r="3.2"/><circle cx="1856.2" cy="530.0" r="3.5"/><circle cx="1473.6" cy="290.4" r="2.9"/><circle cx="1495.5" cy="255.7" r="2.9"/><circle cx="1565.4" cy="484.2" r="3.6"/><circle cx="1790.0" cy="247.5" r="3.7"/><circle cx="1713.6" cy="356.4" r="3.0"/><circle cx="1521.6" cy="574.0" r="3.5"/><circle cx="1528.4" cy="545.3" r="3.2"/><circle cx="1894.2" cy="485.4" r="3.2"/><circle cx="1483.1" cy="299.4" r="2.9"/><circle cx="1580.5" cy="205.0" r="2.9"/><circle cx="1705.2" cy="381.8" r="3.2"/><circle cx="1546.2" cy="213.1" r="3.3"/><circle cx="1575.2" cy="630.6" r="3.3"/><circle cx="1830.8" cy="260.9" r="3.8"/><circle cx="1501.4" cy="303.2" r="3.8"/><circle cx="1704.8" cy="434.8" r="3.6"/><circle cx="1698.0" cy="367.7" r="2.9"/><circle cx="1881.9" cy="494.8" r="3.2"/><circle cx="1514.9" cy="338.4" r="2.9"/><circle cx="1509.2" cy="239.6" r="3.8"/><circle cx="1886.9" cy="508.2" r="3.1"/><circle cx="1595.3" cy="211.9" r="3.7"/><circle cx="1833.4" cy="308.6" r="3.0"/><circle cx="1477.7" cy="492.5" r="3.0"/><circle cx="1568.8" cy="195.7" r="3.3"/><circle cx="1473.6" cy="520.8" r="3.0"/><circle cx="1902.8" cy="377.9" r="3.3"/><circle cx="1625.3" cy="301.9" r="3.5"/><circle cx="1797.9" cy="236.1" r="3.1"/></g><circle cx="1731.5" cy="211.1" r="6.2" fill="#222b8f"/><circle cx="1734.1" cy="226.7" r="6.2" fill="#72c8bd"/><circle cx="1775.2" cy="372.5" r="6.3" fill="#63b127"/><circle cx="1815.8" cy="334.0" r="6.3" fill="#d6ec38"/><circle cx="1855.0" cy="348.9" r="6.3" fill="#f77320"/><circle cx="1787.2" cy="346.0" r="6.3" fill="#222b8f"/><circle cx="1774.1" cy="356.1" r="6.3" fill="#222b8f"/><circle cx="1779.8" cy="387.5" r="6.3" fill="#f77320"/><circle cx="1830.1" cy="413.3" r="6.3" fill="#63b127"/><circle cx="1596.9" cy="513.8" r="6.3" fill="#a0369b"/><circle cx="1583.6" cy="551.7" r="6.3" fill="#222b8f"/><circle cx="1661.2" cy="576.8" r="6.3" fill="#222b8f"/><circle cx="1606.5" cy="501.3" r="6.3" fill="#f77320"/><circle cx="1629.1" cy="493.0" r="6.3" fill="#a0369b"/><circle cx="1674.1" cy="574.3" r="6.3" fill="#72c8bd"/><circle cx="1656.6" cy="590.5" r="6.3" fill="#72c8bd"/><circle cx="1655.9" cy="498.0" r="6.3" fill="#222b8f"/><circle cx="1681.9" cy="529.0" r="6.3" fill="#222b8f"/><circle cx="1589.9" cy="576.2" r="6.3" fill="#72c8bd"/><circle cx="1584.3" cy="521.7" r="6.3" fill="#222b8f"/><circle cx="1841.4" cy="427.3" r="6.3" fill="#222b8f"/><circle cx="1870.5" cy="403.2" r="6.3" fill="#222b8f"/><circle cx="1858.9" cy="376.5" r="6.4" fill="#a0369b"/><circle cx="1594.3" cy="529.2" r="6.4" fill="#a0369b"/><circle cx="1760.3" cy="356.0" r="6.4" fill="#63b127"/><circle cx="1582.4" cy="537.6" r="6.4" fill="#f77320"/><circle cx="1609.4" cy="590.0" r="6.4" fill="#f77320"/><circle cx="1472.4" cy="407.6" r="6.4" fill="#222b8f"/><circle cx="1851.8" cy="394.2" r="6.6" fill="#222b8f"/><circle cx="1660.3" cy="511.3" r="6.6" fill="#72c8bd"/><circle cx="1586.0" cy="381.8" r="6.6" fill="#222b8f"/><circle cx="1836.4" cy="338.0" r="6.6" fill="#63b127"/><circle cx="1837.9" cy="356.1" r="6.6" fill="#63b127"/><circle cx="1823.6" cy="347.5" r="6.6" fill="#a0369b"/><circle cx="1806.4" cy="350.3" r="6.6" fill="#72c8bd"/><circle cx="1576.9" cy="243.0" r="6.6" fill="#aaa4a4"/><circle cx="1671.0" cy="538.4" r="6.6" fill="#6cc0de"/><circle cx="1687.6" cy="569.8" r="6.6" fill="#63b127"/><circle cx="1570.1" cy="313.3" r="6.6" fill="#a0369b"/><circle cx="1518.0" cy="290.6" r="6.6" fill="#222b8f"/><circle cx="1593.3" cy="292.4" r="6.6" fill="#222b8f"/><circle cx="1589.9" cy="246.1" r="6.6" fill="#72c8bd"/><circle cx="1519.8" cy="304.1" r="6.6" fill="#222b8f"/><circle cx="1540.0" cy="232.1" r="6.6" fill="#72c8bd"/><circle cx="1596.6" cy="259.5" r="6.6" fill="#222b8f"/><circle cx="1857.3" cy="362.7" r="6.6" fill="#222b8f"/><circle cx="1513.3" cy="274.6" r="6.6" fill="#72c8bd"/><circle cx="1554.2" cy="314.6" r="6.6" fill="#222b8f"/><circle cx="1642.5" cy="590.8" r="6.6" fill="#a0369b"/><circle cx="1713.6" cy="221.4" r="6.7" fill="#a0369b"/><circle cx="1866.2" cy="390.2" r="6.7" fill="#222b8f"/><circle cx="1612.0" cy="573.6" r="6.7" fill="#222b8f"/><circle cx="1643.0" cy="503.1" r="6.7" fill="#222b8f"/><circle cx="1515.1" cy="256.9" r="6.7" fill="#222b8f"/><circle cx="1683.6" cy="541.7" r="6.7" fill="#72c8bd"/><circle cx="1620.9" cy="510.1" r="6.7" fill="#222b8f"/><circle cx="1812.6" cy="407.7" r="6.7" fill="#222b8f"/><circle cx="1647.8" cy="577.8" r="6.8" fill="#72c8bd"/><circle cx="1625.6" cy="575.4" r="6.8" fill="#72c8bd"/><circle cx="1622.3" cy="588.6" r="6.8" fill="#a0369b"/><circle cx="1677.0" cy="554.5" r="6.8" fill="#a0369b"/><circle cx="1611.3" cy="523.2" r="6.9" fill="#72c8bd"/><circle cx="1667.4" cy="523.8" r="6.9" fill="#72c8bd"/><circle cx="1608.3" cy="308.8" r="6.9" fill="#72c8bd"/><circle cx="1802.1" cy="396.1" r="6.9" fill="#f77320"/><circle cx="1823.0" cy="392.4" r="6.9" fill="#f77320"/><circle cx="1872.8" cy="374.1" r="6.9" fill="#222b8f"/><circle cx="1567.5" cy="232.7" r="6.9" fill="#a0369b"/><circle cx="1795.3" cy="371.0" r="6.9" fill="#a0369b"/><circle cx="1553.1" cy="229.7" r="6.9" fill="#72c8bd"/><circle cx="1584.9" cy="266.2" r="6.9" fill="#a0369b"/><circle cx="1569.8" cy="256.7" r="7.0" fill="#a0369b"/><circle cx="1653.7" cy="527.6" r="7.0" fill="#a0369b"/><circle cx="1594.7" cy="277.3" r="7.0" fill="#222b8f"/><circle cx="1839.0" cy="382.1" r="7.0" fill="#222b8f"/><circle cx="1594.4" cy="563.7" r="7.1" fill="#222b8f"/><circle cx="1536.4" cy="305.0" r="7.1" fill="#72c8bd"/><circle cx="1554.0" cy="252.1" r="7.1" fill="#72c8bd"/><circle cx="1597.4" cy="550.1" r="7.1" fill="#222b8f"/><circle cx="1504.4" cy="389.0" r="7.2" fill="#72c8bd"/><circle cx="1491.6" cy="387.5" r="7.2" fill="#222b8f"/><circle cx="1490.1" cy="419.0" r="7.2" fill="#72c8bd"/><circle cx="1533.1" cy="397.6" r="7.2" fill="#222b8f"/><circle cx="1541.7" cy="340.9" r="7.2" fill="#222b8f"/><circle cx="1784.9" cy="427.6" r="7.2" fill="#72c8bd"/><circle cx="1530.2" cy="243.0" r="7.2" fill="#63b127"/><circle cx="1576.1" cy="283.9" r="7.2" fill="#72c8bd"/><circle cx="1637.0" cy="566.7" r="7.2" fill="#222b8f"/><circle cx="1530.9" cy="259.2" r="7.2" fill="#a0369b"/><circle cx="1828.0" cy="368.9" r="7.2" fill="#a0369b"/><circle cx="1657.6" cy="557.8" r="7.2" fill="#a0369b"/><circle cx="1626.4" cy="523.7" r="7.3" fill="#f77320"/><circle cx="1533.2" cy="288.6" r="7.3" fill="#72c8bd"/><circle cx="1621.1" cy="561.3" r="7.3" fill="#72c8bd"/><circle cx="1641.0" cy="520.8" r="7.3" fill="#a0369b"/><circle cx="1566.0" cy="296.2" r="7.3" fill="#222b8f"/><circle cx="1527.6" cy="273.7" r="7.3" fill="#a0369b"/><circle cx="1611.4" cy="546.6" r="7.4" fill="#72c8bd"/><circle cx="1549.9" cy="295.4" r="7.4" fill="#a0369b"/><circle cx="1850.8" cy="410.4" r="7.4" fill="#222b8f"/><circle cx="1582.6" cy="306.5" r="7.4" fill="#aaa4a4"/><circle cx="1651.8" cy="542.1" r="7.5" fill="#222b8f"/><circle cx="1812.8" cy="374.3" r="7.6" fill="#a0369b"/><circle cx="1563.9" cy="271.7" r="7.6" fill="#72c8bd"/><circle cx="1547.7" cy="271.6" r="7.7" fill="#72c8bd"/><circle cx="1635.5" cy="541.1" r="7.8" fill="#222b8f"/><circle cx="1517.3" cy="429.0" r="7.9" fill="#222b8f"/><circle cx="1507.3" cy="413.3" r="7.9" fill="#72c8bd"/><circle cx="1771.2" cy="437.0" r="7.9" fill="#72c8bd"/><circle cx="1763.5" cy="524.9" r="7.9" fill="#aaa4a4"/><circle cx="1773.5" cy="565.0" r="7.9" fill="#222b8f"/><circle cx="1491.0" cy="403.3" r="8.3" fill="#72c8bd"/><circle cx="1518.2" cy="389.0" r="8.3" fill="#63b127"/><circle cx="1539.7" cy="323.1" r="8.3" fill="#222b8f"/><circle cx="1781.5" cy="410.4" r="8.3" fill="#63b127"/><circle cx="1518.8" cy="403.3" r="8.6" fill="#222b8f"/><circle cx="1525.9" cy="416.2" r="8.6" fill="#222b8f"/><circle cx="1772.0" cy="423.3" r="8.6" fill="#72c8bd"/><circle cx="1579.7" cy="334.6" r="8.9" fill="#222b8f"/><circle cx="1772.0" cy="537.8" r="8.9" fill="#222b8f"/><circle cx="1772.0" cy="549.8" r="9.2" fill="#f77320"/><circle cx="1797.8" cy="421.9" r="9.3" fill="#222b8f"/><circle cx="1750.6" cy="532.1" r="9.7" fill="#222b8f"/><circle cx="1750.6" cy="546.4" r="9.7" fill="#222b8f"/></g>
<path d="M2404 384q-43 4-69 39M2341 349q9 35 40 52M2378 353q8 45 47 70M2347 429q10-51-21-93M2386 341q-40 50-30 114M2380 422q-7-19-26-27M2404 384q-40 25-48 71M2294 389q-5 38 19 68M2364 380q18-24 12-53M2326 379q-25 6-38 28M2325 407q21 6 40-6M2393 352q-43 6-68 41M2414 439q9-12 6-26M2325 393q33 28 75 22M2399 396q-18-5-34 5M2396 427q-24-39-70-48M2386 341q-30 59-7 121M2414 439q-12-40-50-59M2386 385q-30 28-30 70M2298 366q13 31 44 42M2328 361q-10 33 7 62M2341 349q24 31 63 35M2385 447q34-14 46-48M2335 423q13 29 44 39M2341 387q40 32 91 24M2335 423q-18 12-22 34M2347 429q2-12-5-21M2403 450q10-28-4-54M2379 462q20-37 7-77M2354 395q-18 25-12 55M2341 349q24 31 63 35M2325 407q7-14 1-28M2364 380q4 14 17 21M2365 401q-23 34-13 74M2380 422q-41 3-67 35M2414 439q-16-30-49-38M2365 337q-32 19-40 56M2414 439q17-16 17-40M2378 353q8 45 47 70M2403 450q-16-27-46-33M2371 451q32-35 28-82M2364 380q14 16 35 16M2365 337q-4 52 31 90M2326 379q8 53 53 83M2412 353q-24 33-16 74M2379 462q-29-22-65-16M2341 349q-32 10-47 40M2365 401q12-12 12-29M2355 349q11 7 23 4M2347 429q31 20 67 10M2347 429q-15-4-28 5M2342 408q16-39-2-78M2365 363q15 49 62 71M2298 366q13 72 75 110M2325 393q-12 39 9 75M2378 353q-39 48-30 110M2412 353q-40 47-33 109M2364 380q-31-1-53 22M2328 361q-22 27-17 61M2326 379q-8 54 26 96M2355 349q-13 44 11 83M2399 369q-45 3-74 38M2342 408q13 2 23-7M2335 423q-1-10-10-16M2365 363q-15 35 1 69M2357 417q-34-2-58 22M2328 361q44 14 84-8M2414 439q-48-45-114-40M2364 380q-11 44 15 82M2379 462q-11 3-16 14M2365 363q-36 8-54 39M2378 353q-57 7-90 54M2396 427q4-23-10-42M2399 396q-31-7-57 12M2381 401q-21-5-39 7M2409 426q-39-9-72 14M2365 363q22-2 36-20M2341 349q-18 18-16 44M2365 337q17 52 67 74M2357 417q-1-19-16-30M2298 366q32 4 57-17M2386 341q-46 39-49 99M2396 427q-9 19-1 39M2365 337q-2 20 12 35M2335 423q44-30 51-82M2326 379q2-16-8-29M2377 372q-20 38-6 79M2298 366q39 72 118 92M2357 417q22-38 8-80M2382 434q24 4 43-11M2399 369q-39 19-52 60M2304 373q18 61 75 89M2385 447q-7-21-28-30M2380 422q-11 13-9 29M2365 337q15 28 46 36M2346 367q12 41 50 60M2357 417q-5-42-39-67M2378 353q-3 36 22 62M2381 401q-52-7-92 27M2294 389q36 35 86 33M2365 363q1 39 31 64M2355 349q18 20 44 20M2404 384q-7 22 5 42M2409 426q-16-22-44-25M2403 450q-48-47-115-43M2409 426q-47-16-90 8M2357 417q20-18 20-45M2393 352q-33 64-8 132M2326 379q18 33 54 43M2365 337q-19-9-39-1M2381 401q-20-39-63-51M2378 353q-25 67 7 131M2347 429q23-7 34-28M2379 462q18-73-24-136M2326 379q2 59 47 97M2382 434q-11-48-54-73M2365 363q-44 30-51 83M2393 352q-11 15-7 33M2378 353q-27-7-50 8M2346 367q-28 28-27 67M2381 401q-7 17 1 33M2326 379q18 33 54 43M2341 349q-22 59 7 114M2357 417q-7-26-31-38M2414 439q-38-3-66 24M2403 450q16-3 24-16M2380 422q-24-56-81-77M2325 407q5 31 31 48M2399 396q-58-19-111 11M2365 337q-18 27-11 58M2298 366q32 4 57-17M2412 353q-72 30-99 104M2399 396q11-9 12-23M2396 427q-47-47-113-45M2379 462q40-20 52-63M2414 439q-28-66-96-89M2385 447q-8-1-14 4M2365 337q2 54 44 89M2380 422q5-33-15-59M2341 387q-7 37 15 68M2396 427q22 0 36-16M2328 361q-30 14-40 46M2386 341q-10 22 0 44M2385 447q8 5 18 3M2326 379q23 1 39-16M2399 396q6-14 0-27M2365 401q31-21 36-58M2342 408q-2-18-16-29M2399 369q-60 0-100 44M2409 426q-23-6-43 6M2404 384q-23 0-39 17M2371 451q42-40 41-98M2382 434q15 10 32 5M2380 422q-41 3-67 35M2355 349q-5 48 27 85M2378 353q-37 26-43 70M2335 423q-24-8-46 5M2399 369q-47 22-62 71M2377 372q-31-1-52 21M2335 423q-11 11-10 27M2298 366q13 72 75 110M2380 422q15-9 19-26M2364 380q27 30 68 31M2377 372q-43 39-43 96M2354 395q29 24 66 18M2365 401q-13-2-23 7M2365 401q14-3 21-16M2357 417q-5 33 16 59M2325 393q-12 19-6 41M2414 439q-24-24-57-22M2357 417q1 27 22 45M2341 387q-24-9-47 2M2399 369q-10 5-13 16M2347 429q-5-6-12-6M2325 407q40 43 99 42M2377 372q-8 1-13 8M2364 380q-25 5-39 27M2409 426q-23 11-30 36M2380 422q22-32 13-70M2386 341q-42 13-61 52M2409 426q-24 4-38 25M2393 352q-57 3-93 47M2393 352q-2 18 11 32M2357 417q-31 10-44 40M2414 439q-15 9-19 27M2341 349q-38 48-28 108M2328 361q-3 67 45 115M2365 401q-21-43-66-56M2342 408q46 15 89-9M2365 401q34-14 47-48M2294 389q33 49 91 58M2342 408q7 17 24 24M2347 429q-7 3-10 11M2355 349q-7 56 30 98M2342 408q-17 8-23 26M2354 395q-16 10-19 28M2378 353q-3 36 22 62M2377 372q26 29 65 30M2386 341q-20 15-22 39M2365 401q-6 34 14 61M2342 408q-17 8-23 26M2386 341q-31 32-29 76M2357 417q-36-9-68 11M2342 408q9-4 12-13M2365 401q39-9 58-44M2294 389q31 0 52-22M2399 369q-14 28-3 58M2381 401q-49 1-82 38M2298 366q12 64 67 98M2365 363q15-6 21-22M2380 422q28-35 21-79M2326 379q53 10 97-22M2379 462q14-30 2-61M2396 427q-30-15-61-4M2379 462q45-16 63-60M2381 401q-8 24 4 46M2365 337q-15 1-24 12M2404 384q-20-41-64-54M2377 372q-20 18-20 45M2347 429q34 27 77 20M2365 401q-37 31-40 79M2414 439q-20-35-60-44M2341 349q-22 45-4 91M2346 367q3 41 36 67M2379 462q-24-7-45 6M2404 384q11-14 8-31M2347 429q-6-53-48-84M2325 393q50 33 107 18M2412 353q-40 29-46 79M2380 422q7 6 16 5M2341 349q-22 59 7 114M2365 337q-29 42-18 92M2381 401q-7 17 1 33M2365 363q-2-9-10-14M2326 379q7 46 45 72M2404 384q-49-32-106-18M2335 423q43-4 69-39M2326 379q29-12 39-42M2342 408q5 28 29 43M2341 349q1 70 54 117M2414 439q-24-3-43 12M2325 407q-11-10-25-8M2409 426q8-31-10-57M2385 447q-24-55-81-74M2393 352q-22 32-13 70M2365 363q-5 33 15 59M2365 363q-39 25-46 71M2399 396q-41 29-47 79M2409 426q23-14 29-40M2294 389q25 28 63 28M2346 367q15 61 70 91M2326 379q27 8 51-7M2386 385q17-18 15-42M2412 353q-66 12-101 69M2364 380q4 44 39 70M2328 361q-5 9-2 18M2399 396q-10-24-34-33M2326 379q13-2 20-12M2382 434q-1-20-17-33M2396 427q5-5 4-12M2304 373q-7 26 7 49M2396 427q-22 19-23 49M2328 361q10 56 57 86M2371 451q-30-10-58 6M2365 363q-4 8-1 17M2355 349q-38 13-55 50M2364 380q-48 25-63 77M2354 395q21 28 55 31M2412 353q-30 3-48 27M2342 408q-17 28-8 60M2341 387q2 46 38 75M2365 363q21 15 46 10M2382 434q-14-22-40-26M2386 341q-68 39-85 116M2385 447q31-8 47-36M2399 369q-73 4-120 60M2377 372q11 42 50 62M2304 373q18 43 62 59M2396 427q-45-9-82 19M2385 447q1 12 10 19M2396 427q-26 5-40 28M2357 417q7 21 28 30M2304 373q24 27 61 28M2381 401q17 15 39 12M2380 422q-33 13-46 46M2342 408q-2 12 5 21M2347 429q1 21 18 35M2414 439q-43-41-103-37M2409 426q-2-26-23-41M2294 389q41 3 71-26M2341 349q1 31 24 52M2386 385q-47-18-92 4M2409 426q-39-9-72 14M2381 401q-38 23-47 67M2404 384q-62 16-91 73M2393 352q14 9 30 5M2382 434q-33-36-82-35M2396 427q-32 0-54 23M2382 434q24-39 11-82M2354 395q-26 32-20 73M2357 417q42-20 55-64M2294 389q7-11 4-23M2386 385q-44 30-52 83M2404 384q-4 37 20 65M2396 427q3 20 20 31M2364 380q4 14 17 21M2379 462q-13-29-44-39M2414 439q-53-57-131-57M2294 389q64 1 107-46M2347 429q30 5 53-14M2326 379q38 50 101 55M2414 439q-40-57-110-66M2379 462q-12-46-54-69M2412 353q-10 44 15 81M2298 366q45 69 126 83M2399 369q-21 22-19 53M2393 352q-1 48 34 82M2414 439q-58-25-115 0M2335 423q28 28 68 27M2365 363q-27 6-40 30M2335 423q28-23 30-60M2381 401q-22 28-16 63M2346 367q19 0 32-14M2304 373q33 60 99 77M2381 401q-5 10-1 21M2399 396q-62-8-110 32M2393 352q-58-3-99 37M2399 396q21-6 31-26M2325 407q-14 17-11 39M2385 447q31-8 47-36M2365 363q-31 38-23 87M2354 395q-33-22-71-13M2335 423q34 10 65-8M2346 367q-4 37 20 65M2377 372q26 29 65 30M2386 385q-8-25-31-36M2364 380q-34 37-30 88M2326 379q18-21 14-49M2341 349q-16 56 15 106M2325 393q-8-19-27-27M2354 395q-4 32 17 56M2341 387q-27 4-42 26M2380 422q-3-14-15-21M2341 349q25 49 79 64M2304 373q48 58 123 61M2341 349q34 45 90 50M2393 352q-25 18-28 49M2328 361q18 32 53 40M2294 389q41 54 109 61M2341 349q19 36 58 47M2386 385q-14 31-1 62M2399 396q-45-16-88 6M2380 422q-26 20-28 53M2325 393q47 9 86-20M2379 462q-15-39-54-55M2414 439q-16-2-29 8M2365 401q24-25 21-60M2354 395q-1-36-28-59M2325 407q7 37 40 57M2298 366q51 56 127 57M2341 349q-7 38 16 68M2377 372q-43 28-52 78M2399 396q-42-32-95-23M2341 387q-29 29-28 70M2377 372q-4 15 4 29M2325 393q-31 8-46 36M2328 361q11 48 54 73M2393 352q-16-1-28 11M2412 353q5 12 18 17M2377 372q-25 10-35 36M2414 439q23-39 9-82M2379 462q-1-27-22-45M2328 361q24-4 37-24M2326 379q7 26 31 38M2347 429q-1 15 9 26M2457 379q34-9 50-40M2453 391q35 5 62-17M2496 379q-26-23-61-19M2480 407q-5-19-23-28M2457 379q-1-6-6-9M2442 375q21 16 46 11M2442 375q46 14 87-10M2471 381q4 23 23 36M2507 411q0-35-25-59M2482 352q-7 29 10 54M2453 391q35 5 62-17M2496 379q-11-10-25-9M2471 381q-5 20 7 37M2451 370q21 14 45 9M2488 386q-10-20-32-26M2494 417q24-36 13-78M2464 398q27-23 29-58M2471 370q5 12 17 16M2486 372q-11 16-6 35M2471 370q-16-4-29 5M2492 406q-12-10-28-8M2486 372q9-1 15-9M2466 411q-2-13-13-20M2507 411q-23-22-54-20M2451 370q-12 14-9 32M2478 418q16 3 29-7M2468 354q-12 4-17 16M2488 386q16 0 27-12M2482 352q-13 27-2 55M2457 379q8 11 22 13M2494 353q-27 23-28 58M2507 411q-23-2-40 13M2466 411q22-9 30-32M2515 355q-46-11-85 15M2501 363q-20-21-49-21M2464 398q10-12 7-28M2478 418q9-34-10-64M2453 391q7 19 25 27M2468 354q-1 37 26 63M2515 374q-5-9-14-11M2507 411q-25-32-65-36M2515 355q-35-7-64 15M2480 407q4-20-9-37M2466 411q16-8 22-25M2442 375q33-6 51-35M2442 375q27 24 63 21M2456 360q-6 28 10 51M2501 363q-17-3-30 7M2482 352q-10 19-3 40M2507 411q-6-6-15-5M2442 375q16 4 29-5M2505 396q-11-20-34-26M2480 407q14-10 16-28M2453 391q4-11-2-21M2515 355q-18-22-47-23M2457 379q8 11 22 13M2479 392q-15-26-44-32M2464 398q9 0 15-6M2501 363q-22-11-45-3M2464 398q32 17 66 4M2442 375q37 16 73-1M2453 391q-7-16-23-21M2442 375q21 16 46 11M2486 372q-4 18 6 34M2456 360q-15 9-18 26M2478 418q28-14 37-44M2471 381q-9 14-5 30M2480 407q4-20-9-37M2505 396q-17-29-49-36M2468 354q19 20 47 20M2471 381q4-14-3-27M2451 370q0 17 13 28M2482 352q-4 18 6 34M2471 381q25 23 59 21M2442 375q27 24 63 21M2478 418q7-26-7-48M2466 411q8 1 14-4M2466 411q2-33-21-57M2471 370q21 12 44 4M2457 379q2 24 21 39M2505 396q-11-20-34-26M2496 379q-11-10-25-9M2482 352q13 36 48 50M2468 354q3 20 20 32M2515 355q-24 26-21 62M2494 417q8 0 13-6M2456 360q8 31 36 46M2494 353q-27 23-28 58M2486 372q-2 7 2 14M2505 396q-10 8-11 21M2466 411q3-18-9-32M2501 363q-28 16-35 48M2515 374q-43-2-73 28M2515 355q-23-11-47-1M2507 411q-19-33-56-41M2471 370q7-20-3-38M2480 407q-6-34-35-53M2507 411q-31-13-61 1M2479 392q12 8 26 4M2457 379q-12-10-27-9M2464 398q20-2 32-19M2466 411q33-8 49-37M2471 370q-14 7-18 21M2480 407q25-9 35-33M2471 381q4-14-3-27M2494 417q9-19 2-38M2482 352q-31 16-40 50M2468 354q-9 34 10 64M2456 360q-5 4-5 10M2457 379q-7-14-22-19M2496 379q-1-17-14-27M2480 407q10-40-12-75M2515 355q-26 11-36 37M2479 392q10 16 28 19M2464 398q-6-16-22-23M2453 391q14-7 18-21M2494 417q-17-32-52-42M2471 370q-9 1-14 9M2456 360q26-6 39-30M2479 392q22-1 36-18M2464 398q-4-6-11-7M2494 417q-22-38-64-47M2480 407q-10-14-27-16M2451 370q19 33 56 41M2507 411q-7-37-39-57M2515 355q-37 17-49 56M2505 396q-21-25-54-26M2494 417q4 8 12 11M2456 360q6 37 38 57M2515 355q-18 2-29 17M2471 381q20-16 22-41M2486 372q-5-13-18-18M2501 363q-14 20-9 43M2466 411q29-30 27-71M2492 406q-3-23-21-36M2501 363q-19 2-30 18M2471 381q-9 14-5 30M2456 360q-4 10 1 19M2464 398q32 17 66 4M2507 411q2-18-11-32M2488 386q-14-10-31-7M2471 381q4 23 23 36M2496 379q10-25-1-49M2471 370q25 20 56 15M2482 352q-12 12-11 29M2466 411q-9-28-36-41M2515 374q-35-5-62 17M2505 396q-21-34-60-42M2466 411q32-34 29-81M2456 360q-10-5-21 0M2453 391q16-15 15-37M2501 363q8 17 26 22M2482 352q-23 13-29 39M2515 374q-28 14-37 44M2442 375q18-5 26-21M2471 381q-7-19-26-27M2457 379q0-15-12-25M2492 406q2 14 14 22M2453 391q4-11-2-21M2505 396q-33-11-63 6M2442 375q9 29 36 43M2453 391q-7-16-23-21M2442 375q18-5 26-21M2488 386q-25-11-50 0M2496 379q-18 27-11 58M2488 386q17 17 42 16M2466 411q14-28 2-57M2498 443q27 2 47-17M2528 447q11-22 2-45M2528 447q5-10 2-20M2538 412q-22-13-46-6M2506 428q-1 8 5 14M2529 417q-21 6-31 26M2530 402q-18 8-24 26M2530 402q-21 0-36 15M2511 442q5-16-4-31M2506 428q0-25-18-42M2494 417q4-17-6-31M2505 396q11 8 25 6M2530 402q2 15 15 24M2505 396q-7 16 1 32M2529 417q-7 15-1 30M2529 417q-14 9-18 25M2498 443q27-23 29-58M2498 443q-4-17-20-25M2492 406q20 6 38-4M2498 443q27-7 40-31M2478 418q11 19 33 24M2530 402q-23-16-51-10M2530 427q-8-13-23-16M2498 443q14 9 30 4M2530 402q-21 0-36 15M2506 454q6-13 0-26M2506 454q23-21 24-52M2530 402q2 15 15 24M2492 406q-1 6 2 11M2538 412q-7 6-8 15M2530 402q-26-8-50 5M2507 411q-6-6-15-5M2480 407q26 8 50-5M2494 417q1-6-2-11M2480 407q8 16 26 21M2498 443q30-3 48-27M2529 417q-21 6-31 26M2538 412q0 9 7 14M2480 407q6 2 12-1M2507 411q-17 8-22 26M2480 407q3 29 26 47M2485 437q25 5 45-10M2480 407q15 0 25-11M2528 447q-19-26-50-29M2494 417q4-17-6-31M2494 417q-9 8-9 20M2506 428q20-1 32-16M2529 417q-26 0-44 20M2507 411q10 8 22 6M2538 412q-20 1-32 16M2480 407q8 24 31 35M2530 402q5 11 16 14M2528 447q7-15 1-30M2480 407q-4 16 5 30M2528 447q7-15 1-30M2529 417q4-7 1-15M2530 402q-21 0-36 15M2485 437q4-16-5-30M2506 428q-12-11-28-10M2506 454q28-10 40-38M2498 443q7-6 8-15M2494 417q-9 8-9 20M2480 407q28 15 58 5M2530 427q-12-30-42-41M2506 428q7-16-1-32M2506 454q5-5 5-12M2480 407q22 16 49 10M2359 578q22-8 30-30M2359 578q6 5 14 3M2411 602q-14 13-13 32M2386 582q16-15 16-37M2366 595q-5-24-27-37M2400 574q-15-2-27 7M2373 611q2 13 13 21M2373 611q43-30 50-83M2386 582q3 29 26 47M2428 582q11 7 23 3M2373 611q31 5 56-15M2385 568q27 3 47-15M2373 581q22-12 29-36M2398 587q14 26 42 33M2393 605q20-16 22-41M2373 611q-13-13-32-12M2366 595q22-18 23-47M2426 571q-9 32 9 60M2373 611q-7 7-7 18M2400 574q20 12 43 5M2373 611q15-19 12-43M2373 611q21-22 19-53M2386 582q22 3 40-11M2386 582q24 26 59 27M2428 582q-40-21-82-5M2359 578q15 37 53 51M2366 595q21 29 57 32M2426 571q-4-6-11-7M2398 587q5-31-15-55M2411 602q1-32-22-54M2398 587q-11 16-6 35M2382 598q-15 12-16 31M2359 578q11-17 6-36M2411 602q1-32-22-54M2393 605q32-32 30-77M2398 587q-9-24-33-33M2411 602q17 3 31-8M2400 574q7-14 2-29M2428 582q-33-32-78-29M2359 578q11 21 34 27M2366 595q22-18 23-47M2373 581q6 3 13 1M2366 595q16-22 11-49M2415 564q-24 24-23 58M2366 595q48 8 87-22M2373 581q-8 33 10 61M2359 578q18 13 39 9M2382 598q-6-30-32-45M2373 611q45 4 78-26M2428 582q-18-16-43-14M2359 566q27 38 73 44M2366 595q12-34-5-65M2359 578q36-5 57-35M2411 602q24 0 40-17M2428 582q-7-19-25-27M2428 582q-39-32-89-24M2386 582q11 10 26 9M2359 566q39 25 84 13M2426 571q-35 8-53 40M2398 587q11-20 4-42M2428 582q-16 13-17 33M2400 574q27 11 53-1M2359 578q16-12 18-32M2398 587q-9-24-33-33M2382 598q14-18 10-40M2416 543q-29 20-34 55M2366 595q36 24 79 14M2373 611q18 10 38 4M2359 566q4 21 23 32M2415 564q-2-12-13-19M2373 611q7-5 9-13M2415 564q11 14 28 15M2382 598q35 4 61-19M2366 595q22-3 34-21M2412 591q13-23 4-48M2415 564q2-31-20-54M2416 543q-36 25-43 68M2385 568q-23 3-37 22M2398 587q40-6 63-39M2393 605q47-14 68-57M2386 582q10-26-3-50M2385 568q14 31 47 42M2416 543q-7 37 16 67M2412 591q23 11 47 1M2398 587q-18-13-39-9M2393 605q4 16 19 24M2373 581q-5 28 13 51M2359 578q36-5 57-35M2428 582q-12-26-39-34M2359 566q8-11 6-24M2359 578q3-6 0-12M2426 571q-23-35-65-41M2366 595q13-2 20-13M2415 564q11 14 28 15M2393 605q22-47 2-95M2415 564q-30-20-65-11M2412 591q-3-21-20-33M2382 598q10-2 16-11M2373 611q15-19 12-43M2359 566q47 8 85-21M2411 602q-8-16-25-20M2359 578q11 21 34 27M2366 595q21-13 26-37M2382 598q24-10 33-34M2386 582q-24-12-49-3M2415 564q-9-23-32-32M2366 595q42 9 77-16M2386 582q18 16 43 14M2416 543q-19 18-18 44M2412 591q19-29 11-63M2373 611q34-2 55-29M2385 568q-3 7 1 14M2373 581q36-1 59-28M2412 591q22-22 21-53M2382 598q0 14 10 24M2393 605q18 11 39 5M2400 574q-14 8-18 24M2385 568q-13-7-26-2M2373 611q43-30 50-83M2400 574q10 32 40 46M2373 611q22-37 10-79M2373 611q48-1 80-38M2393 605q-11-11-27-10M2373 611q7-5 9-13M2393 605q39-19 51-60M2373 611q11-36-8-69M2366 595q38 16 76-1M2415 564q-4-7-12-9M2400 574q-6 30 12 55M2428 582q-12-26-39-34M2359 566q19-2 30-18M2359 578q-10-10-25-10M2428 582q-10 13-7 29M2386 582q17 24 46 28M2366 595q-3-19-19-30M2359 566q-6-3-12-1M2393 605q-10-35-43-52M2416 543q-13 23-4 48M2385 568q6 6 15 6M2386 582q24-13 30-39M2386 582q-2-25-21-40M2416 543q19 20 46 20M2373 581q-14 22-7 48M2382 598q22 17 50 12M2428 582q-4 15 4 28M2428 582q21-2 34-19M2359 578q50 2 85-33M2359 578q6 5 14 3M2359 566q18 29 52 36M2382 598q48 0 80-35M2386 582q35 10 67-9M2412 591q-8-17-27-23M2398 587q0 17 13 28M2412 591q-17-3-30 7M2373 611q7-15 0-30M2385 568q21-6 31-25M2398 587q27 11 53-2M2385 568q40 14 77-5M2385 568q14-8 17-23M2373 611q22-28 16-63M2366 595q15-9 19-27M2428 582q-42 0-70 30M2385 568q32 28 74 24M2415 564q-37-20-76-6M2398 587q28-17 35-49M2398 587q-31-7-57 12M2373 611q21-22 19-53M2386 582q38 2 64-25M2366 595q27 33 69 36M2373 581q17 26 48 30M2382 598q14-18 10-40M2373 581q9-4 12-13M2400 574q10 17 29 22M2428 582q-2 22 12 38M2412 591q7-13 3-27M2373 581q-7 5-7 14M2373 611q24-1 39-20M2382 598q-4-21-23-32M2415 564q3 12 13 18M2359 578q7 37 39 56M2426 571q-18 2-28 16M2411 602q-5-35-34-56M2428 582q-33-32-78-29M2416 543q-30 10-43 38M2242 570q11-10 11-24M2242 570q22-1 36-18M2231 547q7-3 9-10M2242 570q17-16 16-40M2231 547q11 4 22-1M2255 573q5 11 16 14M2231 547q7-3 9-10M2231 547q0 14 11 23M2241 557q20 6 37-5M2269 559q-4 9 0 18M2231 547q6 18 24 26M2242 570q-10-6-21-2M2269 559q6-2 9-7M2253 546q5 10 16 13M2255 573q-6-4-13-3M2231 547q6 18 24 26M2241 557q10 16 28 20M2231 547q6 18 24 26M2269 559q-16 0-27 11M2242 570q11 15 29 17M2269 559q-26 1-42 21M2253 546q-11 10-11 24M2242 570q12 9 27 7M2242 570q0-14-11-23M2255 573q-6 5-7 13M2269 559q-16-14-38-12M2242 570q12 9 27 7M2253 546q-11-4-22 1M2231 547q7-3 9-10M2269 559q3 4 9 5M2242 570q2-7-1-13M2231 547q12 23 38 30M2242 570q6 4 13 3M2241 557q10 16 28 20M2253 546q-11 19-5 40M2242 570q11-10 11-24M2241 557q14 7 28 2M2253 546q-8 3-12 11M2253 546q-11 10-11 24M2253 546q-5-7-13-9M2253 546q-11 19-5 40M2231 547q11 4 22-1M2242 570q0-14-11-23M2231 547q-10 8-10 21M2255 573q-16-3-28 7M2269 559q-10-17-29-22M2231 547q16 14 38 12M2255 573q-6 5-7 13M2255 573q-6-4-13-3M2253 546q-8 3-12 11M2255 573q-3-11-14-16M2241 557q-12 1-20 11M2253 546q-8 3-12 11M2231 547q3 7 10 10M2255 573q0-21-15-36M2231 547q11 4 22-1M2269 559q-26 1-42 21M2232 230q21 19 49 17M2242 240q-10 1-16 10M2242 240q5 8 15 10M2247 221q15-1 25-13M2247 221q-15 3-23 17M2242 209q-7 16 0 31M2242 262q12-26 0-53M2245 251q6 2 12-1M2232 230q19 4 34-7M2281 247q-16 2-26 15M2242 240q7-16 0-31M2272 208q-6 6-6 15M2242 209q3 15 16 22M2258 231q-5 9-1 19M2265 240q-5-21-23-31M2274 265q-9-32-39-47M2259 209q-14-1-24 9M2242 240q-1 6 3 11M2281 227q-21-15-46-9M2259 209q0-5-4-8M2242 209q-5 3-7 9M2272 208q-4 21 9 39M2258 231q-10 1-16 9M2272 208q-27 20-30 54M2242 262q-8-2-15 2M2232 230q19 4 34-7M2226 250q20-2 32-19M2245 251q11-7 13-20M2245 251q27 4 48-14M2255 201q-14 4-20 17M2259 209q-20 23-17 53M2242 240q-9-5-18-2M2281 247q4-21-9-39M2247 221q16 10 34 6M2245 251q8-22-3-42M2242 209q4 35 32 56M2293 237q-29-17-61-7M2232 230q14 12 33 10M2293 237q-36-8-67 13M2281 247q5 6 12 6M2235 218q14 9 31 5M2235 218q4 21 22 32M2255 201q-5 36 19 64M2258 231q-15 12-16 31M2255 262q-10-19-31-24M2274 265q5-23-8-42M2226 250q26-5 40-27M2257 250q1-17-10-29M2265 240q-2-6-7-9M2293 237q-4-19-21-29M2232 230q2 13 13 21M2255 201q-13 30 0 61M2265 240q6 7 16 7M2255 262q21 4 38-9M2259 209q11 21 34 28M2257 250q-5-8-15-10M2235 218q4 21 22 32M2258 231q-11 7-13 20M2293 237q-15-5-28 3M2258 231q-3-15-16-22M2272 208q1 27 21 45M2258 231q-10 1-16 9M2232 230q10-8 10-21M2232 230q-2 26 16 44M2293 237q-29-17-61-7M2224 238q10-8 11-20M2274 265q5-31-15-56M2257 250q5 11 17 15M2232 230q18-5 27-21M2255 201q-20 28-13 61M2265 240q-5-13-18-19M2281 227q-21-15-46-9M2245 251q-2-13-13-21M2257 250q10-12 9-27M2272 208q-28-5-51 13M2232 230q13 6 26 1M2255 201q-14 4-20 17M2317 278q1 11 10 17M2325 305q25 9 48-3M2317 278q24-5 36-25M2362 316q6-23-7-43M2379 314q-24-10-47 0M2332 314q21-15 23-41M2342 305q23 5 43-8M2361 295q-25-15-53-6M2342 305q-17 1-27 14M2362 316q26-26 25-62M2385 297q-21 8-30 29M2317 278q-7 4-9 11M2317 278q37-3 60-32M2355 305q10-26-2-52M2373 302q-3-18-18-29M2342 305q22-7 32-29M2325 305q43-2 70-35M2349 293q-11-4-22 2M2317 278q9 25 33 36M2361 295q9-16 3-33M2350 314q-14-1-25 9M2361 295q16 13 37 10M2327 260q27 28 66 27M2327 295q40 2 68-25M2342 305q20-17 22-43M2317 278q-6 24 8 45M2355 305q-6-3-13 0M2379 314q-10-10-24-9M2325 305q31-4 49-29M2349 293q-5-9-15-11M2332 314q19-3 29-19M2364 262q-9 16-3 33M2342 305q20-17 22-43M2327 295q40 2 68-25M2379 314q13-10 14-27M2361 295q-20-3-36 10M2332 314q19-3 29-19M2350 314q-9-25-33-36M2364 262q10-5 13-16M2361 295q-3-23-21-36M2342 305q28 12 56 0M2379 314q-30-28-71-25M2325 305q2 6 7 9M2327 260q-16 10-19 29M2327 295q19-5 28-22M2332 314q8-16 2-32M2373 302q-21-14-46-7M2327 295q11 4 22-2M2317 278q8 32 38 48M2332 314q21-37 8-77M2364 262q-6-18-24-25M2349 293q28-11 38-39M2350 314q15-30 3-61M2317 278q14 29 45 38M2355 305q24-25 22-59M2385 297q-21-31-58-37M2325 305q22-31 15-68M2327 295q26-30 21-69M2373 302q-14 8-18 24M2350 314q4-11-1-21M2373 302q-15-19-39-20M2364 262q-15-18-39-19M2355 305q-13-1-23 9M2373 302q-7-29-33-43M2362 316q16-33 3-68M2332 314q21-37 8-77M2325 305q8 4 17 0M2385 297q9-35-11-65M2349 293q6 4 12 2M2332 314q19-3 29-19M2373 302q-23-24-56-24M2342 305q30-22 35-59M2327 260q14 31 46 42M2362 316q23-32 15-70M2361 295q-27-6-49 10M2379 314q22-36 11-77M2362 316q23-32 15-70M2350 314q4-11-1-21M2325 305q8 4 17 0M2325 305q43-2 70-35M2317 278q8 32 38 48M2379 314q18-18 16-44M2342 305q-5-8-15-10M2327 295q14-15 13-36M2361 295q18 3 32-8M2350 314q32-22 37-60M2364 262q-19 3-30 20M2349 293q16-3 25-17M2342 305q2 6 8 9M2355 305q-5 10 0 21M2355 305q-23-2-40 14M2342 305q17 13 37 9M2332 314q39-32 42-82M2385 297q-32-9-60 8M2332 314q-7-30-34-45M2350 314q10-7 11-19M2332 314q41-18 55-60M2379 314q7-7 6-17M2379 314q8-36-14-66M2332 314q19-3 29-19M2361 295q22-15 26-41M2364 262q-35-11-66 7M2325 305q31-4 49-29M2327 260q9 25 34 35M2361 295q22-15 26-41M2385 297q-6-29-32-44M2379 314q-15-26-45-32M2317 278q13 15 32 15M2327 260q-9 38 13 70M2362 316q27-16 33-46M2332 314q41-18 55-60M2355 305q5-4 6-10M2327 295q-7 14-2 28M2349 293q23 7 44-6M2332 314q0 10 8 16M2373 302q-7-29-33-43M2325 305q10 17 30 21M2317 278q39-10 57-46M2327 295q19-5 28-22M2349 293q-4 18 6 33M2327 295q-8-7-19-6M2361 295q-19 3-29 19M2342 305q12-1 19-10M2350 314q10-7 11-19M2385 297q-30-3-53 17M2325 305q36 16 73 0M2327 260q-15 31-2 63M2327 260q4 29 28 45M2349 293q-15 1-24 12M2355 305q23-1 38-18M2317 278q21-15 23-41M2327 295q8-18 0-35M2317 278q20 6 38-5M2355 305q33 2 56-21M2317 278q16-4 23-19M2325 305q10 17 30 21M2124 504q14-12 15-30M2144 491q3 22 21 35M2173 492q-20-11-42-3M2173 492q-20-11-42-3M2133 523q26 1 44-17M2165 526q11-15 8-34M2133 523q13-14 11-32M2133 523q27-7 40-31M2153 475q4 5 11 6M2142 508q13-14 11-33M2173 492q-27 7-40 31M2144 491q3 22 21 35M2177 506q-15 2-23 15M2165 526q3-17-8-30M2154 521q15-2 23-15M2133 523q32-14 43-47M2173 492q-27-5-49 12M2142 508q6-18-3-34M2144 491q5 5 13 5M2131 489q-1 25 16 43M2142 508q9 4 18 1M2164 481q-4-5-11-6M2173 492q-2-7-9-11M2147 532q20-22 17-51M2133 523q21-20 20-48M2177 506q-9-2-17 3M2173 492q-9-2-16 4M2147 532q3-13-5-24M2153 475q-5 28 12 51M2153 475q-13 14-11 33M2154 521q-11-4-21 2M2177 506q-8-9-20-10M2164 481q-9 23 1 45M2142 508q3 9 12 13M2164 481q-14 18-10 40M2177 506q-18-7-35 2M2153 475q-16 27-6 57M2133 523q0-11-9-19M2164 481q-14 18-10 40M2173 492q-16 10-19 29M2165 526q-10-1-18 6M2147 532q9-31-8-58M2142 508q-1-12-11-19M2144 491q12-1 20-10M2164 481q1 15 13 25M2173 492q-6-13-20-17M2154 521q2-17-10-30M2133 523q15 9 32 3M2133 523q18-8 24-27M2153 475q11 6 23 1M2124 504q14-12 15-30M2160 509q8-13 4-28M2157 496q-4-15-18-22M2164 481q-25 3-40 23M2177 506q-26-13-53-2M2142 508q-10-19-30-24M2153 475q-12-9-27-7M2222 437q7 9 18 11M2222 437q-1-7-7-11M2233 473q-8-11-21-13M2215 475q9-8 10-20M2225 455q-16 7-22 24M2234 432q-4 26 13 46M2225 455q2-10-3-18M2234 432q-26 17-31 47M2206 447q8 19 27 26M2212 460q17-9 22-28M2215 475q15 9 32 3M2233 473q1-27-18-47M2233 473q1-27-18-47M2241 463q-6-8-16-8M2225 455q1-17-10-29M2240 448q-17 0-28 12M2206 447q8 8 19 8M2212 460q14 8 29 3M2234 432q-17 9-22 28M2215 475q2-16-9-28M2215 475q12-17 7-38M2222 437q-16-3-29 7M2215 475q9-8 10-20M2225 455q-8 0-13 5M2212 460q-2 8 3 15M2206 447q8 8 19 8M2233 473q-8-19-27-26M2234 432q-10 20-1 41M2225 455q-7 14-1 29M2206 447q-12 8-14 23M2212 460q8 11 21 13M2206 447q-9 15-3 32M2240 448q-16 14-16 36M2241 463q-13 7-17 21M2241 463q-6 3-8 10M2234 432q-17 9-22 28M2234 432q-1 9 6 16M2212 460q-9 8-9 19M2241 463q-4-17-19-26M2215 475q3 6 9 9M2206 447q-6-4-13-3M2222 437q-10 9-10 23M2206 447q1-10-5-17M2241 463q-20-20-48-19M2240 448q-8-16-25-22M2215 475q-4-20-22-31M2183 429q-8-10-21-11M2177 437q12 11 29 10M2201 430q-22-1-38 14M2201 430q-2-8-10-12M2193 444q-2-10-10-15M2201 430q-17-15-39-12M2176 412q6 6 15 6M2187 409q0 5 4 9M2176 412q-7 23 6 44M2187 409q-6-1-11 3M2177 437q11-6 14-19M2193 444q6 4 13 3M2187 409q-5 19 6 35M2176 412q-5 13 1 25M2201 430q-1 10 5 17M2191 418q-5 13 2 26M2177 437q-2 11 5 19M2177 437q-6-9-17-10M2201 430q-20-11-41-3M2177 437q5-13-1-25M2187 409q-20 12-24 35M2177 437q-9 0-14 7M2193 444q-6-7-16-7M2176 412q0 10 7 17M2183 429q9 4 18 1M2183 429q6-9 4-20M2187 409q-20 12-24 35M2193 444q-1-20-17-32M2187 409q0 5 4 9M2187 409q1 23 19 38M2176 412q9 14 25 18M2183 429q9 4 18 1M2177 437q5-3 6-8M2191 418q-11 6-14 19M2187 409q1 23 19 38M2332 314q7-2 10-9M2397 217q-9-9-21-8M2297 496q3-15-6-27M2204 275q5 13 18 19M2139 388q-7-4-14-1M2461 548q7 6 16 4M2133 523q11 4 21-2M2142 323q1 8 7 13M2560 459q13-6 18-20M2409 426q-8 11-6 24M2395 510q-3 9 1 17M2457 487q-5-5-12-5M2528 447q13-7 17-21M2365 554q13 2 24-6M2232 497q-4-15-17-22M2334 568q-6 1-9 6M2514 480q11 4 21-2M2456 256q-5-10-16-13M2452 342q-7 14-1 28M2227 580q9 8 21 6M2412 353q-10 5-13 16M2151 432q6-1 9-5M2392 558q-13-8-27-4M2411 284q14-6 19-20M2441 217q-13-5-25 1M2551 305q-1-12-11-19M2429 466q10-6 13-18M2182 456q2-11-5-19M2580 399q-8-4-16-1M2133 523q5 8 14 9M2482 352q-3-13-14-20M2455 316q15-4 23-18M2395 466q12 1 21-8M2373 302q-4-6-12-7M2248 349q-9 1-15 9M2478 481q0-8-6-14M2258 231q12 3 23-4M2445 482q12-9 14-25M2172 270q15-4 22-18M2468 332q4-7 2-14M2207 539q10 9 24 8M2221 221q6 14 21 19M2265 321q10 11 25 11M2260 485q10-9 10-22M2441 217q10 0 17-7M2457 285q-1 9 5 16M2160 287q15 0 25-11M2432 478q15 4 28-4M2494 417q-15-2-27 7M2464 507q1-12-7-20M2206 491q12 9 26 6M2385 568q-9 4-12 13M2255 201q0 5 4 8M2342 408q-8-4-17-1M2224 238q-5-10-16-13M2493 236q-3-7-10-9M2284 320q0 7 6 12M2353 195q-8 0-13 5M2397 217q-15 2-23 15M2353 195q13 4 24-3M2420 413q-10-3-20 2M2224 345q-3-10-12-14M2570 485q7-11 3-24M2382 598q-7-5-16-3M2315 600q0 8 5 13M2251 517q7-8 6-18M2570 380q-11-7-23-3M2172 343q-4-14-17-20M2495 514q8-2 13-9M2475 535q10 3 19-3M2325 393q-14-2-25 6M2471 381q2-6 0-11M2507 591q-13 5-18 17M2440 620q-10 0-17 7M2449 526q1-7-3-13M2271 502q-1 7 3 12M2421 611q6 2 11-1M2355 305q-5 10 0 21M2520 286q9-2 13-10M2468 332q-3-11-13-16M2396 189q-6 14 1 28M2394 493q-9 5-11 15M2570 485q7-11 3-24M2271 587q-10 3-15 12M2308 537q-5-7-13-9M2207 539q-12-4-23 3M2214 501q-5 10-1 21M2381 401q-12-9-27-6M2432 411q-6-2-12 2M2373 611q-11 2-18 11M2519 580q0-11-9-19M2364 262q4-7 1-14M2556 483q13-7 17-22M2251 371q10 0 17-7M2483 227q-5-5-12-5M2362 316q9 3 17-2M2355 349q-7-3-14 0M2176 584q5-9 2-18M2239 523q-3 7 1 14M2327 260q-1 13 7 22M2556 483q-2 14 7 25M2227 313q10-10 10-25M2560 459q-2-11-11-17M2327 524q-11 10-11 24M2113 466q6 4 13 2M2185 520q14 7 28 2M2551 305q-1 5 1 9M2221 221q4 7 11 9M2301 457q14 2 24-7M2510 561q2-8-3-14M2563 508q-14 6-19 20M2508 505q2-8-2-15M2505 470q2 7 9 10M2563 508q9-10 7-23M2373 526q3 15 16 22M2519 545q0 14 10 24M2442 594q10-8 11-21M2420 413q0 6 5 10M2385 447q1-7-3-13M2131 489q-7 6-7 15M2251 517q-13-9-28-5M2292 621q9 9 22 9M2419 239q-3 6-1 13M2556 517q-6-6-14-6M2519 321q1 15 13 25M2225 455q-8-8-19-8M2395 510q5 11 16 14M2227 580q-7-10-19-11M2148 283q7-5 8-13M2315 600q-6 3-9 9M2334 568q5-4 5-10M2493 236q4 12 16 17M2104 396q5 4 12 3M2365 464q1 8 8 12M2222 594q6-6 5-14M2296 309q7 9 19 10M2304 373q10 8 22 6M2225 455q-8 0-13 5M2485 492q-1-15-13-25M2437 344q2 7 8 10M2365 464q6 14 20 20M2376 327q-5-9-14-11M2139 474q-7 6-8 15M2506 519q-6 14 1 28M2290 332q0-7-6-12M2202 364q-5-7-13-8M2190 373q5 5 13 5M2365 542q8-6 8-16M2130 420q2-8-2-15M2387 254q-11 8-13 22M2203 378q9-8 10-20M2157 496q3-11-4-21M2420 296q8-4 11-12M2295 213q-6 12-2 24M2379 314q-4 6-3 13M2371 451q-6 5-6 13M2303 550q1-13-8-22M2540 286q-2-14-14-21M2319 647q2 6 8 9M2355 622q-6-10-18-12M2208 225q5 10 16 13M2237 399q3-14-5-25M2227 420q-9-7-21-5M2456 235q-10 0-16 8M2386 341q-10-7-21-4M2269 559q-4 9 0 18M2446 513q11-11 11-26M2337 579q1-6-3-11M2457 285q11-10 11-25M2494 353q-8 8-8 19M2366 432q-1-9-9-15M2281 247q15 4 28-5M2309 242q-7-6-16-5M2505 470q9-13 6-28M2529 417q9 3 17-1M2146 446q-12 0-21 9M2456 360q2-10-4-18M2419 239q-9 2-14 11M2392 622q0-14-10-24M2519 463q-11-8-25-6M2312 305q6 3 13 0M2298 325q-6-6-14-5M2376 209q14-6 20-20M2136 335q1 9 9 14M2244 491q-8 8-7 20M2378 651q-15-2-26 7M2155 354q3-5 2-11M2304 373q-12 0-21 9M2545 426q0-9-7-14M2361 295q-10 7-11 19M2130 420q-4 14 3 26M2542 488q0-14-11-24M2428 582q-3 7 1 14M2330 640q-14 0-23 10M2541 321q-8 4-10 12M2527 531q-14 4-20 16M2395 270q0-10-8-16M2337 509q12 9 27 7M2440 243q-2 9 4 16M2451 585q-11-7-23-3M2247 478q-4 6-3 13M2201 430q-2-8-10-12M2201 430q-7 5-8 14M2139 388q2-8-3-15M2558 431q-13-8-28-4M2248 586q-5 12 1 24M2332 314q-2-6-7-9M2571 428q-8 6-8 16M2531 309q9 7 21 5M2485 437q-10-3-19 3M2176 412q-8 0-14 6M2481 518q8 1 14-4M2287 201q5-6 4-14M2479 392q3 10 13 14M2403 450q-7-13-21-16M2318 350q-12 8-14 23M2367 640q-8-3-16 2M2531 309q-5 12 0 24M2279 643q10 1 17-6M2325 218q3 13 15 19M2348 226q-1-8-8-13M2334 282q-8-6-17-4M2466 411q14 3 26-5M2469 492q10 10 24 10M2382 434q-8 13-3 28M2325 480q-3 6 0 13M2513 275q-9-8-22-7M2200 292q-9 1-14 8M2340 330q-4 10 1 19M2531 309q-13 9-15 24M2432 553q0 15 11 26M2484 250q0 11 7 18M2193 508q-8-5-16-2M2341 483q13 1 22-7M2269 559q13-1 22-11M2311 475q-4 10 0 19M2579 413q4-7 1-14M2325 243q-1-7-6-11M2271 587q-4 12 2 23M2249 610q12 5 24 0M2288 407q7-8 6-18M2402 646q12 3 22-4M2209 592q12-2 18-12M2154 365q-1-10-9-16M2341 483q0-9-7-15M2206 415q1-7-4-13M2510 532q-13 3-20 14M2406 314q-3 8 2 16M2203 378q-5-5-13-5M2509 295q8 12 22 14M2487 569q-11-8-25-6M2494 320q-10-1-17 6M2117 357q0 10 7 16M2252 322q15-1 24-13M2442 448q7-2 10-8M2542 541q4-6 2-13M2368 182q2 7 9 10M2556 483q-5 7-3 16M2308 259q-7 3-10 10M2494 480q8-3 11-10M2458 210q-14 5-20 18M2341 599q6 10 17 13M2279 643q10 1 17-6M2298 325q14 5 27-2M2373 526q15-3 22-16M2379 314q-12 8-14 23M2225 455q2-10-3-18M2579 413q-7 6-8 15M2213 358q5-14-1-27M2185 276q-15 0-25 11M2347 630q10 4 19-1M2366 629q-8 12-5 26M2327 260q15 2 26-7M2144 491q1-10-5-17M2567 343q-10 10-9 24M2547 332q-6 12-2 24M2304 373q-10-9-24-7M2247 221q-9 1-15 9M2411 615q13-6 18-19M2493 502q-2-7-8-10M2258 530q-11 0-18 7M2206 491q-10 6-13 17M2279 429q-9-10-22-11M2198 559q-3-12-14-17M2355 349q-7-3-14 0M2470 318q2 6 7 8M2354 395q-5-7-13-8M2328 361q-3-8-10-11M2528 296q7-9 5-20M2340 330q-4 10 1 19M2317 278q-7 4-9 11M2171 396q-9-3-18 2M2270 463q-5-7-13-9M2313 457q8-1 12-7M2481 518q10-5 12-16M2285 520q4-7 1-14M2130 356q-7-2-13 1M2465 524q3 8 10 11M2445 482q12-9 14-25M2545 356q4 8 13 11M2419 310q4-7 1-14M2189 356q-10-4-19 1M2427 434q1-12-7-21M2505 396q-12-8-26-4M2130 356q-13 5-18 17M2150 307q9-8 10-20M2411 284q2 8 9 12M2150 559q4-14-3-27M2325 407q3-7 0-14M2442 402q6-14 0-27M2224 345q11 7 24 4M2573 461q-6-4-13-2M2447 329q-8 5-10 15M2265 321q10 4 19-1M2234 432q-8-7-19-6M2432 610q7 14 22 18M2274 514q8-9 7-21M2162 573q14-5 19-19M2224 278q4 8 13 10M2245 251q6 2 12-1M2327 204q5 7 13 9M2400 415q-13 6-18 19M2126 346q13-8 16-23M2215 426q-8-1-14 4M2358 612q-6-10-17-13M2296 637q11 0 18-7M2356 455q-14 2-22 13M2395 652q5-1 7-6M2308 537q1 13 11 22M2381 401q-12-9-27-6" fill="none" stroke="#4450a8" stroke-width="0.55" stroke-opacity="0.66" stroke-dasharray="2.2 0.9"/>
<path d="M2304 373q36-12 51-47M2298 366q8 19 27 27M2298 366q6 37 37 57M2304 373q-9 6-10 16M2304 373q17 34 53 44M2304 373q19-32 8-68M2304 373q-20 24-15 55M2298 366q-11 5-15 16M2304 373q-32 20-39 57M2304 373q17-25 11-54M2298 366q-4 39 21 68M2298 366q21-9 28-30M2304 373q28 17 60 7M2298 366q-41-23-85-8M2298 366q11 13 28 13M2304 373q-6-15-22-21M2298 366q-14 18-10 41M2304 373q-39-2-67 26M2304 373q27-14 36-43M2304 373q2-31-20-53M2304 373q10-14 7-31M2298 366q8 19 27 27M2298 366q-19 1-31 16M2298 366q34 13 67-3M2298 366q43 11 80-13M2298 366q-21-20-50-17M2304 373q6 15 21 20M2298 366q21-9 28-30M2298 366q51 14 95-14M2298 366q8 19 27 27M2304 373q24 27 61 28M2298 366q-6 31 13 56M2298 366q-25-8-47 5M2304 373q24-4 37-24M2304 373q24-4 37-24M2304 373q15 15 37 14M2304 373q40-23 51-68M2298 366q24 11 48 1M2304 373q9 37 43 56M2298 366q-32 17-41 52M2304 373q34-26 38-68M2298 366q34 36 83 35M2298 366q-1 21 13 36M2298 366q17 20 43 21M2304 373q34-26 38-68M2304 373q-16-12-36-9M2298 366q-25-8-47 5M2298 366q26 32 67 35M2304 373q12-8 14-23M2304 373q-25-31-64-34M2304 373q-17 32-5 66M2298 366q-11 5-15 16M2304 373q20-41 4-84M2298 366q6 37 37 57M2298 366q-6 17 2 33M2304 373q-33 12-47 45M2304 373q20-41 4-84M2298 366q4 26 27 41M2304 373q-11 39 10 73M2304 373q36-12 51-47M2298 366q-35-11-66 8M2298 366q-19 46 3 91M2298 366q-25 39-13 83M2298 366q24 11 48 1M2298 366q42-18 57-61M2304 373q27-14 36-43M2304 373q-44-15-85 7M2304 373q-26-13-53-2M2298 366q43 11 80-13M2304 373q28 17 60 7M2298 366q8 19 27 27M2304 373q-3 16 7 29M2298 366q-32 17-41 52M2298 366q-7-30-33-45M2298 366q38 20 79 6M2298 366q26 32 67 35M2304 373q12-46-14-86M2298 366q-23 27-19 63M2304 373q15 15 37 14M2298 366q42-18 57-61M2304 373q-11 19-5 40M2304 373q-44-15-85 7M2304 373q42-16 58-57M2298 366q-14 18-10 41M2298 366q23-16 27-43M2298 366q3-19-8-34M2298 366q-13-32-46-44M2298 366q24 11 48 1M2298 366q-11 5-15 16M2298 366q5-10 1-21M2298 366q-18 29-9 62M2304 373q-16-12-36-9M2304 373q-17 32-5 66M2298 366q16 4 30-5M2304 373q-11-19-32-24M2304 373q2 41 33 67M2304 373q-26-39-72-46M2304 373q12-46-14-86M2298 366q-21-20-50-17M2304 373q10 8 22 6M2298 366q-34 32-33 78M2304 373q-11 39 10 73M2298 366q-32 17-41 52M2304 373q36-19 46-59M2298 366q-1-40-31-66M2298 366q-4-19-21-28M2298 366q25 1 43-17M2304 373q27-14 36-43M2298 366q34 13 67-3M2298 366q43 11 80-13M2298 366q-9-4-18 0M2298 366q-23 27-19 63M2304 373q-20 24-15 55M2298 366q-38 12-55 49M2304 373q9 37 43 56M2298 366q-38 12-55 49M2298 366q-13-32-46-44M2304 373q0-38-28-64M2298 366q13-41-8-79M2304 373q-20-4-37 9M2304 373q-33 12-47 45M2298 366q9-20 0-41M2304 373q9 37 43 56M2304 373q24 27 61 28M2304 373q10-34-8-64M2304 373q-40 14-57 54M2298 366q17 20 43 21M2298 366q-6 31 13 56M2298 366q-1 21 13 36M2304 373q-44-15-85 7M2304 373q-10-9-24-7M2298 366q-38-4-67 22M2298 366q23-16 27-43M2298 366q34 36 83 35M2298 366q40 0 67-29M2304 373q4-47-28-82M2304 373q28 17 60 7M2298 366q-31-18-65-8M2304 373q-8-35-39-52M2298 366q16 4 30-5M2304 373q-26-39-72-46M2298 366q34 36 83 35M2298 366q14-4 20-16M2298 366q-5-11-16-14M2298 366q-31-18-65-8M2304 373q42-16 58-57M2298 366q-13-32-46-44M2304 373q2-24-14-41M2304 373q-35 27-39 71M2304 373q11 26 38 35M2304 373q6 15 21 20M2304 373q-34-32-80-28M2304 373q-3 16 7 29M2298 366q22-36 10-77M2304 373q-23-24-56-24M2304 373q-6-15-22-21M2304 373q-12 0-21 9M2298 366q-21-20-50-17M2304 373q4-15-5-28M2304 373q-25 22-25 56M2304 373q-10-9-24-7M2304 373q-17 32-5 66M2298 366q29-40 19-88M2298 366q12-29-2-57M2298 366q17 20 43 21M2298 366q-14 18-10 41M2298 366q-39 19-51 61M2365 337q11 14 28 15M2365 337q-26-4-47 13M2365 337q-6 13 0 26M2355 349q11-15 7-33M2355 349q-6 28 10 52M2355 349q-23-25-57-24M2365 337q-51 4-82 45M2365 337q11 14 28 15M2355 349q-21-33-59-40M2365 337q-16 11-19 30M2365 337q27 16 57 6M2365 337q-6 13 0 26M2355 349q11 7 23 4M2355 349q-11 23-1 46M2365 337q-6 36 16 64M2355 349q5-19-5-35M2355 349q-25 15-30 44M2365 337q-2-15-15-23M2355 349q-2-33-28-54M2355 349q-7-3-14 0M2355 349q11-15 7-33M2365 337q-35-11-66 8M2355 349q28 15 57 4M2365 337q-35 26-40 70M2355 349q-19 27-13 59M2365 337q-29 42-18 92M2365 337q24-9 33-32M2365 337q25 31 65 33M2355 349q17 3 31-8M2355 349q26-19 30-52M2355 349q4-38-21-67M2365 337q30-27 30-67M2355 349q-20-13-44-7M2355 349q24-42 9-87M2355 349q-22 38-8 80M2355 349q-4 42 25 73M2365 337q2-26-16-44M2355 349q11 7 23 4M2355 349q-2-33-28-54M2365 337q14 0 24-11M2355 349q3-25-13-44M2355 349q9-29-6-56M2355 349q-7-3-14 0M2365 337q2-26-16-44M2355 349q20-12 24-35M2365 337q8-3 11-10M2365 337q-19-9-39-1M2365 337q8-3 11-10M2365 337q-16 11-19 30M2355 349q-32-4-57 17M2355 349q38 23 80 11M2365 337q-24 4-37 24M2355 349q-26 33-20 74M2355 349q-19 27-13 59M2355 349q33-6 51-35M2355 349q5-19-5-35M2365 337q-36-19-75-5M2365 337q-10 21-1 43M2365 337q19-16 20-40M2355 349q11 7 23 4M2355 349q5-12 0-23M2365 337q-35 26-40 70M2365 337q10 23 34 32M2355 349q-16 0-27 12M2365 337q-23 20-24 50M2365 337q10 23 34 32M2355 349q8 25 31 36M2355 349q-41-8-75 17M2365 337q0 29 21 48M2355 349q-41-8-75 17M2355 349q-25 15-30 44M2355 349q3-25-13-44M2365 337q-29 42-18 92M2365 337q12-8 14-23M2365 337q-22 38-8 80M2365 337q-2-15-15-23M2355 349q17 3 31-8M2365 337q-16 11-19 30M2355 349q5-19-5-35M2355 349q33-23 38-62M2355 349q-39 7-61 40M2365 337q-35-11-66 8M2355 349q-13-24-40-30M2355 349q-37-15-73 3M2365 337q32 7 59-11M2365 337q-2 20 12 35M2355 349q23 24 56 24M2365 337q0 47 35 78M2365 337q25-19 28-50M2355 349q-19-8-37 1M2365 337q-23 20-24 50M2355 349q5-19-5-35M2365 337q-3-34-31-55M2355 349q8 25 31 36M2355 349q24-42 9-87M2365 337q-11 46 15 85M2355 349q-37-15-73 3M2355 349q-5-29-30-44M2365 337q30 27 70 23M2365 337q18-29 9-61M2355 349q32 19 68 8M2365 337q14 0 24-11M2355 349q42 16 82-5M2365 337q-35 26-40 70M2365 337q-19-28-53-32M2355 349q6 16 22 23M2355 349q6 16 22 23M2365 337q-22 38-8 80M2365 337q-16 11-19 30M2355 349q-32-4-57 17M2355 349q-15 16-14 38M2355 349q17 3 31-8M2365 337q25-19 28-50M2365 337q-45-11-83 15M2355 349q-23-25-57-24M2355 349q-8 7-9 18M2395 466q-23-26-58-26M2356 455q3-27-14-47M2382 434q4 27 27 42M2366 432q-2 11 5 19M2356 455q18-5 26-21M2379 462q-24-18-54-12M2395 466q14-24 5-51M2385 447q8-24-4-46M2379 462q25 3 45-13M2382 434q9 0 14-7M2385 447q-30-1-51 21M2379 462q-11 3-16 14M2385 447q-16-2-29 8M2356 455q4 14 17 21M2379 462q-2-7-8-11M2366 432q-14-11-31-9M2382 434q-9 6-11 17M2382 434q18 17 42 15M2356 455q-14 11-15 28M2379 462q-11 3-16 14M2385 447q1 12 10 19M2366 432q-14 32 0 63M2395 466q7-36-14-65M2385 447q-22 0-37 16M2395 466q-15-8-30-2M2379 462q-16 1-27 13M2356 455q33 5 58-16M2379 462q14-30 2-61M2382 434q22 10 45 0M2371 451q2 26 23 42M2395 466q-14-41-53-58M2366 432q-10 9-10 23M2382 434q-8 13-3 28M2356 455q35 12 68-6M2395 466q-31 4-49 29M2366 432q-2 11 5 19M2385 447q-12 12-12 29M2366 432q-2 11 5 19M2379 462q14-30 2-61M2371 451q-14 1-23 12M2371 451q14 21 38 25M2356 455q16 2 29-8M2371 451q-22 9-30 32M2382 434q7 13 21 16M2379 462q-16-6-31 1M2379 462q19 6 37-4M2371 451q-8-1-15 4M2356 455q1-15-9-26M2379 462q-24-18-54-12M2385 447q24 3 42-13M2379 462q0-18-13-30M2382 434q-8-5-16-2M2382 434q-32-5-57 16M2356 455q22 22 53 21M2371 451q-6 5-6 13M2385 447q-31-12-60 3M2385 447q6 20 24 29M2366 432q6 12 19 15M2371 451q9-6 11-17M2379 462q-2-7-8-11M2382 434q-14-22-40-26M2395 466q-2 8 2 15M2385 447q-17 10-22 29M2356 455q4 14 17 21M2379 462q-16 1-27 13M2366 432q16 4 30-5M2385 447q-17 10-22 29M2366 432q-24 11-32 36M2385 447q-16-9-33-4M2371 451q-14-7-29-1M2379 462q-2 12 6 22M2356 455q25 8 47-5M2379 462q5 13 18 19M2385 447q24 3 42-13M2371 451q-14 1-23 12M2379 462q-16-14-37-12M2366 432q-24 11-32 36M2379 462q1 19 15 31M2395 466q12 1 21-8M2366 432q6 12 19 15M2356 455q-4 22 10 40M2356 455q-1 12 7 21M2385 447q17-5 24-21M2366 432q-10 9-10 23M2379 462q-10-9-23-7M2371 451q22-12 29-36M2371 451q2 7 8 11M2385 447q15-13 15-32M2395 466q24-15 30-43M2366 432q19 24 50 26M2385 447q17-5 24-21M2382 434q15 10 32 5M2356 455q29 15 60 3M2356 455q15 22 41 26M2371 451q0 20 14 33M2356 455q18-5 26-21M2371 451q2-11-5-19M2395 466q-13 0-22 10M2382 434q-8-5-16-2M2385 447q-8-1-14 4M2379 462q-16-6-31 1M2382 434q-21-16-47-11M2379 462q25 3 45-13M2366 432q-14-11-31-9M2356 455q24-22 25-54M2371 451q16 7 32-1M2379 462q21-19 21-47M2379 462q-2 12 6 22M2371 451q14 21 38 25M2382 434q-8-5-16-2M2379 462q6-6 6-15M2385 447q6 20 24 29M2371 451q22-12 29-36M2395 466q-9 7-10 18M2385 447q-15-17-38-18M2382 434q-16-10-35-5M2385 447q15-13 15-32M2371 451q-6 5-6 13M2395 466q-7-23-29-34M2356 455q15 22 41 26M2371 451q6 21 26 30M2366 432q1 37 28 61M2356 455q33-3 53-29M2366 432q-16 12-18 31M2385 447q-22-8-43 3M2385 447q19 10 39 2M2382 434q7 13 21 16M2371 451q33-2 54-28M2139 388q-14 0-23 11M2139 388q13 20 37 24M2153 386q14 6 27 0M2139 388q26-15 33-45M2153 386q4-20-8-37M2153 386q14 33 48 44M2153 398q-8 8-8 20M2153 398q-5-8-14-10M2139 388q7 2 14-2M2139 388q-22 30-14 67M2153 386q-11 23-2 46M2153 386q14 33 48 44M2153 386q7 9 18 10M2139 388q13-8 15-23M2139 388q26-15 33-45M2153 398q-27 22-28 57M2153 386q-5-20-23-30M2153 386q-17 28-7 60M2139 388q26-3 42-25M2139 388q-14 34 1 68M2153 386q-6-10-17-13M2139 388q-15 21-9 46M2139 388q34 9 64-10M2139 388q7 2 14-2M2153 398q-19 13-23 36M2139 388q26-15 33-45M2139 388q3-18-9-32M2153 398q7-26-8-49M2153 398q10 32 40 46M2153 398q3-6 0-12M2139 388q14 11 32 8M2139 388q-7-4-14-1M2153 386q21 2 37-13M2139 388q-10-13-27-15M2153 386q6 18 23 26M2153 386q-11 23-2 46M2153 386q1 12 11 20M2153 386q-11 14-8 32M2139 388q28 28 67 27M2153 398q22 1 38-14M2153 386q8-16 2-32M2139 388q15-13 16-34M2139 388q-4-20-22-31M2153 386q-31 6-47 32M2139 388q-19-4-35 8M2153 386q29 0 49-22M2153 398q-5-8-14-10M2153 386q-11 23-2 46M2153 398q-24-12-49-2M2139 388q-7-4-14-1M2153 386q-31 6-47 32M2153 398q8 22 30 31M2153 386q-3 18 9 32M2153 398q-3 16 7 29M2153 398q-21 20-20 48M2153 386q14 6 27 0M2153 398q3-6 0-12M2153 398q-3 16 7 29M2153 398q-14-2-25 7M2139 388q-16 28-6 58M2153 398q-9-28-36-41M2153 398q32-6 49-34M2139 388q29 4 51-15M2139 388q-10-13-27-15M2153 398q36-14 50-49M2153 398q-3-16-17-25M2153 398q27-13 36-42M2139 388q-23 8-33 30M2139 388q-22 30-14 67M2153 398q-19-8-37 1M2153 386q21 19 49 16M2153 398q29 1 50-20M2153 386q-23 26-20 60M2153 386q1 12 11 20M2153 398q22-11 28-35M2153 398q-26 15-33 44M2153 398q8 12 23 14M2153 398q23 20 53 17M2153 398q-5 25 10 46M2153 386q3-29-17-51M2153 398q22-11 28-35M2139 388q3-18-9-32M2153 398q-9-19-29-25M2153 398q32-6 49-34M2153 386q-29 28-28 69M2153 398q12-32-4-62M2153 398q4 6 11 8M2139 388q19-19 18-45M2139 388q-4-20-22-31M2153 398q15-5 21-20M2153 398q-16 6-23 22M2153 398q24 13 49 4M2153 398q3-6 0-12M2139 388q21 8 41-2M2153 398q5-35-17-63M2139 388q26-3 42-25M2153 386q-7-2-14 2M2153 386q-31 6-47 32M2153 398q-12-12-28-11M2153 386q15-31 2-63M2139 388q-9 6-11 17M2139 388q-4-11-15-15M2153 398q29 1 50-20M2153 386q19-17 19-43M2153 398q11-22 2-44M2153 386q14 6 27 0M2139 388q13-8 15-23M2515 355q-2-29-24-47M2515 374q10-20 1-41M2515 374q-31-16-64-4M2515 355q-16-9-33-3M2515 355q-13-23-38-29M2515 355q19 15 43 12M2515 355q-12-17-32-19M2515 355q-18 2-29 17M2515 355q-41-6-73 20M2515 374q4-10 0-19M2515 355q-35-7-64 15M2515 374q9-1 14-9M2515 355q-4-17-20-25M2515 355q22 25 55 25M2515 355q-10-6-21-2M2515 355q-9 1-14 8M2515 355q-8-12-22-15M2515 374q-21-12-44-4M2515 355q8 14 23 17M2515 374q-8-26-32-38M2515 374q-16 0-27 12M2515 374q31 12 61-3M2515 355q-8-12-22-15M2515 355q29-17 36-50M2515 374q-16 0-27 12M2515 355q-10-6-21-2M2515 374q33-4 52-31M2515 355q-9 1-14 8M2515 355q5 8 14 10M2515 355q9-16 4-34M2515 374q-8-32-38-48M2515 355q-16 26-8 56M2515 374q9-1 14-9M2515 355q-1 18 12 30M2515 355q-16 26-8 56M2515 355q-9 1-14 8M2515 355q0-10-8-16M2515 374q4-10 0-19M2515 355q19-27 13-59M2515 355q-10-6-21-2M2515 355q20-11 26-34M2515 374q31 12 61-3M2515 374q13 28 43 38M2515 374q-11-2-19 5M2515 355q21-4 32-23M2515 355q28-12 37-41M2515 355q19-27 13-59M2515 355q5 27 28 41M2515 374q26 15 55 6M2515 374q15 9 32 3M2515 355q11 18 32 22M2515 355q-35-16-70-1M2515 355q22 25 55 25M2515 374q-12-18-33-22M2515 355q-34-1-58 24M2515 374q-24-30-63-32M2515 355q-24 26-21 62M2515 355q22 25 55 25M2515 374q4 8 12 11M2515 355q5-11 1-22M2515 374q25-4 39-26M2515 355q-14 18-10 41M2515 355q-21 35-9 73M2515 355q11 18 32 22M2515 355q-23-11-47-1M2515 374q34-11 49-43M2515 374q-22 1-36 18M2515 355q-3-22-21-35M2515 374q4-10 0-19M2515 355q-4 10 0 19M2515 374q7-32-11-59M2515 355q24 14 50 6M2515 374q-28 14-37 44M2515 374q25-14 32-42M2515 374q23 6 43-7M2515 374q-21-12-44-4M2515 355q24 14 50 6M2515 374q33-4 52-31M2515 374q-14-7-29-2M2515 374q15-10 17-28M2515 374q14-33-1-66M2515 374q-31-16-64-4M2515 355q15 7 30 1M2515 355q-28 3-44 26M2515 355q-1 34 23 57M2515 374q33-4 52-31M2515 374q-25 9-35 33M2515 374q4 8 12 11M2515 355q13-7 16-22M2393 605q31-17 39-52M2386 582q24 26 59 27M2412 591q-6-5-14-4M2426 571q-8-13-23-16M2359 578q48 18 94-5M2426 571q-13-29-43-39M2400 574q17 19 42 20M2400 574q-14 8-18 24M2398 587q-1-43-34-71M2428 582q-7 26 7 49M2373 611q42-1 70-32M2373 611q22-37 10-79M2416 543q-20-25-52-27M2415 564q-10 18-4 38M2382 598q-7 5-9 13M2366 595q3-16-7-29M2415 564q11 14 28 15M2366 595q-3-19-19-30M2366 595q27-12 37-40M2428 582q-34-17-69-4M2398 587q20-29 13-63M2382 598q39-19 51-60M2382 598q11 31 42 44M2411 602q1-16-11-28M2415 564q-49 18-68 66M2373 611q19-42 0-85M2359 566q19-12 24-34M2428 582q-16 13-17 33M2366 595q12-34-5-65M2359 566q21 36 62 45M2359 578q24 30 62 33M2393 605q-25-14-52-6M2411 602q6-25-8-47M2415 564q-39-2-67 26M2386 582q-4-19-21-28M2398 587q-24-16-52-10M2393 605q31-2 50-26M2400 574q2 11 12 17M2359 566q8-11 6-24M2366 595q7-5 7-14M2411 602q-34-17-70-3M2385 568q-8 36 13 66M2393 605q3 24 23 38M2373 581q-7 15 0 30M2411 602q29-21 33-57M2428 582q-42 0-70 30M2366 595q30-27 30-68M2359 566q13-6 18-20M2426 571q-43-8-78 19M2373 611q22-37 10-79M2426 571q-4 28 14 49M2428 582q8-14 4-29M2373 611q0-20-14-33M2400 574q-15 22-8 48M2416 543q-14-13-33-11M2393 605q7 9 18 10M2393 605q-5-16-20-24M2428 582q-12-10-28-8M2386 582q-20 19-20 47M2416 543q-20-25-52-27M2373 611q7-15 0-30M2385 568q16 24 44 28M2416 543q-15 44 7 84M2411 602q27-5 42-29M2359 578q3-6 0-12M2382 598q-21-9-41 1M2412 591q21 6 39-6M2366 595q3-16-7-29M2412 591q-17-3-30 7M2411 602q-14-19-38-21M2398 587q-26-10-50 3M2412 591q-17 11-20 31M2366 595q15-9 19-27M2366 595q22-18 23-47M2411 602q1-16-11-28M2411 602q13-6 17-20M2398 587q-6 8-5 18M2416 543q-39-4-69 22M2359 578q51-17 72-66M2400 574q-17-29-50-36M2428 582q-7-19-25-27M2415 564q-7 13-3 27M2398 587q28-17 35-49M2373 611q29-27 29-66M2385 568q2 12 13 19M2373 581q-6-5-14-3M2373 611q24 11 48 0M2393 605q18 11 39 5M2385 568q-3 7 1 14M2400 574q-9 1-14 8M2373 581q48 11 89-18M2412 591q21 6 39-6M2359 578q11-17 6-36M2428 582q-41 10-62 47M2386 582q-11 25 0 50M2428 582q-2 22 12 38M2386 582q37-6 58-37M2426 571q-27-22-61-17M2416 543q-22 50 0 100M2373 581q50-11 76-55M2412 591q0 12 9 20M2373 581q15-13 16-33M2382 598q31 11 60-4M2366 595q18 3 32-8M2385 568q8 17 27 23M2411 602q27 15 56 5M2426 571q1-16-10-28M2426 571q13 7 27 2M2426 571q8-22-3-43M2393 605q18-28 9-60M2366 595q-8 7-8 17M2359 566q8 27 34 39M2415 564q-31 14-42 47M2415 564q-25-1-42 17M2426 571q-6-18-24-26M2426 571q-8-13-23-16M2426 571q10 0 16-8M2428 582q-27-2-46 16M2385 568q-25 10-34 35M2400 574q15 27 45 35M2366 595q-9 1-15 8M2415 564q2-31-20-54M2400 574q-13-18-35-20M2373 611q18-6 25-24M2412 591q-43-16-83 5M2428 582q21-2 34-19M2386 582q32 3 56-19M2416 543q-21 6-31 25M2359 566q13-6 18-20M2386 582q35 10 67-9M2398 587q-18-13-39-9M2385 568q11 42 50 63M2386 582q15-38-3-74M2415 564q7 21 27 30M2411 602q-14 6-19 20M2428 582q13 12 31 10M2393 605q34-10 49-42M2415 564q11 14 28 15M2393 605q37-3 60-32M2412 591q-34-29-78-23M2382 598q37 9 69-13M2382 598q40 14 77-6M2386 582q22 3 40-11M2359 578q55 15 103-15M2400 574q-19-13-41-8M2428 582q-21-9-42 0M2373 611q22-13 27-37M2416 543q-24 13-30 39M2382 598q-15 12-16 31M2426 571q3 15 16 23M2373 611q24-1 39-20M2415 564q-25-1-42 17M2359 566q19 13 41 8M2428 582q-51 6-81 48M2428 582q-16 13-17 33M2366 595q36-15 50-52M2386 582q24-13 30-39M2386 582q-1-32-25-52M2382 598q38-4 60-35M2393 605q-5-16-20-24M2373 581q15 34 50 46M2359 578q24 18 53 13M2416 543q-44 32-50 86M2359 566q4 21 23 32M2411 602q-14-19-38-21M2412 591q-2-27-23-43M2373 611q16 18 39 18M2393 605q4-20-8-37M2426 571q20 4 36-8M2415 564q-14 8-17 23M2366 595q0 10 7 16M2373 611q-6-23-27-34M2400 574q-5-19-23-28M2382 598q27 2 46-16M2373 611q22-37 10-79M2412 591q-35 3-57 31M2393 605q11-29-4-57M2400 574q1-25-17-42M2412 591q-11-10-26-9M2382 598q-7-5-16-3M2382 598q11 31 42 44M2359 566q28 11 56-2M2428 582q8 2 15-3M2359 578q-11-4-22 1M2415 564q25-12 34-38M2359 578q34 17 69 4M2393 605q2-13-7-23M2316 548q4 20 21 31M2300 588q16-2 25-14M2299 560q-7 26 7 49M2316 548q-18 28-10 61M2300 588q-7 7-6 17M2303 550q6 8 16 9M2299 560q-1-8-8-12M2282 582q29 4 52-14M2291 548q-7-1-13 4M2282 582q12-15 9-34M2325 574q-6-17-22-24M2282 582q20 17 47 14M2308 573q-7 6-8 15M2316 548q-30 4-47 29M2282 582q13 16 33 18M2299 560q-1-8-8-12M2300 588q-8-7-18-6M2303 550q-19-3-34 9M2308 573q-20-7-39 4M2316 548q-24 24-22 57M2282 582q2-10-4-18M2282 582q2-10-4-18M2278 564q22 7 41-5M2308 573q13 9 29 6M2291 548q-12 15-9 34M2325 574q0-22-17-37M2291 548q1 8 8 12M2278 564q27 6 50-10M2282 582q23-17 26-45M2319 559q-28 10-40 37M2316 548q5 6 12 6M2299 560q-1-8-8-12M2308 573q-15-1-26 9M2308 573q18 10 38 4M2319 559q0 9 6 15M2291 548q1 31 24 52M2325 574q11-5 14-16M2316 548q-29 16-37 48M2325 574q-28 1-46 22M2282 582q29 4 52-14M2278 564q22 7 41-5M2325 574q5 5 12 5M2282 582q5-16-4-30M2325 574q13 0 22-9M2319 559q-10-4-20 1M2300 588q6-14-1-28M2303 550q6 8 16 9M2278 564q-1 24 16 41M2308 573q14 3 26-5M2282 582q20 17 47 14M2325 574q-17 13-19 35M2291 548q11-2 17-11M2319 559q5 14 18 20M2303 550q7 2 13-2M2325 574q-16 2-25 14M2303 550q-13-4-25 2M2319 559q-24 3-37 23M2300 588q-14-7-29-1M2300 588q-14-7-29-1M2325 574q-28 1-46 22M2316 548q-26-5-47 11M2319 559q1-6-3-11M2316 548q5 6 12 6M2291 548q3 16 17 25M2316 548q4 20 21 31M2319 559q-29-2-50 18M2303 550q16 23 43 27M2291 548q11-2 17-11M2282 582q6 19 24 27M2300 588q15-24 8-51M2291 548q12 12 28 11M2325 574q-16 2-25 14M2291 548q-17 10-22 29M2300 588q6-14-1-28M2319 559q0 9 6 15M2299 560q2 8 9 13M2316 548q-11 2-17 12M2291 548q-10 5-13 16M2300 588q5 9 15 12M2308 573q-10-17-30-21M2278 564q3-6 0-12M2325 574q-11 11-10 26M2299 560q10 4 20-1M2299 560q-11-3-21 4M2299 560q15 18 38 19M2325 574q-23-5-43 8M2438 228q3 18 18 28M2456 235q-10 0-16 8M2440 243q0-17-12-28M2440 243q0 16 11 27M2456 235q-4-12-15-18M2456 235q3-6 0-13M2440 243q5 10 16 13M2456 235q-7-7-18-7M2438 228q6-12 1-24M2456 235q-16-11-35-6M2456 235q-11 9-12 24M2456 235q-7-7-18-7M2456 235q10-3 15-13M2440 243q-16 8-22 25M2438 228q14-5 20-18M2456 235q10-3 15-13M2440 243q-6-18-24-25M2440 243q-19-4-35 7M2440 243q6-13 1-26M2438 228q-2 8 2 15M2438 228q-9 11-7 25M2440 243q0 16 11 27M2440 243q4-24-11-43M2438 228q-15 8-20 24M2438 228q-12 1-19 11M2456 235q-6-23-27-35M2440 243q-10-7-21-4M2456 235q-23 0-38 17M2440 243q0 16 11 27M2456 235q-29-4-51 15M2438 228q14-5 20-18M2456 235q-10-16-28-20M2440 243q8-20-1-39M2456 235q-19-6-37 4M2440 243q-10-7-21-4M2456 235q0 15 12 25M2456 235q-10 16-5 35M2438 228q-21 4-33 22M2440 243q-10-7-21-4M2438 228q-9-3-17 1M2440 243q-6-11-19-14M2438 228q7 7 18 7M2456 235q-10 0-16 8M2456 235q-19-6-37 4M2438 228q-12 1-19 11M2440 243q-7 3-9 10M2456 235q-16 4-25 18M2440 243q-7 3-9 10M2456 235q0 15 12 25M2456 235q-5 10 0 21M2440 243q0-17-12-28M2438 228q-2-9-10-13M2456 235q-10-16-28-20M2440 243q-10 8-10 21M2440 243q4-24-11-43M2438 228q-4 17 6 31M2456 235q-16 4-25 18M2456 235q-19-6-37 4M2438 228q-2 8 2 15M2456 235q-4-12-15-18M2438 228q-12 1-19 11M2440 243q16 6 32-2M2438 228q18 4 33-6M2438 228q7 7 18 7M2438 228q-3 24 13 42M2440 243q13-7 16-21M2456 235q-4-12-15-18M2237 511q6 14 21 19M2276 628q-8 4-11 12M2352 475q15 12 33 9M2125 455q6-3 8-9M2418 511q-6 5-7 13M2172 270q-5 13 1 25M2423 528q13 5 26-2M2395 466q-13 0-22 10M2440 243q-16 8-22 25M2282 582q-5-5-13-5M2153 475q19-3 29-19M2296 309q-6-13-20-18M2564 398q-10-6-21-2M2478 418q3-5 2-11M2545 356q-15 11-18 29M2147 532q5 8 14 10M2292 621q-11 8-13 22M2155 323q-7 16 0 31M2219 533q-6 8-4 18M2271 587q5-14-2-28M2552 314q1 18 15 29M2547 377q-12 0-20 8M2471 370q-10-4-20 0M2428 215q2 9 10 13M2274 514q15 4 29-4M2187 330q10-10 10-24M2471 222q-10 3-15 13M2193 508q-17-7-33 1M2505 470q14 3 26-6M2402 646q8 2 14-3M2209 261q-10-15-27-18M2468 260q3 6 10 8M2411 615q-11 7-13 19M2201 430q-9-14-25-18M2291 469q2 9 10 14M2402 646q15-5 21-19M2243 415q-1 7 4 12M2311 422q-4 13 3 24M2516 333q5 10 16 13M2189 356q12 6 24 2M2575 361q1-17-11-30M2416 218q15-2 23-14M2203 320q15-9 19-26M2496 379q14 10 31 6M2472 241q-16-6-32 2M2295 528q-1 13 8 22M2443 579q3-8-1-16M2274 195q-10 12-8 28M2424 449q9 3 18-1M2198 559q-12-1-20 7M2389 326q-11 11-11 27M2266 223q-19-4-34 7M2542 488q-10-2-18 4M2457 487q12-7 15-20M2381 401q-12-9-27-6M2255 437q-13 10-14 26M2339 558q7 0 11-5M2193 508q12 1 21-7M2107 455q9-4 13-13M2294 389q-12 0-21 9M2290 287q15-10 18-28M2383 532q-11 1-18 10M2251 402q7-16 0-31M2350 538q0-17-13-29M2274 540q18 6 34-3M2450 557q15 3 27-5M2233 358q-12 8-14 22M2311 402q-6-10-17-13M2183 429q9 4 18 1M2439 204q-4-4-10-4M2379 462q7 6 16 4M2478 298q-15-6-29 1M2186 300q-5-5-13-5M2399 369q-7-13-21-16M2563 444q-5 14 2 27M2270 463q-10 9-10 22M2136 335q-14 7-19 22M2494 480q12-10 12-26M2153 398q-12-12-28-11M2182 243q14 8 30 3M2409 500q8 11 22 12M2399 396q-4-8-13-11M2240 537q16 9 34 3M2242 262q-5-10-16-12M2245 251q8-15 2-30M2109 442q3 17 17 26M2383 221q17 6 33-3M2232 327q15-6 21-22M2425 423q10 14 27 17M2447 468q-15 6-21 21M2411 602q13-6 17-20M2173 492q-1 8 4 14M2475 596q-16-8-33-2M2240 448q13 4 25-4M2315 319q-7-9-19-10M2346 367q1-10-5-18M2478 298q-8-11-21-13M2320 510q-16-9-34-4M2176 476q-5-13-18-19M2373 611q-9-9-22-8M2400 574q-10 14-7 31M2292 621q16-5 23-21M2435 631q-12 2-19 12M2299 439q-9 2-14 10M2489 608q13-5 18-17M2124 373q7-7 6-17M2202 364q17 4 31-6M2465 524q-15 6-21 21M2149 336q10 9 23 7M2221 568q-11 9-12 24M2529 365q8-16 2-32M2118 428q10-9 10-23M2241 463q-16 0-26 12M2248 349q3-18-8-32M2224 238q-2 6 2 12M2182 243q-11 4-15 14M2158 457q-6 8-5 18M2192 532q7 15 23 19M2240 317q-5 11 0 22M2440 620q-2-7-8-10M2247 221q-9 1-15 9M2368 182q-2 15 8 27M2169 323q-14-6-27 0M2418 268q-3-12-13-18M2542 511q-5-13-18-19M2286 273q-13-12-31-11M2490 546q-5-9-15-11M2497 291q-4-6-11-8M2564 398q4 11 15 15M2276 418q-16-2-29 9M2130 434q-1 7 3 12M2519 545q-1-16-13-26M2139 388q14 11 32 8M2162 573q10 0 16-7M2442 402q-5-4-11-3M2579 413q-7 6-8 15M2567 343q-8-17-26-22M2337 440q7 5 15 3M2186 300q4 5 11 6M2579 413q-17-6-33 3M2274 265q-15-9-32-3M2116 399q16-9 20-26M2472 467q8 11 22 13M2412 591q7 6 17 5M2347 429q-1 15 9 26M2150 307q-7 14-1 29M2296 637q2-9-4-16M2402 545q-8 4-10 13M2282 582q-5-5-13-5M2283 382q11-5 15-16M2424 449q16 2 28-9M2579 413q-14 4-21 18M2507 591q-4-7-12-9M2299 345q-9-8-22-7M2313 457q8-10 6-23M2251 517q-5-14-19-20M2232 374q-8 0-13 6M2395 466q-18-2-32 10M2192 532q-10 9-11 22M2270 527q-7-9-19-10M2163 444q-5 5-5 13M2334 568q-3 17 7 31M2507 339q10-14 7-31M2274 195q-11 4-15 14M2373 476q-10-5-21-1M2519 545q0 14 10 24M2473 620q11-2 16-12M2359 566q8-11 6-24M2459 457q8 1 15-4M2382 598q-7-5-16-3M2145 349q-10 10-9 24M2222 437q6-7 5-17M2240 339q-1-8-8-12M2280 366q10 9 24 7M2212 331q11 2 20-4M2399 396q-4-8-13-11M2215 426q8 16 25 22M2350 538q-10 8-11 20M2145 349q-16-2-28 8M2260 485q9 9 21 8M2235 218q14 1 24-9M2312 305q8-12 5-27M2509 253q-3 12 4 22M2340 237q16-2 25-15M2136 335q6 3 13 1M2479 392q-13 13-12 32M2316 548q9 10 23 10M2382 598q-7-15-23-20M2528 296q-10 11-9 25M2494 532q9-4 12-13M2201 607q-3-10-12-14M2150 559q17 4 31-5M2257 499q6-14 0-29M2206 491q-3 17 7 31M2265 640q6 5 14 3M2202 364q-8 2-12 9M2489 594q6-5 6-12M2231 624q12-3 18-14M2428 215q-16-6-31 2M2247 478q13 6 26 0M2352 443q17 2 30-9M2353 253q-15-2-26 7M2225 455q-7 14-1 29M2386 582q-13 2-20 13M2340 330q-2-16-15-25M2416 543q-7-2-14 2M2314 630q9 16 26 20M2366 432q6 12 19 15M2419 310q-10 8-11 20M2385 447q-8-1-14 4M2507 591q-17-5-32 5M2206 415q3 15 16 22M2177 506q1 9 8 14M2546 416q2 18 17 28M2456 360q-15 9-18 26M2226 250q-7 14-2 28M2301 457q0-17-12-29M2227 420q15 6 30-2M2325 493q-6 7-5 17M2571 428q1 7 7 11M2255 262q-15 9-18 26M2480 407q-10 6-13 17M2203 349q13 11 30 9M2438 386q-15 10-18 27M2291 187q12 4 24-2M2383 508q-6-10-17-13M2207 539q1 8 8 12M2232 497q6-12 1-24M2156 270q13 9 29 6M2339 558q8 8 20 8M2544 528q-5-7-13-9M2253 305q-4 8-1 17M2509 295q17 2 31-9M2171 396q5 15 20 22M2367 640q-2-12-12-18M2233 473q-6 12-1 24M2311 494q10-4 14-14M2377 546q-1 13 8 22M2365 363q6-13 0-26M2337 509q-8 5-10 15M2484 250q-14 9-16 25M2130 420q2 17 16 26M2193 236q-3 8 1 16M2394 493q-9 5-11 15M2355 622q-2-15-14-23M2240 448q-8-16-25-22M2495 330q-7 0-12 6M2325 407q-11-10-25-8M2457 285q6 5 14 3M2486 283q-4-15-18-23M2457 487q8-15 2-30M2355 349q-3-13-15-19M2438 228q-4 17 6 31M2270 463q-10 9-10 22M2255 573q12 10 27 9M2301 457q0-17-12-29M2507 411q-6-6-15-5M2529 569q-6-16-22-22M2267 382q10-15 5-33M2227 264q10-16 5-34" fill="none" stroke="#e4554c" stroke-width="0.55" stroke-opacity="0.72" stroke-dasharray="2.2 0.9"/>
<g stroke="#222" stroke-width="0.35"><g fill="#63b127"><circle cx="2266.7" cy="381.8" r="5.7"/><circle cx="2371.2" cy="451.4" r="6.0"/><circle cx="2347.4" cy="429.0" r="5.2"/><circle cx="2505.7" cy="428.2" r="4.0"/><circle cx="2416.4" cy="542.7" r="5.7"/><circle cx="2324.8" cy="573.6" r="5.2"/><circle cx="2300.2" cy="587.9" r="4.6"/><circle cx="2437.9" cy="228.1" r="4.3"/><circle cx="2339.5" cy="329.7" r="4.6"/><circle cx="2362.2" cy="316.3" r="4.0"/><circle cx="2424.0" cy="448.7" r="3.9"/><circle cx="2293.7" cy="388.6" r="4.7"/><circle cx="2435.3" cy="360.3" r="3.9"/><circle cx="2439.9" cy="620.4" r="3.7"/><circle cx="2382.2" cy="598.1" r="4.7"/><circle cx="2479.1" cy="310.9" r="3.2"/><circle cx="2482.3" cy="352.0" r="3.9"/><circle cx="2519.4" cy="321.0" r="3.7"/><circle cx="2516.2" cy="332.6" r="3.7"/><circle cx="2491.4" cy="308.1" r="3.2"/><circle cx="2125.0" cy="386.7" r="3.5"/><circle cx="2190.0" cy="373.0" r="3.4"/><circle cx="2555.7" cy="517.3" r="3.1"/><circle cx="2326.8" cy="656.3" r="3.1"/><circle cx="2128.7" cy="314.1" r="3.1"/><circle cx="2368.3" cy="182.0" r="3.1"/><circle cx="2532.9" cy="276.0" r="3.1"/><circle cx="2580.2" cy="398.9" r="3.1"/><circle cx="2447.2" cy="468.4" r="3.6"/><circle cx="2386.7" cy="254.4" r="3.0"/><circle cx="2236.9" cy="510.5" r="3.4"/><circle cx="2153.2" cy="474.6" r="3.5"/><circle cx="2364.6" cy="247.9" r="3.3"/><circle cx="2184.7" cy="519.9" r="3.6"/><circle cx="2464.0" cy="507.4" r="3.4"/><circle cx="2176.6" cy="505.7" r="3.5"/><circle cx="2326.9" cy="260.4" r="3.6"/><circle cx="2494.2" cy="532.4" r="3.1"/><circle cx="2242.2" cy="635.5" r="3.0"/><circle cx="2447.2" cy="329.1" r="3.3"/><circle cx="2192.3" cy="532.1" r="3.3"/><circle cx="2147.2" cy="532.0" r="3.5"/><circle cx="2339.5" cy="650.5" r="3.5"/><circle cx="2202.9" cy="348.8" r="3.2"/></g><g fill="#222b8f"><circle cx="2380.6" cy="401.3" r="5.7"/><circle cx="2356.9" cy="416.7" r="5.2"/><circle cx="2409.3" cy="426.2" r="4.9"/><circle cx="2414.1" cy="439.0" r="4.6"/><circle cx="2139.4" cy="387.5" r="5.4"/><circle cx="2153.1" cy="386.1" r="5.7"/><circle cx="2123.6" cy="373.2" r="3.7"/><circle cx="2386.1" cy="582.2" r="5.4"/><circle cx="2399.8" cy="573.6" r="4.9"/><circle cx="2384.9" cy="567.8" r="4.6"/><circle cx="2358.9" cy="578.4" r="4.9"/><circle cx="2308.2" cy="572.7" r="4.6"/><circle cx="2253.3" cy="546.4" r="4.6"/><circle cx="2455.6" cy="235.0" r="4.3"/><circle cx="2324.9" cy="450.4" r="4.5"/><circle cx="2426.6" cy="434.4" r="4.0"/><circle cx="2311.1" cy="402.1" r="4.6"/><circle cx="2310.9" cy="341.8" r="4.1"/><circle cx="2379.4" cy="314.5" r="4.3"/><circle cx="2400.7" cy="343.3" r="4.2"/><circle cx="2349.8" cy="314.0" r="3.8"/><circle cx="2337.2" cy="610.3" r="3.4"/><circle cx="2410.6" cy="614.8" r="4.2"/><circle cx="2432.4" cy="610.4" r="4.0"/><circle cx="2392.6" cy="605.3" r="4.8"/><circle cx="2450.9" cy="585.5" r="4.0"/><circle cx="2349.9" cy="552.7" r="3.6"/><circle cx="2402.3" cy="545.1" r="3.8"/><circle cx="2397.9" cy="634.4" r="3.8"/><circle cx="2372.9" cy="580.8" r="4.4"/><circle cx="2358.7" cy="566.5" r="4.3"/><circle cx="2383.3" cy="531.6" r="4.0"/><circle cx="2423.1" cy="627.2" r="3.8"/><circle cx="2442.3" cy="563.2" r="3.4"/><circle cx="2383.2" cy="641.8" r="3.5"/><circle cx="2395.7" cy="526.7" r="4.0"/><circle cx="2366.5" cy="628.8" r="4.1"/><circle cx="2450.2" cy="557.1" r="3.4"/><circle cx="2339.2" cy="557.7" r="3.5"/><circle cx="2395.3" cy="652.2" r="3.5"/><circle cx="2355.3" cy="622.1" r="3.6"/><circle cx="2452.6" cy="573.3" r="4.0"/><circle cx="2458.7" cy="592.5" r="3.4"/><circle cx="2372.7" cy="610.8" r="4.4"/><circle cx="2347.1" cy="629.6" r="3.4"/><circle cx="2443.5" cy="545.0" r="3.7"/><circle cx="2376.9" cy="545.6" r="3.7"/><circle cx="2410.5" cy="602.3" r="4.5"/><circle cx="2350.7" cy="603.1" r="3.7"/><circle cx="2398.2" cy="587.5" r="5.0"/><circle cx="2361.0" cy="529.6" r="3.7"/><circle cx="2443.1" cy="578.7" r="3.8"/><circle cx="2364.7" cy="554.3" r="4.0"/><circle cx="2402.1" cy="645.6" r="3.4"/><circle cx="2347.7" cy="590.5" r="3.8"/><circle cx="2367.1" cy="640.2" r="3.4"/><circle cx="2421.2" cy="611.1" r="4.3"/><circle cx="2423.1" cy="528.0" r="3.4"/><circle cx="2293.6" cy="604.6" r="3.8"/><circle cx="2268.8" cy="576.7" r="3.6"/><circle cx="2334.4" cy="567.8" r="3.5"/><circle cx="2269.5" cy="558.7" r="3.4"/><circle cx="2537.6" cy="412.2" r="3.3"/><circle cx="2557.5" cy="367.0" r="3.3"/><circle cx="2480.0" cy="406.9" r="3.7"/><circle cx="2495.5" cy="378.7" r="4.0"/><circle cx="2145.0" cy="418.1" r="3.5"/><circle cx="2190.7" cy="383.5" r="3.2"/><circle cx="2128.5" cy="405.4" r="3.5"/><circle cx="2106.3" cy="417.9" r="3.3"/><circle cx="2119.9" cy="442.0" r="3.3"/><circle cx="2116.2" cy="399.4" r="3.4"/><circle cx="2418.8" cy="239.3" r="3.4"/><circle cx="2418.1" cy="252.2" r="3.1"/><circle cx="2257.7" cy="231.1" r="3.7"/><circle cx="2281.0" cy="246.7" r="3.2"/><circle cx="2265.3" cy="240.0" r="3.6"/><circle cx="2242.3" cy="262.1" r="3.3"/><circle cx="2292.5" cy="237.3" r="3.2"/><circle cx="2226.0" cy="249.6" r="3.3"/><circle cx="2572.6" cy="461.4" r="3.1"/><circle cx="2570.3" cy="485.4" r="3.1"/><circle cx="2563.1" cy="508.2" r="3.1"/><circle cx="2518.7" cy="579.8" r="3.1"/><circle cx="2507.2" cy="591.5" r="3.1"/><circle cx="2307.0" cy="650.5" r="3.1"/><circle cx="2176.4" cy="584.0" r="3.1"/><circle cx="2112.2" cy="483.6" r="3.1"/><circle cx="2112.3" cy="373.1" r="3.1"/><circle cx="2192.9" cy="235.8" r="3.1"/><circle cx="2331.5" cy="183.6" r="3.1"/><circle cx="2493.4" cy="236.4" r="3.1"/><circle cx="2509.0" cy="253.0" r="3.1"/><circle cx="2204.1" cy="275.2" r="3.3"/><circle cx="2324.7" cy="217.8" r="3.3"/><circle cx="2269.9" cy="463.4" r="3.3"/><circle cx="2184.2" cy="541.5" r="3.0"/><circle cx="2480.6" cy="517.7" r="3.5"/><circle cx="2408.8" cy="500.2" r="3.2"/><circle cx="2284.6" cy="520.1" r="3.0"/><circle cx="2223.9" cy="278.3" r="3.5"/><circle cx="2308.5" cy="242.1" r="3.3"/><circle cx="2490.9" cy="268.4" r="3.1"/><circle cx="2192.9" cy="444.2" r="3.2"/><circle cx="2541.4" cy="321.2" r="3.0"/><circle cx="2341.2" cy="483.1" r="3.3"/><circle cx="2208.5" cy="569.1" r="3.1"/><circle cx="2233.9" cy="598.4" r="3.5"/><circle cx="2405.0" cy="250.1" r="3.4"/><circle cx="2431.5" cy="511.6" r="3.5"/><circle cx="2349.6" cy="518.5" r="3.4"/><circle cx="2230.9" cy="547.0" r="3.5"/><circle cx="2212.8" cy="357.8" r="3.2"/><circle cx="2157.3" cy="496.4" r="3.4"/><circle cx="2254.4" cy="337.4" r="3.0"/><circle cx="2475.1" cy="535.4" r="3.1"/><circle cx="2493.4" cy="501.6" r="3.2"/><circle cx="2264.8" cy="320.9" r="3.5"/><circle cx="2514.5" cy="307.8" r="3.3"/><circle cx="2194.1" cy="576.4" r="3.0"/><circle cx="2247.6" cy="586.3" r="3.1"/><circle cx="2227.0" cy="580.1" r="3.4"/><circle cx="2198.0" cy="337.1" r="3.1"/><circle cx="2531.3" cy="464.4" r="3.1"/><circle cx="2519.2" cy="544.8" r="3.4"/><circle cx="2289.6" cy="287.4" r="3.4"/><circle cx="2468.1" cy="353.6" r="3.2"/><circle cx="2540.3" cy="285.9" r="3.1"/><circle cx="2242.3" cy="570.3" r="3.1"/><circle cx="2256.8" cy="498.8" r="3.1"/><circle cx="2441.9" cy="447.9" r="3.0"/><circle cx="2307.7" cy="289.3" r="3.6"/><circle cx="2168.8" cy="323.4" r="3.1"/><circle cx="2141.6" cy="508.4" r="3.3"/><circle cx="2172.9" cy="295.2" r="3.0"/><circle cx="2300.5" cy="482.7" r="3.0"/><circle cx="2273.3" cy="477.7" r="3.4"/><circle cx="2131.0" cy="488.8" r="3.0"/><circle cx="2450.5" cy="269.5" r="3.0"/><circle cx="2544.3" cy="528.4" r="3.4"/><circle cx="2276.4" cy="309.4" r="3.5"/><circle cx="2311.0" cy="474.6" r="3.3"/><circle cx="2494.8" cy="513.9" r="3.1"/><circle cx="2206.8" cy="538.6" r="3.6"/><circle cx="2513.9" cy="479.8" r="3.1"/><circle cx="2476.3" cy="576.2" r="3.1"/><circle cx="2285.2" cy="449.4" r="3.3"/><circle cx="2377.0" cy="191.8" r="3.2"/><circle cx="2550.9" cy="469.5" r="3.1"/><circle cx="2231.9" cy="496.6" r="3.2"/><circle cx="2202.3" cy="401.6" r="3.1"/><circle cx="2117.7" cy="428.1" r="3.1"/><circle cx="2389.5" cy="206.1" r="3.5"/><circle cx="2256.7" cy="418.1" r="3.5"/><circle cx="2189.1" cy="593.5" r="3.2"/><circle cx="2528.2" cy="447.2" r="3.5"/><circle cx="2494.2" cy="479.8" r="3.4"/><circle cx="2510.4" cy="532.0" r="3.3"/><circle cx="2281.2" cy="492.8" r="3.5"/><circle cx="2209.0" cy="260.9" r="3.3"/><circle cx="2250.6" cy="517.3" r="3.1"/><circle cx="2186.6" cy="330.4" r="3.0"/><circle cx="2183.8" cy="263.0" r="3.5"/><circle cx="2255.4" cy="572.8" r="3.1"/><circle cx="2394.1" cy="492.8" r="3.4"/><circle cx="2252.1" cy="321.9" r="3.0"/><circle cx="2564.6" cy="471.5" r="3.4"/><circle cx="2531.3" cy="309.4" r="3.0"/><circle cx="2553.4" cy="498.8" r="3.3"/><circle cx="2313.0" cy="208.2" r="3.1"/><circle cx="2528.2" cy="506.8" r="3.0"/><circle cx="2478.4" cy="503.4" r="3.1"/><circle cx="2465.6" cy="440.3" r="3.2"/><circle cx="2136.0" cy="334.6" r="3.1"/><circle cx="2349.8" cy="538.0" r="3.3"/><circle cx="2478.1" cy="298.4" r="3.1"/><circle cx="2124.9" cy="454.7" r="3.1"/><circle cx="2257.7" cy="530.0" r="3.0"/><circle cx="2483.0" cy="226.6" r="3.2"/><circle cx="2505.8" cy="453.6" r="3.1"/><circle cx="2446.5" cy="513.1" r="3.0"/><circle cx="2526.1" cy="265.0" r="3.1"/><circle cx="2555.5" cy="388.3" r="3.1"/></g><g fill="#a0369b"><circle cx="2384.7" cy="447.1" r="5.7"/><circle cx="2379.2" cy="461.9" r="6.0"/><circle cx="2398.4" cy="304.5" r="4.9"/><circle cx="2361.2" cy="294.5" r="4.9"/><circle cx="2385.7" cy="384.7" r="5.3"/><circle cx="2327.1" cy="295.2" r="3.9"/><circle cx="2429.7" cy="369.7" r="4.6"/><circle cx="2412.3" cy="353.0" r="4.7"/><circle cx="2299.3" cy="344.9" r="4.2"/><circle cx="2375.9" cy="326.6" r="4.3"/><circle cx="2301.3" cy="457.0" r="4.1"/><circle cx="2385.7" cy="341.2" r="4.6"/><circle cx="2352.5" cy="475.2" r="4.3"/><circle cx="2289.6" cy="332.5" r="3.8"/><circle cx="2398.5" cy="368.9" r="4.8"/><circle cx="2326.1" cy="336.2" r="4.2"/><circle cx="2419.6" cy="412.8" r="4.5"/><circle cx="2327.6" cy="360.7" r="4.9"/><circle cx="2436.6" cy="344.3" r="4.3"/><circle cx="2313.2" cy="457.0" r="3.9"/><circle cx="2319.3" cy="433.6" r="4.0"/><circle cx="2299.4" cy="413.1" r="4.4"/><circle cx="2335.2" cy="423.3" r="4.9"/><circle cx="2406.4" cy="314.2" r="3.8"/><circle cx="2441.9" cy="401.7" r="4.5"/><circle cx="2411.1" cy="373.4" r="4.5"/><circle cx="2289.3" cy="428.2" r="3.7"/><circle cx="2365.5" cy="363.4" r="5.2"/><circle cx="2346.4" cy="366.6" r="5.4"/><circle cx="2325.0" cy="393.2" r="4.9"/><circle cx="2365.2" cy="401.4" r="5.2"/><circle cx="2283.0" cy="382.3" r="4.0"/><circle cx="2317.9" cy="350.1" r="4.5"/><circle cx="2348.1" cy="463.4" r="3.7"/><circle cx="2422.4" cy="342.9" r="4.5"/><circle cx="2277.4" cy="338.2" r="3.8"/><circle cx="2325.7" cy="378.8" r="4.9"/><circle cx="2395.3" cy="466.4" r="4.3"/><circle cx="2373.3" cy="475.8" r="3.9"/><circle cx="2280.4" cy="366.4" r="3.8"/><circle cx="2349.2" cy="292.6" r="3.8"/><circle cx="2278.9" cy="429.5" r="4.1"/><circle cx="2351.7" cy="443.4" r="4.4"/><circle cx="2415.6" cy="458.1" r="4.1"/><circle cx="2404.3" cy="383.7" r="4.8"/><circle cx="2452.6" cy="391.1" r="3.7"/><circle cx="2310.9" cy="421.8" r="4.4"/><circle cx="2399.9" cy="414.8" r="4.5"/><circle cx="2313.6" cy="445.7" r="4.3"/><circle cx="2451.3" cy="369.9" r="3.9"/><circle cx="2385.1" cy="297.3" r="4.1"/><circle cx="2347.0" cy="565.2" r="3.5"/><circle cx="2336.8" cy="579.5" r="3.4"/><circle cx="2403.2" cy="555.3" r="4.1"/><circle cx="2358.4" cy="612.2" r="3.9"/><circle cx="2432.7" cy="538.0" r="3.4"/><circle cx="2392.3" cy="621.9" r="4.1"/><circle cx="2388.8" cy="547.5" r="3.9"/><circle cx="2372.8" cy="526.5" r="3.7"/><circle cx="2432.4" cy="553.0" r="3.6"/><circle cx="2391.6" cy="558.2" r="4.2"/><circle cx="2366.0" cy="594.8" r="4.3"/><circle cx="2345.9" cy="577.0" r="3.5"/><circle cx="2412.0" cy="629.4" r="4.0"/><circle cx="2341.2" cy="598.9" r="4.1"/><circle cx="2428.9" cy="596.4" r="3.9"/><circle cx="2315.7" cy="547.6" r="3.9"/><circle cx="2327.7" cy="553.7" r="3.6"/><circle cx="2277.5" cy="552.2" r="3.8"/><circle cx="2315.5" cy="599.5" r="3.5"/><circle cx="2270.9" cy="587.2" r="3.4"/><circle cx="2298.9" cy="560.0" r="4.2"/><circle cx="2282.4" cy="582.1" r="3.9"/><circle cx="2279.4" cy="595.8" r="3.5"/><circle cx="2506.8" cy="411.0" r="3.7"/><circle cx="2570.1" cy="380.2" r="3.5"/><circle cx="2529.3" cy="365.4" r="4.0"/><circle cx="2470.9" cy="380.6" r="3.6"/><circle cx="2547.1" cy="332.3" r="3.3"/><circle cx="2483.2" cy="336.3" r="3.6"/><circle cx="2529.8" cy="402.1" r="3.7"/><circle cx="2531.8" cy="345.8" r="3.8"/><circle cx="2506.9" cy="338.7" r="3.7"/><circle cx="2479.0" cy="392.5" r="3.5"/><circle cx="2487.6" cy="386.3" r="3.9"/><circle cx="2493.5" cy="340.4" r="3.6"/><circle cx="2529.4" cy="416.7" r="3.4"/><circle cx="2529.8" cy="426.9" r="3.1"/><circle cx="2494.4" cy="319.6" r="3.3"/><circle cx="2546.2" cy="415.7" r="3.2"/><circle cx="2151.1" cy="432.2" r="3.3"/><circle cx="2174.2" cy="377.9" r="3.4"/><circle cx="2170.7" cy="395.9" r="3.4"/><circle cx="2144.9" cy="349.3" r="3.2"/><circle cx="2183.5" cy="428.8" r="3.4"/><circle cx="2191.3" cy="418.4" r="3.1"/><circle cx="2117.3" cy="356.9" r="3.2"/><circle cx="2162.1" cy="417.6" r="3.4"/><circle cx="2129.9" cy="420.0" r="3.4"/><circle cx="2176.4" cy="412.0" r="3.3"/><circle cx="2157.3" cy="343.4" r="3.3"/><circle cx="2180.6" cy="363.4" r="3.2"/><circle cx="2177.1" cy="436.9" r="3.1"/><circle cx="2163.7" cy="405.7" r="3.5"/><circle cx="2133.5" cy="445.8" r="3.2"/><circle cx="2186.5" cy="409.5" r="3.3"/><circle cx="2154.6" cy="354.2" r="3.2"/><circle cx="2162.9" cy="443.6" r="3.1"/><circle cx="2180.1" cy="386.3" r="3.3"/><circle cx="2189.2" cy="356.2" r="3.3"/><circle cx="2146.4" cy="445.6" r="3.3"/><circle cx="2160.4" cy="427.4" r="3.4"/><circle cx="2126.5" cy="346.2" r="3.1"/><circle cx="2430.3" cy="264.4" r="3.2"/><circle cx="2428.9" cy="199.5" r="3.1"/><circle cx="2455.9" cy="222.4" r="3.4"/><circle cx="2438.6" cy="203.7" r="3.3"/><circle cx="2430.5" cy="252.5" r="3.3"/><circle cx="2416.1" cy="217.7" r="3.3"/><circle cx="2444.1" cy="258.7" r="3.2"/><circle cx="2407.4" cy="231.1" r="3.1"/><circle cx="2234.7" cy="218.1" r="3.2"/><circle cx="2265.9" cy="222.5" r="3.5"/><circle cx="2242.0" cy="208.9" r="3.4"/><circle cx="2244.8" cy="251.0" r="3.4"/><circle cx="2258.7" cy="209.3" r="3.4"/><circle cx="2242.0" cy="239.6" r="3.5"/><circle cx="2281.0" cy="227.0" r="3.3"/><circle cx="2256.9" cy="249.9" r="3.4"/><circle cx="2255.2" cy="261.8" r="3.3"/><circle cx="2577.5" cy="439.2" r="3.1"/><circle cx="2542.5" cy="541.1" r="3.1"/><circle cx="2489.1" cy="608.5" r="3.1"/><circle cx="2472.7" cy="619.9" r="3.1"/><circle cx="2454.3" cy="628.4" r="3.1"/><circle cx="2416.3" cy="643.2" r="3.1"/><circle cx="2378.2" cy="650.7" r="3.1"/><circle cx="2352.0" cy="657.8" r="3.1"/><circle cx="2265.0" cy="639.6" r="3.1"/><circle cx="2254.6" cy="636.4" r="3.1"/><circle cx="2230.6" cy="624.4" r="3.1"/><circle cx="2209.0" cy="612.6" r="3.1"/><circle cx="2162.0" cy="572.7" r="3.1"/><circle cx="2113.1" cy="466.5" r="3.1"/><circle cx="2109.3" cy="442.2" r="3.1"/><circle cx="2119.8" cy="331.7" r="3.1"/><circle cx="2136.6" cy="297.6" r="3.1"/><circle cx="2255.2" cy="201.2" r="3.1"/><circle cx="2315.5" cy="184.8" r="3.1"/><circle cx="2396.3" cy="189.5" r="3.1"/><circle cx="2412.1" cy="193.6" r="3.1"/><circle cx="2458.2" cy="210.4" r="3.1"/><circle cx="2514.5" cy="260.5" r="3.1"/><circle cx="2393.4" cy="287.0" r="3.0"/><circle cx="2205.6" cy="491.3" r="3.3"/><circle cx="2253.5" cy="622.6" r="3.5"/><circle cx="2456.6" cy="284.7" r="3.4"/><circle cx="2177.9" cy="566.1" r="3.2"/><circle cx="2459.2" cy="457.1" r="3.3"/><circle cx="2240.7" cy="463.0" r="3.3"/><circle cx="2357.3" cy="236.6" r="3.3"/><circle cx="2231.6" cy="327.3" r="3.3"/><circle cx="2193.6" cy="252.3" r="3.5"/><circle cx="2496.7" cy="290.9" r="3.1"/><circle cx="2295.4" cy="212.7" r="3.4"/><circle cx="2357.5" cy="211.8" r="3.2"/><circle cx="2477.5" cy="480.6" r="3.6"/><circle cx="2221.6" cy="437.4" r="3.5"/><circle cx="2308.0" cy="523.5" r="3.2"/><circle cx="2212.0" cy="246.2" r="3.3"/><circle cx="2273.2" cy="610.2" r="3.4"/><circle cx="2212.8" cy="521.9" r="3.5"/><circle cx="2382.7" cy="221.4" r="3.5"/><circle cx="2269.8" cy="526.7" r="3.1"/><circle cx="2211.6" cy="460.0" r="3.5"/><circle cx="2409.1" cy="476.2" r="3.2"/><circle cx="2504.9" cy="469.8" r="3.2"/><circle cx="2165.3" cy="525.8" r="3.1"/><circle cx="2198.5" cy="559.3" r="3.2"/><circle cx="2541.9" cy="511.0" r="3.5"/><circle cx="2251.1" cy="402.3" r="3.2"/><circle cx="2302.6" cy="200.4" r="3.1"/><circle cx="2451.8" cy="440.0" r="3.2"/><circle cx="2271.7" cy="208.5" r="3.5"/><circle cx="2209.3" cy="592.4" r="3.3"/><circle cx="2238.6" cy="523.4" r="3.5"/><circle cx="2507.7" cy="504.5" r="3.5"/><circle cx="2385.1" cy="483.8" r="3.2"/><circle cx="2455.4" cy="315.7" r="3.3"/><circle cx="2517.6" cy="513.3" r="3.1"/><circle cx="2233.5" cy="357.9" r="3.1"/><circle cx="2432.4" cy="477.9" r="3.4"/><circle cx="2506.8" cy="547.0" r="3.0"/><circle cx="2233.0" cy="473.3" r="3.1"/><circle cx="2562.8" cy="443.5" r="3.1"/><circle cx="2307.6" cy="536.8" r="3.1"/><circle cx="2224.4" cy="344.8" r="3.3"/><circle cx="2192.3" cy="470.2" r="3.4"/><circle cx="2191.3" cy="485.2" r="3.2"/><circle cx="2471.8" cy="467.1" r="3.1"/><circle cx="2534.7" cy="477.7" r="3.2"/><circle cx="2180.6" cy="553.6" r="3.3"/><circle cx="2540.7" cy="451.9" r="3.6"/><circle cx="2206.3" cy="415.5" r="3.1"/><circle cx="2328.2" cy="623.5" r="3.5"/><circle cx="2488.9" cy="593.9" r="3.4"/><circle cx="2240.6" cy="557.3" r="3.1"/><circle cx="2366.1" cy="495.3" r="3.3"/><circle cx="2172.1" cy="308.9" r="3.5"/><circle cx="2158.3" cy="457.3" r="3.2"/><circle cx="2376.0" cy="209.3" r="3.4"/><circle cx="2150.0" cy="307.1" r="3.2"/><circle cx="2345.5" cy="495.4" r="3.3"/><circle cx="2247.9" cy="274.2" r="3.5"/><circle cx="2256.2" cy="598.8" r="3.6"/><circle cx="2353.4" cy="253.5" r="3.1"/><circle cx="2448.7" cy="526.0" r="3.4"/><circle cx="2394.7" cy="269.9" r="3.3"/><circle cx="2355.1" cy="273.2" r="3.3"/><circle cx="2271.8" cy="278.1" r="3.2"/><circle cx="2199.9" cy="291.6" r="3.4"/><circle cx="2431.5" cy="283.6" r="3.0"/><circle cx="2227.3" cy="420.2" r="3.1"/><circle cx="2290.7" cy="469.1" r="3.2"/><circle cx="2229.9" cy="611.0" r="3.1"/><circle cx="2185.5" cy="299.7" r="3.0"/><circle cx="2161.1" cy="541.8" r="3.2"/><circle cx="2506.2" cy="490.2" r="3.4"/><circle cx="2265.1" cy="444.3" r="3.3"/><circle cx="2468.0" cy="275.3" r="3.2"/><circle cx="2340.0" cy="199.8" r="3.5"/><circle cx="2474.8" cy="596.0" r="3.0"/><circle cx="2144.1" cy="491.5" r="3.1"/><circle cx="2363.8" cy="516.3" r="3.2"/><circle cx="2170.0" cy="356.8" r="3.1"/><circle cx="2317.1" cy="278.1" r="3.6"/><circle cx="2484.3" cy="250.4" r="3.3"/><circle cx="2471.3" cy="288.0" r="3.1"/><circle cx="2224.1" cy="483.9" r="3.4"/><circle cx="2397.3" cy="480.5" r="3.2"/><circle cx="2260.1" cy="485.1" r="3.5"/><circle cx="2286.3" cy="273.1" r="3.4"/><circle cx="2467.2" cy="606.9" r="3.5"/><circle cx="2219.2" cy="379.9" r="3.1"/><circle cx="2296.4" cy="309.0" r="3.3"/><circle cx="2172.9" cy="492.3" r="3.4"/><circle cx="2278.6" cy="643.2" r="3.0"/><circle cx="2210.8" cy="308.2" r="3.0"/><circle cx="2181.8" cy="456.1" r="3.1"/><circle cx="2373.9" cy="231.9" r="3.3"/><circle cx="2295.9" cy="637.1" r="3.2"/><circle cx="2185.3" cy="317.4" r="3.5"/><circle cx="2333.9" cy="281.5" r="3.4"/><circle cx="2273.5" cy="514.2" r="3.1"/><circle cx="2457.3" cy="486.9" r="3.3"/><circle cx="2417.6" cy="511.4" r="3.3"/><circle cx="2468.1" cy="260.0" r="3.2"/><circle cx="2462.1" cy="562.9" r="3.3"/><circle cx="2410.7" cy="284.0" r="3.4"/><circle cx="2307.6" cy="259.1" r="3.5"/><circle cx="2397.0" cy="216.8" r="3.4"/><circle cx="2556.4" cy="482.8" r="3.1"/><circle cx="2319.3" cy="231.6" r="3.4"/><circle cx="2226.6" cy="312.9" r="3.2"/><circle cx="2226.8" cy="263.7" r="3.1"/><circle cx="2253.3" cy="305.0" r="3.5"/><circle cx="2431.2" cy="305.4" r="3.1"/><circle cx="2495.1" cy="582.1" r="3.4"/><circle cx="2310.7" cy="494.2" r="3.6"/><circle cx="2460.5" cy="547.7" r="3.3"/><circle cx="2519.0" cy="462.9" r="3.1"/><circle cx="2276.1" cy="627.6" r="3.3"/><circle cx="2462.4" cy="301.1" r="3.3"/><circle cx="2337.3" cy="508.5" r="3.3"/><circle cx="2273.8" cy="264.7" r="3.4"/><circle cx="2197.8" cy="520.3" r="3.5"/><circle cx="2239.7" cy="448.5" r="3.3"/><circle cx="2222.0" cy="594.2" r="3.2"/><circle cx="2139.1" cy="474.3" r="3.6"/><circle cx="2240.5" cy="537.1" r="3.2"/><circle cx="2254.5" cy="437.3" r="3.3"/><circle cx="2465.2" cy="523.7" r="3.4"/><circle cx="2389.8" cy="237.1" r="3.2"/><circle cx="2306.5" cy="609.2" r="3.3"/><circle cx="2129.8" cy="433.9" r="3.1"/><circle cx="2164.4" cy="480.5" r="3.0"/><circle cx="2225.2" cy="455.4" r="3.1"/><circle cx="2161.5" cy="300.7" r="3.4"/><circle cx="2509.2" cy="294.7" r="3.0"/><circle cx="2106.6" cy="455.5" r="3.2"/><circle cx="2498.0" cy="443.4" r="3.0"/><circle cx="2486.1" cy="282.9" r="3.2"/><circle cx="2351.3" cy="642.3" r="3.5"/><circle cx="2305.4" cy="227.8" r="3.3"/><circle cx="2527.3" cy="385.1" r="3.1"/><circle cx="2147.7" cy="283.2" r="3.1"/><circle cx="2165.1" cy="556.8" r="3.4"/><circle cx="2271.3" cy="501.6" r="3.5"/><circle cx="2520.0" cy="285.7" r="3.2"/><circle cx="2201.0" cy="430.4" r="3.5"/><circle cx="2217.7" cy="622.7" r="3.2"/><circle cx="2324.9" cy="480.1" r="3.3"/><circle cx="2549.4" cy="441.9" r="3.5"/><circle cx="2197.5" cy="305.7" r="3.5"/><circle cx="2530.9" cy="519.0" r="3.2"/><circle cx="2495.8" cy="558.1" r="3.0"/><circle cx="2203.1" cy="479.0" r="3.1"/><circle cx="2230.8" cy="388.4" r="3.1"/><circle cx="2237.2" cy="287.7" r="3.3"/><circle cx="2377.5" cy="245.9" r="3.2"/><circle cx="2365.1" cy="221.9" r="3.1"/><circle cx="2460.3" cy="474.5" r="3.2"/><circle cx="2558.1" cy="431.3" r="3.4"/><circle cx="2478.3" cy="267.7" r="3.5"/><circle cx="2435.8" cy="525.7" r="3.0"/></g><g fill="#d6ec38"><circle cx="2396.1" cy="427.0" r="5.4"/><circle cx="2403.3" cy="449.9" r="4.6"/><circle cx="2427.6" cy="215.2" r="4.0"/><circle cx="2155.7" cy="269.6" r="3.1"/></g><g fill="#b0dd68"><circle cx="2379.8" cy="421.9" r="5.2"/><circle cx="2340.6" cy="348.9" r="4.6"/><circle cx="2553.8" cy="348.0" r="4.0"/><circle cx="2457.1" cy="378.9" r="4.0"/><circle cx="2463.6" cy="397.6" r="4.0"/><circle cx="2511.4" cy="441.9" r="3.7"/><circle cx="2360.6" cy="654.6" r="3.1"/><circle cx="2537.7" cy="371.6" r="3.7"/><circle cx="2558.3" cy="411.9" r="3.4"/><circle cx="2547.2" cy="377.2" r="3.8"/><circle cx="2486.2" cy="372.2" r="3.8"/><circle cx="2503.7" cy="315.1" r="3.4"/><circle cx="2564.3" cy="397.6" r="3.4"/><circle cx="2248.2" cy="348.8" r="3.4"/><circle cx="2250.5" cy="371.1" r="3.2"/><circle cx="2494.0" cy="457.3" r="3.0"/><circle cx="2212.4" cy="331.0" r="3.6"/><circle cx="2159.7" cy="509.4" r="3.5"/></g><g fill="#72c8bd"><circle cx="2500.6" cy="363.2" r="5.2"/><circle cx="2425.6" cy="571.3" r="5.7"/><circle cx="2440.5" cy="243.0" r="4.6"/><circle cx="2398.7" cy="395.7" r="4.8"/><circle cx="2314.9" cy="318.6" r="4.2"/><circle cx="2297.8" cy="325.3" r="4.1"/><circle cx="2389.3" cy="325.6" r="4.6"/><circle cx="2377.3" cy="372.4" r="5.2"/><circle cx="2298.7" cy="439.1" r="3.7"/><circle cx="2288.2" cy="407.0" r="4.4"/><circle cx="2438.3" cy="385.8" r="4.2"/><circle cx="2331.8" cy="313.8" r="4.3"/><circle cx="2324.7" cy="407.2" r="4.7"/><circle cx="2273.0" cy="398.5" r="3.7"/><circle cx="2378.0" cy="353.1" r="5.0"/><circle cx="2275.6" cy="418.4" r="4.4"/><circle cx="2341.7" cy="449.7" r="4.1"/><circle cx="2366.2" cy="431.5" r="4.5"/><circle cx="2373.2" cy="301.9" r="3.8"/><circle cx="2268.2" cy="364.1" r="4.2"/><circle cx="2353.5" cy="395.2" r="5.4"/><circle cx="2364.6" cy="464.4" r="3.7"/><circle cx="2356.1" cy="455.5" r="4.5"/><circle cx="2441.6" cy="375.3" r="4.1"/><circle cx="2282.3" cy="352.4" r="3.7"/><circle cx="2432.1" cy="410.8" r="4.3"/><circle cx="2355.2" cy="304.6" r="4.1"/><circle cx="2407.5" cy="330.2" r="4.4"/><circle cx="2272.1" cy="348.7" r="3.7"/><circle cx="2333.8" cy="468.2" r="3.7"/><circle cx="2300.0" cy="399.1" r="4.5"/><circle cx="2340.7" cy="387.3" r="5.3"/><circle cx="2392.6" cy="351.9" r="4.7"/><circle cx="2363.0" cy="476.2" r="3.7"/><circle cx="2341.7" cy="407.5" r="5.1"/><circle cx="2430.6" cy="399.2" r="4.4"/><circle cx="2311.5" cy="305.5" r="3.9"/><circle cx="2336.9" cy="439.8" r="4.1"/><circle cx="2423.5" cy="356.7" r="4.5"/><circle cx="2325.4" cy="323.1" r="4.7"/><circle cx="2444.8" cy="353.6" r="3.7"/><circle cx="2425.0" cy="423.3" r="3.7"/><circle cx="2324.9" cy="304.9" r="3.7"/><circle cx="2418.7" cy="310.2" r="3.7"/><circle cx="2424.4" cy="325.6" r="3.7"/><circle cx="2445.7" cy="412.5" r="3.7"/><circle cx="2382.3" cy="433.8" r="4.7"/><circle cx="2354.9" cy="326.3" r="4.6"/><circle cx="2445.5" cy="608.8" r="3.8"/><circle cx="2410.9" cy="523.8" r="3.4"/><circle cx="2412.3" cy="590.6" r="4.8"/><circle cx="2423.9" cy="641.5" r="3.7"/><circle cx="2329.4" cy="596.1" r="3.4"/><circle cx="2385.8" cy="632.0" r="3.9"/><circle cx="2441.9" cy="594.3" r="4.0"/><circle cx="2435.0" cy="631.5" r="3.4"/><circle cx="2278.4" cy="564.2" r="3.8"/><circle cx="2290.9" cy="548.1" r="3.6"/><circle cx="2318.8" cy="558.6" r="4.1"/><circle cx="2302.9" cy="549.6" r="4.0"/><circle cx="2493.8" cy="416.7" r="3.7"/><circle cx="2545.3" cy="426.1" r="3.1"/><circle cx="2543.1" cy="396.0" r="3.5"/><circle cx="2470.8" cy="370.3" r="3.8"/><circle cx="2476.6" cy="325.8" r="3.5"/><circle cx="2465.7" cy="410.7" r="3.4"/><circle cx="2544.6" cy="356.2" r="3.7"/><circle cx="2478.1" cy="417.7" r="3.3"/><circle cx="2495.4" cy="330.5" r="3.6"/><circle cx="2492.2" cy="406.5" r="3.7"/><circle cx="2469.7" cy="317.7" r="3.1"/><circle cx="2531.2" cy="333.1" r="3.7"/><circle cx="2467.9" cy="332.0" r="3.6"/><circle cx="2564.6" cy="360.8" r="3.4"/><circle cx="2455.9" cy="360.1" r="3.4"/><circle cx="2153.9" cy="365.3" r="3.4"/><circle cx="2136.2" cy="373.4" r="3.6"/><circle cx="2171.6" cy="342.8" r="3.1"/><circle cx="2456.1" cy="255.9" r="3.4"/><circle cx="2421.3" cy="229.0" r="3.5"/><circle cx="2441.3" cy="217.3" r="3.5"/><circle cx="2472.4" cy="241.2" r="3.2"/><circle cx="2224.1" cy="238.2" r="3.1"/><circle cx="2579.5" cy="412.8" r="3.1"/><circle cx="2536.4" cy="557.6" r="3.1"/><circle cx="2290.3" cy="651.1" r="3.1"/><circle cx="2200.9" cy="606.8" r="3.1"/><circle cx="2149.8" cy="558.9" r="3.1"/><circle cx="2141.5" cy="543.5" r="3.1"/><circle cx="2133.1" cy="523.3" r="3.1"/><circle cx="2124.0" cy="503.7" r="3.1"/><circle cx="2181.7" cy="243.4" r="3.1"/><circle cx="2208.1" cy="224.6" r="3.1"/><circle cx="2273.8" cy="194.8" r="3.1"/><circle cx="2291.2" cy="187.3" r="3.1"/><circle cx="2471.2" cy="221.9" r="3.1"/><circle cx="2551.6" cy="313.8" r="3.1"/><circle cx="2574.9" cy="360.9" r="3.1"/><circle cx="2575.5" cy="370.6" r="3.1"/><circle cx="2364.0" cy="262.1" r="3.4"/><circle cx="2327.4" cy="524.4" r="3.6"/><circle cx="2395.3" cy="510.3" r="3.4"/><circle cx="2325.1" cy="493.3" r="3.0"/><circle cx="2202.9" cy="319.7" r="3.4"/><circle cx="2527.9" cy="295.7" r="3.3"/><circle cx="2451.6" cy="342.2" r="3.3"/><circle cx="2339.6" cy="258.7" r="3.2"/><circle cx="2159.9" cy="287.4" r="3.5"/><circle cx="2487.4" cy="569.1" r="3.5"/><circle cx="2292.8" cy="252.8" r="3.3"/><circle cx="2248.6" cy="610.2" r="3.2"/><circle cx="2330.1" cy="640.4" r="3.4"/><circle cx="2527.3" cy="531.5" r="3.5"/><circle cx="2231.6" cy="374.3" r="3.2"/><circle cx="2244.3" cy="490.9" r="3.0"/><circle cx="2184.8" cy="276.4" r="3.2"/><circle cx="2417.9" cy="267.8" r="3.5"/><circle cx="2448.7" cy="298.9" r="3.5"/><circle cx="2374.2" cy="275.6" r="3.3"/><circle cx="2291.9" cy="621.2" r="3.1"/><circle cx="2257.2" cy="454.0" r="3.1"/><circle cx="2192.9" cy="508.1" r="3.2"/><circle cx="2489.6" cy="546.5" r="3.5"/><circle cx="2334.2" cy="535.6" r="3.5"/><circle cx="2221.7" cy="293.8" r="3.5"/><circle cx="2364.9" cy="201.3" r="3.2"/><circle cx="2126.1" cy="468.0" r="3.2"/><circle cx="2142.2" cy="322.7" r="3.5"/><circle cx="2406.3" cy="205.2" r="3.3"/><circle cx="2246.8" cy="427.2" r="3.0"/><circle cx="2324.9" cy="243.4" r="3.4"/><circle cx="2353.5" cy="195.3" r="3.3"/><circle cx="2339.5" cy="236.7" r="3.1"/><circle cx="2466.6" cy="424.0" r="3.3"/><circle cx="2382.7" cy="507.6" r="3.2"/><circle cx="2237.8" cy="304.6" r="3.4"/><circle cx="2509.6" cy="560.9" r="3.3"/><circle cx="2571.3" cy="428.1" r="3.5"/><circle cx="2233.7" cy="431.6" r="3.4"/><circle cx="2244.6" cy="382.7" r="3.1"/><circle cx="2240.0" cy="317.3" r="3.2"/><circle cx="2320.1" cy="510.3" r="3.6"/><circle cx="2473.8" cy="453.5" r="3.6"/><circle cx="2237.1" cy="399.0" r="3.1"/><circle cx="2286.4" cy="505.8" r="3.5"/><circle cx="2221.1" cy="567.6" r="3.4"/><circle cx="2512.9" cy="274.9" r="3.4"/><circle cx="2468.6" cy="492.4" r="3.0"/><circle cx="2273.8" cy="539.5" r="3.4"/><circle cx="2172.1" cy="269.7" r="3.1"/><circle cx="2425.8" cy="489.4" r="3.5"/><circle cx="2314.2" cy="629.7" r="3.2"/><circle cx="2257.4" cy="469.6" r="3.3"/><circle cx="2287.2" cy="200.7" r="3.2"/><circle cx="2203.3" cy="378.0" r="3.2"/><circle cx="2294.6" cy="527.8" r="3.5"/><circle cx="2243.2" cy="415.0" r="3.6"/><circle cx="2559.8" cy="458.7" r="3.5"/><circle cx="2153.6" cy="520.8" r="3.3"/><circle cx="2169.8" cy="463.5" r="3.3"/><circle cx="2214.8" cy="474.9" r="3.0"/><circle cx="2284.0" cy="319.7" r="3.2"/><circle cx="2445.1" cy="481.6" r="3.6"/><circle cx="2223.4" cy="511.8" r="3.1"/><circle cx="2420.4" cy="295.6" r="3.5"/><circle cx="2429.5" cy="465.6" r="3.0"/><circle cx="2567.3" cy="343.5" r="3.5"/><circle cx="2528.5" cy="569.0" r="3.3"/><circle cx="2340.3" cy="212.6" r="3.2"/><circle cx="2220.7" cy="221.0" r="3.4"/><circle cx="2303.1" cy="510.1" r="3.4"/><circle cx="2155.3" cy="322.9" r="3.5"/><circle cx="2201.9" cy="363.7" r="3.2"/><circle cx="2276.4" cy="291.4" r="3.6"/><circle cx="2318.7" cy="646.8" r="3.0"/><circle cx="2485.5" cy="491.6" r="3.1"/><circle cx="2239.5" cy="338.9" r="3.3"/><circle cx="2506.4" cy="519.3" r="3.4"/><circle cx="2185.5" cy="343.9" r="3.4"/><circle cx="2320.2" cy="612.7" r="3.3"/><circle cx="2215.2" cy="426.2" r="3.1"/><circle cx="2265.3" cy="430.0" r="3.0"/></g><g fill="#a8e0b0"><circle cx="2494.3" cy="353.2" r="4.6"/><circle cx="2505.1" cy="395.5" r="4.3"/><circle cx="2341.5" cy="305.1" r="3.9"/></g><g fill="#000"><circle cx="2296.8" cy="496.3" r="3.4"/></g><g fill="#fa1010"><circle cx="2214.7" cy="550.7" r="3.1"/></g><g fill="#f77320"><circle cx="2130.2" cy="356.1" r="3.1"/><circle cx="2348.3" cy="225.8" r="3.4"/><circle cx="2298.2" cy="268.8" r="3.1"/><circle cx="2266.7" cy="300.2" r="3.4"/><circle cx="2550.7" cy="304.5" r="3.4"/><circle cx="2214.4" cy="500.6" r="3.1"/><circle cx="2218.7" cy="533.5" r="3.1"/><circle cx="2448.5" cy="497.7" r="3.7"/><circle cx="2524.3" cy="492.0" r="3.4"/><circle cx="2542.1" cy="488.3" r="3.1"/></g><g fill="#aaa4a4"><circle cx="2148.8" cy="336.0" r="3.4"/><circle cx="2167.1" cy="256.7" r="3.4"/><circle cx="2251.0" cy="289.7" r="3.7"/><circle cx="2205.8" cy="446.8" r="3.7"/><circle cx="2140.0" cy="455.6" r="3.1"/><circle cx="2176.0" cy="475.7" r="3.4"/><circle cx="2246.7" cy="478.3" r="3.4"/><circle cx="2484.8" cy="436.8" r="3.7"/><circle cx="2343.4" cy="180.6" r="3.4"/></g><g fill="#6cc0de"><circle cx="2326.8" cy="203.8" r="3.4"/><circle cx="2232.4" cy="230.1" r="3.4"/><circle cx="2563.5" cy="331.2" r="3.1"/><circle cx="2476.5" cy="552.1" r="3.4"/></g><g fill="#2a6f2a"><circle cx="2246.7" cy="221.0" r="3.7"/></g><g fill="#d772b8"><circle cx="2364.9" cy="541.5" r="4.3"/><circle cx="2103.6" cy="396.1" r="3.4"/></g><circle cx="2153.1" cy="398.4" r="6.3" fill="#222b8f"/><circle cx="2365.5" cy="337.4" r="6.4" fill="#a0369b"/><circle cx="2414.7" cy="563.5" r="6.4" fill="#222b8f"/><circle cx="2428.4" cy="581.6" r="6.4" fill="#222b8f"/><circle cx="2515.2" cy="374.1" r="6.9" fill="#63b127"/><circle cx="2364.0" cy="380.4" r="7.9" fill="#72c8bd"/><circle cx="2514.9" cy="355.5" r="7.9" fill="#72c8bd"/><circle cx="2355.5" cy="348.9" r="8.6" fill="#222b8f"/><circle cx="2298.2" cy="366.1" r="8.6" fill="#a0369b"/><circle cx="2303.9" cy="373.2" r="10.0" fill="#72c8bd"/></g>
<text x="37" y="1149" font-size="74" font-weight="bold">(b)</text>
<text x="483.5" y="1120.5" font-size="41.1" font-weight="bold" text-anchor="middle">Oxic conditions</text>
<text x="1168" y="1124.8" font-size="41.1" font-weight="bold" text-anchor="middle">Anoxic conditions</text>
<g fill="#bdbdbd" fill-opacity="0.82"><circle cx="292.3" cy="1408.1" r="6.3"/><circle cx="292.3" cy="1413.7" r="6.3"/><circle cx="292.3" cy="1416.4" r="6.3"/><circle cx="292.3" cy="1421.7" r="6.3"/><circle cx="292.3" cy="1424.5" r="6.3"/><circle cx="292.3" cy="1428.6" r="6.3"/><circle cx="292.3" cy="1431.3" r="6.3"/><circle cx="292.3" cy="1436.8" r="6.3"/><circle cx="292.3" cy="1439.2" r="6.3"/><circle cx="292.3" cy="1445.4" r="6.3"/><circle cx="292.3" cy="1448.5" r="6.3"/><circle cx="292.3" cy="1452.7" r="6.3"/><circle cx="292.3" cy="1456.2" r="6.3"/><circle cx="292.3" cy="1458.4" r="6.3"/><circle cx="292.3" cy="1462.9" r="6.3"/><circle cx="292.3" cy="1468.3" r="6.3"/><circle cx="292.3" cy="1471.1" r="6.3"/><circle cx="292.3" cy="1475.6" r="6.3"/><circle cx="292.3" cy="1479.6" r="6.3"/><circle cx="292.3" cy="1483.8" r="6.3"/><circle cx="292.3" cy="1485.3" r="6.3"/><circle cx="292.3" cy="1489.4" r="6.3"/><circle cx="292.3" cy="1494.7" r="6.3"/><circle cx="292.3" cy="1498.9" r="6.3"/><circle cx="292.3" cy="1502.1" r="6.3"/><circle cx="292.3" cy="1507.4" r="6.3"/><circle cx="292.3" cy="1510.5" r="6.3"/><circle cx="292.3" cy="1513.9" r="6.3"/><circle cx="292.3" cy="1516.5" r="6.3"/><circle cx="292.3" cy="1521.7" r="6.3"/><circle cx="292.3" cy="1524.8" r="6.3"/><circle cx="292.3" cy="1530.5" r="6.3"/><circle cx="292.3" cy="1532.7" r="6.3"/><circle cx="292.3" cy="1538.2" r="6.3"/><circle cx="292.3" cy="1325.2" r="6.3"/><circle cx="292.3" cy="1359.6" r="6.3"/><circle cx="292.3" cy="1365.3" r="6.3"/><circle cx="292.3" cy="1376.7" r="6.3"/><circle cx="292.3" cy="1393.9" r="6.3"/><circle cx="292.3" cy="1577.1" r="6.3"/><circle cx="454.1" cy="1322.5" r="6.3"/><circle cx="461.7" cy="1322.5" r="6.3"/><circle cx="433.1" cy="1336.7" r="6.3"/><circle cx="446.5" cy="1334.0" r="6.3"/><circle cx="427.4" cy="1342.4" r="6.3"/><circle cx="440.8" cy="1349.3" r="6.3"/><circle cx="457.9" cy="1342.4" r="6.3"/><circle cx="463.7" cy="1336.7" r="6.3"/><circle cx="475.1" cy="1337.8" r="6.3"/><circle cx="510.6" cy="1337.0" r="6.3"/><circle cx="464.8" cy="1348.1" r="6.3"/><circle cx="446.5" cy="1361.5" r="6.3"/><circle cx="485.4" cy="1358.4" r="6.3"/><circle cx="362.9" cy="1376.7" r="6.3"/><circle cx="555.2" cy="1376.7" r="6.3"/><circle cx="449.5" cy="1388.9" r="6.3"/><circle cx="523.6" cy="1390.5" r="6.3"/><circle cx="543.8" cy="1390.5" r="6.3"/><circle cx="428.5" cy="1411.8" r="6.3"/><circle cx="411.0" cy="1415.3" r="6.3"/><circle cx="503.7" cy="1415.3" r="6.3"/><circle cx="518.2" cy="1415.3" r="6.3"/><circle cx="357.2" cy="1424.4" r="6.3"/><circle cx="386.2" cy="1424.4" r="6.3"/><circle cx="471.7" cy="1429.0" r="6.3"/><circle cx="504.5" cy="1435.9" r="6.3"/><circle cx="368.6" cy="1439.7" r="6.3"/><circle cx="396.9" cy="1445.4" r="6.3"/><circle cx="452.2" cy="1445.4" r="6.3"/><circle cx="504.5" cy="1447.3" r="6.3"/><circle cx="368.6" cy="1447.3" r="6.3"/><circle cx="377.0" cy="1456.9" r="6.3"/><circle cx="507.5" cy="1458.8" r="6.3"/><circle cx="411.0" cy="1462.6" r="6.3"/><circle cx="466.3" cy="1462.6" r="6.3"/><circle cx="501.8" cy="1462.6" r="6.3"/><circle cx="516.3" cy="1462.6" r="6.3"/><circle cx="385.4" cy="1469.1" r="6.3"/><circle cx="335.1" cy="1469.1" r="6.3"/><circle cx="339.6" cy="1476.0" r="6.3"/><circle cx="343.4" cy="1479.8" r="6.3"/><circle cx="347.3" cy="1484.3" r="6.3"/><circle cx="351.1" cy="1488.2" r="6.3"/><circle cx="354.9" cy="1492.0" r="6.3"/><circle cx="358.7" cy="1495.8" r="6.3"/><circle cx="363.3" cy="1500.8" r="6.3"/><circle cx="383.5" cy="1479.8" r="6.3"/><circle cx="389.2" cy="1483.6" r="6.3"/><circle cx="395.0" cy="1488.2" r="6.3"/><circle cx="400.7" cy="1492.0" r="6.3"/><circle cx="421.7" cy="1484.3" r="6.3"/><circle cx="411.4" cy="1490.5" r="6.3"/><circle cx="436.2" cy="1493.1" r="6.3"/><circle cx="488.5" cy="1480.5" r="6.3"/><circle cx="545.7" cy="1480.5" r="6.3"/><circle cx="452.2" cy="1496.9" r="6.3"/><circle cx="470.5" cy="1496.9" r="6.3"/><circle cx="496.1" cy="1496.9" r="6.3"/><circle cx="505.6" cy="1496.9" r="6.3"/><circle cx="416.7" cy="1501.5" r="6.3"/><circle cx="428.2" cy="1502.7" r="6.3"/><circle cx="481.6" cy="1502.7" r="6.3"/><circle cx="376.6" cy="1508.4" r="6.3"/><circle cx="438.8" cy="1513.3" r="6.3"/><circle cx="452.2" cy="1513.3" r="6.3"/><circle cx="501.0" cy="1513.0" r="6.3"/><circle cx="531.2" cy="1513.0" r="6.3"/><circle cx="448.4" cy="1536.2" r="6.3"/><circle cx="482.0" cy="1532.4" r="6.3"/><circle cx="536.2" cy="1560.7" r="6.3"/></g>
<g fill="#1c1cf6" fill-opacity="0.92"><circle cx="329.7" cy="1189.0" r="6.3"/><circle cx="342.3" cy="1291.6" r="6.3"/><circle cx="345.4" cy="1308.8" r="6.3"/><circle cx="420.9" cy="1303.5" r="6.3"/><circle cx="292.3" cy="1308.8" r="6.3"/><circle cx="292.3" cy="1314.9" r="6.3"/></g>
<path d="M557.1 1170V1596M271 1320.3H740" stroke="#737373" stroke-width="2" stroke-dasharray="7.6 3.5" fill="none"/>
<rect x="271" y="1170" width="469" height="426" fill="none" stroke="#000" stroke-width="2.2"/>
<text x="292.3" y="1639" font-size="37" text-anchor="middle">0.00</text>
<text x="398.8" y="1639" font-size="37" text-anchor="middle">0.25</text>
<text x="505.2" y="1639" font-size="37" text-anchor="middle">0.50</text>
<text x="612" y="1639" font-size="37" text-anchor="middle">0.75</text>
<text x="719" y="1639" font-size="37" text-anchor="middle">1.00</text>
<text x="222.9" y="1241" font-size="37" text-anchor="middle">4.00</text>
<text x="222.9" y="1361" font-size="37" text-anchor="middle">2.00</text>
<text x="222.9" y="1480.5" font-size="37" text-anchor="middle">0.00</text>
<text x="221.3" y="1597.3" font-size="37" text-anchor="middle">−2.00</text>
<path d="M292.3 1596v3.5M398.8 1596v3.5M505.2 1596v3.5M612.0 1596v3.5M719.0 1596v3.5M271 1230.0h-3.5M271 1350.0h-3.5M271 1469.5h-3.5M271 1590.0h-3.5" stroke="#000" stroke-width="1.5" fill="none"/>
<text x="696.8" y="1216.6" font-size="50" text-anchor="middle">(7)</text>
<g fill="#bdbdbd" fill-opacity="0.82"><circle cx="951.2" cy="1425.3" r="6.3"/><circle cx="951.2" cy="1428.3" r="6.3"/><circle cx="951.2" cy="1432.4" r="6.3"/><circle cx="951.2" cy="1437.8" r="6.3"/><circle cx="951.2" cy="1442.4" r="6.3"/><circle cx="951.2" cy="1444.5" r="6.3"/><circle cx="951.2" cy="1450.5" r="6.3"/><circle cx="951.2" cy="1455.2" r="6.3"/><circle cx="951.2" cy="1458.6" r="6.3"/><circle cx="951.2" cy="1463.8" r="6.3"/><circle cx="951.2" cy="1466.4" r="6.3"/><circle cx="951.2" cy="1470.9" r="6.3"/><circle cx="951.2" cy="1475.8" r="6.3"/><circle cx="951.2" cy="1479.4" r="6.3"/><circle cx="951.2" cy="1482.5" r="6.3"/><circle cx="951.2" cy="1488.1" r="6.3"/><circle cx="951.2" cy="1491.2" r="6.3"/><circle cx="951.2" cy="1495.7" r="6.3"/><circle cx="951.2" cy="1500.6" r="6.3"/><circle cx="951.2" cy="1504.6" r="6.3"/><circle cx="951.2" cy="1509.9" r="6.3"/><circle cx="951.2" cy="1512.4" r="6.3"/><circle cx="951.2" cy="1515.8" r="6.3"/><circle cx="951.2" cy="1520.7" r="6.3"/><circle cx="951.2" cy="1525.0" r="6.3"/><circle cx="951.2" cy="1530.6" r="6.3"/><circle cx="951.2" cy="1535.4" r="6.3"/><circle cx="951.2" cy="1536.9" r="6.3"/><circle cx="951.2" cy="1542.7" r="6.3"/><circle cx="951.2" cy="1547.5" r="6.3"/><circle cx="951.2" cy="1550.6" r="6.3"/><circle cx="951.2" cy="1554.4" r="6.3"/><circle cx="951.2" cy="1558.6" r="6.3"/><circle cx="951.2" cy="1564.1" r="6.3"/><circle cx="951.2" cy="1573.7" r="6.3"/><circle cx="951.2" cy="1581.6" r="6.3"/><circle cx="971.8" cy="1418.9" r="6.3"/><circle cx="973.8" cy="1429.9" r="6.3"/><circle cx="1076.2" cy="1438.1" r="6.3"/><circle cx="1015.6" cy="1450.4" r="6.3"/><circle cx="1023.2" cy="1449.4" r="6.3"/><circle cx="1123.5" cy="1457.3" r="6.3"/><circle cx="1150.5" cy="1457.3" r="6.3"/><circle cx="1150.5" cy="1469.2" r="6.3"/><circle cx="1085.8" cy="1480.2" r="6.3"/><circle cx="1096.8" cy="1481.9" r="6.3"/><circle cx="1127.9" cy="1481.9" r="6.3"/><circle cx="1146.4" cy="1481.9" r="6.3"/><circle cx="1153.3" cy="1489.8" r="6.3"/><circle cx="1158.4" cy="1494.9" r="6.3"/><circle cx="1186.5" cy="1481.9" r="6.3"/><circle cx="1054.0" cy="1500.1" r="6.3"/><circle cx="998.2" cy="1502.5" r="6.3"/><circle cx="1002.6" cy="1508.6" r="6.3"/><circle cx="1006.0" cy="1513.8" r="6.3"/><circle cx="1010.1" cy="1517.2" r="6.3"/><circle cx="1014.6" cy="1520.6" r="6.3"/><circle cx="1019.0" cy="1524.0" r="6.3"/><circle cx="1023.8" cy="1527.5" r="6.3"/><circle cx="1028.3" cy="1530.9" r="6.3"/><circle cx="1034.1" cy="1534.3" r="6.3"/><circle cx="1043.0" cy="1537.1" r="6.3"/><circle cx="1048.2" cy="1514.8" r="6.3"/><circle cx="1067.7" cy="1510.3" r="6.3"/><circle cx="1079.7" cy="1513.8" r="6.3"/><circle cx="1085.8" cy="1515.5" r="6.3"/><circle cx="1102.6" cy="1506.2" r="6.3"/><circle cx="1109.5" cy="1511.4" r="6.3"/><circle cx="1148.2" cy="1506.9" r="6.3"/><circle cx="1156.0" cy="1506.9" r="6.3"/><circle cx="1160.8" cy="1506.9" r="6.3"/><circle cx="1189.9" cy="1507.6" r="6.3"/><circle cx="1184.8" cy="1512.1" r="6.3"/><circle cx="1060.8" cy="1522.3" r="6.3"/><circle cx="1068.4" cy="1525.8" r="6.3"/><circle cx="1075.2" cy="1528.5" r="6.3"/><circle cx="1085.8" cy="1522.3" r="6.3"/><circle cx="1085.8" cy="1533.3" r="6.3"/><circle cx="1108.8" cy="1524.0" r="6.3"/><circle cx="1108.8" cy="1530.9" r="6.3"/><circle cx="1108.8" cy="1537.7" r="6.3"/><circle cx="1108.8" cy="1553.2" r="6.3"/><circle cx="1120.8" cy="1534.3" r="6.3"/><circle cx="1122.5" cy="1542.9" r="6.3"/><circle cx="1122.5" cy="1548.0" r="6.3"/><circle cx="1137.9" cy="1530.9" r="6.3"/><circle cx="1137.9" cy="1537.7" r="6.3"/><circle cx="1137.9" cy="1546.3" r="6.3"/><circle cx="1137.9" cy="1556.6" r="6.3"/><circle cx="1149.9" cy="1529.2" r="6.3"/><circle cx="1150.5" cy="1534.3" r="6.3"/><circle cx="1156.7" cy="1520.6" r="6.3"/><circle cx="1160.8" cy="1532.6" r="6.3"/><circle cx="1160.8" cy="1539.5" r="6.3"/><circle cx="1160.8" cy="1549.7" r="6.3"/><circle cx="1160.8" cy="1554.9" r="6.3"/><circle cx="1161.8" cy="1560.0" r="6.3"/><circle cx="1175.5" cy="1529.2" r="6.3"/><circle cx="1187.5" cy="1524.0" r="6.3"/><circle cx="1189.2" cy="1532.6" r="6.3"/><circle cx="1191.0" cy="1541.2" r="6.3"/><circle cx="1199.5" cy="1520.6" r="6.3"/><circle cx="1201.2" cy="1534.3" r="6.3"/><circle cx="1207.4" cy="1534.3" r="6.3"/></g>
<g fill="#f23232" fill-opacity="0.92"><circle cx="1213.6" cy="1482.3" r="6.3"/><circle cx="1230.7" cy="1507.9" r="6.3"/><circle cx="1215.6" cy="1521.3" r="6.3"/><circle cx="1214.2" cy="1531.9" r="6.3"/><circle cx="1214.2" cy="1539.5" r="6.3"/></g>
<g fill="#1c1cf6" fill-opacity="0.92"><circle cx="985.5" cy="1189.8" r="6.3"/><circle cx="1185.8" cy="1276.1" r="6.3"/><circle cx="1098.2" cy="1339.8" r="6.3"/><circle cx="951.2" cy="1350.1" r="6.3"/><circle cx="951.2" cy="1360.7" r="6.3"/><circle cx="951.2" cy="1363.1" r="6.3"/><circle cx="1109.8" cy="1353.5" r="6.3"/><circle cx="1112.2" cy="1353.5" r="6.3"/><circle cx="1137.5" cy="1350.4" r="6.3"/><circle cx="1156.7" cy="1361.7" r="6.3"/><circle cx="1155.7" cy="1384.3" r="6.3"/><circle cx="951.2" cy="1389.8" r="6.3"/><circle cx="986.2" cy="1396.0" r="6.3"/><circle cx="1016.3" cy="1396.0" r="6.3"/></g>
<path d="M1212.2 1170V1601M930 1401.8H1393" stroke="#737373" stroke-width="2" stroke-dasharray="7.6 3.5" fill="none"/>
<rect x="930" y="1170" width="463" height="431" fill="none" stroke="#000" stroke-width="2.2"/>
<text x="951.2" y="1644" font-size="37" text-anchor="middle">0.00</text>
<text x="1056.4" y="1644" font-size="37" text-anchor="middle">0.25</text>
<text x="1161.8" y="1644" font-size="37" text-anchor="middle">0.50</text>
<text x="1267" y="1644" font-size="37" text-anchor="middle">0.75</text>
<text x="1372.5" y="1644" font-size="37" text-anchor="middle">1.00</text>
<text x="884.5" y="1300.5" font-size="37" text-anchor="middle">5.00</text>
<text x="884.5" y="1415.3" font-size="37" text-anchor="middle">2.50</text>
<text x="884.5" y="1530.0" font-size="37" text-anchor="middle">0.00</text>
<path d="M951.2 1601v3.5M1056.4 1601v3.5M1161.8 1601v3.5M1267.0 1601v3.5M1372.5 1601v3.5M930 1287.0h-3.5M930 1401.8h-3.5M930 1516.5h-3.5" stroke="#000" stroke-width="1.5" fill="none"/>
<text x="1334.8" y="1215.5" font-size="50" text-anchor="middle">(19)</text>
<text x="890.5" y="1188" font-size="37" text-anchor="end">7.50</text>
<g fill="#bdbdbd" fill-opacity="0.82"><circle cx="290.0" cy="1784.0" r="6.3"/><circle cx="290.0" cy="1790.3" r="6.3"/><circle cx="290.0" cy="1794.5" r="6.3"/><circle cx="290.0" cy="1800.3" r="6.3"/><circle cx="290.0" cy="1806.4" r="6.3"/><circle cx="290.0" cy="1812.1" r="6.3"/><circle cx="290.0" cy="1815.2" r="6.3"/><circle cx="290.0" cy="1822.8" r="6.3"/><circle cx="290.0" cy="1827.5" r="6.3"/><circle cx="290.0" cy="1831.5" r="6.3"/><circle cx="290.0" cy="1837.1" r="6.3"/><circle cx="290.0" cy="1841.5" r="6.3"/><circle cx="290.0" cy="1848.2" r="6.3"/><circle cx="290.0" cy="1852.4" r="6.3"/><circle cx="290.0" cy="1859.6" r="6.3"/><circle cx="290.0" cy="1864.5" r="6.3"/><circle cx="290.0" cy="1869.3" r="6.3"/><circle cx="290.0" cy="1873.8" r="6.3"/><circle cx="290.0" cy="1878.9" r="6.3"/><circle cx="290.0" cy="1886.0" r="6.3"/><circle cx="290.0" cy="1889.3" r="6.3"/><circle cx="290.0" cy="1894.7" r="6.3"/><circle cx="290.0" cy="1900.6" r="6.3"/><circle cx="290.0" cy="1904.2" r="6.3"/><circle cx="290.0" cy="1910.6" r="6.3"/><circle cx="290.0" cy="1917.0" r="6.3"/><circle cx="290.0" cy="1921.9" r="6.3"/><circle cx="290.0" cy="1925.3" r="6.3"/><circle cx="290.0" cy="1931.8" r="6.3"/><circle cx="290.0" cy="1936.4" r="6.3"/><circle cx="290.0" cy="1942.1" r="6.3"/><circle cx="290.0" cy="1948.6" r="6.3"/><circle cx="290.0" cy="1953.2" r="6.3"/><circle cx="290.0" cy="1957.0" r="6.3"/><circle cx="290.0" cy="1964.0" r="6.3"/><circle cx="290.0" cy="1967.8" r="6.3"/><circle cx="290.0" cy="1973.4" r="6.3"/><circle cx="290.0" cy="1979.1" r="6.3"/><circle cx="290.0" cy="1986.3" r="6.3"/><circle cx="290.0" cy="1990.8" r="6.3"/><circle cx="290.0" cy="1995.7" r="6.3"/><circle cx="290.0" cy="2002.0" r="6.3"/><circle cx="290.0" cy="2006.6" r="6.3"/><circle cx="290.0" cy="2010.2" r="6.3"/><circle cx="290.0" cy="2015.4" r="6.3"/><circle cx="290.0" cy="2022.8" r="6.3"/><circle cx="290.0" cy="2026.0" r="6.3"/><circle cx="290.0" cy="2030.7" r="6.3"/><circle cx="290.0" cy="2037.0" r="6.3"/><circle cx="290.0" cy="2043.9" r="6.3"/><circle cx="290.0" cy="2049.5" r="6.3"/><circle cx="290.0" cy="2052.3" r="6.3"/><circle cx="290.0" cy="2058.1" r="6.3"/><circle cx="290.0" cy="2063.4" r="6.3"/><circle cx="290.0" cy="2068.2" r="6.3"/><circle cx="290.0" cy="2074.8" r="6.3"/><circle cx="290.0" cy="2080.9" r="6.3"/><circle cx="290.0" cy="2085.0" r="6.3"/><circle cx="290.0" cy="2090.7" r="6.3"/><circle cx="290.0" cy="2095.5" r="6.3"/><circle cx="363.7" cy="1773.0" r="6.3"/><circle cx="362.5" cy="1801.3" r="6.3"/><circle cx="400.7" cy="1801.3" r="6.3"/><circle cx="411.0" cy="1836.8" r="6.3"/><circle cx="340.8" cy="1847.4" r="6.3"/><circle cx="379.7" cy="1847.4" r="6.3"/><circle cx="313.7" cy="1857.0" r="6.3"/><circle cx="466.7" cy="1863.5" r="6.3"/><circle cx="396.1" cy="1872.3" r="6.3"/><circle cx="457.2" cy="1879.9" r="6.3"/><circle cx="318.6" cy="1887.5" r="6.3"/><circle cx="343.4" cy="1884.5" r="6.3"/><circle cx="383.5" cy="1883.7" r="6.3"/><circle cx="389.2" cy="1889.8" r="6.3"/><circle cx="435.0" cy="1886.4" r="6.3"/><circle cx="421.7" cy="1898.2" r="6.3"/><circle cx="321.3" cy="1908.5" r="6.3"/><circle cx="348.4" cy="1908.9" r="6.3"/><circle cx="322.5" cy="1916.1" r="6.3"/><circle cx="428.2" cy="1911.2" r="6.3"/><circle cx="435.0" cy="1932.5" r="6.3"/><circle cx="382.8" cy="1945.1" r="6.3"/><circle cx="442.7" cy="1953.9" r="6.3"/><circle cx="467.5" cy="1953.9" r="6.3"/><circle cx="512.1" cy="1964.6" r="6.3"/><circle cx="333.1" cy="1970.3" r="6.3"/><circle cx="337.7" cy="1982.9" r="6.3"/><circle cx="343.4" cy="1994.7" r="6.3"/><circle cx="379.7" cy="1987.9" r="6.3"/><circle cx="388.5" cy="1994.0" r="6.3"/><circle cx="424.7" cy="1996.7" r="6.3"/><circle cx="469.4" cy="1987.9" r="6.3"/><circle cx="428.2" cy="2008.1" r="6.3"/><circle cx="512.1" cy="2008.5" r="6.3"/><circle cx="378.9" cy="2017.6" r="6.3"/><circle cx="400.7" cy="2015.4" r="6.3"/><circle cx="409.1" cy="2019.2" r="6.3"/><circle cx="416.0" cy="2025.7" r="6.3"/><circle cx="435.0" cy="2017.6" r="6.3"/><circle cx="496.9" cy="2018.8" r="6.3"/><circle cx="435.0" cy="2034.4" r="6.3"/><circle cx="515.9" cy="2027.9" r="6.3"/><circle cx="515.2" cy="2034.4" r="6.3"/><circle cx="491.5" cy="2037.9" r="6.3"/><circle cx="379.7" cy="2038.3" r="6.3"/><circle cx="389.2" cy="2038.3" r="6.3"/><circle cx="379.7" cy="2044.7" r="6.3"/><circle cx="389.2" cy="2043.2" r="6.3"/><circle cx="400.7" cy="2049.7" r="6.3"/><circle cx="491.5" cy="2050.1" r="6.3"/><circle cx="400.7" cy="2060.0" r="6.3"/><circle cx="491.5" cy="2061.9" r="6.3"/><circle cx="515.9" cy="2061.5" r="6.3"/><circle cx="416.0" cy="2066.9" r="6.3"/><circle cx="512.1" cy="2073.4" r="6.3"/><circle cx="416.0" cy="2081.4" r="6.3"/><circle cx="491.5" cy="2105.0" r="6.3"/><circle cx="459.8" cy="2124.1" r="6.3"/></g>
<g fill="#1c1cf6" fill-opacity="0.92"><circle cx="290.0" cy="1720.8" r="6.3"/><circle cx="306.4" cy="1761.6" r="6.3"/><circle cx="335.1" cy="1754.7" r="6.3"/><circle cx="335.8" cy="1760.8" r="6.3"/><circle cx="354.9" cy="1758.5" r="6.3"/><circle cx="350.3" cy="1767.7" r="6.3"/></g>
<path d="M558.3 1709.5V2144M268.5 1767.7H745" stroke="#737373" stroke-width="2" stroke-dasharray="7.6 3.5" fill="none"/>
<rect x="268.5" y="1709.5" width="476.5" height="434.5" fill="none" stroke="#000" stroke-width="2.2"/>
<text x="290" y="2186" font-size="37" text-anchor="middle">0.00</text>
<text x="397" y="2186" font-size="37" text-anchor="middle">0.25</text>
<text x="504.5" y="2186" font-size="37" text-anchor="middle">0.50</text>
<text x="611.5" y="2186" font-size="37" text-anchor="middle">0.75</text>
<text x="718.5" y="2186" font-size="37" text-anchor="middle">1.00</text>
<text x="220.2" y="1750.2" font-size="37" text-anchor="middle">3.00</text>
<text x="220.2" y="1828.8" font-size="37" text-anchor="middle">2.00</text>
<text x="220.2" y="1908.5" font-size="37" text-anchor="middle">1.00</text>
<text x="220.2" y="1987.5" font-size="37" text-anchor="middle">0.00</text>
<text x="218.2" y="2066.9" font-size="37" text-anchor="middle">−1.00</text>
<text x="218.2" y="2146.8" font-size="37" text-anchor="middle">−2.00</text>
<path d="M290.0 2144v3.5M397.0 2144v3.5M504.5 2144v3.5M611.5 2144v3.5M718.5 2144v3.5M268.5 1738.7h-3.5M268.5 1817.3h-3.5M268.5 1897.0h-3.5M268.5 1976.0h-3.5M268.5 2055.4h-3.5M268.5 2134.8h-3.5" stroke="#000" stroke-width="1.5" fill="none"/>
<text x="702" y="1754.2" font-size="50" text-anchor="middle">(6)</text>
<g fill="#bdbdbd" fill-opacity="0.82"><circle cx="946.4" cy="1891.3" r="6.3"/><circle cx="946.4" cy="1893.5" r="6.3"/><circle cx="946.4" cy="1898.5" r="6.3"/><circle cx="946.4" cy="1900.9" r="6.3"/><circle cx="946.4" cy="1905.9" r="6.3"/><circle cx="946.4" cy="1907.5" r="6.3"/><circle cx="946.4" cy="1911.4" r="6.3"/><circle cx="946.4" cy="1917.3" r="6.3"/><circle cx="946.4" cy="1920.4" r="6.3"/><circle cx="946.4" cy="1922.6" r="6.3"/><circle cx="946.4" cy="1926.5" r="6.3"/><circle cx="946.4" cy="1930.7" r="6.3"/><circle cx="946.4" cy="1936.0" r="6.3"/><circle cx="946.4" cy="1937.5" r="6.3"/><circle cx="946.4" cy="1942.3" r="6.3"/><circle cx="946.4" cy="1946.9" r="6.3"/><circle cx="946.4" cy="1950.0" r="6.3"/><circle cx="946.4" cy="1954.5" r="6.3"/><circle cx="946.4" cy="1958.6" r="6.3"/><circle cx="946.4" cy="1961.1" r="6.3"/><circle cx="946.4" cy="1964.7" r="6.3"/><circle cx="946.4" cy="1969.0" r="6.3"/><circle cx="946.4" cy="1972.5" r="6.3"/><circle cx="946.4" cy="1977.0" r="6.3"/><circle cx="946.4" cy="1978.2" r="6.3"/><circle cx="946.4" cy="1983.0" r="6.3"/><circle cx="946.4" cy="1987.9" r="6.3"/><circle cx="946.4" cy="1989.8" r="6.3"/><circle cx="946.4" cy="1995.0" r="6.3"/><circle cx="946.4" cy="1997.9" r="6.3"/><circle cx="946.4" cy="2002.9" r="6.3"/><circle cx="946.4" cy="2005.5" r="6.3"/><circle cx="946.4" cy="2010.8" r="6.3"/><circle cx="946.4" cy="2013.0" r="6.3"/><circle cx="946.4" cy="2017.0" r="6.3"/><circle cx="946.4" cy="2020.8" r="6.3"/><circle cx="946.4" cy="2025.9" r="6.3"/><circle cx="946.4" cy="2029.4" r="6.3"/><circle cx="946.4" cy="2031.1" r="6.3"/><circle cx="946.4" cy="2034.9" r="6.3"/><circle cx="946.4" cy="2040.5" r="6.3"/><circle cx="946.4" cy="2043.7" r="6.3"/><circle cx="946.4" cy="2046.9" r="6.3"/><circle cx="946.4" cy="2051.2" r="6.3"/><circle cx="946.4" cy="2053.1" r="6.3"/><circle cx="946.4" cy="2057.6" r="6.3"/><circle cx="946.4" cy="2063.0" r="6.3"/><circle cx="946.4" cy="2065.3" r="6.3"/><circle cx="946.4" cy="2070.3" r="6.3"/><circle cx="946.4" cy="2073.5" r="6.3"/><circle cx="946.4" cy="2076.1" r="6.3"/><circle cx="946.4" cy="2080.1" r="6.3"/><circle cx="946.4" cy="2084.7" r="6.3"/><circle cx="946.4" cy="2088.0" r="6.3"/><circle cx="946.4" cy="2090.2" r="6.3"/><circle cx="946.4" cy="2096.1" r="6.3"/><circle cx="946.4" cy="2098.4" r="6.3"/><circle cx="946.4" cy="2102.9" r="6.3"/><circle cx="946.4" cy="2106.0" r="6.3"/><circle cx="946.4" cy="2110.0" r="6.3"/><circle cx="946.4" cy="2125.2" r="6.3"/><circle cx="1002.8" cy="1904.0" r="6.3"/><circle cx="1006.9" cy="1920.0" r="6.3"/><circle cx="1115.1" cy="1911.4" r="6.3"/><circle cx="970.7" cy="1946.9" r="6.3"/><circle cx="986.7" cy="1957.3" r="6.3"/><circle cx="1011.3" cy="1958.1" r="6.3"/><circle cx="1072.9" cy="1965.5" r="6.3"/><circle cx="1043.1" cy="1969.3" r="6.3"/><circle cx="1114.0" cy="1969.3" r="6.3"/><circle cx="993.8" cy="1979.7" r="6.3"/><circle cx="978.9" cy="1987.9" r="6.3"/><circle cx="980.4" cy="1992.8" r="6.3"/><circle cx="999.0" cy="1995.4" r="6.3"/><circle cx="1037.5" cy="1987.9" r="6.3"/><circle cx="1082.2" cy="1985.7" r="6.3"/><circle cx="1188.6" cy="1981.9" r="6.3"/><circle cx="1024.8" cy="2015.1" r="6.3"/><circle cx="1016.6" cy="2025.2" r="6.3"/><circle cx="1034.9" cy="2029.0" r="6.3"/><circle cx="1050.1" cy="2018.5" r="6.3"/><circle cx="1055.4" cy="2019.6" r="6.3"/><circle cx="1119.6" cy="2018.5" r="6.3"/><circle cx="1171.8" cy="2018.5" r="6.3"/><circle cx="1193.1" cy="2018.5" r="6.3"/><circle cx="1072.9" cy="2037.9" r="6.3"/><circle cx="1089.7" cy="2042.0" r="6.3"/><circle cx="1030.7" cy="2043.9" r="6.3"/><circle cx="1022.5" cy="2055.4" r="6.3"/><circle cx="1030.7" cy="2061.0" r="6.3"/><circle cx="1082.2" cy="2051.3" r="6.3"/><circle cx="1120.3" cy="2033.8" r="6.3"/><circle cx="1125.1" cy="2032.7" r="6.3"/><circle cx="1125.1" cy="2048.7" r="6.3"/><circle cx="1135.2" cy="2050.6" r="6.3"/><circle cx="1135.2" cy="2056.2" r="6.3"/><circle cx="1145.7" cy="2056.2" r="6.3"/><circle cx="1155.0" cy="2043.9" r="6.3"/><circle cx="1158.7" cy="2056.2" r="6.3"/><circle cx="1064.7" cy="2062.9" r="6.3"/><circle cx="1050.5" cy="2070.4" r="6.3"/><circle cx="1064.7" cy="2074.1" r="6.3"/><circle cx="1105.7" cy="2066.6" r="6.3"/><circle cx="1119.6" cy="2074.1" r="6.3"/><circle cx="1135.2" cy="2071.1" r="6.3"/><circle cx="1135.2" cy="2078.6" r="6.3"/><circle cx="1135.2" cy="2084.9" r="6.3"/><circle cx="1155.0" cy="2076.7" r="6.3"/><circle cx="1159.9" cy="2078.6" r="6.3"/><circle cx="1082.2" cy="2079.3" r="6.3"/><circle cx="1105.7" cy="2082.3" r="6.3"/><circle cx="1105.7" cy="2090.5" r="6.3"/><circle cx="1150.5" cy="2089.8" r="6.3"/><circle cx="1158.7" cy="2099.9" r="6.3"/><circle cx="1205.4" cy="2063.7" r="6.3"/><circle cx="1158.7" cy="2125.2" r="6.3"/></g>
<g fill="#f23232" fill-opacity="0.92"><circle cx="1213.2" cy="2018.1" r="6.3"/></g>
<g fill="#1c1cf6" fill-opacity="0.92"><circle cx="946.4" cy="1727.1" r="6.3"/><circle cx="969.2" cy="1774.5" r="6.3"/><circle cx="946.4" cy="1784.2" r="6.3"/><circle cx="966.9" cy="1798.7" r="6.3"/><circle cx="946.4" cy="1806.6" r="6.3"/><circle cx="959.1" cy="1806.6" r="6.3"/><circle cx="967.7" cy="1813.3" r="6.3"/><circle cx="946.4" cy="1814.8" r="6.3"/><circle cx="995.7" cy="1820.0" r="6.3"/><circle cx="946.4" cy="1829.7" r="6.3"/><circle cx="946.4" cy="1842.4" r="6.3"/><circle cx="946.4" cy="1847.2" r="6.3"/><circle cx="946.4" cy="1861.0" r="6.3"/><circle cx="946.4" cy="1874.5" r="6.3"/><circle cx="946.4" cy="1881.9" r="6.3"/><circle cx="972.9" cy="1874.1" r="6.3"/><circle cx="995.7" cy="1866.6" r="6.3"/><circle cx="1033.0" cy="1874.5" r="6.3"/><circle cx="1135.2" cy="1882.3" r="6.3"/></g>
<path d="M1210.2 1707.5V2144.5M925 1884.6H1393" stroke="#737373" stroke-width="2" stroke-dasharray="7.6 3.5" fill="none"/>
<rect x="925" y="1707.5" width="468" height="437.0" fill="none" stroke="#000" stroke-width="2.2"/>
<text x="932.6" y="2187.2" font-size="37" text-anchor="middle">0.00</text>
<text x="1040.6" y="2187.2" font-size="37" text-anchor="middle">0.25</text>
<text x="1148.7" y="2187.2" font-size="37" text-anchor="middle">0.50</text>
<text x="1256.9" y="2187.2" font-size="37" text-anchor="middle">0.75</text>
<text x="1364.7" y="2187.2" font-size="37" text-anchor="middle">1.00</text>
<text x="911.5" y="1812.5" font-size="37" text-anchor="end">4.00</text>
<text x="911.5" y="1926.2" font-size="37" text-anchor="end">2.00</text>
<text x="911.5" y="2040.0" font-size="37" text-anchor="end">0.00</text>
<text x="911.5" y="2153.5" font-size="37" text-anchor="end">−2.00</text>
<path d="M932.6 2144.5v3.5M1040.6 2144.5v3.5M1148.7 2144.5v3.5M1256.9 2144.5v3.5M1364.7 2144.5v3.5M925 1800.0h-3.5M925 1913.7h-3.5M925 2027.5h-3.5M925 2141.0h-3.5" stroke="#000" stroke-width="1.5" fill="none"/>
<text x="1324.8" y="1767.6" font-size="50" text-anchor="middle">(25)</text>
<text x="491.3" y="2239.4" font-size="50.5">Pi</text>
<text x="1136.8" y="2243.2" font-size="50.5">Pi</text>
<text transform="translate(164 1413.8) rotate(-90)" font-size="50.5">Zi</text>
<text transform="translate(159 1962.6) rotate(-90)" font-size="50.5">Zi</text>
<text transform="translate(86.9 1434) rotate(-90)" font-size="50.5" font-weight="bold">Fen</text>
<text transform="translate(81.1 1986.7) rotate(-90)" font-size="49.5" font-weight="bold">Bog</text>
<circle cx="227.0" cy="2299.7" r="16.8" fill="#c8c8c8" />
<text x="260.5" y="2312" font-size="36">Peripherals</text>
<circle cx="488.5" cy="2297.7" r="16.8" fill="#f53a3a" />
<text x="524.5" y="2310" font-size="36">Connectors</text>
<circle cx="764.5" cy="2299.7" r="16.8" fill="#3636f2" />
<text x="803" y="2310.8" font-size="36">Module hubs</text>
<circle cx="1075.0" cy="2299.5" r="16.8" fill="#b14df0" />
<text x="1113" y="2315.5" font-size="36">Network hubs</text>
<text x="1514" y="1145" font-size="74" font-weight="bold">(c)</text>
<rect x="1641.0" y="1209.0" width="7.0" height="128.5" fill="#aaffff" />
<rect x="1647.7" y="1209.0" width="7.1" height="128.5" fill="#a00000" />
<rect x="1654.5" y="1209.0" width="16.2" height="128.5" fill="#ff4848" />
<rect x="1670.4" y="1209.0" width="6.0" height="128.5" fill="#ff8080" />
<rect x="1641.0" y="1466.0" width="4.2" height="129.5" fill="#1ffbfb" />
<rect x="1644.9" y="1466.0" width="2.0" height="129.5" fill="#aaffff" />
<rect x="1646.6" y="1466.0" width="2.0" height="129.5" fill="#ff8080" />
<rect x="1648.3" y="1466.0" width="79.9" height="129.5" fill="#ffb0b0" />
<rect x="1727.9" y="1466.0" width="305.6" height="129.5" fill="#23466b" />
<rect x="2033.2" y="1466.0" width="5.4" height="129.5" fill="#36679f" />
<rect x="2038.3" y="1466.0" width="12.2" height="129.5" fill="#d0def0" />
<rect x="1641.0" y="1724.0" width="1.9" height="129.5" fill="#2aa88a" />
<rect x="1642.6" y="1724.0" width="12.8" height="129.5" fill="#b88a00" />
<rect x="1655.1" y="1724.0" width="4.3" height="129.5" fill="#444444" />
<rect x="1659.1" y="1724.0" width="3.1" height="129.5" fill="#999999" />
<rect x="1641.0" y="1982.0" width="9.3" height="129.0" fill="#a00000" />
<rect x="1650.0" y="1982.0" width="1.3" height="129.0" fill="#ff4848" />
<rect x="1651.0" y="1982.0" width="21.5" height="129.0" fill="#ff8080" />
<rect x="1672.2" y="1982.0" width="51.4" height="129.0" fill="#ffb0b0" />
<rect x="1723.3" y="1982.0" width="82.8" height="129.0" fill="#23466b" />
<rect x="1805.8" y="1982.0" width="50.3" height="129.0" fill="#d0def0" />
<rect x="1855.8" y="1982.0" width="2.6" height="129.0" fill="#ffecb8" />
<rect x="1858.1" y="1982.0" width="335.1" height="129.0" fill="#413a87" />
<rect x="2192.9" y="1982.0" width="4.9" height="129.0" fill="#9590cf" />
<path d="M1639 2175.5V1143.5H2241V2175.5" stroke="#000" stroke-width="1.6" fill="none"/>
<path d="M1639 2175.5H2241" stroke="#000" stroke-width="1.6" fill="none"/>
<text x="1640.0" y="2240" font-size="35.5" text-anchor="middle">0.0</text>
<text x="1740.3333333333333" y="2240" font-size="35.5" text-anchor="middle">1.5</text>
<text x="1840.6666666666667" y="2240" font-size="35.5" text-anchor="middle">3.0</text>
<text x="1941.0" y="2240" font-size="35.5" text-anchor="middle">4.5</text>
<text x="2041.3333333333333" y="2240" font-size="35.5" text-anchor="middle">6.0</text>
<text x="2141.6666666666665" y="2240" font-size="35.5" text-anchor="middle">7.5</text>
<text x="2242.0" y="2240" font-size="35.5" text-anchor="middle">9.0</text>
<path d="M1639.0 2175.5v19M1739.3 2175.5v19M1839.7 2175.5v19M1940.0 2175.5v19M2040.3 2175.5v19M2140.7 2175.5v19M2241.0 2175.5v19" stroke="#000" stroke-width="1.6" fill="none"/>
<text x="1943.5" y="2308" font-size="37.3" text-anchor="middle">Relative abundance (%)</text>
<text transform="translate(1692.5 1226) rotate(90)" font-size="41">Oxic</text>
<text transform="translate(2061.5 1466.5) rotate(90)" font-size="41">Anoxic</text>
<text transform="translate(1676.5 1748) rotate(90)" font-size="41">Oxic</text>
<text transform="translate(2207.5 1982) rotate(90)" font-size="41">Anoxic</text>
<text transform="translate(1606 1490.5) rotate(-90)" font-size="50" font-weight="bold">Fen</text>
<text transform="translate(1602 1988.7) rotate(-90)" font-size="49.6" font-weight="bold">Bog</text>
<rect x="2259.0" y="1285.0" width="71.0" height="34.8" fill="#999999" />
<text x="2341" y="1313.5" font-size="32">Nitrosomonadales</text>
<rect x="2259.0" y="1325.7" width="71.0" height="34.8" fill="#404040" />
<text x="2341" y="1354.22" font-size="32">Rhizobiales</text>
<rect x="2259.0" y="1366.4" width="71.0" height="34.8" fill="#d0d0e8" />
<text x="2341" y="1394.94" font-size="32">Burkholderiales</text>
<rect x="2259.0" y="1407.2" width="71.0" height="34.8" fill="#9590cf" />
<text x="2341" y="1435.66" font-size="32">Bacillales</text>
<rect x="2259.0" y="1447.9" width="71.0" height="34.8" fill="#413a87" />
<text x="2341" y="1476.38" font-size="32">Sphingobacteriales</text>
<rect x="2259.0" y="1488.6" width="71.0" height="34.8" fill="#ffecb8" />
<text x="2341" y="1517.1" font-size="32">Erysipelotrichales</text>
<rect x="2259.0" y="1529.3" width="71.0" height="34.8" fill="#ffd65c" />
<text x="2341" y="1557.82" font-size="32">Clostridiales</text>
<rect x="2259.0" y="1570.0" width="71.0" height="34.8" fill="#b88a00" />
<text x="2341" y="1598.54" font-size="32">Burkholderiales</text>
<rect x="2259.0" y="1610.8" width="71.0" height="34.8" fill="#7a5c00" />
<text x="2341" y="1639.26" font-size="32">Acidobacteriales</text>
<rect x="2259.0" y="1651.5" width="71.0" height="34.8" fill="#d0def0" />
<text x="2341" y="1679.98" font-size="32">Rhodobacterales</text>
<rect x="2259.0" y="1692.2" width="71.0" height="34.8" fill="#8fb4d9" />
<text x="2341" y="1720.7" font-size="32">Lactobacillales</text>
<rect x="2259.0" y="1732.9" width="71.0" height="34.8" fill="#36679f" />
<text x="2341" y="1761.42" font-size="32">Cellvibrionales</text>
<rect x="2259.0" y="1773.6" width="71.0" height="34.8" fill="#23466b" />
<text x="2341" y="1802.1399999999999" font-size="32">Alteromonadales</text>
<rect x="2259.0" y="1814.4" width="71.0" height="34.8" fill="#ffb0b0" />
<text x="2341" y="1842.8600000000001" font-size="32">Flavobacteriales</text>
<rect x="2259.0" y="1855.1" width="71.0" height="34.8" fill="#ff8080" />
<text x="2341" y="1883.58" font-size="32">Xanthomonadales</text>
<rect x="2259.0" y="1895.8" width="71.0" height="34.8" fill="#ff4848" />
<text x="2341" y="1924.3" font-size="32">Pseudomonadales</text>
<rect x="2259.0" y="1936.5" width="71.0" height="34.8" fill="#a00000" />
<text x="2341" y="1965.02" font-size="32">Micrococcales</text>
<rect x="2259.0" y="1977.2" width="71.0" height="34.8" fill="#aaffff" />
<text x="2341" y="2005.74" font-size="32">Bacteroidales</text>
<rect x="2259.0" y="2018.0" width="71.0" height="34.8" fill="#1ffbfb" />
<text x="2341" y="2046.46" font-size="32">Clostridiales</text>
</svg>
</body></html>
